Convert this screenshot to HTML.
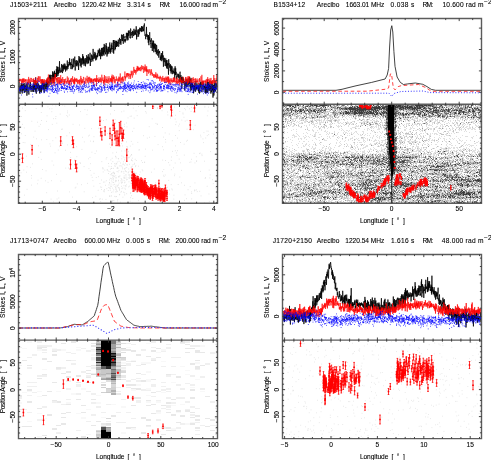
<!DOCTYPE html>
<html><head><meta charset="utf-8"><style>
html,body{margin:0;padding:0;background:#fff;width:491px;height:460px;overflow:hidden}
svg{display:block;will-change:transform}
text{font-family:"Liberation Sans",sans-serif;font-size:6.6px;fill:#000;stroke:#000;stroke-width:0.1px}
</style></head><body>
<svg width="491" height="460" viewBox="0 0 491 460">
<defs><clipPath id="c1"><rect x="18.5" y="18.5" width="199" height="85.8"/></clipPath><clipPath id="c2"><rect x="18.5" y="104.3" width="199" height="99"/></clipPath></defs><g clip-path="url(#c1)"><path d="M18.8 86l0.2-4 0.2 8.4 0.2 0.4 0.2-3.4 0.2 2.2 0.2 4.3 0.2-2.1 0.2-1.2 0.2 0 0.2-5 0.2 5.8 0.2-8.3 0.2 4.2 0.2-0.4 0.2-4.1 0.2 5.2 0.2 5.5 0.2-6.3 0.2-2.8 0.2 3.6 0.2 3 0.2-2.2 0.2-0.6 0.2-4.5 0.2 6.1 0.2-5.1 0.2 7.7 0.2 0.5 0.2-2.6 0.2-7.3 0.2 0.6 0.2 1.1 0.2 4.3 0.2-3.4 0.2 6.6 0.1-3.4 0.2 0.4 0.2 1.2 0.2-1.3 0.2-5.5 0.2 12.1 0.2-3.1 0.2 0.2 0.2-7.2 0.2-3.4 0.2 1 0.2 1.4 0.2 6.1 0.2 0.1 0.2 1.7 0.2 2.1 0.2-5.1 0.2-0.5 0.2-2.3 0.2 0.1 0.2-2.6 0.2 5.2 0.2-0.6 0.2-6.9 0.2 3.4 0.2 3.9 0.2 2.7 0.2-3.9 0.2 0.6 0.2-2.6 0.2 1 0.2-0.3 0.2 0.1 0.2-1 0.2 3.1 0.2 2.8 0.2-7 0.2 7.3 0.2-5.6 0.2 0.1 0.2-5.6 0.2-0.8 0.2 9.8 0.2-5.7 0.2 5.9 0.2-2.4 0.2 0.6 0.2 3.4 0.2-4.4 0.2-9.9 0.2 4.7 0.2 8.4 0.2 3.2 0.2-8.8 0.2 0.4 0.2-2.1 0.2 5.9 0.2-7.2 0.2 1.7 0.2 1.5 0.2 2.6 0.2-1.1 0.2 4.1 0.2-7.2 0.2 0.2 0.2 2.4 0.2 1.4 0.2-1.2 0.2 7.1 0.2-7.9 0.2 3.7 0.2-3.7 0.1 2.8 0.2-2.4 0.2 0.1 0.2 6.2 0.2-6 0.2 6.3 0.2-7.6 0.2 0.9 0.2 4.8 0.2-11 0.2 2.5 0.2 5.1 0.2 1.4 0.2 0.3 0.2-2.8 0.2-3.4 0.2 6.9 0.2-1.2 0.2-7 0.2 5.9 0.2 5.3 0.2-5.2 0.2-4 0.2 2.3 0.2 0.1 0.2 2 0.2 1.5 0.2-5.9 0.2 0.6 0.2 1.1 0.2 2.7 0.2 1.6 0.2-8.9 0.2 1.3 0.2 5.8 0.2-9 0.2 6.4 0.2-1.4 0.2-2.4 0.2 6.5 0.2-4.7 0.2-1.8 0.2 0.8 0.2 1 0.2-5.8 0.2 1.9 0.2-1.5 0.2-2.8 0.2 9.2 0.2 1.1 0.2-1 0.2-9.3 0.2 6.4 0.2 0.6 0.2-4.1 0.2 4 0.2-6.2 0.2-0.1 0.2 0.4 0.2 0.1 0.2-1.1 0.2 5.8 0.2-9.2 0.2 4.3 0.2-0.8 0.2 8.5 0.2-9.9 0.2 4 0.2 4 0.2-9.7 0.2 0.9 0.1 1.4 0.2-3.3 0.2 7.8 0.2-5.5 0.2 4.7 0.2-1.9 0.2-1.7 0.2 2.7 0.2-4.1 0.2 4.1 0.2-7.7 0.2 1.6 0.2 6 0.2-10.6 0.2 8 0.2-3 0.2-4.2 0.2 2.9 0.2 6.1 0.2-9.1 0.2 7.3 0.2-1.3 0.2-3.1 0.2 0.9 0.2 2.4 0.2-4.3 0.2-7.6 0.2 10.1 0.2-3.7 0.2 1.3 0.2 1.4 0.2 2.1 0.2 0.2 0.2-1.7 0.2-0.8 0.2 2.1 0.2-1.8 0.2-6.4 0.2 3.4 0.2-2.2 0.2 6.1 0.2 1.8 0.2-3.1 0.2-4.5 0.2 5.8 0.2-5.8 0.2 3.8 0.2-4.7 0.2-0.7 0.2-0.2 0.2 4.5 0.2-2.3 0.2 3.4 0.2-5.6 0.2 5.6 0.2-3.7 0.2 5.9 0.2-0.8 0.2-4.1 0.2 1 0.2 0.3 0.2 0.6 0.2-2.5 0.2 4.3 0.2-5.2 0.2-4.6 0.2 6.8 0.2-1.2 0.2 2.9 0.2-5 0.2 2.5 0.1-0.1 0.2-0.1 0.2-2.6 0.2-1.8 0.2 1.1 0.2 2.3 0.2-7 0.2 5.7 0.2-1.8 0.2 2.8 0.2-2.4 0.2 2.7 0.2-0.9 0.2 4.7 0.2-5.2 0.2 0.2 0.2 0.8 0.2-5.9 0.2-0.2 0.2 10.4 0.2-3 0.2-1.5 0.2 3.1 0.2-4 0.2-0.3 0.2-0.2 0.2-4.8 0.2 8.5 0.2-3.6 0.2 0.2 0.2-0.8 0.2-4.4 0.2-1.8 0.2 7.6 0.2 6.3 0.2-3.8 0.2-4.1 0.2-2.1 0.2 2.9 0.2 1 0.2-1.6 0.2 3 0.2-5.7 0.2 6.3 0.2-3 0.2-2.3 0.2 0.8 0.2 1.9 0.2 1.3 0.2-2.3 0.2 1.6 0.2 5.6 0.2-12.7 0.2-1.3 0.2 6.6 0.2-3.4 0.2 3.3 0.2-5.5 0.2 5.4 0.2 3.7 0.2-0.7 0.2-7 0.2 2.4 0.2 3.7 0.2 2.9 0.2-8.8 0.2 0.2 0.2 6.1 0.2-4.7 0.2-2.1 0.2 2.3 0.2-4.5 0.1-1.8 0.2 10 0.2-8.2 0.2 7.4 0.2-6.3 0.2 6.2 0.2-1 0.2 3.5 0.2-5.9 0.2-0.4 0.2 0.8 0.2 3.5 0.2-5.7 0.2 1.8 0.2 6.5 0.2-3.7 0.2-0.3 0.2-3.9 0.2 4.2 0.2-6.4 0.2-1 0.2 1.6 0.2 7.3 0.2-4 0.2-3.5 0.2 1.8 0.2 2.4 0.2 2.2 0.2-8.8 0.2 9.2 0.2-1.3 0.2-5.2 0.2 0.9 0.2 2.6 0.2-2.5 0.2 1.2 0.2-3.8 0.2-2.5 0.2 13.2 0.2-7.2 0.2 0.1 0.2 0.8 0.2 2.4 0.2-1.3 0.2-6.2 0.2 2.7 0.2 0.5 0.2 2.1 0.2-4.4 0.2 3 0.2-0.6 0.2 3.5 0.2-12.5 0.2 8.2 0.2 0.7 0.2 1 0.2-2.2 0.2-2.7 0.2 4.6 0.2-1.1 0.2-3.8 0.2-1.7 0.2 5.8 0.2-4.5 0.2 4.6 0.2 2.6 0.2-4.2 0.2 0 0.2-0.4 0.2 3.8 0.2-0.1 0.1-4.2 0.2 2 0.2-2.3 0.2-1.8 0.2 3.9 0.2-2.8 0.2-2.4 0.2-2.1 0.2 3.4 0.2-2 0.2-0.5 0.2 2.5 0.2 3 0.2-7.7 0.2 7.2 0.2-0.9 0.2-5.1 0.2 0.2 0.2 2.8 0.2 6.5 0.2-6.9 0.2 4 0.2-0.5 0.2-7.9 0.2 1 0.2 6.7 0.2-7.1 0.2 7.7 0.2-7.2 0.2-1.3 0.2 3 0.2 3.3 0.2-3.3 0.2 3.9 0.2-7.6 0.2 2.8 0.2 5.9 0.2-11.8 0.2 8.4 0.2-3.8 0.2 0.3 0.2-3.7 0.2 1.3 0.2 7.3 0.2-1.2 0.2 1.9 0.2-3.4 0.2-7.9 0.2 9.2 0.2-6.2 0.2 1.2 0.2 9.2 0.2-3.3 0.2-2 0.2 3.1 0.2-5.6 0.2 2.6 0.2-4.4 0.2 1.4 0.2 1.2 0.2 4.2 0.2-6.9 0.2 5.3 0.2-3.4 0.2-5.5 0.2-0.7 0.2 3.7 0.2 5.3 0.2-2.7 0.2 4.7 0.2-5.2 0.1 3.7 0.2-3.7 0.2-3.7 0.2 4.8 0.2-4.6 0.2-2.1 0.2 1.9 0.2 0.9 0.2 1.9 0.2 1.7 0.2-0.9 0.2 4.4 0.2-12.5 0.2 5.3 0.2 8.3 0.2-13.7 0.2 1.7 0.2 1.4 0.2-0.8 0.2 1.4 0.2 6.6 0.2-9.7 0.2 2 0.2 6.4 0.2-3.6 0.2-3 0.2-1.5 0.2 6.1 0.2-6.1 0.2 5.9 0.2-2.7 0.2-1.1 0.2-1.2 0.2 4.4 0.2-2 0.2-2.3 0.2 1.4 0.2-3.7 0.2 7 0.2 0.2 0.2-0.9 0.2-2.7 0.2 0.5 0.2-5.8 0.2 2.9 0.2 0.2 0.2 0.2 0.2 2.2 0.2-3.3 0.2-1.1 0.2 5.8 0.2-4.8 0.2-1.1 0.2-4.3 0.2 1.9 0.2 3.3 0.2 1.3 0.2-6.3 0.2 5.2 0.2 0.9 0.2-2.7 0.2 1.6 0.2 4 0.2-9.6 0.2-0.1 0.2 3.9 0.2-1.7 0.2 2.4 0.2 2.1 0.2 0.5 0.2-1.9 0.2 3.1 0.1-3.2 0.2 1.8 0.2-2.1 0.2-0.4 0.2-2.5 0.2 1.4 0.2-4.7 0.2 3.6 0.2 0.9 0.2 3.2 0.2-7.4 0.2 5.5 0.2-5.7 0.2 2.7 0.2 4.6 0.2-2.9 0.2-6.6 0.2 5.2 0.2-0.7 0.2-2.9 0.2-1.9 0.2 2.4 0.2-0.5 0.2 5.3 0.2-0.5 0.2 0 0.2 1.3 0.2-9.9 0.2 1.6 0.2 5.7 0.2-3.1 0.2 0 0.2-0.6 0.2 2.8 0.2-0.8 0.2 3.8 0.2-2.6 0.2-4.5 0.2 3 0.2-2.3 0.2 2.6 0.2 2 0.2-1.2 0.2-4.7 0.2-1.4 0.2 6.5 0.2-1.6 0.2 0.2 0.2-3.5 0.2 4.6 0.2-0.1 0.2-3 0.2 2.3 0.2-4.5 0.2 2.4 0.2-5.8 0.2 2.8 0.2 10.3 0.2-5.4 0.2 3 0.2-3.5 0.2-1.1 0.2-0.1 0.2-2 0.2 3.3 0.2-4.4 0.2 2.3 0.2 5.2 0.2-4 0.2-2.9 0.2 4.5 0.1-1.9 0.2-2.1 0.2-2.6 0.2 2.7 0.2-0.8 0.2 1.4 0.2-2.8 0.2 0.2 0.2-0.6 0.2 4.3 0.2-0.4 0.2-5.6 0.2 5.2 0.2-1.2 0.2 1.3 0.2-4.5 0.2 2.2 0.2 0.2 0.2-3 0.2 5.1 0.2-2.4 0.2 1.9 0.2-4.1 0.2-1.3 0.2 0.7 0.2-2.8 0.2 0.3 0.2 8.1 0.2 3.6 0.2-0.4 0.2 0.9 0.2 0.4 0.2 2.9 0.2-5.3 0.2 2.6 0.2-0.4 0.2-9.2 0.2 8.6 0.2 0.1 0.2 1.4 0.2-2.3 0.2-0.2 0.2 1.1 0.2 4.1 0.2-4.4 0.2 7.5 0.2-7.8 0.2 7.6 0.2 2.6 0.2-8.2 0.2 3.2 0.2-4.7 0.2-3.3 0.2 4.5 0.2 4.4 0.2 0.8 0.2-1.6 0.2 3.4 0.2-0.6 0.2 4.9 0.2-9.7 0.2 1.9 0.2 1.1 0.2 0.1 0.2 0.8 0.2 8.8 0.2-8 0.2 3.4 0.2-6 0.2 2.4 0.2 5 0.1 0.7 0.2-7.6 0.2 11.4 0.2-4.7 0.2-3.2 0.2 4 0.2-3 0.2-2.1 0.2 5.3 0.2-0.7 0.2 4 0.2-7.9 0.2 2.4 0.2 2.7 0.2 4.1 0.2 1.1 0.2-9.3 0.2 2.3 0.2 5.7 0.2-2.8 0.2 3.1 0.2 2.2 0.2-1 0.2-4.6 0.2-0.3 0.2-0.5 0.2 7.1 0.2 1.5 0.2-6.2 0.2 1.8 0.2-1 0.2-1.4 0.2 2.2 0.2 0.2 0.2 6.7 0.2-0.8 0.2-2.4 0.2 3.6 0.2-5 0.2 3.5 0.2-4 0.2-1.8 0.2 8.1 0.2-6.3 0.2 2.6 0.2-2 0.2-4.3 0.2 8.3 0.2 0.4 0.2-4.5 0.2 11.3 0.2-1.7 0.2-7 0.2 4.2 0.2-0.5 0.2-2.1 0.2-1.8 0.2 4.2 0.2-0.4 0.2 4.4 0.2-2.9 0.2-3.3 0.2-1.4 0.2 4.8 0.2 3.2 0.2-6.1 0.2 4.4 0.2 3.4 0.2-8 0.2 8.8 0.2-5.6 0.2 1.7 0.1-1.2 0.2 2.9 0.2 0.7 0.2 0.3 0.2 7 0.2-15.5 0.2 6.1 0.2-2.2 0.2 3.5 0.2-1.2 0.2 1.6 0.2 0.9 0.2-1.4 0.2 4.7 0.2-6.9 0.2 3.1 0.2 1.8 0.2 4.3 0.2-7.8 0.2 0.5 0.2 5.5 0.2-1.1 0.2-4.2 0.2 7.8 0.2-2.4 0.2-1.5 0.2 0.3 0.2 1.5 0.2-1.1 0.2 2.2 0.2 0.3 0.2-4 0.2-1.1 0.2 4.9 0.2-1.4 0.2 6.8 0.2-4.4 0.2-8 0.2 8.8 0.2-3.1 0.2-3.8 0.2 6.7 0.2-3.1 0.2 2.8 0.2 4.2 0.2-0.9 0.2-1.9 0.2 0.3 0.2 0.2 0.2-2 0.2-0.8 0.2 1.8 0.2 1.9 0.2-2.6 0.2-0.9 0.2 3.7 0.2-2.6 0.2 5.9 0.2 0.9 0.2-3 0.2-3 0.2-2.7 0.2-1.4 0.2 10.7 0.2-2.6 0.2-2.2 0.2-2.5 0.2 4 0.2 3.4 0.2-1.7 0.2-3.8 0.1 12.1 0.2-7.2 0.2-5.2 0.2 2.7 0.2 2.6 0.2 1.1 0.2-0.9 0.2-4.7 0.2 5 0.2-3.4 0.2 3 0.2-0.4 0.2 2.3 0.2-1.1 0.2-1.6 0.2 9.3 0.2-9 0.2 0 0.2 2.7 0.2 0.3 0.2 1.7 0.2-7.4 0.2 2.9 0.2 5.3 0.2-2.4 0.2 0.2 0.2-5.3 0.2 0 0.2 1.9 0.2 3.4 0.2 1.9 0.2 0.4 0.2-8.9 0.2 5.9 0.2 0.5 0.2-1.5 0.2 0.1 0.2-2.2 0.2 2.4 0.2-6.5 0.2 7.1 0.2 1.3 0.2 2.1 0.2-5.3 0.2-3 0.2 11.7 0.2-13 0.2 3.1 0.2 6.6 0.2 2.2 0.2-6.9 0.2 1.7 0.2-0.2 0.2 2.7 0.2-4.6 0.2 5 0.2 1 0.2-3.3 0.2 0.8 0.2 7.3 0.2-6.5 0.2-2.3 0.2 5 0.2 0.4 0.2-6.2 0.2-0.9 0.2 8.1 0.2-0.7 0.2 0.4 0.2 1.1 0.2-9.2 0.1-1.5 0.2 8.8 0.2-0.2 0.2-2.5 0.2 1.9 0.2-4.8 0.2-0.8 0.2 3 0.2 1.8 0.2 0.7 0.2-2.3 0.2 2.4 0.2 2 0.2-2.3 0.2-3.2 0.2 7.3 0.2-9.4 0.2 4.5 0.2 5.7 0.2-1.2 0.2 0.4 0.2-6.7 0.2-4.4 0.2 4.3 0.2 1.5 0.2-3.9 0.2 0.8 0.2-2.6 0.2 6.7 0.2-0.5 0.2 4.1 0.2-2.4 0.2 0.1 0.2-3.7 0.2-2.6 0.2-2.1 0.2 5.1 0.2-3.9 0.2 5.8 0.2 1.3 0.2-1.4 0.2 0.4 0.2-3 0.2 1.9 0.2-1.5 0.2 0.8 0.2 5.5 0.2-9 0.2 10.1 0.2-1 0.2-2.5 0.2-3.2 0.2 2 0.2-2.1 0.2 6.2 0.2-8.6 0.2 0.5 0.2 3.4 0.2-8.5 0.2 13.3 0.2-6 0.2 3.6 0.2-1.9 0.2-6.5 0.2 6.1 0.2 1.2 0.2-5.4 0.2-2.8 0.2 3.3 0.2 6.2 0.2-6.9 0.2 1.2 0.1 2.8 0.2 0.7 0.2-2.4 0.2 7.3 0.2 0.1 0.2-12.3 0.2 10.9 0.2-2.4 0.2 0.7 0.2 0.4 0.2-7.3 0.2 0.4 0.2 5.9 0.2-4.1 0.2 11.8 0.2-10.8 0.2 4.7 0.2-6.5 0.2 10.6 0.2-0.9 0.2-11.5 0.2 6.4 0.2-0.9 0.2 2.9 0.2-11.4 0.2 7 0.2 4.2 0.2-4.3 0.2-1.1 0.2-2.8 0.2 6.2 0.2-2 0.2-4.2 0.2 5.4 0.2-2.9 0.2 3.4" stroke="#000" stroke-width="0.75" fill="none"/><path d="M18.8 77.7l0.2 0.5 0.2 3.1 0.2-2.2 0.2 3.2 0.2-3.3 0.2 0.5 0.2 1.7 0.2-1.7 0.2-0.6 0.2 1.6 0.2 0.6 0.2-0.2 0.2-0.4 0.2 3.8 0.2-5.3 0.2 1.8 0.2 1.4 0.2-3.6 0.2 4.1 0.2-0.7 0.2-3.3 0.2 4.7 0.2-2.8 0.2-2.1 0.2 3.9 0.2-2.7 0.2-1.1 0.2 3.3 0.2 0 0.2-1.5 0.2-1.1 0.2 3.7 0.2-3.3 0.2 0.9 0.2-0.9 0.1 1.4 0.2-1.9 0.2 2 0.2-0.1 0.2 0.7 0.2 0.4 0.2 2.6 0.2-3.9 0.2 0 0.2-0.8 0.2-0.8 0.2 4.5 0.2-3.8 0.2-2.1 0.2-1 0.2 5.8 0.2-4 0.2 5.2 0.2-1.3 0.2-1.3 0.2-1.7 0.2 0.1 0.2 2.8 0.2-0.9 0.2-1.5 0.2-2.3 0.2 1.5 0.2-1.1 0.2 3.7 0.2-1.6 0.2 0 0.2 0.1 0.2-1.1 0.2 1.3 0.2 1.5 0.2-0.9 0.2 0.8 0.2-3.3 0.2 2.2 0.2-1.7 0.2-0.8 0.2 6.3 0.2-3 0.2 1.6 0.2-3.2 0.2 4.3 0.2 0.4 0.2-4.8 0.2 2.7 0.2-5.3 0.2 2.8 0.2 0.7 0.2 1.1 0.2 0.7 0.2-2.2 0.2 1.5 0.2-1.1 0.2 4.3 0.2-7.4 0.2 2.4 0.2 1.1 0.2 0 0.2-5.1 0.2 3 0.2 3 0.2-0.5 0.2-5.3 0.2 3.7 0.2 1.5 0.2-0.8 0.2-0.6 0.2-3.8 0.1 1.9 0.2 1.7 0.2 3.5 0.2-4 0.2 1.5 0.2-1.9 0.2 1.9 0.2 2.5 0.2-3 0.2 0.1 0.2 2.6 0.2-4.2 0.2 2 0.2-1.6 0.2 3.4 0.2-2.4 0.2 2.8 0.2 1.4 0.2-5.3 0.2 4.2 0.2 0.2 0.2-3.1 0.2-1.2 0.2 3.8 0.2-2.1 0.2-0.9 0.2 1.4 0.2-1 0.2 0.9 0.2 1.5 0.2-1 0.2-2.4 0.2 1.9 0.2-2.4 0.2-0.7 0.2 0.4 0.2 3.9 0.2-5.4 0.2 6.1 0.2 2.4 0.2-1.2 0.2-10.1 0.2 7.8 0.2-0.9 0.2 1.3 0.2 1.1 0.2-2.2 0.2-3.8 0.2 1.9 0.2 1.6 0.2 0.2 0.2 1 0.2-1.2 0.2-0.2 0.2-2 0.2 0.8 0.2 3 0.2-1 0.2 3.4 0.2-6.2 0.2-1.9 0.2 3.2 0.2 3.1 0.2-4 0.2-0.5 0.2 3.4 0.2-1.1 0.2 0.2 0.2-4.3 0.2 1 0.2 7.7 0.1-6.3 0.2 3.7 0.2-5.7 0.2 2.2 0.2-5.7 0.2 4.1 0.2-4.1 0.2 5.2 0.2 1.4 0.2 1.1 0.2 0 0.2-3.7 0.2 2.2 0.2-2.8 0.2 6.8 0.2-1.9 0.2-1.8 0.2-3.4 0.2 6 0.2-3.8 0.2-1.1 0.2-1.1 0.2 7.1 0.2-1.2 0.2-3.2 0.2 2.8 0.2-5.5 0.2 6.6 0.2-2.4 0.2 3.2 0.2-2.5 0.2-2.6 0.2-4.4 0.2 8.2 0.2-4.7 0.2 4.2 0.2 0.4 0.2-4.2 0.2 3.3 0.2 1 0.2-1.9 0.2-1.9 0.2-2.5 0.2 5.1 0.2-1.8 0.2-1.2 0.2 0.5 0.2 0.8 0.2 5.3 0.2-4.9 0.2 2.4 0.2-4.1 0.2 5.1 0.2-3.2 0.2 0.8 0.2-2.1 0.2 0.2 0.2-1.3 0.2 4 0.2 0.6 0.2-0.7 0.2-1.5 0.2 0.4 0.2 2.2 0.2-2.7 0.2-4.5 0.2 5 0.2-1.2 0.2 2.4 0.2-2 0.2-2.1 0.1-0.5 0.2-0.3 0.2 6.3 0.2-3.1 0.2 2.7 0.2 0.3 0.2-3.6 0.2 5.6 0.2-5.3 0.2 1.2 0.2-2.4 0.2 2.4 0.2-1.7 0.2-1.9 0.2 6.5 0.2-2.4 0.2-4 0.2-0.4 0.2 0.9 0.2 3.3 0.2-2.3 0.2-3.6 0.2 3.2 0.2 2.1 0.2-2 0.2 3.4 0.2 0.6 0.2-4 0.2 4.1 0.2-4.3 0.2 5.2 0.2-7 0.2 6.4 0.2-5.2 0.2 0.5 0.2 1.5 0.2 0.5 0.2-2.4 0.2 3.1 0.2-3.4 0.2 0 0.2 2.4 0.2 1.2 0.2-3.4 0.2 2.7 0.2 2.2 0.2-2.6 0.2-1.3 0.2 3.5 0.2 1 0.2-3.9 0.2 1 0.2-1.2 0.2 1.9 0.2 1.1 0.2-3.8 0.2 5.3 0.2-3.7 0.2-0.6 0.2 1.5 0.2-0.7 0.2 0 0.2-5.2 0.2 9 0.2-7 0.2 3 0.2 2.2 0.2-2.7 0.2-0.1 0.2 3.2 0.2-4.3 0.2 1.5 0.1 2 0.2-1.5 0.2 0.7 0.2-3.5 0.2-1.5 0.2 5.5 0.2-0.1 0.2 1.2 0.2 1 0.2-3.5 0.2 0.6 0.2 1.5 0.2-5.5 0.2 0.4 0.2 1.9 0.2 1.5 0.2 2.5 0.2-3.3 0.2-1.3 0.2-0.5 0.2-0.2 0.2 2.1 0.2-4.9 0.2 6.8 0.2-1.8 0.2-0.7 0.2 0.5 0.2-2.7 0.2 5.5 0.2-5.8 0.2-0.7 0.2 1.8 0.2-0.9 0.2 3.4 0.2 0.4 0.2-4.8 0.2 3.7 0.2 1.6 0.2-2.6 0.2-1 0.2 4.7 0.2-4.8 0.2 2.4 0.2 1.3 0.2-3.6 0.2 3.3 0.2-2.9 0.2 2.5 0.2-0.9 0.2 2.6 0.2-0.5 0.2 0.1 0.2-4 0.2 2.3 0.2-1.8 0.2 6.1 0.2-5.2 0.2 0.3 0.2-1.6 0.2 1.5 0.2-1.9 0.2 2.9 0.2 0.5 0.2-3.4 0.2 0.4 0.2 3.1 0.2-2.4 0.2 1.9 0.2-3.1 0.2 7.9 0.2-11.1 0.1 5.6 0.2 0.3 0.2 1 0.2-3.8 0.2 1.7 0.2 0.5 0.2-0.9 0.2 2.2 0.2-1.9 0.2 3.2 0.2-3.8 0.2-1.8 0.2 4.8 0.2-2.1 0.2-1.2 0.2 2.7 0.2-0.9 0.2 0.9 0.2-4.1 0.2 3.7 0.2 1.1 0.2-1.4 0.2-2.4 0.2 4 0.2-0.1 0.2-7.7 0.2 3 0.2 1.3 0.2 1.9 0.2-1.6 0.2-0.2 0.2-1.7 0.2 3.7 0.2 2.2 0.2-3.2 0.2 3.3 0.2-3.9 0.2 5.9 0.2-10.4 0.2 6.7 0.2-2.3 0.2 2.3 0.2-5.5 0.2 3.6 0.2 2.9 0.2-0.5 0.2-0.1 0.2 0 0.2-3.2 0.2 1.6 0.2 2.5 0.2-6.6 0.2 6.8 0.2-0.1 0.2-3.3 0.2 0.8 0.2 0.5 0.2-2.1 0.2-0.6 0.2 1.6 0.2 3.6 0.2-7.4 0.2 5.4 0.2 0.6 0.2-1.5 0.2-0.4 0.2-1.9 0.2-0.5 0.2 0.9 0.2 2.6 0.2-3.1 0.1 3.6 0.2-3.2 0.2 2 0.2 1.4 0.2-5.9 0.2 5.3 0.2-6.9 0.2 4.3 0.2 2.2 0.2 2.4 0.2-6.5 0.2 4.5 0.2-6.2 0.2 3.7 0.2-1.3 0.2 1.3 0.2 0 0.2-2.3 0.2 5.9 0.2-1.4 0.2-2.2 0.2 4.5 0.2-1.5 0.2-1.1 0.2 0.1 0.2-2 0.2 1.7 0.2-4.3 0.2 4 0.2-0.1 0.2 0.4 0.2-1.4 0.2-0.5 0.2-0.1 0.2 7.2 0.2-3.5 0.2-0.7 0.2-3.2 0.2 2.6 0.2-1.6 0.2-2.9 0.2 5.2 0.2-4.5 0.2 1 0.2 2.5 0.2-1.2 0.2-6.1 0.2 0 0.2 2 0.2 7.8 0.2-4.5 0.2-0.6 0.2 2.2 0.2-1 0.2-2 0.2 5.2 0.2 0.7 0.2-3.4 0.2-3.1 0.2 3.6 0.2-3.9 0.2 3.9 0.2 1.3 0.2-2.2 0.2 0.9 0.2-0.9 0.2-2.8 0.2 0 0.2-0.4 0.2 1 0.2-5.8 0.2 6.4 0.1 2.9 0.2-3.9 0.2 1.7 0.2-2.1 0.2-0.5 0.2 1.3 0.2-2.7 0.2-1 0.2 2.3 0.2-2.9 0.2 4.3 0.2-1.6 0.2-2.7 0.2 1.7 0.2-1 0.2 1.2 0.2 1.2 0.2-2.7 0.2 2.7 0.2 2.8 0.2-3.7 0.2-0.3 0.2-1.2 0.2 1.9 0.2 1.2 0.2-1.2 0.2-1.6 0.2 4.9 0.2-2.8 0.2-1.8 0.2-3.6 0.2 4.6 0.2-1.3 0.2-2.5 0.2 2.6 0.2 1 0.2 2.5 0.2-1.1 0.2-5.7 0.2 2.2 0.2 2.2 0.2-1 0.2-2.6 0.2-4.7 0.2 4.6 0.2-0.6 0.2-1.3 0.2 3.4 0.2-3.3 0.2 0.3 0.2 1.1 0.2-1 0.2 2.8 0.2 1.6 0.2-4.3 0.2 2.5 0.2-4.4 0.2-0.1 0.2 0.1 0.2 2.9 0.2-5.3 0.2 3.3 0.2 2.2 0.2-4.8 0.2 2.8 0.2-2.7 0.2 3.4 0.2-2 0.2 2.8 0.2-3 0.2 1.9 0.1-2.1 0.2 1.4 0.2-1.3 0.2 3.2 0.2-0.4 0.2-3.7 0.2 0.1 0.2 2.2 0.2 2.1 0.2-1.9 0.2-3.5 0.2-0.6 0.2 4.4 0.2 0.1 0.2-2.4 0.2 0.6 0.2 1.1 0.2-3.3 0.2 1 0.2-0.3 0.2 4.1 0.2 1.8 0.2 0.6 0.2-6.5 0.2 3.5 0.2-2.6 0.2 0 0.2 4.2 0.2-1.7 0.2-5.4 0.2 3.9 0.2 0.2 0.2 2.1 0.2-4.3 0.2 5.3 0.2-3.3 0.2 3 0.2-5.1 0.2 9.7 0.2-5.3 0.2-0.8 0.2-0.2 0.2 2.2 0.2-2.6 0.2 0.9 0.2 0.9 0.2 2.5 0.2-3.9 0.2 0.1 0.2-0.5 0.2 0.2 0.2 0 0.2 2.5 0.2 0.7 0.2-3.3 0.2 5.9 0.2-1.2 0.2-1.9 0.2-0.6 0.2 0.7 0.2-0.3 0.2-2.7 0.2 4.9 0.2-1.9 0.2 2.4 0.2 1.2 0.2-2.6 0.2 0.8 0.2 1.2 0.2-1.1 0.2 0.1 0.1 0.2 0.2 2.8 0.2-2 0.2-1 0.2 3.6 0.2-3.4 0.2 1.3 0.2 0.4 0.2 0.5 0.2 0.7 0.2-2.7 0.2 2.6 0.2-5.1 0.2 5.2 0.2-1.7 0.2 0.4 0.2 2.4 0.2 0.2 0.2-5.1 0.2 2.9 0.2 1.8 0.2-3.8 0.2 0.8 0.2 0.4 0.2 2.6 0.2 0 0.2-1.4 0.2 1.1 0.2 0.8 0.2-0.2 0.2-1.8 0.2 4.3 0.2-0.6 0.2-0.5 0.2-4.2 0.2 2.8 0.2-1.8 0.2 0.5 0.2-0.2 0.2 3.6 0.2 0.9 0.2 0.2 0.2-4.3 0.2 3 0.2 0.2 0.2-1.8 0.2 0.2 0.2-3.2 0.2 5.7 0.2-3.3 0.2 0.7 0.2-0.6 0.2 0.1 0.2 2.8 0.2-0.3 0.2-3.2 0.2 5.2 0.2-3.2 0.2-0.9 0.2-1.3 0.2 4 0.2 0 0.2 0.7 0.2-5.8 0.2 3.6 0.2-2.1 0.2 4.3 0.2 0.8 0.2-4.4 0.2-1.9 0.2 3.5 0.2 1.8 0.1-2.3 0.2-3.2 0.2 5.4 0.2-5.5 0.2 7.1 0.2 0.6 0.2-6.7 0.2 5.3 0.2-3.3 0.2 1 0.2 2.2 0.2-2.3 0.2 0.6 0.2-2.6 0.2 5.2 0.2 0.8 0.2 0.6 0.2-2.3 0.2-2.9 0.2 2 0.2-3.5 0.2 0.3 0.2 1.7 0.2 0.9 0.2-0.4 0.2 2 0.2-2.8 0.2 1.6 0.2-3.8 0.2 4.3 0.2-2.5 0.2-2.5 0.2 4.7 0.2-1 0.2-2.7 0.2 4.3 0.2-4.5 0.2 2.3 0.2 0.7 0.2 0.8 0.2-0.8 0.2 0.7 0.2 2.6 0.2-4.9 0.2 3.6 0.2-4.3 0.2 1.2 0.2-0.9 0.2-1.4 0.2 6.5 0.2-2.8 0.2 1.3 0.2-2.8 0.2 1.2 0.2 2.4 0.2-1.9 0.2-2 0.2-0.1 0.2 1 0.2 5 0.2-0.9 0.2-5.7 0.2 2.2 0.2 0.6 0.2 0.3 0.2-4.8 0.2 4.5 0.2 0.6 0.2-2.4 0.2 2.2 0.2 1.9 0.1-3.1 0.2 1 0.2 1.4 0.2-2.4 0.2 0.1 0.2 1 0.2-3.7 0.2-1.3 0.2 5.2 0.2-1 0.2 0.3 0.2-0.4 0.2 2.8 0.2-0.7 0.2-1 0.2 1.4 0.2-3.6 0.2-1.3 0.2 4 0.2-5.4 0.2 2 0.2-2.2 0.2 3 0.2 2.2 0.2-1.9 0.2-1.6 0.2 1.4 0.2-0.7 0.2 4.8 0.2-1.3 0.2-6.4 0.2 6.8 0.2-1.1 0.2-0.2 0.2-5.6 0.2 6.7 0.2-1.4 0.2-1.2 0.2 0.4 0.2-4.5 0.2 1.7 0.2 1.4 0.2 2.6 0.2-1.2 0.2 3.4 0.2-3.5 0.2-1.4 0.2 3.3 0.2-1.2 0.2-1.1 0.2-0.3 0.2 0.8 0.2-2.8 0.2 5.9 0.2-1.7 0.2-1.7 0.2 0 0.2-3.3 0.2 6 0.2-1.3 0.2-2.9 0.2 1.1 0.2-1.5 0.2 3.5 0.2-0.9 0.2 4.5 0.2-4.7 0.2-0.7 0.2 0.3 0.2-2.4 0.2 3.4 0.1-2.3 0.2 1 0.2 2.4 0.2-1 0.2-0.9 0.2 1.3 0.2-3.6 0.2 1.5 0.2 2.5 0.2-2 0.2 1.6 0.2 0.4 0.2 1.5 0.2-0.6 0.2 0.9 0.2-1.7 0.2-3.8 0.2 3 0.2-3.8 0.2 1.7 0.2 1.2 0.2 0.6 0.2-0.4 0.2-0.4 0.2-1.6 0.2-2.8 0.2 2.1 0.2 2.8 0.2 2.6 0.2-2.4 0.2-6.6 0.2 5.6 0.2 4.5 0.2-2.8 0.2-1.2 0.2 1.2 0.2-2 0.2 5.7 0.2-4.5 0.2 1.9 0.2 0.8 0.2-2.7 0.2 0.8 0.2-0.7 0.2-0.5 0.2-0.7 0.2 2.7 0.2 0.1 0.2-2 0.2 1.7 0.2-3 0.2 2.7 0.2-0.7 0.2 3.8 0.2-6.6 0.2 1.5 0.2 0.9 0.2-1 0.2 1.7 0.2-4.9 0.2 4.3 0.2 0.8 0.2-3.3 0.2 1.1 0.2 0.6 0.2-0.1 0.2-0.6 0.2 0.8 0.2 4.3 0.2-2.3 0.2-4.3 0.2 6 0.1-4.2 0.2 3.5 0.2-2.6 0.2-0.6 0.2-2.6 0.2 2.2 0.2 1.9 0.2 2.2 0.2-2.3 0.2 1 0.2-2.5 0.2 3.4 0.2-3.5 0.2 3.8 0.2-3 0.2-0.6 0.2 2.6 0.2-5.1 0.2-3 0.2 6.4 0.2-3.3 0.2 5.3 0.2-1.5 0.2 0.7 0.2-0.8 0.2 0.7 0.2-0.5 0.2-1.2 0.2 1 0.2-0.5 0.2-3.3 0.2 5 0.2 0.6 0.2-8.7 0.2 5.3 0.2 0.9" stroke="#f00" stroke-width="0.55" fill="none"/><path d="M18.7 88.1h0.8M217.2 86.9h0.8M57.3 86.6h0.8M156.3 89.8h0.8M152.2 87.6h0.8M123.4 86.3h0.8M119.2 84.2h0.8M64.5 87.6h0.8M90.5 89.8h0.8M135.8 87.2h0.8M141.5 85h0.8M104.2 86.9h0.8M151.3 89.8h0.8M178.1 84.4h0.8M57.6 86.4h0.8M22.4 88.6h0.8M166.7 85.5h0.8M203 90.1h0.8M124.9 88.4h0.8M94.7 89.6h0.8M196.6 87.1h0.8M116.6 89.4h0.8M107.2 86.7h0.8M206.4 88.2h0.8M33.1 84.7h0.8M147.3 85.3h0.8M41.2 87.2h0.8M153.8 90.2h0.8M24.4 89h0.8M93.5 88.2h0.8M99.4 86.1h0.8M91 89.7h0.8M153.3 82.8h0.8M181.3 87.9h0.8M32.4 96.9h0.8M52 88.7h0.8M52.7 89.7h0.8M207.8 88.7h0.8M124.9 85.2h0.8M199.7 88.9h0.8M187.1 88.7h0.8M114.3 86.5h0.8M171.1 86.5h0.8M115.7 86.9h0.8M184.9 87.2h0.8M98.9 91.9h0.8M156.8 90.9h0.8M197.1 86.7h0.8M51.7 86.2h0.8M100.8 83.3h0.8M205.6 90h0.8M205.4 86h0.8M103.3 85.7h0.8M156.2 88.2h0.8M44 92.4h0.8M180 89.2h0.8M191.8 85.3h0.8M82 86.1h0.8M174.7 86.6h0.8M68.3 84.7h0.8M207.3 89.9h0.8M154.1 82.9h0.8M103.6 87.1h0.8M37.5 84.7h0.8M42.1 86.3h0.8M130.3 85.3h0.8M167.5 91.7h0.8M120.9 82.2h0.8M111.1 87h0.8M145.3 86.6h0.8M130.2 87h0.8M152.2 80.7h0.8M184.1 87.9h0.8M64 88.3h0.8M169 88.5h0.8M207.4 86.6h0.8M88 87.2h0.8M137.6 86h0.8M152.4 86.4h0.8M155.9 86.3h0.8M101.7 89.1h0.8M91.4 90.4h0.8M125.4 90.6h0.8M202.5 87.2h0.8M124.6 85.7h0.8M78.8 90.1h0.8M185.6 85.6h0.8M38.3 89.4h0.8M85.6 91.8h0.8M193.4 85.4h0.8M208.2 85.3h0.8M30.4 89.2h0.8M146.4 83.7h0.8M54.9 90.3h0.8M51.6 85.4h0.8M39.9 93.2h0.8M52.1 90.6h0.8M85.4 85.4h0.8M57.1 84.4h0.8M141.1 91.4h0.8M47.8 84.7h0.8M66.3 86.2h0.8M33.6 83.7h0.8M110.2 87.7h0.8M58.1 90.9h0.8M79.5 87.6h0.8M213.7 88.4h0.8M106.7 84.9h0.8M35.4 85.5h0.8M169.6 85.7h0.8M120.4 84.3h0.8M142.7 87.9h0.8M24.3 92.5h0.8M135.7 84.6h0.8M215.8 85.7h0.8M142.8 81.9h0.8M64.2 86.3h0.8M94.5 84.3h0.8M159 84.6h0.8M117.9 88.4h0.8M216.1 87h0.8M103.6 88h0.8M171.5 91.1h0.8M143 86.8h0.8M69.7 81.2h0.8M44.1 83.9h0.8M88.7 86h0.8M23.2 85.8h0.8M96.7 83.5h0.8M187.9 89.5h0.8M166.5 87.3h0.8M65.7 89.7h0.8M178.8 88.2h0.8M49 85.5h0.8M71.9 88.8h0.8M204.4 92.5h0.8M40.5 88.6h0.8M93.7 86h0.8M166.1 87.9h0.8M142.5 89h0.8M203.4 87.2h0.8M46.1 90.6h0.8M101.4 88.8h0.8M157.4 87.3h0.8M114.7 85.8h0.8M61.3 86.9h0.8M150.8 84.6h0.8M121.3 87.3h0.8M78.4 86.9h0.8M99.9 86.5h0.8M163.7 86.4h0.8M152.8 81.4h0.8M88.5 84.9h0.8M104.8 86h0.8M112.2 86.2h0.8M172.9 84.4h0.8M112 84.9h0.8M208.6 92.1h0.8M93.1 85.5h0.8M165.8 82.2h0.8M98.5 87.9h0.8M203.4 91.7h0.8M83 84.6h0.8M124.4 88.2h0.8M39.8 85.8h0.8M125.5 87.5h0.8M30.6 86.6h0.8M56.5 92.8h0.8M190.8 85h0.8M205.7 88.6h0.8M52.9 89.5h0.8M20.6 86.3h0.8M117.3 89.9h0.8M54.5 92.4h0.8M207.6 83.8h0.8M20.2 86h0.8M43 84.1h0.8M122.2 91.3h0.8M158.8 85.5h0.8M75.7 87.3h0.8M154.4 88h0.8M48.7 86h0.8M137.9 84.7h0.8M126.9 85.6h0.8M182.8 84.5h0.8M46.1 83.5h0.8M51.4 85.4h0.8M119.1 88.5h0.8M146.7 79.5h0.8M142.7 85.6h0.8M190.9 83.6h0.8M94 86.5h0.8M197.2 85.4h0.8M139 84.8h0.8M198.2 86h0.8M215.8 88.9h0.8M99.3 85.8h0.8M111.8 87.1h0.8M204.3 84.3h0.8M167.9 87.6h0.8M179.7 86h0.8M94.4 88.7h0.8M157.3 84.7h0.8M91.4 89h0.8M61.6 86.7h0.8M71.9 88.2h0.8M155.2 85.5h0.8M188 85.8h0.8M147 84.9h0.8M68.5 84.4h0.8M124 84.3h0.8M54.2 91.9h0.8M132.9 89.2h0.8M104 89.1h0.8M40.9 86.9h0.8M164.3 82.6h0.8M51.2 83.2h0.8M18.5 89.5h0.8M39.3 91.2h0.8M123.5 86.7h0.8M39.4 88.2h0.8M36.8 90.1h0.8M199.3 86.3h0.8M160.3 86.1h0.8M61.4 88.1h0.8M125.4 91h0.8M185.8 87.5h0.8M174.3 85.1h0.8M39.5 89h0.8M177.9 89.3h0.8M197.3 86.4h0.8M22.9 88.3h0.8M179.5 85.7h0.8M76 85.7h0.8M36 87.8h0.8M91.8 85.1h0.8M131 86.9h0.8M128.1 86.7h0.8M105.8 87.7h0.8M175.8 84h0.8M110.8 82.5h0.8M215.7 86.5h0.8M205.4 86.6h0.8M160 87.9h0.8M203.7 89.8h0.8M35.1 79.1h0.8M109.1 84.7h0.8M188.1 83.7h0.8M136.2 86.8h0.8M205.8 92.1h0.8M83.8 83.9h0.8M55.2 89.6h0.8M188.2 90.6h0.8M117.3 90.7h0.8M149.6 82.7h0.8M150.5 82.9h0.8M108.9 86.9h0.8M151.4 89.5h0.8M159.5 83.8h0.8M115.3 85.2h0.8M20.8 91.4h0.8M103.5 87.9h0.8M141.7 85.5h0.8M66.3 86.5h0.8M94.6 89.4h0.8M178.9 88.6h0.8M159.8 89h0.8M127.3 84.1h0.8M149.3 83.3h0.8M156.2 87.6h0.8M57.6 89.2h0.8M76.9 85.1h0.8M186.5 86h0.8M19.4 88.4h0.8M145.1 87.2h0.8M178.6 87.5h0.8M187.7 90.6h0.8M214.5 88.2h0.8M92.4 87.5h0.8M18.8 89.1h0.8M67.1 86.5h0.8M52.3 88.7h0.8M132.6 86.3h0.8M46.9 89.9h0.8M171.5 87h0.8M35.5 92.3h0.8M200 90.3h0.8M111.3 86.9h0.8M188.8 89.1h0.8M45.9 87.5h0.8M105 92.4h0.8M210.9 85.8h0.8M103.9 87.7h0.8M24.6 85h0.8M82.6 85.4h0.8M24.6 88h0.8M55 89.5h0.8M28.3 87.4h0.8M56.9 87.8h0.8M126.8 86.9h0.8M123.1 89.6h0.8M169.4 84.3h0.8M74.2 89.6h0.8M185.5 88.1h0.8M64.1 92.3h0.8M149.2 86.9h0.8M104 90.4h0.8M143.6 85.6h0.8M191.6 83.7h0.8M67.1 91.8h0.8M21.1 86.4h0.8M200.5 90.9h0.8M176.7 91.4h0.8M141.8 87.7h0.8M127.2 89.3h0.8M57.4 86.2h0.8M46.9 86.8h0.8M22.7 91.9h0.8M214.9 89.3h0.8M61.4 88.3h0.8M184.4 83.3h0.8M197.1 88.1h0.8M29.2 88.6h0.8M186.2 86.7h0.8M118.8 87.1h0.8M163.4 87.5h0.8M103.1 85.5h0.8M191.8 88.6h0.8M22 87.3h0.8M32 86.1h0.8M116.8 85h0.8M197.1 94.1h0.8M172.7 89.4h0.8M91.6 86.1h0.8M78.1 88.8h0.8M55.9 90.3h0.8M201.9 89h0.8M193.4 87.2h0.8M210.1 87.6h0.8M191.9 90.1h0.8M50.2 89h0.8M32.3 86.9h0.8M149.3 84.6h0.8M146.5 85.3h0.8M128.1 86.9h0.8M90.9 85.5h0.8M184.5 86.7h0.8M210.3 84.9h0.8M130 90.8h0.8M113.9 85.9h0.8M37.3 91.2h0.8M170.4 89.1h0.8M201.5 88.8h0.8M91.8 90h0.8M170.6 84h0.8M207.5 86.9h0.8M160.1 86.8h0.8M104.5 87.8h0.8M54.7 86.3h0.8M191.1 88.3h0.8M89.8 88.7h0.8M82.2 89h0.8M71.8 90h0.8M131.9 85.5h0.8M161.3 88h0.8M176.1 84.8h0.8M156.4 86.6h0.8M107.5 85.7h0.8M127.8 83.3h0.8M167.9 88.6h0.8M209.1 85h0.8M195.4 87.2h0.8M28.7 87.5h0.8M203 91h0.8M81.7 92.5h0.8M23.1 87.6h0.8M80.3 85.8h0.8M35.6 87.3h0.8M161 90.8h0.8M129.2 88.5h0.8M24 89.8h0.8M38.1 86.9h0.8M166 85.8h0.8M187.2 85.8h0.8M66.5 88.9h0.8M183.2 88.6h0.8M84 86.9h0.8M37.5 80.8h0.8M66.4 88.1h0.8M113.1 89.4h0.8M70.9 86h0.8M69.3 86.4h0.8M142.5 86.7h0.8M65.9 88.6h0.8M67 86.9h0.8M110.2 87.4h0.8M192.6 86.2h0.8M20.7 88.4h0.8M172.5 88.3h0.8M213.5 87.7h0.8M89 90.9h0.8M24.7 89.9h0.8M207.2 90.1h0.8M150 89.7h0.8M71.3 91.2h0.8M26.5 84.7h0.8M150.4 88.4h0.8M84 82.1h0.8M210.3 84.7h0.8M69 87.8h0.8M43.2 89.1h0.8M38.7 85.8h0.8M216.5 87.5h0.8M64 85.6h0.8M52.8 87.2h0.8M137.2 87h0.8M140.7 88.6h0.8M199.2 91.1h0.8M191.4 87.9h0.8M80.4 86.3h0.8M133.5 88.4h0.8M193.3 89.7h0.8M51.5 86.5h0.8M99.7 89.6h0.8M180.2 88.1h0.8M110.2 89.6h0.8M40.7 89.3h0.8M123.9 83.3h0.8M27.8 90.5h0.8M28 88.7h0.8M214.6 91.5h0.8M167.1 87h0.8M167.4 84.7h0.8M178.4 88.8h0.8M169.9 89.2h0.8M145.7 86.2h0.8M127.2 82.9h0.8M136.7 86.2h0.8M57.8 85h0.8M168.3 86.4h0.8M164.6 87.7h0.8M57.2 85.6h0.8M97.8 88.5h0.8M19.8 88.7h0.8M25 87.4h0.8M37.4 84.9h0.8M193.5 91.1h0.8M129.7 84.4h0.8M171.5 85.9h0.8M53.1 92.2h0.8M100.8 86.4h0.8M217.4 92.6h0.8M180.3 88.8h0.8M195.1 88.1h0.8M116.2 92.7h0.8M114.1 89.8h0.8M147.7 86.7h0.8M78.8 86.8h0.8M114.9 86.6h0.8M170.4 88.1h0.8M82.6 87.8h0.8M66.5 88.5h0.8M30.9 89.3h0.8M124.5 85h0.8M93.2 82.7h0.8M215.4 88.8h0.8M144 86.3h0.8M48.5 96.2h0.8M86.8 91.9h0.8M171 87.2h0.8M61.2 85h0.8M132.5 86.8h0.8M117.2 82.6h0.8M47 88.7h0.8M79.3 85h0.8M81.1 90.2h0.8M138.2 86.7h0.8M147.9 90.9h0.8M144.1 85.1h0.8M217.2 84.6h0.8M97.1 88.1h0.8M61.7 88.3h0.8M193.4 87.5h0.8M80.2 91.3h0.8M78.6 92.1h0.8M163.3 88.2h0.8M98.1 82.4h0.8M61.1 86.1h0.8M101.7 87.1h0.8M92.4 90.3h0.8M189.7 86.3h0.8M181 84.5h0.8M103.5 84.2h0.8M68.2 87h0.8M36.8 86.7h0.8M124.1 87.6h0.8M31 89.2h0.8M42 87.8h0.8M57.1 83.8h0.8M192.1 87.3h0.8M47.1 89.7h0.8M56.6 85.3h0.8M80.2 92.1h0.8M126.4 87.9h0.8M138.6 89h0.8M49.9 87h0.8M92.5 88.3h0.8M157.2 85.2h0.8M176.9 84.7h0.8M19 90.8h0.8M78.8 88.8h0.8M208.2 90.8h0.8M30 88h0.8M118.1 89.1h0.8M160.3 82.2h0.8M131.4 85.5h0.8M138 85.8h0.8M48.3 88.4h0.8M180.3 89.4h0.8M191.5 85.2h0.8M109.4 87h0.8M51.7 87.5h0.8M71.9 91.1h0.8M110.2 88.4h0.8M161 89.9h0.8M123.9 83.3h0.8M204.5 89h0.8M215.2 85.2h0.8M105.3 89.8h0.8M60.9 87.9h0.8M161.1 84.5h0.8M125.3 86.4h0.8M140.9 87h0.8M57.8 87.6h0.8M200.6 90.7h0.8M180.4 89.8h0.8M197 86.1h0.8M207 85.7h0.8M207.8 86.9h0.8M107.9 90.8h0.8M96.9 93.6h0.8M177.3 84.9h0.8M138.5 87.4h0.8M162.7 90.1h0.8M86.4 86.2h0.8M47.2 88.1h0.8M200.1 88.8h0.8M26.5 88.1h0.8M149.9 87.6h0.8M66.3 88.6h0.8M206.3 93.6h0.8M43.5 92.8h0.8M172.2 84.3h0.8M145.4 86.3h0.8M28.9 90.1h0.8M101.9 90.3h0.8M199.3 86h0.8M130.5 89.7h0.8M190.2 91.8h0.8M20.6 87.9h0.8M174 90.7h0.8M177.4 90.3h0.8M56.8 91.8h0.8M38.2 87h0.8M173.1 89.7h0.8M75.9 86.2h0.8M23.4 88.2h0.8M59 89.2h0.8M215.6 88.8h0.8M188.8 85.8h0.8M163 88.6h0.8M49.6 93.3h0.8M163.6 86.5h0.8M215.8 87h0.8M51.5 91.2h0.8M160 86.3h0.8M63.3 88.1h0.8M37.2 84.1h0.8M215.3 83.4h0.8M213.2 92.5h0.8M19.3 91.1h0.8M35.5 86.4h0.8M185.8 85.2h0.8M21.2 95h0.8M35.4 86.5h0.8M25.9 82.9h0.8M38.4 82.1h0.8M52.6 88.9h0.8M200.3 87.3h0.8M57.4 93.7h0.8M129.1 89.9h0.8M97.1 89.7h0.8M66.8 85.4h0.8M172.3 87.4h0.8M95.7 89.9h0.8M129.4 90.4h0.8M215.4 89.5h0.8M130.1 87.3h0.8M151.5 85.7h0.8M193.4 89.9h0.8M197.2 85.8h0.8M180.3 91h0.8M214.8 88.3h0.8M101.4 87.6h0.8M120.2 85.9h0.8M99.3 88.3h0.8M192.1 89.8h0.8M119.4 87.3h0.8M96.2 88.9h0.8M73 88.5h0.8M134.8 85.7h0.8M148.1 79.9h0.8M184.5 89.8h0.8M170 84.3h0.8M58.8 88.4h0.8M45.6 89.4h0.8M210.4 86.7h0.8M40.4 87.7h0.8M47 88.6h0.8M138.1 84.1h0.8M34 89.1h0.8M135.7 87.7h0.8M42.5 85.4h0.8M158.6 89.9h0.8M195.3 84.1h0.8M159.5 87.6h0.8M166.8 85.1h0.8M134.2 86.9h0.8M125.9 88.1h0.8M27.8 92h0.8M123.6 85.4h0.8M85.2 87.5h0.8M198.6 87.3h0.8M189.4 89.1h0.8M187.6 89.4h0.8M185.1 84h0.8M148.9 87.7h0.8M190.6 90h0.8M54.7 85.9h0.8M211.4 90.2h0.8M164.9 84.4h0.8M131.8 86.3h0.8M206 88.4h0.8M203.9 89.1h0.8M112.4 85h0.8M177.3 88.1h0.8M202.5 87.5h0.8M43.3 89.9h0.8M118.4 85h0.8M19.7 88h0.8M73 85.2h0.8M100.7 91.5h0.8M212 88.3h0.8M208.4 89.1h0.8M134.1 87.4h0.8M129.6 87.8h0.8M156.9 87.8h0.8M35.5 90h0.8M71.7 89.1h0.8M145.7 88.5h0.8M123.6 87.9h0.8M158 86.4h0.8M56.3 91h0.8M46.9 92h0.8M110.5 86.9h0.8M100.6 92.3h0.8M61.3 87.9h0.8M41.2 85.6h0.8M172.2 88.6h0.8M160.9 88.1h0.8M120.3 88.3h0.8M199.3 89.9h0.8M189.3 91h0.8M194.1 88h0.8M56.1 84.5h0.8M128.2 86.4h0.8M179.8 86.6h0.8M127.1 85.5h0.8M171.3 88.3h0.8M31.9 84h0.8M150.1 87h0.8M121.8 88.6h0.8M173.2 88h0.8M177.4 91.1h0.8M18.6 86.4h0.8M158.7 89h0.8M187.2 91.4h0.8M145.8 87.9h0.8M87.8 86.9h0.8M192.4 92.5h0.8M66.7 89.1h0.8M153 87.8h0.8M75.9 84.9h0.8M198.2 86.3h0.8M21.4 83.5h0.8M110.1 86h0.8M63.3 89h0.8M61.9 83.9h0.8M143.7 87.9h0.8M78.2 88.1h0.8M149.5 92.6h0.8M94.1 85h0.8M189.6 83.1h0.8M114.8 84.8h0.8M37.2 84h0.8M122.6 86.4h0.8M210.8 89.1h0.8M119.4 84.8h0.8M81.4 91h0.8M182.5 87.1h0.8M195.6 86.5h0.8M26.9 88.7h0.8M64.9 85.3h0.8M164.5 89.8h0.8M77.3 86.4h0.8M208.1 83.6h0.8M181.2 88.8h0.8M95.2 90.2h0.8M122.5 94.5h0.8M193.4 83.2h0.8M192.7 88.9h0.8M66.4 89.4h0.8M91.8 88.2h0.8M47.1 91.1h0.8M193 87.5h0.8M130.5 85.3h0.8M140.5 88.7h0.8M158.7 84.8h0.8M28.3 84.4h0.8M41.9 89.4h0.8M46.8 87.7h0.8M203.1 93.7h0.8M93.3 85.6h0.8M42.9 89.5h0.8M28.1 83.7h0.8M149.9 90.9h0.8M209.1 86.9h0.8M60.1 84.6h0.8M97.5 87.5h0.8M149.2 83.8h0.8M126.3 88.2h0.8M206.9 95h0.8M62.2 87.8h0.8M214.5 90.4h0.8M125.9 85h0.8M160.2 84.8h0.8M90.9 86.9h0.8M127.8 86.6h0.8M154 86.3h0.8M187.8 94.4h0.8M117.4 86.5h0.8M35.3 86.5h0.8M27.8 88.9h0.8M186.6 90.3h0.8M63.2 88h0.8M42 85.9h0.8M48.4 86.5h0.8M108.2 88.9h0.8M129.9 84.8h0.8M139.8 87.5h0.8M143.8 83.8h0.8M135.4 88.7h0.8M152.3 88.4h0.8M196.9 89.1h0.8M122.8 91.2h0.8M202 86.1h0.8M104.1 89h0.8M72.3 87.5h0.8M153.6 91.2h0.8M174.9 85.3h0.8M154.4 85.3h0.8M73.3 93.1h0.8M90.9 88.4h0.8M25.1 87.9h0.8M153.4 87h0.8M55.5 90.2h0.8M131 87.2h0.8M84.9 90.3h0.8M203.1 87.6h0.8M42.1 85.3h0.8M34.4 87.6h0.8M140.1 86.8h0.8M33.7 89.6h0.8M63.6 84.4h0.8M51.8 86h0.8M61.7 86.4h0.8M211.9 85.4h0.8M123.6 86.8h0.8M160.8 86.4h0.8M52.7 85.3h0.8M151.1 84.1h0.8M56.9 88.7h0.8M59.3 88.7h0.8M163.4 88.5h0.8M89 86.7h0.8M100.9 89.2h0.8M157.2 90.9h0.8M213.6 91.1h0.8M129.9 89.7h0.8M25.7 87.8h0.8M54.7 88.5h0.8M198.5 88.3h0.8M76.5 86.5h0.8M96.7 89.4h0.8M40.7 86.2h0.8M184.7 82.3h0.8M207 88h0.8M85.7 87.1h0.8M178.9 90.2h0.8M157.5 86.2h0.8M112.4 86.5h0.8M208.4 85.8h0.8M51 83h0.8M156.5 90.5h0.8M131.1 86.6h0.8M94.6 89h0.8M209.7 84.1h0.8M20.9 89h0.8M96.4 89.4h0.8M97.8 90.8h0.8M120.3 87.7h0.8M117.6 86.5h0.8M152.2 86.6h0.8M112.3 86.8h0.8M99.8 87.1h0.8M213 89.3h0.8M141.8 86h0.8M189.9 83.1h0.8M137.8 81.5h0.8M209.1 87.5h0.8M142.8 90.9h0.8M158.4 88.4h0.8M183.7 86.7h0.8M180.5 90.9h0.8M82.5 88.3h0.8M111.8 90.8h0.8M29.3 89h0.8M111.5 87.3h0.8M35.4 87.4h0.8M210.9 89.5h0.8M170.3 90.2h0.8M124.4 82.3h0.8M77.6 88h0.8M131.1 87.3h0.8M131.2 83.1h0.8M45.8 91.3h0.8M76.3 88.8h0.8M204.9 86.7h0.8M214.2 92.2h0.8M153.6 87.8h0.8M35.8 87.1h0.8M133.9 80.9h0.8M31.2 87.4h0.8M145.6 86.4h0.8M64.7 87.9h0.8M147.7 87.5h0.8M205.9 84.2h0.8M196.9 87.5h0.8M97 90.2h0.8M203.4 84.1h0.8M166.1 88h0.8M185.3 91.1h0.8M83.1 88.9h0.8M37.2 83.7h0.8M69.8 89.4h0.8M110.5 88h0.8M24 90.2h0.8M215 89.1h0.8M132.7 85.3h0.8M75.4 87.3h0.8M51.6 89.3h0.8M217.5 90.4h0.8M45.1 90.7h0.8M168.8 86.4h0.8M52.1 91.6h0.8M82 86.8h0.8M175.1 89.3h0.8M110.2 89h0.8M208 93.5h0.8M177.7 87.4h0.8M139.7 84.6h0.8M123 90.2h0.8M201.7 92h0.8M151.8 85.6h0.8M175.2 84.7h0.8M150.9 80.8h0.8M70.6 89.5h0.8M214.2 86.4h0.8M216.4 87.6h0.8M70.2 88.1h0.8M167.6 85.3h0.8M140.5 86.5h0.8M72.2 86.5h0.8M51.7 86.6h0.8M178.6 89.1h0.8M159.7 88.1h0.8M212 87.4h0.8M45.3 82.4h0.8M181.3 83.8h0.8M131.9 88.6h0.8M164 86.4h0.8M59.6 90.3h0.8M40.1 85.6h0.8M179.8 83.7h0.8M149.2 87.2h0.8M160.5 86.8h0.8M91.9 86.3h0.8M128.4 88.1h0.8M119.2 88.5h0.8M179.2 89.4h0.8M111 90.1h0.8M197 88.6h0.8M197.3 88.8h0.8M120.4 86.5h0.8M91.5 85.8h0.8M119.7 89h0.8M141 82.7h0.8M86.7 91.5h0.8M192 83.7h0.8M78.9 88.1h0.8M73.6 86.4h0.8M117.5 83.6h0.8M71.6 86.5h0.8M116.2 85.9h0.8M147.9 84.8h0.8M143.4 87.6h0.8M22.2 86.5h0.8M46.6 88.1h0.8M25.8 87.1h0.8M45.7 90h0.8M128.7 86.1h0.8M123.2 88.5h0.8M69 87.6h0.8M160.4 91.1h0.8M21 89.3h0.8M93.8 87.3h0.8M33.1 88.9h0.8M135.3 89h0.8M118 90.1h0.8M21.7 87.6h0.8M205.4 85.9h0.8M149.4 85.9h0.8M159.2 85.7h0.8M88.9 89.3h0.8M91.9 89.1h0.8M108.5 88.2h0.8M116.3 84.3h0.8M133.2 88.4h0.8M155.9 91.3h0.8M139.4 84.2h0.8M141.8 87.1h0.8M101.3 87.4h0.8M202.1 88.7h0.8M191.5 88.1h0.8M70 87.7h0.8M174.6 92.6h0.8M54.6 85.6h0.8M206.5 86.1h0.8M172.9 85.4h0.8M69.2 87.1h0.8M149.1 88.4h0.8M148.5 84.7h0.8M192.9 85.9h0.8M163 85.8h0.8M90.8 89.4h0.8M82.2 89.2h0.8M150.1 83.6h0.8M55 84.9h0.8M50.5 86.6h0.8M23.3 86.5h0.8M85.9 86.1h0.8M35.3 87.8h0.8M144 88.5h0.8M47.7 89.1h0.8M169.2 83.6h0.8M150.6 84.3h0.8M136.5 85.6h0.8M42.1 83.7h0.8M135 88.4h0.8M207.4 88.4h0.8M145.3 90.1h0.8M70.9 89.6h0.8M138.8 86.7h0.8M124.5 88.8h0.8M56 88.3h0.8M112.9 88h0.8M25.8 90.6h0.8M179.2 91.1h0.8M161.5 83.5h0.8M105.2 84.2h0.8M195.2 86.5h0.8M160.6 87.1h0.8M174.5 89.9h0.8M173.9 88.6h0.8M165.1 82.4h0.8M137.4 86.4h0.8M217.5 86.5h0.8M186.2 88.3h0.8M81.2 88h0.8M34 89.2h0.8M157.3 87.7h0.8M26.6 86.6h0.8M28.3 88.1h0.8M199.3 85.4h0.8M117.6 85.4h0.8M136.3 92.3h0.8M129.5 84.9h0.8M107 87.4h0.8M141.9 84.5h0.8M134.5 86.7h0.8M162.3 90.8h0.8M89.3 91.8h0.8M72.7 91.7h0.8M56.7 90.5h0.8M72.3 87.2h0.8M82.5 88.7h0.8M141 86.9h0.8M112.2 88.5h0.8M207.6 87.4h0.8M108.6 87.1h0.8M83 86.6h0.8M35.3 85.6h0.8M195.6 90.3h0.8M89.3 82.7h0.8M139.3 84.6h0.8M77.1 88.5h0.8M141 88h0.8M34 85.2h0.8M147.2 87.3h0.8M178.3 87h0.8M101.4 88.7h0.8M128.3 82h0.8M177.3 91.7h0.8M124.1 87.1h0.8M121.2 87.8h0.8M97.6 89.1h0.8M120.5 88.7h0.8M46.5 87.8h0.8M58.5 91.2h0.8M95 89h0.8M128.3 90.1h0.8M33.3 85.5h0.8M184.8 87.7h0.8M109.6 87.7h0.8M134.1 85.7h0.8M23.4 87.1h0.8M141.2 86.6h0.8M56.2 84.5h0.8M142.5 87.4h0.8M213.4 88.3h0.8M105.5 87.5h0.8M215.7 84.7h0.8M96.2 92.2h0.8M112.1 89h0.8M198 89.2h0.8M162.3 90.6h0.8M186.8 85.5h0.8M201.2 88.6h0.8M39.4 85.9h0.8M78.5 89.1h0.8M19.1 90.6h0.8M78 90.6h0.8M166.5 86.3h0.8M61.3 84.7h0.8M22.7 87.6h0.8M54 82.9h0.8M52.4 87.8h0.8M40.2 86.8h0.8M79.9 89.4h0.8M137.4 86.6h0.8M58.9 83.1h0.8M167.5 85.7h0.8M145.2 88.3h0.8M144.8 85.4h0.8M84.3 86h0.8M193.8 90.9h0.8M106.4 92.3h0.8M84.2 83.9h0.8M87.8 90.7h0.8M169.4 87h0.8M167.9 85.8h0.8M43.8 87.2h0.8M203.5 88.9h0.8M145.3 83.2h0.8M54.2 91.3h0.8M144.8 87.1h0.8M126 87.2h0.8M216.3 88.2h0.8M61.5 88.4h0.8M199.8 84.9h0.8M140.1 84.9h0.8M96 85.6h0.8M114.3 87.8h0.8M123.9 85.4h0.8M86.3 84.6h0.8M118.2 84.4h0.8M110.4 88.9h0.8M32.1 89h0.8M161.9 83.4h0.8M112.7 89.8h0.8M187.4 91.6h0.8M156.6 90h0.8M32 94.2h0.8M128.9 86.3h0.8M110.6 87.8h0.8M74.1 91.2h0.8M209.3 88.1h0.8M91.9 87.9h0.8M133 84.6h0.8M130.3 90h0.8M205.8 85.8h0.8M88 83.8h0.8M73.9 89.9h0.8M201.7 87.4h0.8M114 88.2h0.8M110.8 83h0.8M32.2 87.3h0.8M201.4 85.4h0.8M109.7 88.5h0.8M181.6 91.7h0.8M152.7 83.4h0.8M91.1 82.9h0.8M65.5 88.7h0.8M217.1 87.8h0.8M83.3 88.4h0.8M206.9 92.6h0.8M55.1 82.9h0.8M178.1 85.2h0.8M51.7 88.9h0.8M126.6 91.7h0.8M212.9 87.2h0.8M121.9 88.3h0.8M132.9 86.4h0.8M202.6 85.7h0.8M28.6 83.1h0.8M109.1 86.7h0.8M43.5 91.1h0.8M76.7 87h0.8M170.2 86.8h0.8M50.7 89.8h0.8M125 84.1h0.8M119.9 86.5h0.8M100.5 84.6h0.8M26.3 86h0.8M53 92.5h0.8M153.9 84.4h0.8M59.6 84.8h0.8M114 85.9h0.8M27.1 87.8h0.8M55.3 84.8h0.8M190.6 85h0.8M196.3 86.1h0.8M31.5 89.9h0.8M180.9 87.5h0.8M155.8 85.6h0.8M81.3 88h0.8M163 86.3h0.8M171.6 86.4h0.8M182.2 85h0.8M42.4 84.5h0.8M177.1 89.5h0.8M187.8 89.8h0.8M191.7 91.9h0.8M200.5 91.1h0.8M167 87.3h0.8M97.7 88.3h0.8M153.7 86.3h0.8M215 85.4h0.8M73.4 86.5h0.8M176.3 86.3h0.8M23.3 85.7h0.8M43.1 87h0.8M125 88.3h0.8M136.8 88.3h0.8M203.3 84.9h0.8M60.3 81.2h0.8M110.7 84.4h0.8M75.9 89.5h0.8M188 88.4h0.8M163.7 85.3h0.8M20.3 87.9h0.8M26.1 85.8h0.8M38.7 81.4h0.8M129.3 85.6h0.8M200.4 90.3h0.8M45.6 90.5h0.8M128.4 87.7h0.8M87.3 87.7h0.8M192.5 87.5h0.8M171.6 91h0.8M202.6 86.7h0.8M84.3 85.9h0.8M139.1 87.4h0.8M125.6 84.7h0.8M91.6 83.2h0.8M62.1 87.8h0.8M32.6 84.4h0.8M167.7 88.3h0.8M146.2 85.7h0.8M70.4 89.9h0.8M196.2 85.9h0.8M191.8 92.3h0.8M184.1 89.1h0.8M27.3 90.6h0.8M189.5 91.8h0.8M83.4 89.9h0.8M30.9 84.7h0.8M72.6 87.3h0.8M150.6 84.5h0.8M194.8 86.1h0.8M60.3 87.2h0.8M37.1 88.2h0.8M128.2 85.1h0.8M98.8 88.3h0.8M186.2 84.9h0.8M80.8 86.9h0.8M159.8 87h0.8M193.8 89.3h0.8M43 91.1h0.8M54.7 88.5h0.8M111 86.5h0.8M116 91.7h0.8M56.5 91.9h0.8M205.9 86.8h0.8M30.1 84.4h0.8M196.3 86h0.8M89.3 90.7h0.8M74.4 90h0.8M62.1 86.5h0.8M125.2 86.2h0.8M71.7 87.9h0.8M40.9 92.6h0.8M209 84.4h0.8M104.1 86.4h0.8M199.7 86.3h0.8M18.7 89.4h0.8M26.7 83.4h0.8M198 87.7h0.8M170.3 88.5h0.8M146.3 89.8h0.8M63.1 83.7h0.8M42 88.2h0.8M209.7 89.8h0.8M21.7 86.6h0.8M136.2 84.2h0.8M120.6 87.2h0.8M101.5 90.6h0.8M213.5 90.1h0.8M23.2 87.1h0.8M195.3 86.4h0.8M101.4 89.7h0.8M25.1 87.9h0.8M38.4 87.4h0.8M213.1 86.3h0.8M133.5 83h0.8M131.9 88.9h0.8M54.8 90.5h0.8M68.5 84.1h0.8M194.4 88h0.8M157.6 90.4h0.8M160.7 87.3h0.8M55.3 87.1h0.8M117.4 82.4h0.8M163.9 86.7h0.8M198 85.1h0.8M43.7 89.2h0.8M66.6 83.4h0.8M49.8 89.8h0.8M48.9 89.9h0.8M185.8 91.6h0.8M121.8 86.9h0.8M194.1 85.3h0.8M84.3 85h0.8M100.7 90.9h0.8M216.5 89.8h0.8M21.3 87.7h0.8M74.1 85h0.8M168.3 86h0.8M201.9 89.3h0.8M76.9 88.7h0.8M192.9 88.4h0.8M63.8 91.2h0.8M124.3 89.6h0.8M64.6 88.5h0.8M166.4 87.1h0.8M132 88.1h0.8M51.2 89.9h0.8M207.4 84.6h0.8M33.8 91.3h0.8M214.2 88.7h0.8M56.8 86.9h0.8M175.3 88.5h0.8M53.2 84.8h0.8M188.6 91.8h0.8M22.8 83.6h0.8M125.3 88.9h0.8M196.4 88.7h0.8M29.7 89h0.8M156.1 87.1h0.8M141.9 85h0.8M203.5 85.5h0.8M164.1 88.8h0.8M142.6 85.8h0.8M202.1 85.6h0.8M145.3 85.5h0.8M111.2 88.8h0.8M85.4 92.2h0.8M127.2 86.6h0.8M77.9 86.3h0.8M148.6 87.7h0.8M133.9 87.9h0.8M111.1 85.4h0.8M107.4 89.5h0.8M180.9 87h0.8M61 90.4h0.8M186 82.3h0.8M212.5 86.7h0.8M199.3 90.7h0.8M150.3 87.9h0.8M116.5 87.4h0.8M35.9 85.9h0.8M122.6 83.8h0.8M193.5 86.6h0.8M25.5 86.8h0.8M124.2 86h0.8M71.2 83.3h0.8M168.5 85.1h0.8M111.8 83.8h0.8M137.1 88.8h0.8M176.3 92.9h0.8M67.2 87.2h0.8M170.8 87.6h0.8M187.4 91.5h0.8M18.5 89.1h0.8M167.6 88.8h0.8M95 87.7h0.8M164.1 86.1h0.8M122.8 87h0.8M189.2 85.5h0.8M111.6 86.5h0.8M22 87.9h0.8M198.4 87.9h0.8M97.8 88.8h0.8M70.6 85h0.8M122.5 82.3h0.8M80.7 88.9h0.8M63.4 88.5h0.8M46.9 85.6h0.8M69.8 91.4h0.8M115.8 86.4h0.8M96.4 85h0.8M31.5 85.7h0.8M145.1 85h0.8M155.4 88.2h0.8M173.9 84.7h0.8M112.5 88.5h0.8M166.7 88.4h0.8M155.1 82.9h0.8M49 88.6h0.8M22.4 86h0.8M167.8 87.5h0.8M30 89h0.8M43.6 84.4h0.8M72.9 85.7h0.8M180.6 90.6h0.8M65.5 85h0.8M144.1 83.1h0.8M93.2 86.2h0.8M143.1 87h0.8M128.7 87h0.8M140.8 82.6h0.8M94.4 85.4h0.8M131.3 87.9h0.8M25.6 88.2h0.8M200.1 85.4h0.8M160.5 84.6h0.8M130 88.1h0.8M107.1 87.5h0.8M187.7 87.8h0.8M30.2 86.5h0.8M33.6 89.5h0.8M70.2 89.4h0.8M30 84.2h0.8M47.6 89.8h0.8M92.8 85.4h0.8M68.5 89.3h0.8M57.5 89.5h0.8M155 89.4h0.8M127.7 84.1h0.8M69.2 87.3h0.8M156.4 90.9h0.8M191.3 86.9h0.8M91 88.2h0.8M69 88.2h0.8M152.4 89.3h0.8M203.5 85.6h0.8M65.5 89.5h0.8M39.8 87h0.8M158.5 84.1h0.8M133.1 90.6h0.8" stroke="#00f" stroke-width="0.8" fill="none"/></g><g clip-path="url(#c2)"><path d="M187.7 189.7h0.7M93.5 186.2h0.7M98.2 128.2h0.7M115.7 163.4h0.7M114.3 110.5h0.7M62.4 105.3h0.7M31 178.2h0.7M138.3 106.5h0.7M79.2 125h0.7M18.8 158.9h0.7M175.4 124.6h0.7M136.8 115.6h0.7M88 136h0.7M83.9 141.9h0.7M66.5 135.8h0.7M194.6 190.5h0.7M82.2 137.3h0.7M184.2 185.3h0.7M212.5 122.6h0.7M208.6 194h0.7M41.8 107.5h0.7M174.9 150.7h0.7M105.9 119.7h0.7M26.7 166.7h0.7M117.2 186h0.7M128.2 172h0.7M62.2 143.3h0.7M60.5 181h0.7M167.5 114.9h0.7M174.8 119.1h0.7M90.8 175.2h0.7M124.2 126.4h0.7M214.7 154.5h0.7M111.6 146h0.7M30.4 144.4h0.7M215.6 110.5h0.7M148.8 126.7h0.7M132.9 108.1h0.7M24 195.1h0.7M126.6 126.9h0.7M123.3 164.1h0.7M83.7 166.6h0.7M40.2 152.3h0.7M90.7 106.4h0.7M91.3 128.7h0.7M40.6 152.1h0.7M76.5 156.7h0.7M171.1 111.6h0.7M213.1 134.1h0.7M51.7 161h0.7M215.8 197h0.7M175.8 121.9h0.7M59.2 146.6h0.7M118.2 180.9h0.7M186.7 129.2h0.7M89.9 170.5h0.7M129.8 116.3h0.7M173.1 167.8h0.7M145 149.1h0.7M157.2 108.3h0.7M121.1 186.3h0.7M139.2 184.4h0.7M112.3 135.7h0.7M157.4 195.1h0.7M190.6 162h0.7M164.8 132.9h0.7M177 138.1h0.7M121.4 151h0.7M170.3 118h0.7M162.5 196.7h0.7M76.4 146.7h0.7M157.2 124.2h0.7M56.5 123.2h0.7M109.3 144.1h0.7M191.4 193.5h0.7M189.3 108.8h0.7M145.4 111.6h0.7M64.5 106h0.7M84.6 109.6h0.7M204.6 106.3h0.7M26.7 189.3h0.7M133.8 118.1h0.7M169.5 165h0.7M23.5 170h0.7M37.7 180.2h0.7M99.6 183.5h0.7M134 163.3h0.7M162.2 127.5h0.7M206.9 115.8h0.7M117.6 203.3h0.7M206.8 186.3h0.7M170.8 184.6h0.7M179.1 124.1h0.7M212.1 179.7h0.7M33.4 137.1h0.7M174.8 163h0.7M127.7 117.9h0.7M114.8 119.6h0.7M20.7 172.8h0.7M51.6 108.8h0.7M93.6 136.7h0.7M115.8 138.8h0.7M65.2 150.3h0.7M138.8 149.6h0.7M204.3 161.2h0.7M93.7 173.3h0.7M101.3 105.2h0.7M174.2 175.7h0.7M200.6 136.9h0.7M183.9 155.1h0.7M65.4 168.1h0.7M124.8 105.1h0.7M181.2 182.8h0.7M35.8 108.6h0.7M40.8 178.3h0.7M53.2 118.7h0.7M72.7 124.3h0.7M155.2 190.4h0.7M56.2 174.4h0.7M90.3 163.7h0.7M153.9 169h0.7M26.2 172.2h0.7M155.6 123.4h0.7M171.3 157h0.7M22.8 142.5h0.7M208.9 201.4h0.7M46.4 192.7h0.7M152.7 200.8h0.7M186.7 120.2h0.7M142.5 170.8h0.7M157.7 144.6h0.7M40.9 112.5h0.7M180.1 162.8h0.7M32.3 104.6h0.7M117.5 199.5h0.7M165.4 142.1h0.7M191.4 198.9h0.7M50.7 199.1h0.7M158.3 195.9h0.7M176.3 152.9h0.7M118.3 158.9h0.7M57.2 191h0.7M187.2 140.3h0.7M183.8 144.2h0.7M135.3 173.3h0.7M61.6 141.7h0.7M51.9 124.4h0.7M156.8 124.2h0.7M160 199.7h0.7M205.1 177.7h0.7M51.2 180.7h0.7M180.1 142.5h0.7M67 111h0.7M95.5 196.3h0.7M184.4 108.5h0.7M169.2 190h0.7M38.3 145.8h0.7M157.3 107.8h0.7M129.5 175.3h0.7M154.3 106.9h0.7M163.2 149.8h0.7M175 115.3h0.7M91.8 177.4h0.7M80.3 111.6h0.7M167.3 187.3h0.7M189.5 162.4h0.7M178.9 130.6h0.7M41.3 139.8h0.7M154.6 136.4h0.7M72 197.1h0.7M203.2 142.6h0.7M123.6 111.1h0.7M51.5 111.7h0.7M100.2 198.8h0.7M23.9 127.9h0.7M196.9 191.6h0.7M206.9 135.6h0.7M46.5 139.5h0.7M58.5 198h0.7M163.4 175.3h0.7M178.8 159.1h0.7M47.7 182.3h0.7M20.7 158.5h0.7M102.7 127.5h0.7M135.7 110.8h0.7M130.9 166.7h0.7M136.7 190.9h0.7M171.5 109.2h0.7M68.2 168h0.7M175.2 135.5h0.7M177.3 150.7h0.7M89.6 157.4h0.7M162.4 160.1h0.7M87.3 183.4h0.7M215.1 187.8h0.7M108.6 166.3h0.7M196.4 160.9h0.7M200.2 171.4h0.7M172 151.4h0.7M194.8 125.3h0.7M132 166.2h0.7M161.7 110.7h0.7M163.7 176.5h0.7M81.2 184.7h0.7M31.5 121.3h0.7M55.6 116.5h0.7M169.3 194h0.7M132.5 171.6h0.7M171.5 188.9h0.7M168.9 134h0.7M207.8 131.2h0.7M111.2 135.8h0.7M204.2 202.8h0.7M216.3 169.6h0.7M53.4 165.1h0.7M208.8 170.1h0.7M143.1 135.7h0.7M125.3 185.6h0.7M165 139.5h0.7M120.9 172h0.7M41.1 120.5h0.7M168.4 180.4h0.7M24.9 110.6h0.7M38.7 126.3h0.7M134.7 192h0.7M134.8 159.3h0.7M90 141.1h0.7M116.2 104.6h0.7M126 123h0.7M186.2 198.7h0.7M196.2 189.9h0.7M184.8 121.1h0.7M66.5 115.5h0.7M45.7 170.8h0.7M74.7 106.4h0.7M178.4 126h0.7M88 158.8h0.7M126.2 184.9h0.7M152.1 150.1h0.7M83.6 104.7h0.7M46.7 115.8h0.7M109.1 179.9h0.7M132.1 131.4h0.7M48.2 129.6h0.7M130.2 193.4h0.7M199.4 191.3h0.7M155 182.9h0.7M165.2 198.9h0.7M76 164.2h0.7M91.6 152.2h0.7M210.1 151.6h0.7M197.2 105h0.7M67.2 144.9h0.7M179.5 111.5h0.7M47.6 106.8h0.7M53.3 201.9h0.7M195.3 110.1h0.7M163.2 137.1h0.7M168.3 162.6h0.7M171.9 189.9h0.7M62.3 129.1h0.7M31.3 175.6h0.7M191.2 159.3h0.7M70.1 152.4h0.7M121.3 143.7h0.7M162 146.7h0.7M165.2 160.5h0.7M37.3 122.2h0.7M104.5 170.1h0.7M146.3 183.2h0.7M103.3 120.5h0.7M34.7 131.2h0.7M194.1 190.9h0.7M132.5 198.5h0.7M70.4 157.5h0.7M101.9 199.2h0.7M190.9 129.2h0.7M208.4 134.6h0.7M199.8 153.1h0.7M40.1 124.4h0.7M182.6 113h0.7M177.8 184.5h0.7M195.9 156.8h0.7M147.9 180.8h0.7M126.4 167.5h0.7M59.8 114.1h0.7M42.3 169.5h0.7M79.7 162.7h0.7M174 107h0.7M54.7 152.8h0.7M50 146.2h0.7M52.2 105.1h0.7M109.8 136.3h0.7M144.1 162.2h0.7M74.8 188h0.7M102.6 168.7h0.7M185 109.8h0.7M183.6 117.3h0.7M118.8 176.3h0.7M156.5 198.6h0.7M184.3 200.4h0.7M56.7 199h0.7M36.2 138.8h0.7M122.9 157h0.7M68.9 115h0.7M21.3 133.8h0.7M124.1 124.3h0.7M67.3 112.8h0.7M175.2 145.9h0.7M18.9 184h0.7M162.2 171.6h0.7M31.3 185.1h0.7M127.8 177.8h0.7M131.2 116.1h0.7M46 121.4h0.7M201.6 154.2h0.7M151.1 172.2h0.7M174.5 174.1h0.7M69.2 132.8h0.7M114.3 130.3h0.7M166.3 188.2h0.7M32.1 163.8h0.7M194.5 189.8h0.7M126.6 146.5h0.7M145.7 178.8h0.7M109.8 134.6h0.7M194.6 162.9h0.7M171.9 112.4h0.7M144.4 162.3h0.7M57.9 150h0.7M149.2 137.3h0.7M205.4 138h0.7M206.6 131.1h0.7M208.1 107.1h0.7M115.8 157.9h0.7M49.4 108.8h0.7M52.5 140.7h0.7M117.9 158.5h0.7M133.2 104.8h0.7M61.2 129.3h0.7M49.6 143.9h0.7M188 104.5h0.7M217.1 178.7h0.7M22 124.4h0.7M105.8 158.9h0.7M133.6 171.9h0.7M145.9 113h0.7M200.3 135.2h0.7M209.5 177.9h0.7M22.1 108.1h0.7M151.8 118.8h0.7M173.5 199.1h0.7M81.6 149.4h0.7M26.1 156.2h0.7M95.9 177.5h0.7M45.2 180.8h0.7M133.6 128.3h0.7M124.7 150.9h0.7M115.6 180.8h0.7M130.1 197.7h0.7M121.4 111.8h0.7M113.7 143.2h0.7M164.9 175h0.7M209.8 174.9h0.7M121.4 126.1h0.7M181.5 120.1h0.7M186.9 106.6h0.7M189.8 186.6h0.7M86.6 114.6h0.7M131.1 159.9h0.7M132.5 144.2h0.7M216.9 115.5h0.7M204.5 107.1h0.7M30.1 167.4h0.7M144.8 156.3h0.7M67.4 116.7h0.7M38.4 157.4h0.7M24.9 135.5h0.7M207.6 111h0.7M110.2 114h0.7M146.9 138.1h0.7M173.6 195.2h0.7M126.9 147.1h0.7M131.4 155.1h0.7M69.1 191.9h0.7M201.7 155.6h0.7M111.9 134.7h0.7M171.9 140.7h0.7M89.3 135.2h0.7M130.9 141.4h0.7M84.5 128.4h0.7M40.7 105h0.7M200.7 195.9h0.7M176.7 155.4h0.7M93.3 141.2h0.7M92.9 141.7h0.7M163.5 169.5h0.7M74.5 159.4h0.7M191.1 107.4h0.7M92 197.6h0.7M100 187h0.7M105.3 185.3h0.7M191.2 191.9h0.7M139.8 172h0.7M170.9 169.7h0.7M196 161.3h0.7M55.5 105.9h0.7M184.7 194.9h0.7M153.6 186.1h0.7M21 116.5h0.7M37 183.8h0.7M204.8 178.3h0.7M55.5 137.8h0.7M194.6 182.9h0.7M170.9 160.4h0.7M193.7 153.3h0.7M139 174.7h0.7M83.8 191.8h0.7M186 141.2h0.7M100.4 201.5h0.7M75.6 187.2h0.7M203.6 132.6h0.7M80.1 163.4h0.7M182.7 114h0.7M100.8 120.1h0.7M67.9 202.6h0.7M202.6 138.9h0.7M137.5 142.4h0.7M167.2 112h0.7M94.7 153.5h0.7M87.2 110.1h0.7M77.6 171.1h0.7M24.6 142.7h0.7M190.7 111.4h0.7M199.2 153.6h0.7M88.6 168.6h0.7M122.5 164.2h0.7M55.4 118.6h0.7M113.3 176h0.7M76.9 183.9h0.7M181.3 170.4h0.7M179.5 177h0.7M40.9 159.4h0.7M99.5 120h0.7M212.9 183.6h0.7M107.2 133.6h0.7M129.9 146.1h0.7M193.1 129.7h0.7M101.7 128.6h0.7M92.6 180.6h0.7M109.9 178.3h0.7M123.8 178.5h0.7M116.7 171.5h0.7M122.5 180.1h0.7M135 166.6h0.7M126.2 171.7h0.7M141.8 183h0.7M121.9 167.3h0.7M115.5 156.7h0.7M119.4 194.4h0.7M118 176.7h0.7M104.3 189.5h0.7M116.1 152.3h0.7M115.7 185.1h0.7M114.7 186.5h0.7M105.6 199.4h0.7M118.6 170.4h0.7M108.1 173.5h0.7M115.1 156.3h0.7M109.9 174.7h0.7M113.4 189.9h0.7M112 173h0.7M122.6 197.2h0.7M131.2 180.6h0.7M130.6 183.2h0.7M121.1 179.7h0.7M115.9 189h0.7M130.6 177.6h0.7M109.2 182.5h0.7M117.8 171.9h0.7M112.5 200.6h0.7M116.5 186.9h0.7M120.1 163h0.7M112.5 152.9h0.7M107.9 171.1h0.7M112.8 184.9h0.7M125.6 175h0.7M112 175.4h0.7M118.7 161.3h0.7M120.4 165.8h0.7M124.8 171.2h0.7M103.7 190.4h0.7M108.6 184.9h0.7M138.7 150.2h0.7M124.1 159.8h0.7M128.3 151.7h0.7M113 172.2h0.7M111.4 180.1h0.7M128.7 174.6h0.7M124.4 194.9h0.7M126.5 164.8h0.7M114.6 210.1h0.7M124.4 165.1h0.7M110.2 188.2h0.7M98 176.7h0.7M119 194.8h0.7M128.9 157.2h0.7M135.9 160.5h0.7M126.8 179.5h0.7M125.6 186.5h0.7M112.7 182.6h0.7M106.9 170h0.7M122.8 171.7h0.7M111 163.7h0.7M121 183.1h0.7M124.7 182.1h0.7M106.2 208.7h0.7M128.9 178.4h0.7M116.7 168.2h0.7M125.3 163.2h0.7M114.1 173.2h0.7M112.7 191.9h0.7M132.4 172.7h0.7M128.5 175.2h0.7M125.4 168.1h0.7M111.6 181.8h0.7M128.4 186.9h0.7M121.5 155.9h0.7M134 164.2h0.7M131.2 195.7h0.7M97.8 190.3h0.7M117.3 203.2h0.7M135.5 165.6h0.7M138 166.2h0.7M129.4 186.1h0.7M96.1 151h0.7M123.8 180.6h0.7M123.6 173.3h0.7M139 181.7h0.7M117.5 185.3h0.7M124.6 157.8h0.7M141.1 160.7h0.7M143 182.6h0.7M126.1 141.9h0.7M113.5 172.8h0.7M111 173.5h0.7M105.9 180.7h0.7M124.2 182.8h0.7M129.4 176.9h0.7M132.9 174.3h0.7M127.2 164.9h0.7M113.1 178.3h0.7M135.1 178h0.7M138 200.6h0.7M121.1 171.4h0.7M110.5 159.9h0.7M125.6 174.9h0.7M142 162.5h0.7M119.2 190h0.7M130.8 167.5h0.7M101.5 161.6h0.7M113.6 200.6h0.7M133.5 187.3h0.7M108.5 187.5h0.7M115.5 175.8h0.7M116.4 163.6h0.7M124.4 192.8h0.7M129.8 201.2h0.7M106.8 169.7h0.7M118.3 180.3h0.7M122.1 145.9h0.7M129.6 177.8h0.7M117.8 168.2h0.7M115 181.7h0.7M106.5 157.5h0.7M110.3 169.1h0.7M103.5 191.4h0.7M109.6 171.6h0.7M113.1 180h0.7M106.5 188.7h0.7M123.6 185.7h0.7M129.7 171.2h0.7M116 196.5h0.7M109.2 196.2h0.7M115.2 187.5h0.7M101.2 180h0.7M119.6 175.9h0.7M135.3 187.2h0.7M113.6 175.9h0.7M112.5 161.6h0.7M120.6 192.2h0.7M110.9 166.5h0.7M118.7 187.7h0.7M109 188.1h0.7M111.8 158.3h0.7M104.5 182h0.7M109.2 183.1h0.7M117.1 200.9h0.7M111.5 168.5h0.7M121.6 188.6h0.7M102.7 168.9h0.7M133.1 176.3h0.7M102.8 171.9h0.7M125.5 203.3h0.7M115.2 189h0.7M115.7 164.7h0.7M113.4 182.4h0.7M99.2 199.1h0.7M110.7 184.1h0.7M126 150.4h0.7M112.5 179h0.7M113.9 176.7h0.7M116.9 168.3h0.7M141.8 169.8h0.7M120 202.2h0.7M112.4 177.2h0.7M113.8 173.9h0.7M125.3 170.9h0.7M114.2 163.7h0.7M136.3 173.2h0.7M130.1 156h0.7M131.9 189.5h0.7M116.3 177.8h0.7M135.4 185.3h0.7M118.1 184.9h0.7M118.3 187.7h0.7M116.3 191.8h0.7M112 201.3h0.7M118.7 183.1h0.7M125.7 177h0.7M122.3 168.8h0.7M131.2 160.4h0.7M118.9 188.6h0.7M132.7 186.8h0.7M118.9 165.9h0.7M124.3 177.7h0.7M123.5 177.4h0.7M116.9 162h0.7M111.2 168.4h0.7M115.1 191.9h0.7M124.9 189.2h0.7M114.4 165.9h0.7M131.3 154.5h0.7M107.9 190.5h0.7M128.4 157.8h0.7M114.9 166.3h0.7M123.3 192.2h0.7M121.2 191.4h0.7M120.8 178.5h0.7M111.3 174.9h0.7M139.9 178.2h0.7M115.4 177.9h0.7M101.4 187.3h0.7M111.1 192.4h0.7M110.2 186.2h0.7M132.7 164.6h0.7M128.6 181.8h0.7M103.3 182.1h0.7M109.9 190.2h0.7M110.3 147.6h0.7M115.4 180.3h0.7M109.3 196h0.7M126.1 179.8h0.7M130.4 192.6h0.7M114.1 184.4h0.7M123.8 175.9h0.7M110.9 195.8h0.7M110.7 196.1h0.7M124.6 188.2h0.7M122.5 187.9h0.7M117 167.3h0.7M123.9 168.8h0.7M132.1 160.8h0.7M102.5 167.5h0.7M121.6 182.7h0.7M129.1 164.3h0.7M113.9 173.4h0.7M120.8 181.9h0.7M131.5 176.8h0.7M117.2 191.3h0.7M119 189.9h0.7M103.9 191.8h0.7M121.5 158.8h0.7M108.2 206h0.7M134.4 173.2h0.7M114.4 196.4h0.7M115.9 180.9h0.7M130.8 177.7h0.7M121.5 166h0.7M131.9 158.2h0.7M108.3 163.5h0.7M128.4 169h0.7M122.2 182.1h0.7M123 161.8h0.7M120.6 180.7h0.7M126.4 193.7h0.7M118 204.8h0.7M127.8 172.8h0.7M124.4 169h0.7M115.5 196.7h0.7M132.3 203.2h0.7M101 189.5h0.7M111.2 186.3h0.7M112.4 188.1h0.7M118.6 177.2h0.7M113.2 168.4h0.7M125.6 178.3h0.7M134.2 174.7h0.7M110.8 178.5h0.7M116.2 190.2h0.7" stroke="#d0d0d0" stroke-width="0.7" fill="none"/><path d="M22.5 153.8v8.8M21.7 153.8h1.6M21.7 162.6h1.6M32.1 145.4v8.8M31.3 145.4h1.6M31.3 154.2h1.6M60.7 136.7v8.8M59.9 136.7h1.6M59.9 145.5h1.6M72.5 136.7v7.8M71.7 136.7h1.6M71.7 144.5h1.6M73.4 139.9v7.8M72.6 139.9h1.6M72.6 147.7h1.6M70.5 159.8v9.1M69.7 159.8h1.6M69.7 169h1.6M75.5 160.7v7.8M74.7 160.7h1.6M74.7 168.5h1.6M76.6 164.1v7.8M75.8 164.1h1.6M75.8 171.9h1.6M99.9 117v8.3M99.1 117h1.6M99.1 125.4h1.6M100.7 128.3v7.5M99.9 128.3h1.6M99.9 135.9h1.6M101.8 131.6v8.3M101 131.6h1.6M101 140h1.6M105.1 126.8v8.3M104.3 126.8h1.6M104.3 135.2h1.6M110 128.2v10.4M109.2 128.2h1.6M109.2 138.6h1.6M112.1 134.7v10.4M111.3 134.7h1.6M111.3 145.1h1.6M113.2 120.1v10.4M112.4 120.1h1.6M112.4 130.5h1.6M114.5 123.3v10.4M113.7 123.3h1.6M113.7 133.7h1.6M116.2 130.9v14.8M115.4 130.9h1.6M115.4 145.7h1.6M117.8 130.9v14.8M117 130.9h1.6M117 145.7h1.6M119.4 122.5v23.4M118.6 122.5h1.6M118.6 145.9h1.6M120.7 121.3v12.7M119.9 121.3h1.6M119.9 134.1h1.6M121.9 128.2v10.4M121.1 128.2h1.6M121.1 138.6h1.6M123.5 130v8.3M122.7 130h1.6M122.7 138.4h1.6M115 132.1v7.8M114.2 132.1h1.6M114.2 139.9h1.6M118.5 137.1v7.8M117.7 137.1h1.6M117.7 144.9h1.6M122.5 133.1v7.8M121.7 133.1h1.6M121.7 140.9h1.6M126.8 149.1v12.2M126 149.1h1.6M126 161.3h1.6M152.8 104.5v3.9M152 104.5h1.6M152 108.5h1.6M160.1 104.4v4.2M159.3 104.4h1.6M159.3 108.6h1.6M162 103.9v3.1M161.2 103.9h1.6M161.2 107.1h1.6M171.5 104.4v11.7M170.7 104.4h1.6M170.7 116h1.6M171 104.4v5.2M170.2 104.4h1.6M170.2 109.6h1.6M194.5 104.1v7.8M193.7 104.1h1.6M193.7 111.9h1.6M190.3 120.5v9.1M189.5 120.5h1.6M189.5 129.6h1.6M158.9 189.9v4.2M158.1 189.9h1.6M158.1 194h1.6M137 176.2v6.2M136.2 176.2h1.6M136.2 182.5h1.6M161.6 192.7v5.4M160.8 192.7h1.6M160.8 198.2h1.6M142.3 180.4v5.5M141.5 180.4h1.6M141.5 185.9h1.6M138.6 178v4.6M137.8 178h1.6M137.8 182.6h1.6M148.3 188.3v6.3M147.5 188.3h1.6M147.5 194.6h1.6M159.4 194.5v5M158.6 194.5h1.6M158.6 199.5h1.6M162 191.8v4.8M161.2 191.8h1.6M161.2 196.6h1.6M155.3 184.9v6.3M154.5 184.9h1.6M154.5 191.3h1.6M154 185.5v5.6M153.2 185.5h1.6M153.2 191.2h1.6M144 181.1v6.3M143.2 181.1h1.6M143.2 187.3h1.6M140.5 179.1v5.1M139.7 179.1h1.6M139.7 184.1h1.6M157.3 194.3v4.2M156.5 194.3h1.6M156.5 198.4h1.6M162.1 188.5v5.4M161.3 188.5h1.6M161.3 193.9h1.6M160.1 188.2v5.4M159.3 188.2h1.6M159.3 193.7h1.6M163.2 195.6v4.9M162.4 195.6h1.6M162.4 200.5h1.6M156.2 188.9v5.4M155.4 188.9h1.6M155.4 194.3h1.6M163.7 194.9v5.8M162.9 194.9h1.6M162.9 200.7h1.6M144.3 182.5v5.5M143.5 182.5h1.6M143.5 188.1h1.6M164.1 195v4.7M163.3 195h1.6M163.3 199.7h1.6M146.4 182.5v4.7M145.6 182.5h1.6M145.6 187.2h1.6M140.1 179.2v5.4M139.3 179.2h1.6M139.3 184.6h1.6M140.2 184.5v4.1M139.4 184.5h1.6M139.4 188.6h1.6M152 188.7v5.1M151.2 188.7h1.6M151.2 193.9h1.6M135.2 178.7v4.9M134.4 178.7h1.6M134.4 183.5h1.6M142.4 187.1v5M141.6 187.1h1.6M141.6 192.1h1.6M134.1 176v4.6M133.3 176h1.6M133.3 180.6h1.6M134 184.7v6.4M133.2 184.7h1.6M133.2 191.1h1.6M141.7 183v6.2M140.9 183h1.6M140.9 189.2h1.6M132.5 178.4v5M131.7 178.4h1.6M131.7 183.3h1.6M142.8 183v4.1M142 183h1.6M142 187.1h1.6M155.6 186.6v6.2M154.8 186.6h1.6M154.8 192.8h1.6M147.5 190.5v5.3M146.7 190.5h1.6M146.7 195.8h1.6M136.4 179.2v6M135.6 179.2h1.6M135.6 185.2h1.6M160 196v4.2M159.2 196h1.6M159.2 200.2h1.6M164.7 196.2v5.4M163.9 196.2h1.6M163.9 201.7h1.6M135.1 180v6.2M134.3 180h1.6M134.3 186.2h1.6M161.1 189.2v4.4M160.3 189.2h1.6M160.3 193.5h1.6M144.2 188.2v5.1M143.4 188.2h1.6M143.4 193.3h1.6M133.1 178.9v4.4M132.3 178.9h1.6M132.3 183.4h1.6M140.5 179.8v6M139.7 179.8h1.6M139.7 185.7h1.6M152.5 189.7v5.1M151.7 189.7h1.6M151.7 194.9h1.6M148.4 189v4.1M147.6 189h1.6M147.6 193.1h1.6M163.2 192.4v6.2M162.4 192.4h1.6M162.4 198.6h1.6M149.6 187.8v4M148.8 187.8h1.6M148.8 191.8h1.6M143.3 183.2v4.3M142.5 183.2h1.6M142.5 187.5h1.6M164.7 195.6v5.4M163.9 195.6h1.6M163.9 201h1.6M149.1 189.2v5.6M148.3 189.2h1.6M148.3 194.8h1.6M158.6 187.8v4.7M157.8 187.8h1.6M157.8 192.5h1.6M135.4 185.7v4.2M134.6 185.7h1.6M134.6 190h1.6M161.1 194.2v4.6M160.3 194.2h1.6M160.3 198.8h1.6M148.8 193.3v5M148 193.3h1.6M148 198.3h1.6M159.1 193.5v4.4M158.3 193.5h1.6M158.3 197.9h1.6M161.8 189.1v6.3M161 189.1h1.6M161 195.4h1.6M141.6 181v4.1M140.8 181h1.6M140.8 185.2h1.6M137.2 182.3v6.2M136.4 182.3h1.6M136.4 188.6h1.6M138 181.5v5M137.2 181.5h1.6M137.2 186.5h1.6M151.8 185v5.5M151 185h1.6M151 190.6h1.6M133.1 184.9v6.4M132.3 184.9h1.6M132.3 191.3h1.6M155.7 185.3v6.1M154.9 185.3h1.6M154.9 191.4h1.6M136 182.6v4.1M135.2 182.6h1.6M135.2 186.7h1.6M158 188.6v6M157.2 188.6h1.6M157.2 194.5h1.6M144.3 180.3v6.1M143.5 180.3h1.6M143.5 186.4h1.6M159 191.8v5M158.2 191.8h1.6M158.2 196.8h1.6M163.9 189.7v5.5M163.1 189.7h1.6M163.1 195.2h1.6M134.6 179.3v5.5M133.8 179.3h1.6M133.8 184.8h1.6M143.2 184.8v4.3M142.4 184.8h1.6M142.4 189h1.6M136.8 177.8v5.4M136 177.8h1.6M136 183.3h1.6M150.2 194v5.3M149.4 194h1.6M149.4 199.3h1.6M154.8 187.1v4.9M154 187.1h1.6M154 192h1.6M148.3 186.6v5.7M147.5 186.6h1.6M147.5 192.3h1.6M137.4 181v6M136.6 181h1.6M136.6 187h1.6M144.8 186v5.7M144 186h1.6M144 191.7h1.6M141 182.8v4.7M140.2 182.8h1.6M140.2 187.5h1.6M152.2 193.1v4.9M151.4 193.1h1.6M151.4 198h1.6M150.5 188.4v6M149.7 188.4h1.6M149.7 194.4h1.6M139.2 183.6v6.4M138.4 183.6h1.6M138.4 189.9h1.6M147.5 189.5v5.2M146.7 189.5h1.6M146.7 194.6h1.6M144.5 187.7v5.6M143.7 187.7h1.6M143.7 193.4h1.6M145.2 185.5v4M144.4 185.5h1.6M144.4 189.5h1.6M151.4 187.8v4.3M150.6 187.8h1.6M150.6 192.1h1.6M164.7 193.4v4.2M163.9 193.4h1.6M163.9 197.6h1.6M140.7 180.8v5M139.9 180.8h1.6M139.9 185.8h1.6M137.1 180v4.4M136.3 180h1.6M136.3 184.4h1.6M139.5 182.1v5.7M138.7 182.1h1.6M138.7 187.7h1.6M137.3 187.6v4.3M136.5 187.6h1.6M136.5 191.8h1.6M134.1 182.8v5.5M133.3 182.8h1.6M133.3 188.3h1.6M133.6 177.6v4.3M132.8 177.6h1.6M132.8 181.9h1.6M146.7 186.8v6.1M145.9 186.8h1.6M145.9 192.9h1.6M157.4 193.7v4.9M156.6 193.7h1.6M156.6 198.6h1.6M133.7 178.1v4.1M132.9 178.1h1.6M132.9 182.2h1.6M160.2 190.7v6.2M159.4 190.7h1.6M159.4 197h1.6M150.8 187.9v5.2M150 187.9h1.6M150 193.1h1.6M132 175.1v5.5M131.2 175.1h1.6M131.2 180.6h1.6M140.7 183.7v6.2M139.9 183.7h1.6M139.9 189.8h1.6M150.6 191.4v4.1M149.8 191.4h1.6M149.8 195.4h1.6M153.5 189.4v4.9M152.7 189.4h1.6M152.7 194.2h1.6M134.6 175.4v4.1M133.8 175.4h1.6M133.8 179.5h1.6M159 192.6v5.6M158.2 192.6h1.6M158.2 198.2h1.6M159 192v5.5M158.2 192h1.6M158.2 197.5h1.6M138 176.5v4M137.2 176.5h1.6M137.2 180.5h1.6M152.6 191.1v5.7M151.8 191.1h1.6M151.8 196.8h1.6M134.9 184.3v4.8M134.1 184.3h1.6M134.1 189.1h1.6M138.3 184.7v5.1M137.5 184.7h1.6M137.5 189.8h1.6M134.4 179.9v6.2M133.6 179.9h1.6M133.6 186.1h1.6M165.4 190.8v4.2M164.6 190.8h1.6M164.6 195h1.6M152.6 191.5v4.8M151.8 191.5h1.6M151.8 196.3h1.6M144.7 189.8v5.2M143.9 189.8h1.6M143.9 195h1.6M139.8 184.7v4.6M139 184.7h1.6M139 189.3h1.6M141.3 180.3v6.1M140.5 180.3h1.6M140.5 186.4h1.6M162.5 195.5v4.1M161.7 195.5h1.6M161.7 199.6h1.6M150.6 184.7v6M149.8 184.7h1.6M149.8 190.7h1.6M150.9 186.4v6.3M150.1 186.4h1.6M150.1 192.6h1.6M154.3 190.6v6M153.5 190.6h1.6M153.5 196.7h1.6M148.8 191.4v6M148 191.4h1.6M148 197.4h1.6M136.1 180.2v5.4M135.3 180.2h1.6M135.3 185.6h1.6M139.1 185.2v5.8M138.3 185.2h1.6M138.3 191h1.6M137.3 179.6v5.9M136.5 179.6h1.6M136.5 185.6h1.6M162.7 192.3v4.1M161.9 192.3h1.6M161.9 196.4h1.6M167 190.3v4.5M166.2 190.3h1.6M166.2 194.8h1.6M151.9 187v4.3M151.1 187h1.6M151.1 191.3h1.6M132.7 181.6v4.7M131.9 181.6h1.6M131.9 186.3h1.6M135.4 182.6v4.7M134.6 182.6h1.6M134.6 187.2h1.6M167 196.3v4.2M166.2 196.3h1.6M166.2 200.5h1.6M163.5 193.2v6.3M162.7 193.2h1.6M162.7 199.5h1.6M152.3 185.8v6.1M151.5 185.8h1.6M151.5 191.9h1.6M163.3 196.9v4.5M162.5 196.9h1.6M162.5 201.4h1.6M166 190v6.3M165.2 190h1.6M165.2 196.3h1.6M141.1 186.1v4.1M140.3 186.1h1.6M140.3 190.2h1.6M164.2 188.6v5.4M163.4 188.6h1.6M163.4 194h1.6M164.7 193.6v5.3M163.9 193.6h1.6M163.9 198.9h1.6M142.8 187.5v4.4M142 187.5h1.6M142 191.8h1.6M139.8 180.3v5.6M139 180.3h1.6M139 185.8h1.6M152.3 190.7v4.6M151.5 190.7h1.6M151.5 195.3h1.6M158.1 193v4.3M157.3 193h1.6M157.3 197.3h1.6M154.9 189.6v5.2M154.1 189.6h1.6M154.1 194.8h1.6M156 191.3v5.6M155.2 191.3h1.6M155.2 196.9h1.6M146.9 186v6.2M146.1 186h1.6M146.1 192.3h1.6M152.5 186.5v5.1M151.7 186.5h1.6M151.7 191.6h1.6M161 192v6M160.2 192h1.6M160.2 198h1.6M149.1 188.3v6M148.3 188.3h1.6M148.3 194.3h1.6M152.5 194.1v6.3M151.7 194.1h1.6M151.7 200.3h1.6M146.7 188.8v5.4M145.9 188.8h1.6M145.9 194.3h1.6M147.1 185.6v5M146.3 185.6h1.6M146.3 190.6h1.6M161.4 195.7v4.6M160.6 195.7h1.6M160.6 200.2h1.6M141 177.8v6.4M140.2 177.8h1.6M140.2 184.2h1.6M156.1 195.2v4M155.3 195.2h1.6M155.3 199.2h1.6M153.1 193.7v4.7M152.3 193.7h1.6M152.3 198.4h1.6M144.7 180.4v4M143.9 180.4h1.6M143.9 184.4h1.6M139.4 183.1v4.3M138.6 183.1h1.6M138.6 187.4h1.6M141.7 184.2v5.8M140.9 184.2h1.6M140.9 189.9h1.6M145.3 190v4.4M144.5 190h1.6M144.5 194.4h1.6M147.6 188.4v4.6M146.8 188.4h1.6M146.8 193h1.6M156 189.6v6.1M155.2 189.6h1.6M155.2 195.7h1.6M142.6 179.3v5.2M141.8 179.3h1.6M141.8 184.4h1.6M133.6 174.6v4.2M132.8 174.6h1.6M132.8 178.8h1.6M164 192.7v6.4M163.2 192.7h1.6M163.2 199.1h1.6M133.2 174.1v4M132.4 174.1h1.6M132.4 178.1h1.6M160.5 195.5v5.6M159.7 195.5h1.6M159.7 201.1h1.6M135.2 175.3v5.3M134.4 175.3h1.6M134.4 180.6h1.6M149.7 189.8v4.4M148.9 189.8h1.6M148.9 194.1h1.6M166.7 191.2v5M165.9 191.2h1.6M165.9 196.2h1.6M133.8 173.4v4.9M133 173.4h1.6M133 178.3h1.6M141.3 185.9v5.8M140.5 185.9h1.6M140.5 191.7h1.6M141.5 188.2v4.2M140.7 188.2h1.6M140.7 192.4h1.6M133.6 181.5v5.9M132.8 181.5h1.6M132.8 187.4h1.6M159.3 188.5v5.5M158.5 188.5h1.6M158.5 194h1.6M147.3 188.5v6.3M146.5 188.5h1.6M146.5 194.9h1.6M150.4 192.8v5.8M149.6 192.8h1.6M149.6 198.6h1.6M158.1 195.7v4.5M157.3 195.7h1.6M157.3 200.2h1.6M143.6 186.5v4.4M142.8 186.5h1.6M142.8 190.9h1.6M141.6 178.6v5.2M140.8 178.6h1.6M140.8 183.8h1.6M155.7 192.1v4.3M154.9 192.1h1.6M154.9 196.4h1.6M144.4 181.2v4.5M143.6 181.2h1.6M143.6 185.6h1.6M156.8 187.7v4.6M156 187.7h1.6M156 192.3h1.6M161.7 193.6v5.1M160.9 193.6h1.6M160.9 198.7h1.6M144.2 188v4.2M143.4 188h1.6M143.4 192.2h1.6M145 182.1v4.3M144.2 182.1h1.6M144.2 186.5h1.6M140.5 186.2v5.7M139.7 186.2h1.6M139.7 191.9h1.6M159.3 189.6v6.2M158.5 189.6h1.6M158.5 195.8h1.6M164 194.5v5.8M163.2 194.5h1.6M163.2 200.3h1.6M141.9 183.8v5.5M141.1 183.8h1.6M141.1 189.2h1.6M139.8 185.7v5.5M139 185.7h1.6M139 191.3h1.6M148.7 189.9v6.3M147.9 189.9h1.6M147.9 196.2h1.6M153.7 191.9v4.3M152.9 191.9h1.6M152.9 196.2h1.6M143.9 188.5v5.5M143.1 188.5h1.6M143.1 194h1.6M132.7 182.9v5.1M131.9 182.9h1.6M131.9 188h1.6M149 188.5v6.3M148.2 188.5h1.6M148.2 194.8h1.6M145.9 186.7v6.1M145.1 186.7h1.6M145.1 192.8h1.6M134.2 174.5v4.4M133.4 174.5h1.6M133.4 178.9h1.6M132.3 169v6M131.5 169h1.6M131.5 175h1.6M134.4 175v6M133.6 175h1.6M133.6 181h1.6M158.9 180.2v6.6M158.1 180.2h1.6M158.1 186.8h1.6M165.4 185v6M164.6 185h1.6M164.6 191h1.6M145 178.5v5M144.2 178.5h1.6M144.2 183.5h1.6" stroke="#f00" stroke-width="0.8" fill="none"/><path d="M21.7 158.2h1.6M31.3 149.8h1.6M59.9 141.1h1.6M71.7 140.6h1.6M72.6 143.8h1.6M69.7 164.4h1.6M74.7 164.6h1.6M75.8 168h1.6M99.1 121.2h1.6M99.9 132.1h1.6M101 135.8h1.6M104.3 131h1.6M109.2 133.4h1.6M111.3 139.9h1.6M112.4 125.3h1.6M113.7 128.5h1.6M115.4 138.3h1.6M117 138.3h1.6M118.6 134.2h1.6M119.9 127.7h1.6M121.1 133.4h1.6M122.7 134.2h1.6M114.2 136h1.6M117.7 141h1.6M121.7 137h1.6M126 155.2h1.6M152 106.5h1.6M159.3 106.5h1.6M161.2 105.5h1.6M170.7 110.2h1.6M170.2 107h1.6M193.7 108h1.6M189.5 125h1.6M158.1 191.9h1.6M136.2 179.4h1.6M160.8 195.5h1.6M141.5 183.2h1.6M137.8 180.3h1.6M147.5 191.4h1.6M158.6 197h1.6M161.2 194.2h1.6M154.5 188.1h1.6M153.2 188.4h1.6M143.2 184.2h1.6M139.7 181.6h1.6M156.5 196.4h1.6M161.3 191.2h1.6M159.3 190.9h1.6M162.4 198.1h1.6M155.4 191.6h1.6M162.9 197.8h1.6M143.5 185.3h1.6M163.3 197.4h1.6M145.6 184.9h1.6M139.3 181.9h1.6M139.4 186.6h1.6M151.2 191.3h1.6M134.4 181.1h1.6M141.6 189.6h1.6M133.3 178.3h1.6M133.2 187.9h1.6M140.9 186.1h1.6M131.7 180.9h1.6M142 185.1h1.6M154.8 189.7h1.6M146.7 193.2h1.6M135.6 182.2h1.6M159.2 198.1h1.6M163.9 198.9h1.6M134.3 183.1h1.6M160.3 191.3h1.6M143.4 190.7h1.6M132.3 181.1h1.6M139.7 182.7h1.6M151.7 192.3h1.6M147.6 191.1h1.6M162.4 195.5h1.6M148.8 189.8h1.6M142.5 185.3h1.6M163.9 198.3h1.6M148.3 192h1.6M157.8 190.2h1.6M134.6 187.8h1.6M160.3 196.5h1.6M148 195.8h1.6M158.3 195.7h1.6M161 192.2h1.6M140.8 183.1h1.6M136.4 185.5h1.6M137.2 184h1.6M151 187.8h1.6M132.3 188.1h1.6M154.9 188.3h1.6M135.2 184.7h1.6M157.2 191.6h1.6M143.5 183.4h1.6M158.2 194.3h1.6M163.1 192.4h1.6M133.8 182.1h1.6M142.4 186.9h1.6M136 180.5h1.6M149.4 196.6h1.6M154 189.6h1.6M147.5 189.4h1.6M136.6 184h1.6M144 188.8h1.6M140.2 185.1h1.6M151.4 195.6h1.6M149.7 191.4h1.6M138.4 186.7h1.6M146.7 192.1h1.6M143.7 190.5h1.6M144.4 187.5h1.6M150.6 189.9h1.6M163.9 195.5h1.6M139.9 183.3h1.6M136.3 182.2h1.6M138.7 184.9h1.6M136.5 189.7h1.6M133.3 185.5h1.6M132.8 179.8h1.6M145.9 189.8h1.6M156.6 196.2h1.6M132.9 180.1h1.6M159.4 193.8h1.6M150 190.5h1.6M131.2 177.9h1.6M139.9 186.8h1.6M149.8 193.4h1.6M152.7 191.8h1.6M133.8 177.4h1.6M158.2 195.4h1.6M158.2 194.7h1.6M137.2 178.5h1.6M151.8 193.9h1.6M134.1 186.7h1.6M137.5 187.3h1.6M133.6 183h1.6M164.6 192.9h1.6M151.8 193.9h1.6M143.9 192.4h1.6M139 187h1.6M140.5 183.4h1.6M161.7 197.5h1.6M149.8 187.7h1.6M150.1 189.5h1.6M153.5 193.6h1.6M148 194.4h1.6M135.3 182.9h1.6M138.3 188.1h1.6M136.5 182.6h1.6M161.9 194.4h1.6M166.2 192.5h1.6M151.1 189.1h1.6M131.9 184h1.6M134.6 184.9h1.6M166.2 198.4h1.6M162.7 196.4h1.6M151.5 188.8h1.6M162.5 199.1h1.6M165.2 193.1h1.6M140.3 188.1h1.6M163.4 191.3h1.6M163.9 196.3h1.6M142 189.7h1.6M139 183h1.6M151.5 193h1.6M157.3 195.2h1.6M154.1 192.2h1.6M155.2 194.1h1.6M146.1 189.1h1.6M151.7 189.1h1.6M160.2 195h1.6M148.3 191.3h1.6M151.7 197.2h1.6M145.9 191.6h1.6M146.3 188.1h1.6M160.6 197.9h1.6M140.2 181h1.6M155.3 197.2h1.6M152.3 196.1h1.6M143.9 182.4h1.6M138.6 185.2h1.6M140.9 187.1h1.6M144.5 192.2h1.6M146.8 190.7h1.6M155.2 192.7h1.6M141.8 181.8h1.6M132.8 176.7h1.6M163.2 195.9h1.6M132.4 176.1h1.6M159.7 198.3h1.6M134.4 177.9h1.6M148.9 192h1.6M165.9 193.7h1.6M133 175.8h1.6M140.5 188.8h1.6M140.7 190.3h1.6M132.8 184.4h1.6M158.5 191.2h1.6M146.5 191.7h1.6M149.6 195.7h1.6M157.3 198h1.6M142.8 188.7h1.6M140.8 181.2h1.6M154.9 194.3h1.6M143.6 183.4h1.6M156 190h1.6M160.9 196.2h1.6M143.4 190.1h1.6M144.2 184.3h1.6M139.7 189.1h1.6M158.5 192.7h1.6M163.2 197.4h1.6M141.1 186.5h1.6M139 188.5h1.6M147.9 193h1.6M152.9 194.1h1.6M143.1 191.2h1.6M131.9 185.4h1.6M148.2 191.7h1.6M145.1 189.8h1.6M133.4 176.7h1.6M131.5 172h1.6M133.6 178h1.6M158.1 183.5h1.6M164.6 188h1.6M144.2 181h1.6" stroke="#f00" stroke-width="1.5" fill="none"/></g><defs><clipPath id="c3"><rect x="282.5" y="18.5" width="199" height="85.8"/></clipPath><clipPath id="c4"><rect x="282.5" y="104.3" width="199" height="99"/></clipPath></defs><g clip-path="url(#c3)"><path d="M282.5 90.3L336 90.3L342 89.3L347 88L356 85.8L371.7 82.4L385.1 79L387.2 75L388.6 68.5L389.6 47L390.7 30L391.8 25.7L392.8 32L393.9 51.4L395 66.3L397.1 77L400.3 82.4L403.5 84.5L407.8 83.9L415.3 83L422.8 84.3L427 86.6L431.3 89.4L435.6 90.3L481.5 90.3" stroke="#222" stroke-width="0.85" fill="none" stroke-linejoin="round"/><path d="M282.5 91.3L367 91.2L385 89.3L388.6 88L390.3 74L391.5 73.8L393.3 87.7L395 89.9L398.2 86.6L401.4 85.6L418.5 84.5L426 87.7L431.3 91.3L481.5 91.3" stroke="#f22" stroke-width="0.85" fill="none" stroke-dasharray="3.6 2.6"/><path d="M282.5 93.2L389 93.2L391.8 96.5L394 93.5L401 91.5L423 91L430 92.6L481.5 92.8" stroke="#33f" stroke-width="1.0" fill="none" stroke-dasharray="1 1.8"/></g><g clip-path="url(#c4)"><g><path d="M297 104.5h1m19 0h1m13 0h1m9 0h1m1 0h2m1 0h2m1 0h1m2 0h2m3 0h1m13 0h2m2 0h1m5 0h1m1 0h2m2 0h2m43 0h1m10 0h1m5 0h2m3 0h1m5 0h1m2 0h1m3 0h1m7 0h1m1 0h2m1 0h1M296 105.5h1m8 0h1m3 0h1m21 0h2m2 0h1m2 0h1m9 0h1m2 0h2m4 0h1m2 0h1m11 0h1m2 0h1m5 0h1m2 0h1m5 0h2m3 0h1m8 0h1m32 0h1m5 0h1m25 0h2m1 0h2m3 0h1m2 0h1M287 106.5h2m5 0h1m2 0h2m2 0h1m2 0h1m6 0h1m2 0h2m5 0h1m11 0h1m3 0h1m2 0h1m3 0h1m3 0h1m2 0h1m85 0h1m5 0h1m1 0h1m1 0h1m2 0h1m2 0h1m5 0h2m5 0h1m2 0h1m3 0h1m1 0h1m2 0h2M290 107.5h1m8 0h1m1 0h1m8 0h1m2 0h2m9 0h1m4 0h2m5 0h1m4 0h1m106 0h4m1 0h1m22 0h1m4 0h1M285 108.5h1m3 0h1m3 0h1m1 0h2m2 0h1m3 0h1m10 0h1m8 0h1m2 0h4m1 0h1m1 0h1m4 0h1m56 0h2m25 0h1m15 0h1m7 0h1m2 0h1m19 0h2m2 0h1m5 0h2M285 109.5h1m8 0h1m3 0h1m12 0h1m8 0h1m9 0h1m5 0h1m1 0h1m43 0h1m15 0h1m29 0h1m42 0h1M284 110.5h1m44 0h1m8 0h1m2 0h2m1 0h1m35 0h1m14 0h1m3 0h1m1 0h2m1 0h2m15 0h1m10 0h1m17 0h1m11 0h2M285 111.5h1m1 0h1m1 0h1m2 0h2m4 0h1m3 0h2m22 0h1m1 0h1m6 0h1m1 0h2m3 0h1m6 0h1m22 0h1m4 0h1m1 0h1m2 0h1m5 0h1m3 0h2m5 0h2m2 0h3m1 0h1m1 0h1m2 0h1m3 0h1m1 0h2m3 0h1m26 0h1m3 0h2m15 0h1m5 0h2M283 112.5h1m8 0h3m2 0h2m13 0h3m1 0h1m9 0h3m8 0h1m49 0h1m5 0h1m7 0h1m9 0h1m2 0h1m9 0h1m1 0h1m13 0h1m1 0h2m3 0h1m21 0h1M292 113.5h1m1 0h1m1 0h1m6 0h2m6 0h1m2 0h1m6 0h1m1 0h1m1 0h2m11 0h1m36 0h1m12 0h1m15 0h1m3 0h1m8 0h1m4 0h2m2 0h1m2 0h1m4 0h1m8 0h1m13 0h1m6 0h2m8 0h1m1 0h1m2 0h1M293 114.5h1m3 0h1m2 0h2m1 0h1m1 0h1m4 0h1m2 0h1m1 0h2m3 0h3m1 0h3m3 0h3m3 0h1m1 0h1m2 0h1m5 0h1m8 0h1m22 0h1m4 0h1m12 0h1m9 0h1m13 0h1m5 0h1m1 0h1m4 0h2m3 0h1m1 0h1m6 0h1m6 0h1m1 0h1m3 0h2m7 0h1m3 0h1M293 115.5h1m1 0h1m2 0h1m1 0h1m3 0h2m4 0h1m1 0h2m1 0h1m1 0h1m2 0h4m3 0h2m2 0h1m1 0h1m5 0h3m10 0h1m1 0h1m2 0h1m8 0h1m1 0h1m2 0h1m4 0h1m2 0h1m14 0h1m3 0h1m8 0h1m2 0h1m2 0h1m3 0h1m3 0h1m9 0h1m14 0h1m2 0h1m8 0h3m1 0h5m4 0h1m4 0h1M282 116.5h1m3 0h1m7 0h2m5 0h1m3 0h1m2 0h2m2 0h1m2 0h2m1 0h1m3 0h1m6 0h1m1 0h1m3 0h2m2 0h1m2 0h1m1 0h1m1 0h1m1 0h1m2 0h1m13 0h1m3 0h2m1 0h1m1 0h1m1 0h1m2 0h1m4 0h1m12 0h2m5 0h1m3 0h2m1 0h1m5 0h1m6 0h2m9 0h2m9 0h1m8 0h1m10 0h1m10 0h2m1 0h1M291 117.5h1m7 0h3m2 0h1m5 0h1m7 0h1m4 0h1m2 0h6m2 0h1m1 0h1m8 0h1m3 0h1m1 0h1m1 0h2m3 0h1m8 0h2m1 0h1m1 0h1m2 0h3m4 0h1m6 0h1m5 0h2m4 0h2m1 0h1m4 0h1m2 0h1m2 0h2m9 0h1m1 0h1m2 0h1m7 0h1m8 0h1m2 0h1m3 0h4m4 0h1m3 0h1m4 0h1m2 0h1m5 0h1M282 118.5h2m9 0h3m1 0h1m2 0h1m5 0h1m2 0h1m1 0h1m1 0h1m1 0h1m3 0h1m4 0h1m7 0h1m4 0h1m8 0h1m5 0h1m1 0h1m1 0h1m2 0h1m3 0h1m5 0h1m3 0h1m3 0h1m2 0h1m1 0h2m2 0h1m3 0h3m5 0h1m4 0h6m3 0h1m1 0h2m7 0h2m5 0h1m2 0h2m5 0h1m1 0h2m4 0h1m1 0h1m1 0h1m3 0h3m3 0h4m3 0h1m2 0h1m1 0h1m1 0h1m4 0h1M282 119.5h3m2 0h2m2 0h1m1 0h1m1 0h1m3 0h1m1 0h7m4 0h1m1 0h1m1 0h4m1 0h1m5 0h1m2 0h3m1 0h3m1 0h2m1 0h1m2 0h1m2 0h1m2 0h1m4 0h1m4 0h1m3 0h1m1 0h1m2 0h1m6 0h1m7 0h1m1 0h1m10 0h1m2 0h2m1 0h1m1 0h2m2 0h1m1 0h1m1 0h2m2 0h1m1 0h2m1 0h1m1 0h1m4 0h1m1 0h3m9 0h1m1 0h2m10 0h1m2 0h1m5 0h2m3 0h2m6 0h1m1 0h1M285 120.5h2m1 0h1m3 0h2m6 0h1m1 0h1m2 0h2m3 0h2m2 0h1m1 0h3m1 0h2m1 0h2m1 0h2m5 0h1m3 0h3m4 0h1m12 0h2m1 0h1m1 0h1m1 0h1m1 0h2m2 0h2m1 0h2m1 0h2m7 0h2m1 0h1m1 0h1m4 0h3m1 0h1m5 0h1m1 0h1m1 0h2m2 0h1m1 0h1m3 0h3m6 0h2m1 0h2m2 0h3m1 0h2m1 0h2m6 0h1m2 0h1m3 0h3m2 0h1m3 0h1m2 0h1m4 0h3M283 121.5h1m4 0h1m2 0h3m3 0h1m1 0h1m4 0h3m2 0h2m2 0h1m5 0h1m1 0h1m1 0h1m1 0h1m1 0h1m1 0h1m4 0h1m2 0h2m8 0h1m4 0h2m9 0h4m1 0h1m3 0h1m1 0h2m1 0h1m3 0h1m4 0h1m2 0h1m3 0h4m1 0h1m2 0h1m3 0h1m2 0h2m5 0h1m1 0h3m5 0h1m1 0h1m1 0h1m1 0h1m2 0h2m1 0h1m1 0h1m3 0h1m1 0h1m4 0h1m4 0h1m3 0h1m4 0h1m6 0h4m5 0h1M285 122.5h1m4 0h1m5 0h1m1 0h1m2 0h2m1 0h2m5 0h1m1 0h1m3 0h1m1 0h5m13 0h2m1 0h1m2 0h1m2 0h3m1 0h1m3 0h1m4 0h5m2 0h1m1 0h4m3 0h2m4 0h2m2 0h2m6 0h1m2 0h2m27 0h1m3 0h1m2 0h2m3 0h1m6 0h1m3 0h1m3 0h1m1 0h1m2 0h1m4 0h2m6 0h1m1 0h2m2 0h1m1 0h1m2 0h1M282 123.5h3m3 0h2m1 0h1m2 0h1m4 0h3m11 0h1m1 0h3m1 0h2m4 0h1m4 0h1m3 0h1m3 0h2m1 0h2m4 0h4m1 0h2m8 0h2m1 0h1m7 0h1m8 0h1m2 0h1m3 0h1m2 0h1m1 0h1m2 0h2m7 0h3m3 0h1m1 0h2m3 0h2m1 0h1m3 0h1m5 0h1m3 0h3m1 0h1m5 0h2m1 0h1m2 0h1m3 0h1m6 0h1m3 0h2m4 0h2m2 0h1m1 0h1M282 124.5h1m3 0h1m3 0h2m3 0h1m2 0h1m10 0h1m2 0h3m4 0h1m3 0h1m5 0h3m11 0h1m2 0h1m4 0h2m2 0h1m5 0h1m1 0h1m2 0h1m1 0h2m5 0h2m1 0h1m3 0h1m1 0h2m5 0h2m2 0h1m6 0h1m1 0h1m1 0h1m1 0h1m5 0h4m9 0h1m1 0h1m2 0h1m4 0h1m3 0h2m11 0h2m1 0h1m1 0h1m2 0h2m1 0h1m1 0h1m7 0h1m4 0h1M284 125.5h1m1 0h1m3 0h1m2 0h2m9 0h1m1 0h1m2 0h1m4 0h1m1 0h1m7 0h1m1 0h1m3 0h1m5 0h1m1 0h1m1 0h1m3 0h1m3 0h1m7 0h1m1 0h1m1 0h2m14 0h1m2 0h2m2 0h1m1 0h1m5 0h1m1 0h2m2 0h1m1 0h1m6 0h1m1 0h1m4 0h1m2 0h1m2 0h1m6 0h1m1 0h4m8 0h1m1 0h1m8 0h1m5 0h2m3 0h1m1 0h1m4 0h1m5 0h2m1 0h1m1 0h1M283 126.5h1m5 0h1m2 0h2m4 0h2m6 0h1m7 0h2m8 0h1m12 0h3m8 0h1m6 0h4m8 0h1m4 0h2m1 0h2m1 0h1m4 0h1m1 0h1m3 0h2m5 0h1m3 0h1m3 0h1m7 0h1m4 0h1m4 0h1m3 0h1m5 0h1m3 0h2m2 0h1m1 0h2m7 0h1m3 0h1m2 0h1m2 0h1m4 0h2m1 0h1m2 0h1m3 0h2M283 127.5h1m16 0h2m5 0h1m5 0h1m2 0h1m1 0h1m1 0h1m1 0h2m4 0h1m2 0h1m6 0h1m13 0h4m15 0h2m1 0h1m1 0h1m1 0h1m1 0h2m3 0h1m1 0h1m2 0h2m1 0h3m8 0h2m4 0h1m1 0h1m9 0h1m4 0h2m6 0h2m2 0h1m2 0h1m9 0h1m3 0h4m2 0h2m1 0h2m2 0h2m4 0h1m3 0h1M287 128.5h1m19 0h1m12 0h1m3 0h1m2 0h1m13 0h1m8 0h2m4 0h1m1 0h2m7 0h2m2 0h1m1 0h1m4 0h2m1 0h1m2 0h2m12 0h3m5 0h1m3 0h2m1 0h2m11 0h2m1 0h3m1 0h1m4 0h1m4 0h1m2 0h1m5 0h2m2 0h1m4 0h1m2 0h1m2 0h4m1 0h3M284 129.5h1m8 0h1m2 0h1m15 0h1m6 0h1m1 0h1m17 0h1m2 0h1m8 0h1m12 0h1m2 0h1m1 0h1m7 0h3m5 0h1m3 0h1m1 0h2m2 0h1m8 0h2m3 0h2m7 0h1m3 0h1m1 0h1m1 0h1m3 0h2m1 0h1m7 0h1m4 0h1m3 0h1m1 0h1m5 0h4m1 0h1m4 0h1m2 0h2m1 0h2m4 0h1M291 130.5h1m16 0h2m2 0h2m3 0h1m3 0h1m3 0h1m15 0h1m1 0h1m2 0h2m1 0h1m17 0h1m5 0h1m10 0h1m2 0h1m1 0h2m1 0h1m1 0h1m2 0h1m6 0h2m9 0h2m2 0h1m1 0h1m3 0h1m7 0h1m3 0h1m1 0h1m9 0h2m4 0h1m3 0h1m1 0h1m3 0h1M284 131.5h1m11 0h1m16 0h1m10 0h2m1 0h1m6 0h1m9 0h1m3 0h1m6 0h2m5 0h2m8 0h1m1 0h1m4 0h1m2 0h1m6 0h2m2 0h1m2 0h1m1 0h1m2 0h1m7 0h1m10 0h1m1 0h1m2 0h1m7 0h1m3 0h1m9 0h2m3 0h1m11 0h1m1 0h1m8 0h1m3 0h2M287 132.5h1m18 0h1m8 0h2m1 0h1m7 0h1m2 0h1m4 0h1m3 0h1m4 0h1m1 0h2m4 0h1m2 0h1m1 0h1m6 0h1m10 0h1m2 0h1m2 0h1m1 0h1m3 0h1m1 0h2m4 0h1m3 0h1m7 0h1m1 0h1m1 0h1m14 0h1m12 0h1m4 0h1m4 0h1m4 0h1m3 0h2m10 0h1M284 133.5h1m11 0h1m6 0h1m3 0h1m7 0h1m11 0h1m1 0h1m1 0h1m2 0h1m2 0h1m5 0h1m1 0h1m1 0h1m1 0h1m1 0h1m1 0h1m3 0h1m5 0h1m3 0h1m2 0h1m10 0h1m3 0h1m1 0h2m2 0h3m1 0h1m2 0h1m1 0h1m2 0h1m11 0h2m3 0h2m1 0h1m2 0h1m3 0h1m1 0h1m1 0h3m2 0h1m1 0h1m4 0h1m2 0h1m1 0h1m2 0h1M293 134.5h1m3 0h1m12 0h1m3 0h2m3 0h2m5 0h1m1 0h1m8 0h1m14 0h1m5 0h1m1 0h1m4 0h1m9 0h1m10 0h1m2 0h1m8 0h1m6 0h4m1 0h2m4 0h1m11 0h1m1 0h1m3 0h1m1 0h2m7 0h2M282 135.5h1m9 0h3m3 0h1m6 0h1m6 0h1m1 0h2m17 0h1m1 0h2m3 0h2m5 0h1m1 0h1m10 0h2m2 0h1m2 0h1m1 0h1m3 0h1m3 0h1m2 0h1m4 0h1m1 0h1m2 0h2m3 0h1m3 0h1m6 0h1m10 0h1m2 0h1m2 0h1m1 0h1m3 0h2m8 0h1m6 0h3m1 0h1m11 0h1m13 0h1M294 136.5h3m2 0h1m3 0h1m2 0h1m1 0h1m4 0h1m1 0h1m5 0h1m5 0h1m1 0h1m2 0h2m4 0h1m15 0h1m18 0h1m2 0h1m2 0h1m3 0h2m5 0h3m2 0h2m2 0h1m1 0h1m2 0h2m4 0h2m3 0h1m1 0h1m2 0h2m7 0h1m11 0h1m2 0h1m5 0h1m5 0h1m8 0h3m5 0h1M288 137.5h1m3 0h1m1 0h1m9 0h2m3 0h1m8 0h2m9 0h1m9 0h1m6 0h1m5 0h1m10 0h2m5 0h1m1 0h1m4 0h1m1 0h1m1 0h1m2 0h2m1 0h1m1 0h3m1 0h1m1 0h1m3 0h1m1 0h2m4 0h2m1 0h1m5 0h2m3 0h1m1 0h2m4 0h1m4 0h1m4 0h1m20 0h1m10 0h2M283 138.5h1m2 0h1m11 0h1m1 0h2m2 0h1m10 0h1m11 0h1m2 0h1m7 0h1m6 0h1m4 0h3m3 0h1m1 0h1m2 0h3m1 0h1m1 0h1m4 0h1m6 0h1m9 0h2m1 0h1m2 0h1m2 0h2m4 0h1m2 0h1m3 0h1m14 0h1m2 0h2m7 0h1m1 0h1m2 0h2m4 0h1m2 0h1m1 0h1m3 0h1m13 0h1m6 0h1M290 139.5h1m7 0h1m2 0h1m4 0h1m9 0h1m6 0h2m11 0h1m5 0h1m5 0h1m1 0h1m4 0h1m1 0h1m5 0h1m3 0h1m7 0h1m12 0h1m1 0h1m4 0h2m3 0h1m3 0h2m2 0h1m3 0h1m2 0h1m3 0h1m2 0h1m3 0h1m2 0h1m2 0h1m1 0h1m9 0h1m1 0h1m3 0h1m2 0h1m5 0h1M283 140.5h1m8 0h1m19 0h1m6 0h1m4 0h3m10 0h1m7 0h1m2 0h1m3 0h1m1 0h1m3 0h2m3 0h2m2 0h1m3 0h1m2 0h3m1 0h1m2 0h5m3 0h1m4 0h1m5 0h1m3 0h2m3 0h2m3 0h1m12 0h1m1 0h1m1 0h3m3 0h1m6 0h1m11 0h1m2 0h2m1 0h1m3 0h1m3 0h1M287 141.5h1m11 0h1m3 0h2m3 0h1m31 0h1m3 0h1m18 0h1m1 0h1m7 0h2m4 0h1m2 0h1m2 0h1m2 0h1m2 0h3m6 0h5m2 0h1m1 0h1m1 0h7m1 0h1m5 0h1m2 0h1m5 0h1m3 0h1m6 0h2m1 0h1m8 0h1m3 0h1m16 0h1m2 0h1M285 142.5h1m5 0h1m22 0h1m6 0h1m14 0h1m2 0h1m13 0h1m3 0h1m1 0h3m2 0h1m11 0h2m1 0h1m1 0h2m2 0h2m2 0h1m1 0h2m1 0h2m3 0h1m1 0h1m6 0h3m2 0h2m1 0h1m3 0h1m3 0h1m12 0h1m8 0h1m3 0h1m6 0h1m6 0h2m10 0h2m2 0h2M298 143.5h1m3 0h1m3 0h1m8 0h1m3 0h1m10 0h1m5 0h1m3 0h1m5 0h1m7 0h1m15 0h1m3 0h2m2 0h1m5 0h1m4 0h2m5 0h1m1 0h1m2 0h1m1 0h2m8 0h1m3 0h2m4 0h1m3 0h1m19 0h1m3 0h1m6 0h1m5 0h1m9 0h2M282 144.5h1m13 0h1m8 0h2m2 0h1m3 0h1m6 0h1m20 0h1m5 0h1m2 0h1m3 0h1m2 0h1m2 0h2m2 0h1m4 0h3m2 0h1m2 0h1m2 0h1m2 0h2m1 0h1m1 0h2m1 0h1m1 0h1m2 0h1m2 0h2m1 0h1m4 0h1m5 0h2m1 0h1m5 0h1m1 0h2m5 0h1m3 0h2m9 0h1m2 0h2m12 0h1m2 0h1m1 0h2M292 145.5h1m4 0h1m5 0h1m1 0h1m2 0h1m6 0h2m6 0h1m11 0h1m3 0h2m6 0h1m8 0h1m6 0h1m2 0h2m4 0h2m4 0h1m2 0h1m4 0h2m4 0h1m3 0h1m6 0h1m1 0h1m4 0h1m5 0h1m10 0h1m1 0h1m16 0h1m4 0h2m2 0h1m5 0h1m3 0h1m1 0h1m2 0h4m2 0h1m3 0h1M286 146.5h2m15 0h2m4 0h1m2 0h1m11 0h1m4 0h1m8 0h2m4 0h1m3 0h1m3 0h1m1 0h1m2 0h1m7 0h3m9 0h1m1 0h1m3 0h1m1 0h3m4 0h2m2 0h2m7 0h1m1 0h1m4 0h1m3 0h3m19 0h1m8 0h1m12 0h1m2 0h1m5 0h1m1 0h1M284 147.5h1m4 0h1m8 0h1m2 0h1m10 0h1m2 0h1m6 0h2m4 0h1m1 0h1m3 0h1m15 0h1m4 0h1m1 0h1m5 0h3m7 0h1m7 0h1m4 0h1m6 0h1m2 0h2m3 0h1m10 0h1m2 0h1m1 0h2m2 0h1m2 0h2m10 0h1m3 0h2m3 0h2m1 0h2m1 0h1m1 0h2m1 0h2m2 0h1m5 0h1m7 0h1M285 148.5h2m5 0h1m13 0h1m4 0h1m1 0h3m6 0h1m2 0h2m1 0h1m1 0h2m11 0h1m6 0h1m2 0h1m1 0h1m2 0h1m1 0h1m1 0h2m6 0h1m3 0h1m6 0h1m2 0h1m2 0h1m1 0h2m1 0h1m2 0h2m1 0h5m3 0h1m1 0h1m3 0h1m2 0h1m2 0h2m1 0h1m1 0h1m2 0h1m5 0h1m1 0h1m6 0h4m2 0h4m2 0h2m2 0h1m5 0h2m1 0h1m1 0h1m6 0h1M284 149.5h1m1 0h1m2 0h1m16 0h1m6 0h2m4 0h1m1 0h1m3 0h1m3 0h2m2 0h1m17 0h2m1 0h1m5 0h1m7 0h1m1 0h2m1 0h1m1 0h2m4 0h3m2 0h2m1 0h1m1 0h2m1 0h2m1 0h1m5 0h2m1 0h1m3 0h5m2 0h2m2 0h1m2 0h1m14 0h1m1 0h1m1 0h4m1 0h1m9 0h1m1 0h1m1 0h3m2 0h1m4 0h1m2 0h1m1 0h1m3 0h1M283 150.5h1m4 0h2m2 0h1m2 0h2m5 0h3m4 0h1m7 0h1m2 0h1m2 0h1m1 0h1m3 0h2m7 0h1m10 0h1m5 0h1m8 0h1m4 0h1m7 0h1m1 0h1m2 0h1m1 0h1m1 0h1m2 0h8m3 0h1m4 0h2m1 0h1m1 0h1m2 0h1m2 0h6m2 0h1m1 0h1m2 0h1m5 0h1m1 0h2m2 0h1m1 0h1m1 0h1m1 0h1m3 0h1m1 0h2m1 0h2m2 0h2m2 0h1m1 0h1m1 0h1m1 0h1m2 0h3m2 0h1M290 151.5h2m2 0h1m7 0h1m1 0h1m2 0h2m2 0h1m1 0h1m6 0h1m3 0h2m1 0h2m2 0h1m6 0h1m5 0h1m1 0h5m5 0h2m2 0h1m1 0h3m2 0h1m3 0h1m5 0h2m1 0h4m2 0h1m4 0h1m16 0h1m2 0h1m1 0h4m1 0h1m1 0h1m1 0h1m3 0h2m1 0h1m1 0h2m2 0h1m1 0h1m4 0h1m4 0h2m5 0h2m4 0h2m5 0h1m4 0h3m2 0h3M285 152.5h1m1 0h1m1 0h1m1 0h2m5 0h1m4 0h1m1 0h1m2 0h1m4 0h1m3 0h1m4 0h1m2 0h1m1 0h2m3 0h1m5 0h1m4 0h1m2 0h1m4 0h3m2 0h1m5 0h3m12 0h2m4 0h1m1 0h1m3 0h1m1 0h2m8 0h1m3 0h3m2 0h2m6 0h1m10 0h1m4 0h3m3 0h1m3 0h1m5 0h2m1 0h1m2 0h3m13 0h1m1 0h2m3 0h2M289 153.5h1m1 0h1m2 0h1m2 0h1m2 0h1m3 0h2m1 0h2m2 0h1m3 0h2m1 0h2m5 0h1m4 0h2m3 0h1m1 0h1m4 0h1m2 0h1m1 0h3m1 0h2m1 0h1m2 0h1m2 0h1m1 0h1m1 0h2m4 0h1m2 0h1m2 0h1m2 0h2m1 0h1m3 0h1m2 0h3m7 0h1m2 0h1m1 0h2m2 0h2m3 0h1m1 0h4m4 0h1m1 0h2m1 0h1m1 0h1m2 0h2m5 0h1m1 0h1m5 0h2m1 0h1m6 0h1m1 0h1m4 0h1m1 0h1m3 0h1m3 0h1m2 0h1m1 0h1M282 154.5h3m1 0h2m1 0h1m4 0h2m2 0h1m1 0h1m1 0h2m2 0h3m3 0h1m3 0h1m1 0h2m2 0h1m2 0h1m1 0h3m1 0h1m1 0h1m2 0h2m7 0h3m8 0h3m10 0h1m1 0h1m1 0h2m1 0h1m2 0h1m6 0h1m2 0h2m2 0h3m5 0h1m2 0h2m2 0h1m2 0h1m2 0h1m9 0h2m2 0h2m1 0h1m1 0h2m1 0h2m4 0h2m2 0h2m1 0h1m1 0h1m1 0h1m2 0h2m1 0h3m1 0h1m5 0h1m1 0h3m1 0h1m3 0h3M282 155.5h2m3 0h1m1 0h1m1 0h1m3 0h2m11 0h1m2 0h1m16 0h1m5 0h1m1 0h1m3 0h1m2 0h1m1 0h3m7 0h1m2 0h1m2 0h1m1 0h3m1 0h2m1 0h1m2 0h1m2 0h1m4 0h2m4 0h1m1 0h1m6 0h2m3 0h1m8 0h2m3 0h3m2 0h1m2 0h1m1 0h1m2 0h3m2 0h2m1 0h1m8 0h1m3 0h1m5 0h1m5 0h1m1 0h1m1 0h1m4 0h1m5 0h1m1 0h1m2 0h1M284 156.5h1m1 0h1m1 0h1m5 0h1m1 0h1m4 0h2m13 0h3m1 0h1m1 0h2m5 0h3m3 0h1m6 0h3m3 0h1m6 0h1m3 0h1m4 0h1m2 0h1m3 0h1m3 0h1m19 0h1m5 0h1m9 0h1m14 0h1m5 0h1m2 0h2m3 0h1m4 0h5m2 0h2m5 0h2m1 0h1m1 0h1m9 0h1m6 0h1M283 157.5h1m2 0h1m1 0h1m1 0h2m1 0h1m1 0h1m2 0h1m7 0h1m1 0h1m10 0h1m15 0h1m1 0h2m1 0h2m2 0h1m14 0h1m3 0h1m10 0h1m12 0h1m30 0h1m1 0h1m5 0h1m1 0h2m2 0h1m1 0h1m9 0h1m3 0h1m3 0h1m2 0h3m4 0h2m1 0h3m2 0h2m4 0h3m1 0h1M282 158.5h1m1 0h2m1 0h1m1 0h1m3 0h1m9 0h1m8 0h1m6 0h1m8 0h1m1 0h1m1 0h2m6 0h3m1 0h2m1 0h1m3 0h1m1 0h1m10 0h2m2 0h2m10 0h1m14 0h1m10 0h2m7 0h1m2 0h2m1 0h1m2 0h1m4 0h2m8 0h1m3 0h2m4 0h2m2 0h2m1 0h1m3 0h2m1 0h1m3 0h1m5 0h1m1 0h1M282 159.5h1m1 0h1m9 0h2m4 0h1m3 0h1m12 0h1m2 0h1m2 0h1m2 0h2m11 0h1m9 0h1m6 0h1m3 0h1m6 0h1m3 0h2m8 0h1m6 0h1m6 0h1m10 0h1m1 0h1m3 0h1m1 0h4m2 0h1m1 0h1m6 0h1m7 0h1m5 0h1m4 0h2m2 0h2m2 0h1m1 0h2m1 0h1m1 0h2m2 0h2m4 0h1m7 0h1M287 160.5h2m19 0h2m3 0h3m3 0h1m1 0h1m4 0h2m1 0h1m3 0h2m3 0h1m11 0h1m24 0h1m13 0h1m7 0h1m12 0h1m3 0h1m3 0h1m3 0h1m1 0h1m5 0h1m1 0h2m3 0h1m3 0h1m9 0h2m8 0h1m2 0h3m4 0h2m2 0h1m1 0h2M288 161.5h1m1 0h1m1 0h1m11 0h3m8 0h1m18 0h1m5 0h1m4 0h3m1 0h1m1 0h2m2 0h1m1 0h2m5 0h1m2 0h1m4 0h1m3 0h1m9 0h1m24 0h1m4 0h1m3 0h3m2 0h1m2 0h1m3 0h2m2 0h1m1 0h2m1 0h1m8 0h2m5 0h2m4 0h1m2 0h1m2 0h1m1 0h3m1 0h2m2 0h2M282 162.5h2m2 0h1m3 0h1m1 0h1m7 0h1m1 0h1m2 0h3m2 0h1m1 0h1m3 0h2m5 0h1m8 0h1m2 0h1m5 0h1m1 0h1m3 0h1m6 0h1m3 0h1m1 0h1m3 0h3m2 0h1m7 0h1m2 0h1m2 0h1m32 0h1m7 0h1m2 0h2m1 0h1m9 0h2m1 0h1m9 0h1m3 0h1m8 0h1M287 163.5h1m1 0h2m2 0h1m9 0h1m1 0h1m2 0h3m1 0h1m1 0h1m5 0h1m4 0h3m2 0h1m8 0h1m1 0h1m11 0h1m3 0h1m1 0h1m9 0h1m15 0h1m6 0h1m1 0h1m2 0h2m1 0h1m10 0h1m8 0h2m1 0h3m3 0h1m1 0h1m3 0h1m2 0h1m12 0h1m3 0h1m4 0h1m19 0h1M295 164.5h2m3 0h1m1 0h1m1 0h1m1 0h1m1 0h1m5 0h1m2 0h1m14 0h1m3 0h1m8 0h1m9 0h2m3 0h1m3 0h1m1 0h1m2 0h1m7 0h1m9 0h1m9 0h1m11 0h1m2 0h2m2 0h1m2 0h2m2 0h1m2 0h5m5 0h1m1 0h2m1 0h2m6 0h1m1 0h1m8 0h1m5 0h1m4 0h1m2 0h2m1 0h1m1 0h1M282 165.5h1m1 0h2m12 0h1m10 0h1m1 0h1m1 0h3m8 0h1m3 0h3m1 0h1m5 0h1m3 0h3m2 0h1m6 0h1m2 0h2m8 0h1m1 0h2m1 0h2m2 0h1m2 0h1m3 0h3m7 0h2m1 0h2m2 0h1m9 0h2m4 0h1m6 0h3m8 0h3m8 0h1m17 0h3m1 0h1m1 0h1m1 0h5m1 0h1m1 0h2M283 166.5h1m1 0h2m2 0h2m4 0h1m2 0h4m3 0h3m6 0h1m1 0h1m1 0h1m2 0h1m3 0h1m2 0h1m1 0h1m1 0h1m6 0h1m6 0h2m2 0h1m2 0h1m2 0h3m6 0h1m2 0h1m2 0h1m2 0h1m2 0h1m1 0h1m5 0h1m3 0h1m18 0h1m8 0h1m4 0h1m1 0h1m1 0h1m2 0h1m5 0h1m17 0h1m3 0h1m1 0h1m6 0h1m1 0h1m3 0h1m2 0h1m1 0h2M282 167.5h1m1 0h3m1 0h1m1 0h1m1 0h2m1 0h1m1 0h2m5 0h1m3 0h2m1 0h1m8 0h3m2 0h1m3 0h1m5 0h1m9 0h1m1 0h2m1 0h2m2 0h1m1 0h1m1 0h1m4 0h3m2 0h1m2 0h1m5 0h1m1 0h1m5 0h2m2 0h1m2 0h1m2 0h1m5 0h1m1 0h1m2 0h1m2 0h2m3 0h3m1 0h1m1 0h3m2 0h1m1 0h2m3 0h2m8 0h2m2 0h1m1 0h4m2 0h1m1 0h1m7 0h1m11 0h1m4 0h1M282 168.5h1m2 0h1m2 0h1m1 0h1m3 0h4m5 0h2m4 0h1m1 0h1m1 0h3m1 0h1m3 0h1m2 0h1m1 0h1m1 0h1m5 0h1m1 0h2m3 0h1m3 0h5m2 0h2m2 0h1m2 0h1m3 0h1m1 0h1m2 0h1m2 0h2m2 0h1m5 0h1m3 0h1m2 0h2m4 0h1m2 0h1m1 0h1m1 0h3m3 0h1m5 0h1m2 0h1m6 0h1m5 0h2m1 0h1m1 0h1m1 0h1m4 0h1m3 0h1m5 0h1m2 0h1m1 0h1m4 0h1m1 0h1m1 0h2m3 0h2m2 0h2M283 169.5h1m1 0h3m1 0h1m3 0h1m1 0h2m8 0h4m1 0h2m3 0h1m1 0h1m1 0h1m1 0h2m3 0h1m2 0h2m1 0h1m2 0h4m3 0h1m1 0h1m9 0h1m1 0h1m2 0h1m2 0h1m1 0h1m4 0h1m1 0h1m7 0h2m11 0h1m9 0h2m3 0h1m5 0h1m6 0h1m1 0h1m5 0h1m14 0h1m10 0h1m2 0h1m9 0h3m1 0h1m2 0h2m1 0h1M282 170.5h1m1 0h1m1 0h4m1 0h2m5 0h2m2 0h1m3 0h1m1 0h1m1 0h1m4 0h2m2 0h3m4 0h2m2 0h1m1 0h1m1 0h1m3 0h2m3 0h1m1 0h1m3 0h2m2 0h1m6 0h1m1 0h1m4 0h1m1 0h2m3 0h1m10 0h1m22 0h2m2 0h1m5 0h1m7 0h1m2 0h1m3 0h1m13 0h1m12 0h1m3 0h1m3 0h1m1 0h1m4 0h1M285 171.5h1m1 0h1m2 0h1m6 0h1m12 0h2m2 0h1m1 0h1m8 0h1m3 0h2m10 0h1m4 0h2m1 0h1m7 0h2m2 0h1m2 0h1m1 0h1m1 0h1m4 0h1m5 0h1m5 0h1m4 0h1m3 0h1m11 0h1m1 0h1m1 0h1m5 0h1m1 0h1m5 0h1m2 0h1m1 0h3m1 0h1m1 0h1m2 0h1m3 0h1m5 0h1m2 0h1m6 0h1m1 0h1m5 0h1m5 0h3m3 0h1m2 0h1M282 172.5h1m1 0h1m3 0h1m1 0h1m3 0h2m7 0h1m1 0h2m4 0h1m2 0h1m4 0h3m2 0h1m2 0h1m2 0h2m13 0h1m1 0h1m1 0h1m1 0h2m2 0h3m20 0h1m4 0h1m2 0h2m2 0h1m5 0h1m2 0h1m4 0h1m5 0h1m7 0h1m1 0h1m2 0h3m4 0h3m2 0h3m4 0h1m4 0h1m2 0h1m5 0h2m1 0h1m1 0h1m1 0h1m4 0h1m3 0h4m4 0h1M282 173.5h1m1 0h1m3 0h1m1 0h1m2 0h2m8 0h1m1 0h2m1 0h1m6 0h1m9 0h1m10 0h1m7 0h1m18 0h1m3 0h2m1 0h2m6 0h2m3 0h2m5 0h2m4 0h2m2 0h1m2 0h1m1 0h1m1 0h2m3 0h1m1 0h1m1 0h2m2 0h1m2 0h1m3 0h1m9 0h1m3 0h1m6 0h1m2 0h2m7 0h1m9 0h3m3 0h2M283 174.5h2m3 0h1m6 0h1m2 0h1m3 0h3m1 0h4m1 0h1m2 0h2m3 0h1m1 0h1m1 0h1m4 0h1m3 0h1m3 0h1m3 0h1m4 0h2m7 0h1m2 0h1m4 0h2m4 0h1m9 0h1m5 0h1m2 0h1m3 0h3m5 0h1m2 0h2m2 0h2m10 0h1m1 0h1m1 0h1m2 0h1m22 0h1m4 0h1m8 0h1m3 0h1m3 0h2m2 0h1M286 175.5h1m4 0h2m4 0h1m2 0h1m2 0h3m1 0h1m1 0h1m2 0h1m3 0h6m7 0h1m4 0h1m1 0h1m2 0h2m1 0h1m8 0h1m6 0h1m1 0h1m13 0h1m4 0h1m5 0h1m1 0h1m6 0h5m1 0h1m1 0h1m5 0h1m3 0h1m1 0h1m2 0h1m2 0h1m1 0h1m1 0h2m5 0h2m2 0h1m4 0h1m11 0h1m2 0h1m6 0h1m2 0h1m3 0h1m3 0h1m1 0h1m1 0h1M283 176.5h2m2 0h1m2 0h1m2 0h2m1 0h1m1 0h1m12 0h2m1 0h1m1 0h1m1 0h2m5 0h1m1 0h1m6 0h2m3 0h1m5 0h2m1 0h1m3 0h1m2 0h1m3 0h2m1 0h1m1 0h1m6 0h2m2 0h1m4 0h2m3 0h1m2 0h1m8 0h3m2 0h1m2 0h1m3 0h1m4 0h2m1 0h1m8 0h1m2 0h1m3 0h1m4 0h2m14 0h1m5 0h2m1 0h4m5 0h2m1 0h1m3 0h1M293 177.5h4m1 0h1m2 0h3m9 0h1m7 0h1m1 0h1m2 0h1m9 0h1m1 0h2m3 0h1m3 0h1m3 0h1m1 0h5m2 0h2m2 0h1m4 0h1m2 0h1m6 0h1m8 0h1m2 0h2m1 0h2m4 0h1m14 0h1m1 0h2m2 0h3m4 0h2m4 0h1m6 0h1m2 0h1m16 0h1m2 0h1m2 0h1m1 0h3m1 0h1m4 0h1m2 0h1M282 178.5h1m2 0h1m3 0h1m3 0h1m1 0h2m1 0h2m5 0h1m1 0h1m1 0h2m7 0h1m3 0h2m1 0h1m1 0h2m2 0h1m3 0h1m1 0h1m1 0h1m2 0h2m4 0h2m3 0h2m9 0h2m1 0h1m7 0h1m1 0h1m1 0h1m10 0h1m1 0h1m1 0h1m14 0h1m4 0h1m2 0h1m2 0h3m2 0h1m3 0h2m2 0h2m2 0h1m2 0h1m1 0h1m3 0h1m9 0h1m3 0h1m5 0h1m10 0h1m3 0h1M283 179.5h1m2 0h3m1 0h1m1 0h2m3 0h1m4 0h1m3 0h1m2 0h1m2 0h1m3 0h3m3 0h1m1 0h1m7 0h1m1 0h1m2 0h1m3 0h2m1 0h1m2 0h1m3 0h2m1 0h2m1 0h2m1 0h2m1 0h1m8 0h1m1 0h1m7 0h1m17 0h1m6 0h1m1 0h2m8 0h1m4 0h3m1 0h1m1 0h1m4 0h1m12 0h1m6 0h1m15 0h1m1 0h1M282 180.5h2m1 0h1m3 0h1m1 0h1m2 0h2m3 0h2m1 0h1m3 0h1m2 0h2m2 0h1m1 0h1m1 0h1m4 0h2m1 0h2m2 0h3m1 0h1m13 0h1m1 0h1m1 0h2m5 0h1m24 0h3m3 0h1m1 0h1m4 0h1m3 0h2m1 0h1m2 0h1m1 0h1m5 0h2m5 0h1m1 0h1m2 0h1m4 0h1m7 0h1m4 0h1m4 0h1m2 0h2m4 0h1m7 0h1m5 0h1M282 181.5h2m9 0h1m1 0h2m1 0h2m1 0h1m3 0h1m2 0h1m1 0h1m3 0h1m1 0h1m8 0h1m5 0h1m3 0h2m3 0h1m2 0h2m4 0h2m7 0h1m20 0h1m5 0h1m1 0h5m2 0h1m1 0h1m5 0h1m1 0h1m2 0h1m3 0h4m1 0h1m2 0h1m2 0h4m5 0h1m16 0h1m1 0h1m13 0h1m9 0h1m6 0h1M282 182.5h1m5 0h2m5 0h2m2 0h1m1 0h3m3 0h1m4 0h1m6 0h1m2 0h3m3 0h2m8 0h1m2 0h1m4 0h1m5 0h1m1 0h2m11 0h1m8 0h3m22 0h1m6 0h2m5 0h1m1 0h3m8 0h1m1 0h1m6 0h2m1 0h1m2 0h1m3 0h1m7 0h1m4 0h1M284 183.5h3m2 0h1m2 0h1m2 0h1m1 0h4m3 0h1m1 0h2m1 0h2m1 0h1m2 0h2m1 0h1m1 0h1m2 0h1m1 0h1m3 0h2m2 0h1m2 0h2m1 0h1m4 0h1m6 0h1m3 0h1m19 0h3m4 0h1m1 0h1m6 0h1m1 0h1m39 0h2m4 0h3m8 0h4m1 0h1m13 0h2m2 0h1m7 0h1M288 184.5h3m3 0h2m6 0h2m12 0h1m4 0h1m6 0h1m4 0h1m2 0h1m3 0h1m1 0h2m3 0h1m2 0h1m3 0h1m1 0h1m12 0h1m8 0h1m1 0h1m2 0h1m1 0h1m1 0h2m15 0h1m8 0h1m6 0h1m10 0h1m3 0h1m1 0h1m2 0h2m1 0h2m6 0h1m3 0h2m12 0h1m2 0h1m2 0h1m2 0h1M283 185.5h1m1 0h2m4 0h2m6 0h1m1 0h4m2 0h2m1 0h1m6 0h1m2 0h3m1 0h3m1 0h2m7 0h1m6 0h1m3 0h1m7 0h1m9 0h1m11 0h1m8 0h1m4 0h1m36 0h1m1 0h1m2 0h1m1 0h1m8 0h2m1 0h1m7 0h2m22 0h1M285 186.5h1m1 0h3m2 0h1m2 0h1m2 0h1m7 0h2m2 0h2m4 0h1m2 0h2m1 0h1m2 0h1m1 0h1m2 0h1m2 0h2m3 0h1m2 0h2m8 0h1m1 0h1m1 0h1m14 0h1m1 0h1m4 0h1m1 0h1m6 0h2m14 0h1m14 0h2m12 0h1m6 0h2m1 0h2m3 0h1m5 0h3m2 0h3m3 0h1m1 0h2m5 0h1m1 0h1m1 0h2M289 187.5h2m2 0h2m1 0h2m2 0h1m2 0h1m1 0h1m1 0h1m6 0h1m1 0h1m5 0h1m1 0h3m2 0h1m1 0h1m1 0h1m4 0h1m4 0h1m1 0h1m4 0h2m1 0h1m4 0h2m3 0h1m13 0h1m8 0h1m6 0h1m4 0h1m5 0h1m3 0h1m2 0h2m1 0h1m3 0h2m6 0h2m3 0h1m3 0h1m8 0h1m5 0h1m4 0h1m6 0h3m1 0h1m1 0h1m6 0h7M283 188.5h1m2 0h1m2 0h5m3 0h1m1 0h1m1 0h2m2 0h1m4 0h1m1 0h1m6 0h3m2 0h1m1 0h3m1 0h1m3 0h1m5 0h3m6 0h1m2 0h1m6 0h1m14 0h2m4 0h2m10 0h3m1 0h1m3 0h2m3 0h1m8 0h1m2 0h1m3 0h1m1 0h1m3 0h1m2 0h4m4 0h2m1 0h1m1 0h1m2 0h1m4 0h1m4 0h1m1 0h1m1 0h1m3 0h3m2 0h4m4 0h2m2 0h1M282 189.5h2m1 0h1m2 0h1m3 0h3m3 0h1m8 0h2m3 0h2m1 0h1m2 0h2m3 0h1m3 0h3m8 0h1m3 0h1m1 0h1m1 0h1m3 0h1m10 0h1m8 0h1m9 0h1m2 0h1m2 0h2m6 0h1m3 0h1m1 0h3m8 0h1m16 0h3m2 0h2m3 0h1m4 0h3m3 0h1m5 0h1m2 0h1m3 0h1m3 0h1m4 0h2m3 0h1m3 0h1M282 190.5h3m2 0h1m1 0h1m1 0h2m2 0h1m8 0h1m1 0h2m10 0h1m3 0h1m10 0h1m1 0h2m3 0h1m1 0h1m1 0h1m1 0h2m2 0h2m1 0h1m1 0h1m1 0h1m3 0h3m10 0h1m14 0h1m5 0h1m4 0h1m10 0h1m1 0h1m2 0h2m4 0h1m1 0h1m9 0h1m3 0h1m3 0h1m2 0h1m6 0h2m1 0h1m8 0h1m7 0h1m2 0h1m2 0h1m1 0h1M283 191.5h1m4 0h1m1 0h2m4 0h1m2 0h1m2 0h1m1 0h2m10 0h1m17 0h1m1 0h1m2 0h1m2 0h2m7 0h1m3 0h1m2 0h1m2 0h1m3 0h2m2 0h2m7 0h1m5 0h1m5 0h1m21 0h2m5 0h1m2 0h1m4 0h1m4 0h1m10 0h1m5 0h1m1 0h2m14 0h1m3 0h1M289 192.5h1m6 0h1m1 0h1m23 0h2m2 0h1m1 0h1m13 0h1m15 0h1m33 0h1m5 0h1m1 0h1m4 0h1m2 0h1m1 0h1m1 0h1m1 0h1m2 0h1m5 0h1m4 0h2m3 0h1m2 0h1m4 0h1m1 0h2m31 0h2M282 193.5h1m11 0h4m4 0h1m14 0h1m4 0h1m2 0h1m3 0h2m2 0h2m18 0h1m5 0h1m13 0h1m4 0h1m10 0h1m5 0h1m1 0h3m6 0h2m2 0h1m3 0h1m4 0h1m2 0h2m1 0h1m1 0h1m8 0h1m3 0h1m3 0h1m32 0h1m1 0h1M283 194.5h1m3 0h1m6 0h1m1 0h1m4 0h1m11 0h1m6 0h2m2 0h2m4 0h1m4 0h1m4 0h1m1 0h1m18 0h3m10 0h1m1 0h1m1 0h1m9 0h2m10 0h1m5 0h3m2 0h1m1 0h2m1 0h1m6 0h1m1 0h1m4 0h1m9 0h1m30 0h1m1 0h1m5 0h2M287 195.5h1m6 0h1m10 0h1m1 0h1m1 0h1m20 0h3m1 0h2m1 0h3m1 0h3m3 0h1m1 0h1m2 0h1m13 0h2m1 0h1m1 0h1m1 0h1m2 0h1m4 0h1m14 0h1m7 0h1m1 0h1m5 0h1m27 0h1m3 0h1m19 0h1m3 0h1m9 0h2M287 196.5h1m3 0h1m1 0h1m11 0h2m1 0h1m3 0h1m2 0h2m1 0h1m4 0h1m7 0h1m1 0h1m1 0h1m1 0h1m6 0h1m2 0h2m6 0h1m5 0h1m4 0h1m1 0h1m2 0h1m4 0h1m5 0h1m4 0h3m2 0h1m4 0h4m5 0h1m24 0h2m2 0h1m20 0h1m2 0h1m1 0h4m4 0h1m3 0h1m4 0h1M282 197.5h1m2 0h1m5 0h1m2 0h1m2 0h4m1 0h1m5 0h1m1 0h1m2 0h1m1 0h1m1 0h1m1 0h1m23 0h1m1 0h1m1 0h2m3 0h1m1 0h1m3 0h1m4 0h1m5 0h1m2 0h2m19 0h3m2 0h1m2 0h1m1 0h1m2 0h1m6 0h2m14 0h1m10 0h1m6 0h1m8 0h1m8 0h1m13 0h1m1 0h1M284 198.5h3m1 0h1m1 0h1m4 0h1m1 0h1m1 0h1m1 0h3m7 0h1m4 0h2m5 0h1m7 0h1m2 0h1m1 0h1m3 0h1m1 0h2m2 0h1m1 0h4m5 0h3m6 0h1m22 0h1m21 0h1m9 0h1m4 0h3m13 0h2m4 0h1m18 0h3m1 0h2m1 0h1m1 0h2m2 0h1M284 199.5h2m4 0h1m1 0h2m1 0h1m1 0h1m2 0h2m2 0h2m2 0h1m7 0h1m3 0h4m2 0h1m2 0h1m2 0h1m4 0h1m2 0h1m3 0h1m2 0h2m1 0h1m4 0h1m3 0h1m6 0h1m1 0h1m2 0h1m15 0h1m4 0h1m3 0h1m2 0h2m3 0h1m6 0h1m6 0h3m6 0h1m5 0h1m2 0h3m1 0h3m6 0h2m7 0h2m3 0h1m7 0h3m1 0h1m4 0h1M285 200.5h1m3 0h1m1 0h2m8 0h3m5 0h2m1 0h1m6 0h1m4 0h2m2 0h2m1 0h2m5 0h1m2 0h1m4 0h1m3 0h1m2 0h2m3 0h3m2 0h1m2 0h1m19 0h1m2 0h2m5 0h4m1 0h1m2 0h2m1 0h5m2 0h1m5 0h1m2 0h1m2 0h1m2 0h1m3 0h1m9 0h2m4 0h1m2 0h2m1 0h4m1 0h1m1 0h2m1 0h3m4 0h1m7 0h1M289 201.5h4m1 0h1m1 0h2m1 0h1m1 0h1m4 0h2m1 0h2m1 0h1m3 0h1m5 0h2m4 0h4m4 0h1m2 0h1m1 0h1m5 0h1m1 0h1m1 0h2m2 0h1m1 0h1m1 0h1m1 0h1m3 0h1m9 0h1m2 0h1m1 0h1m1 0h4m1 0h1m1 0h3m1 0h1m1 0h1m4 0h1m1 0h1m1 0h1m4 0h1m1 0h1m4 0h2m3 0h1m7 0h2m9 0h1m7 0h2m8 0h3m10 0h1m5 0h1m1 0h1m1 0h1M284 202.5h1m2 0h2m3 0h2m1 0h1m1 0h1m1 0h2m2 0h3m1 0h1m1 0h3m3 0h1m7 0h2m4 0h1m4 0h1m2 0h2m1 0h3m1 0h2m2 0h4m3 0h1m3 0h1m2 0h1m10 0h2m3 0h1m3 0h1m1 0h2m7 0h2m4 0h1m2 0h1m2 0h1m1 0h1m6 0h1m4 0h1m1 0h1m7 0h1m5 0h1m1 0h1m1 0h2m4 0h1m3 0h1m5 0h1m10 0h1m4 0h1m1 0h1m5 0h1M291 203.5h1m13 0h1m9 0h1m4 0h1m1 0h1m8 0h1m4 0h3m1 0h1m2 0h1m5 0h1m1 0h1m6 0h1m3 0h1m11 0h1m2 0h2m1 0h1m5 0h1m1 0h1m1 0h1m2 0h3m1 0h1m4 0h1m2 0h1m3 0h1m4 0h1m7 0h1m4 0h1m4 0h2m18 0h1m13 0h2m10 0h1" stroke="#e0e0e0" stroke-width="1" fill="none"/><path d="M292 104.5h1m18 0h1m1 0h2m6 0h1m5 0h2m8 0h1m4 0h1m11 0h1m9 0h1m2 0h1m1 0h1m3 0h1m3 0h2m3 0h1m9 0h1m3 0h1m6 0h1m5 0h1m1 0h2m22 0h1m11 0h1m4 0h2m4 0h2m4 0h1m4 0h1m1 0h3m7 0h1M293 105.5h2m4 0h1m2 0h1m3 0h1m3 0h1m7 0h1m18 0h1m1 0h1m1 0h1m14 0h1m1 0h1m9 0h1m5 0h1m3 0h1m8 0h1m17 0h1m26 0h1m2 0h1m2 0h2m2 0h1m2 0h1m1 0h2m5 0h1m7 0h1m1 0h1m1 0h2m10 0h2M285 106.5h1m10 0h1m2 0h2m2 0h1m4 0h1m11 0h1m3 0h2m1 0h1m4 0h1m3 0h1m1 0h1m3 0h2m2 0h1m6 0h1m4 0h1m12 0h1m1 0h1m6 0h1m9 0h1m24 0h1m9 0h1m20 0h1m1 0h2m1 0h1m4 0h1m4 0h1m2 0h1m5 0h1m5 0h2M282 107.5h2m2 0h1m2 0h1m2 0h2m2 0h1m5 0h1m1 0h1m3 0h2m1 0h2m2 0h1m4 0h1m6 0h1m14 0h2m4 0h1m7 0h1m24 0h1m10 0h1m33 0h2m1 0h2m1 0h1m7 0h1m2 0h1m3 0h1m6 0h2m6 0h1m1 0h1m3 0h1m4 0h1m4 0h2M284 108.5h1m9 0h1m5 0h2m2 0h1m3 0h1m2 0h1m1 0h1m1 0h1m3 0h1m2 0h1m1 0h1m5 0h1m1 0h1m88 0h1m5 0h1m7 0h1m4 0h3m2 0h1m4 0h1m1 0h1m2 0h2m6 0h1m7 0h1M284 109.5h1m4 0h1m6 0h1m9 0h1m1 0h1m3 0h1m3 0h2m5 0h1m3 0h1m1 0h1m2 0h1m1 0h2m1 0h1m3 0h1m36 0h1m15 0h1m9 0h1m2 0h1m10 0h1m1 0h1m3 0h1m9 0h1m4 0h2m3 0h1m8 0h1m4 0h1m4 0h1m2 0h2m6 0h1m2 0h1m2 0h1M282 110.5h1m3 0h1m25 0h1m2 0h1m16 0h3m2 0h1m1 0h2m2 0h1m1 0h1m2 0h2m1 0h1m18 0h1m8 0h1m1 0h2m5 0h1m2 0h1m1 0h2m11 0h3m2 0h1m16 0h1m2 0h1m7 0h1m1 0h1m22 0h1m5 0h2M283 111.5h1m2 0h1m7 0h1m1 0h1m8 0h2m11 0h1m5 0h1m2 0h1m1 0h1m6 0h1m2 0h1m3 0h1m3 0h1m32 0h1m5 0h1m11 0h1m9 0h1m1 0h2m12 0h1m4 0h1m16 0h1m5 0h2m11 0h3m7 0h1M282 112.5h1m1 0h3m1 0h2m10 0h3m2 0h1m2 0h1m2 0h1m8 0h1m2 0h3m4 0h2m4 0h1m4 0h1m32 0h1m3 0h1m1 0h1m13 0h2m1 0h1m2 0h1m1 0h1m3 0h2m1 0h2m11 0h1m28 0h2m18 0h1m3 0h2m3 0h1M282 113.5h2m4 0h1m6 0h1m2 0h3m6 0h2m4 0h1m1 0h1m1 0h1m2 0h1m11 0h1m6 0h1m2 0h1m1 0h1m54 0h1m1 0h1m19 0h1m5 0h1m5 0h1m1 0h1m2 0h1m3 0h1m8 0h1m1 0h1m6 0h2m4 0h1m1 0h1m11 0h1M287 114.5h5m2 0h2m12 0h2m2 0h1m1 0h1m2 0h2m9 0h1m4 0h1m5 0h2m1 0h1m1 0h2m3 0h1m1 0h2m4 0h2m1 0h1m1 0h1m6 0h3m1 0h1m4 0h1m3 0h1m2 0h1m1 0h1m22 0h1m1 0h1m2 0h1m7 0h1m7 0h1m11 0h2m2 0h1m3 0h3m2 0h1m2 0h1m7 0h2m7 0h1m2 0h1M284 115.5h3m1 0h1m3 0h1m1 0h1m2 0h1m1 0h1m3 0h1m2 0h1m2 0h1m8 0h1m5 0h1m1 0h1m2 0h2m4 0h3m6 0h1m2 0h1m1 0h3m1 0h1m1 0h2m5 0h1m1 0h2m1 0h1m2 0h1m3 0h1m2 0h1m4 0h1m10 0h1m6 0h1m4 0h1m8 0h1m5 0h1m12 0h2m17 0h1m1 0h3m10 0h1m2 0h1m1 0h1m5 0h1m1 0h2M283 116.5h1m1 0h1m2 0h4m5 0h2m1 0h1m5 0h1m7 0h1m4 0h1m1 0h1m4 0h1m3 0h1m1 0h1m5 0h1m4 0h1m11 0h2m1 0h3m7 0h1m8 0h1m2 0h1m6 0h1m1 0h1m1 0h2m6 0h1m2 0h1m4 0h1m10 0h1m4 0h1m2 0h1m6 0h1m3 0h1m2 0h2m3 0h1m2 0h1m7 0h4m1 0h1m1 0h3m5 0h1m1 0h1m1 0h1m3 0h1M283 117.5h2m3 0h1m7 0h2m9 0h3m1 0h1m2 0h3m3 0h1m1 0h1m9 0h1m4 0h2m3 0h1m12 0h1m7 0h1m1 0h2m2 0h1m1 0h1m6 0h1m1 0h1m4 0h2m3 0h2m1 0h1m4 0h1m1 0h1m5 0h1m4 0h1m1 0h1m3 0h1m2 0h5m5 0h1m4 0h1m2 0h1m21 0h1m8 0h2m5 0h1M286 118.5h1m4 0h1m4 0h1m2 0h1m1 0h1m1 0h1m6 0h1m3 0h1m10 0h1m1 0h2m1 0h1m2 0h1m40 0h1m4 0h1m16 0h1m2 0h1m1 0h1m8 0h1m5 0h2m4 0h1m4 0h1m4 0h1m12 0h1m3 0h1m3 0h1m6 0h1m6 0h1m3 0h1m6 0h1M286 119.5h1m5 0h1m31 0h1m18 0h1m18 0h2m4 0h1m3 0h1m7 0h1m6 0h1m1 0h1m4 0h1m4 0h1m12 0h1m12 0h1m1 0h1m7 0h1m1 0h1m6 0h1m17 0h1m2 0h1m4 0h1m2 0h1m1 0h1m1 0h2m1 0h1M295 120.5h1m5 0h1m1 0h1m8 0h1m2 0h1m3 0h1m8 0h4m2 0h1m1 0h1m44 0h1m2 0h1m4 0h1m4 0h1m5 0h2m12 0h1m2 0h1m6 0h2m4 0h1m10 0h1m6 0h1m6 0h1m22 0h1M287 121.5h1m1 0h1m4 0h1m12 0h1m4 0h1m3 0h1m13 0h2m3 0h1m18 0h1m12 0h1m8 0h1m1 0h1m9 0h1m1 0h1m1 0h1m6 0h1m14 0h1m1 0h1m5 0h1m19 0h1m36 0h1M287 122.5h1m3 0h1m16 0h2m2 0h1m14 0h1m3 0h1m13 0h1m5 0h1m12 0h1m9 0h1m5 0h1m3 0h1m49 0h1m3 0h2m16 0h1m4 0h1m7 0h1m5 0h1m4 0h1M287 123.5h1m5 0h1m8 0h1m8 0h1m20 0h1m23 0h1m9 0h1m3 0h1m6 0h1m1 0h1m7 0h2m2 0h1m17 0h1m7 0h2m6 0h1m1 0h1m6 0h1m18 0h1m3 0h1m6 0h1m15 0h2M294 124.5h1m25 0h1m24 0h1m3 0h1m3 0h1m10 0h1m6 0h3m3 0h1m2 0h1m15 0h1m15 0h1m6 0h1m1 0h1m4 0h1m17 0h1m15 0h1m8 0h2M296 125.5h1m1 0h1m26 0h1m36 0h1m6 0h2m7 0h1m3 0h1m3 0h2m2 0h1m12 0h1m5 0h1m1 0h1m9 0h1m24 0h2m2 0h1m3 0h1m4 0h1M286 126.5h1m14 0h1m16 0h1m2 0h1m1 0h1m2 0h1m3 0h2m9 0h1m29 0h1m8 0h1m10 0h1m3 0h1m2 0h1m7 0h1m38 0h1m2 0h1m14 0h1M324 127.5h1m5 0h1m2 0h1m36 0h1m12 0h2m3 0h2m70 0h1m11 0h1m5 0h1M319 128.5h1m35 0h1m39 0h1m23 0h1m14 0h1m4 0h2m8 0h1m9 0h1m19 0h1M305 129.5h1m1 0h1m76 0h1m32 0h1m2 0h1m4 0h1m8 0h1m20 0h1m9 0h1m13 0h1M371 130.5h1m26 0h1m14 0h1m8 0h1m30 0h1M410 131.5h1m33 0h2m7 0h1M375 132.5h1m20 0h1m3 0h1m1 0h1m9 0h1m3 0h1m39 0h1M332 133.5h1m61 0h1m4 0h1m5 0h4m2 0h1m15 0h1m12 0h1m6 0h1M351 134.5h1m10 0h1m28 0h1m8 0h1m8 0h1m4 0h1m4 0h1m7 0h1m13 0h3M389 135.5h1m2 0h1m10 0h1m45 0h1M314 136.5h1m27 0h1m57 0h1m5 0h1m2 0h1m13 0h1m6 0h1M337 137.5h1m7 0h1m15 0h2m25 0h1m5 0h1m5 0h1m3 0h1m6 0h2M323 138.5h1m18 0h1m54 0h1m4 0h1m13 0h1m1 0h1m1 0h1m1 0h1M354 139.5h1m14 0h1m15 0h1m1 0h1m1 0h1m3 0h1m16 0h1m17 0h1m9 0h1M369 140.5h1m25 0h2m2 0h1m1 0h1m13 0h1m8 0h3m7 0h1m1 0h1M285 141.5h1m110 0h1m2 0h1m8 0h1m33 0h1m31 0h1M320 142.5h1m33 0h1m38 0h1m3 0h1m2 0h1m3 0h1m7 0h1m6 0h1m11 0h1M376 143.5h1m2 0h1m5 0h1m1 0h2m4 0h1m6 0h1m8 0h3m47 0h1M315 144.5h1m13 0h1m14 0h1m17 0h1m12 0h1m5 0h1m5 0h1m4 0h1m18 0h1m6 0h1m9 0h1m12 0h1M351 145.5h1m9 0h1m18 0h1m1 0h2m4 0h1m9 0h1m23 0h1m39 0h1M326 146.5h1m19 0h1m4 0h1m26 0h1m11 0h2m2 0h2m4 0h1m12 0h1m23 0h1m23 0h1M351 147.5h1m38 0h3m1 0h1m3 0h1m3 0h1m20 0h1m2 0h1m32 0h1m20 0h2M385 148.5h1m5 0h1m1 0h1m3 0h1m9 0h1m1 0h2m6 0h1m15 0h1m11 0h1M294 149.5h1m12 0h2m49 0h1m25 0h1m3 0h1m10 0h1m1 0h2m2 0h1m2 0h1m11 0h1m4 0h1m5 0h1m37 0h1M307 150.5h1m14 0h1m50 0h1m7 0h1m22 0h1m2 0h1m38 0h1m1 0h1m10 0h1m3 0h1m5 0h1m1 0h1M284 151.5h1m18 0h1m17 0h1m13 0h1m33 0h1m26 0h1m2 0h1m2 0h2m3 0h1m4 0h1m6 0h1m3 0h1m15 0h1m6 0h1m3 0h1m1 0h1m3 0h1m9 0h1m2 0h1M282 152.5h1m3 0h1m22 0h1m5 0h1m4 0h1m8 0h1m1 0h1m1 0h3m1 0h1m2 0h1m4 0h1m22 0h1m18 0h1m5 0h4m1 0h2m20 0h1m3 0h1m2 0h1m2 0h1m6 0h1m1 0h1m2 0h2m4 0h1m13 0h2m13 0h1M293 153.5h1m2 0h1m1 0h2m14 0h1m2 0h1m2 0h1m1 0h1m1 0h1m2 0h2m12 0h1m2 0h1m10 0h1m29 0h1m1 0h1m4 0h1m8 0h1m4 0h1m17 0h1m6 0h1m3 0h1m2 0h1m4 0h1m1 0h1m4 0h1m1 0h2m2 0h1m2 0h1m3 0h1m2 0h1m2 0h1M285 154.5h1m5 0h2m3 0h2m3 0h1m3 0h1m11 0h1m6 0h1m5 0h1m3 0h2m4 0h1m2 0h1m6 0h6m3 0h1m3 0h2m2 0h1m2 0h1m11 0h1m2 0h1m12 0h1m1 0h1m1 0h1m7 0h1m2 0h1m1 0h2m1 0h1m1 0h2m1 0h1m3 0h1m2 0h1m7 0h1m13 0h1m9 0h1m1 0h1M288 155.5h1m4 0h2m2 0h1m6 0h1m1 0h2m4 0h2m8 0h2m1 0h1m7 0h1m3 0h1m1 0h1m4 0h1m7 0h2m5 0h2m8 0h1m1 0h1m7 0h1m3 0h2m3 0h1m1 0h1m2 0h1m1 0h1m2 0h1m1 0h1m3 0h6m2 0h3m3 0h1m2 0h1m26 0h1m1 0h1m2 0h1m6 0h1m1 0h1m5 0h1m2 0h2m1 0h1m2 0h1m2 0h1M287 156.5h1m2 0h1m13 0h1m2 0h1m2 0h1m1 0h3m6 0h1m2 0h1m2 0h1m5 0h1m3 0h1m1 0h1m7 0h1m3 0h1m4 0h1m6 0h1m5 0h1m7 0h1m2 0h3m1 0h1m1 0h1m1 0h3m5 0h1m3 0h1m2 0h1m1 0h1m1 0h2m4 0h2m3 0h1m2 0h1m1 0h1m7 0h1m1 0h1m10 0h1m6 0h1m3 0h2m1 0h1m11 0h1m1 0h1m5 0h1M302 157.5h1m2 0h1m6 0h1m7 0h2m2 0h1m4 0h1m2 0h1m6 0h1m14 0h1m9 0h1m4 0h2m4 0h1m1 0h1m1 0h2m4 0h1m10 0h1m17 0h1m2 0h1m3 0h2m12 0h1m1 0h2m3 0h1m3 0h2m1 0h1m4 0h1M286 158.5h1m1 0h1m2 0h1m5 0h4m1 0h1m1 0h1m2 0h1m3 0h1m1 0h1m7 0h2m4 0h1m7 0h1m1 0h1m1 0h1m3 0h1m2 0h1m1 0h1m10 0h3m1 0h1m2 0h1m4 0h4m1 0h1m1 0h2m4 0h1m5 0h4m4 0h2m3 0h3m5 0h1m1 0h2m10 0h3m18 0h1m1 0h1m2 0h1m7 0h1m6 0h1m1 0h1m1 0h3m3 0h1M283 159.5h1m1 0h2m1 0h1m1 0h1m2 0h1m2 0h1m13 0h1m3 0h1m1 0h1m1 0h1m3 0h1m5 0h3m6 0h2m1 0h4m13 0h1m5 0h1m1 0h1m2 0h1m11 0h1m1 0h1m2 0h1m6 0h1m3 0h2m5 0h1m5 0h1m1 0h1m6 0h2m6 0h1m1 0h1m1 0h1m8 0h3m2 0h1m2 0h1m23 0h1m6 0h1M286 160.5h1m4 0h1m2 0h1m1 0h1m2 0h2m1 0h2m1 0h1m4 0h1m5 0h2m2 0h1m1 0h4m2 0h1m3 0h1m4 0h1m1 0h1m2 0h2m3 0h1m5 0h1m2 0h1m23 0h2m1 0h2m8 0h1m1 0h2m20 0h1m2 0h2m3 0h1m12 0h1m3 0h1m1 0h5m1 0h1m8 0h2m2 0h1m5 0h2m2 0h1m2 0h1m3 0h2M282 161.5h2m1 0h1m8 0h3m1 0h1m3 0h1m4 0h1m1 0h5m3 0h1m5 0h2m4 0h1m6 0h1m2 0h1m1 0h1m6 0h1m10 0h1m6 0h1m3 0h2m13 0h1m12 0h1m7 0h1m6 0h1m9 0h1m2 0h1m4 0h1m2 0h1m5 0h1m4 0h1m1 0h1m5 0h2m5 0h2m3 0h1m2 0h1m1 0h1M287 162.5h2m5 0h1m2 0h2m2 0h1m1 0h2m6 0h1m6 0h3m3 0h1m9 0h1m4 0h1m19 0h1m2 0h2m6 0h3m1 0h1m7 0h1m4 0h2m19 0h1m4 0h1m1 0h1m1 0h2m3 0h1m2 0h1m3 0h1m1 0h1m3 0h1m3 0h1m4 0h2m2 0h4m3 0h1m4 0h1m8 0h1m1 0h2m1 0h1m3 0h1M283 163.5h3m11 0h1m1 0h2m3 0h1m2 0h1m3 0h1m6 0h1m5 0h1m3 0h2m3 0h1m4 0h1m5 0h1m5 0h1m3 0h1m1 0h1m1 0h1m7 0h1m1 0h1m11 0h1m8 0h1m11 0h1m2 0h1m1 0h1m6 0h1m1 0h2m9 0h1m5 0h1m1 0h1m2 0h1m1 0h2m5 0h1m1 0h1m9 0h1m7 0h1m3 0h1m5 0h1m2 0h1M284 164.5h1m1 0h1m1 0h4m6 0h1m4 0h1m1 0h1m1 0h1m3 0h1m4 0h1m1 0h1m1 0h1m4 0h3m1 0h1m1 0h1m1 0h1m3 0h2m11 0h1m3 0h1m2 0h1m4 0h1m2 0h1m2 0h1m1 0h2m2 0h2m6 0h1m5 0h1m1 0h2m2 0h2m3 0h1m2 0h1m1 0h1m1 0h1m25 0h2m3 0h1m7 0h1m6 0h1m3 0h1m2 0h1m1 0h1m6 0h1m3 0h2m2 0h1M283 165.5h1m4 0h1m1 0h2m3 0h1m1 0h1m1 0h1m2 0h1m4 0h1m2 0h1m15 0h2m3 0h1m2 0h1m10 0h1m3 0h1m5 0h1m6 0h1m2 0h2m8 0h1m4 0h2m4 0h2m2 0h1m1 0h1m2 0h1m3 0h1m1 0h1m1 0h1m1 0h1m1 0h1m10 0h2m2 0h1m7 0h1m8 0h2m3 0h1m2 0h1m2 0h1m3 0h1m3 0h1m3 0h1m15 0h1m2 0h1M287 166.5h1m4 0h1m1 0h1m1 0h1m11 0h4m7 0h1m2 0h2m2 0h1m2 0h1m3 0h2m2 0h1m7 0h1m2 0h1m2 0h2m9 0h1m3 0h2m1 0h1m10 0h2m4 0h2m2 0h2m2 0h1m1 0h3m1 0h1m4 0h2m2 0h5m4 0h2m1 0h1m1 0h1m3 0h1m2 0h1m18 0h2m1 0h1m3 0h1m6 0h3m1 0h1m1 0h2m9 0h2M291 167.5h1m10 0h1m11 0h2m7 0h1m2 0h1m1 0h1m3 0h2m2 0h1m3 0h1m5 0h1m2 0h1m2 0h1m8 0h2m3 0h2m5 0h1m4 0h1m3 0h1m5 0h1m4 0h1m2 0h1m3 0h1m1 0h1m1 0h2m1 0h1m5 0h1m5 0h1m3 0h1m10 0h1m10 0h1m7 0h1m3 0h2m1 0h4m3 0h2m1 0h3M283 168.5h1m5 0h1m12 0h1m7 0h1m1 0h1m9 0h1m2 0h1m9 0h1m18 0h1m6 0h1m7 0h1m8 0h1m12 0h1m1 0h1m10 0h1m4 0h1m1 0h2m4 0h1m6 0h2m5 0h1m1 0h1m1 0h1m1 0h2m5 0h1m8 0h1m1 0h1m4 0h1m3 0h1m2 0h2m7 0h1m3 0h2M282 169.5h1m1 0h1m6 0h1m2 0h1m4 0h2m13 0h1m24 0h2m5 0h1m5 0h2m1 0h1m4 0h1m5 0h1m5 0h2m1 0h1m2 0h1m3 0h1m1 0h2m1 0h1m2 0h1m7 0h1m1 0h1m4 0h2m5 0h1m4 0h1m3 0h1m3 0h1m13 0h1m7 0h4m4 0h1m5 0h2m1 0h1m5 0h1m2 0h1m2 0h1m3 0h1M285 170.5h1m7 0h1m7 0h1m1 0h1m3 0h1m10 0h1m9 0h2m10 0h1m3 0h1m2 0h2m2 0h1m3 0h1m2 0h2m11 0h1m3 0h2m1 0h3m1 0h2m5 0h1m5 0h1m5 0h2m3 0h2m3 0h1m5 0h1m3 0h1m1 0h1m1 0h1m4 0h3m5 0h1m6 0h1m10 0h1m5 0h1m2 0h1m1 0h1m3 0h1m1 0h1m2 0h1m1 0h1m1 0h1M286 171.5h1m2 0h1m2 0h2m4 0h1m1 0h1m2 0h1m2 0h1m6 0h1m1 0h1m3 0h1m4 0h1m2 0h2m9 0h1m4 0h1m1 0h1m9 0h1m4 0h1m1 0h2m10 0h1m1 0h1m6 0h2m1 0h1m1 0h1m2 0h1m3 0h1m2 0h1m4 0h2m2 0h1m6 0h2m1 0h1m1 0h1m5 0h2m5 0h1m1 0h1m1 0h2m3 0h1m3 0h2m3 0h1m4 0h1m3 0h1m1 0h2m2 0h1m4 0h1m4 0h1M286 172.5h1m5 0h1m4 0h1m4 0h1m5 0h1m4 0h1m3 0h1m5 0h1m2 0h1m2 0h1m11 0h1m6 0h1m1 0h1m2 0h1m5 0h1m4 0h1m1 0h1m2 0h1m12 0h1m2 0h1m6 0h1m8 0h1m4 0h1m6 0h1m2 0h1m4 0h2m3 0h2m5 0h1m10 0h3m2 0h1m3 0h1m1 0h1m13 0h1M287 173.5h1m7 0h1m1 0h2m11 0h1m2 0h2m2 0h2m1 0h1m2 0h1m2 0h1m1 0h3m4 0h1m4 0h2m7 0h1m4 0h2m3 0h1m1 0h2m3 0h1m6 0h1m2 0h2m3 0h2m3 0h1m1 0h2m2 0h3m4 0h1m1 0h1m8 0h2m3 0h1m3 0h1m2 0h1m1 0h1m1 0h1m1 0h1m4 0h2m3 0h3m3 0h4m1 0h1m3 0h1m1 0h1m5 0h1m5 0h1m7 0h1M285 174.5h1m5 0h1m1 0h1m23 0h1m2 0h1m3 0h1m2 0h1m1 0h3m2 0h2m1 0h2m2 0h1m2 0h1m2 0h1m2 0h1m1 0h1m2 0h1m2 0h1m5 0h1m2 0h1m1 0h2m1 0h1m3 0h1m2 0h1m10 0h1m4 0h2m1 0h1m1 0h1m8 0h1m3 0h3m1 0h1m3 0h1m1 0h2m2 0h3m1 0h1m2 0h2m3 0h3m4 0h2m3 0h1m6 0h3m12 0h1m5 0h2M283 175.5h2m2 0h2m1 0h1m2 0h3m12 0h1m4 0h1m1 0h1m8 0h3m1 0h1m8 0h1m9 0h2m14 0h1m1 0h1m1 0h1m1 0h1m5 0h2m1 0h1m4 0h1m5 0h1m1 0h1m1 0h1m7 0h1m1 0h3m4 0h1m2 0h1m1 0h2m2 0h1m6 0h2m9 0h3m1 0h1m1 0h1m4 0h1m4 0h1m4 0h2m1 0h1m4 0h1m3 0h1m1 0h1m7 0h2M282 176.5h1m9 0h1m4 0h1m2 0h1m6 0h1m1 0h2m2 0h1m6 0h5m1 0h1m14 0h1m2 0h1m2 0h1m1 0h3m1 0h2m6 0h1m1 0h1m10 0h1m1 0h1m6 0h1m6 0h1m3 0h1m16 0h1m6 0h1m2 0h1m2 0h1m2 0h1m2 0h1m5 0h2m5 0h1m4 0h1m10 0h1m7 0h1m2 0h1m7 0h1m2 0h1M284 177.5h1m4 0h1m7 0h1m1 0h1m4 0h2m5 0h2m3 0h1m2 0h1m5 0h1m3 0h1m10 0h1m1 0h1m3 0h1m2 0h2m11 0h2m2 0h1m1 0h1m1 0h1m2 0h3m2 0h1m1 0h1m5 0h1m2 0h2m7 0h1m3 0h1m2 0h2m12 0h1m5 0h1m6 0h1m3 0h1m2 0h2m1 0h2m13 0h1m4 0h1m5 0h1m3 0h1m2 0h2M284 178.5h1m2 0h1m3 0h2m8 0h1m2 0h1m9 0h1m5 0h2m7 0h1m6 0h1m1 0h1m2 0h1m2 0h1m1 0h1m5 0h1m3 0h3m2 0h1m4 0h1m1 0h1m3 0h1m1 0h1m1 0h1m3 0h2m4 0h1m2 0h1m3 0h1m2 0h1m4 0h1m1 0h1m2 0h3m2 0h1m7 0h1m7 0h1m3 0h1m16 0h1m5 0h1m2 0h1m1 0h1m7 0h1m1 0h3m6 0h1M282 179.5h1m8 0h1m6 0h1m1 0h1m4 0h1m4 0h2m1 0h1m1 0h1m5 0h1m3 0h1m4 0h2m4 0h1m11 0h1m7 0h1m7 0h2m7 0h1m5 0h1m1 0h1m3 0h2m5 0h2m1 0h1m3 0h1m3 0h4m4 0h1m1 0h2m8 0h1m7 0h1m2 0h1m2 0h2m2 0h1m1 0h1m14 0h1m1 0h1m8 0h1m6 0h1m4 0h1M286 180.5h1m6 0h1m3 0h1m5 0h1m1 0h1m1 0h2m5 0h1m3 0h2m4 0h1m3 0h1m6 0h1m1 0h2m2 0h1m2 0h1m5 0h1m9 0h1m1 0h1m1 0h2m2 0h1m9 0h2m1 0h1m4 0h2m11 0h1m9 0h2m2 0h1m3 0h1m11 0h1m8 0h1m3 0h1m19 0h1M285 181.5h3m2 0h3m10 0h1m3 0h1m3 0h1m3 0h1m2 0h4m2 0h1m1 0h1m7 0h1m16 0h1m4 0h2m2 0h1m1 0h1m4 0h2m3 0h1m4 0h1m4 0h1m9 0h1m7 0h2m1 0h1m1 0h1m20 0h1m5 0h1m2 0h1m3 0h1m1 0h1m1 0h1m1 0h2m4 0h1m1 0h2m2 0h1m3 0h2m2 0h1m9 0h1M283 182.5h1m1 0h2m3 0h2m2 0h1m2 0h1m2 0h1m8 0h1m23 0h3m4 0h1m1 0h3m2 0h2m1 0h1m2 0h1m2 0h4m1 0h1m2 0h1m9 0h1m5 0h3m2 0h1m1 0h2m2 0h1m3 0h1m10 0h2m5 0h2m5 0h2m4 0h2m4 0h2m1 0h1m5 0h1m6 0h5m1 0h1m4 0h1m2 0h1m4 0h1m2 0h2m3 0h1m5 0h1M291 183.5h1m2 0h1m8 0h1m1 0h1m2 0h1m2 0h1m5 0h1m3 0h2m1 0h1m3 0h1m2 0h2m1 0h1m10 0h6m6 0h1m1 0h1m5 0h1m1 0h1m1 0h1m10 0h1m7 0h2m2 0h1m6 0h1m12 0h1m4 0h1m3 0h2m6 0h1m1 0h2m2 0h2m6 0h2m2 0h2m5 0h1m1 0h1m2 0h1m4 0h1m1 0h1m4 0h1m2 0h1m1 0h2m1 0h1M283 184.5h1m2 0h1m6 0h1m2 0h1m2 0h1m1 0h1m2 0h1m2 0h1m1 0h1m1 0h1m2 0h1m2 0h1m1 0h1m5 0h1m8 0h1m17 0h1m23 0h1m2 0h1m1 0h1m4 0h1m3 0h3m5 0h1m23 0h1m1 0h1m1 0h2m10 0h2m8 0h1m4 0h1m9 0h1m1 0h1m4 0h1m5 0h2m3 0h1M287 185.5h2m5 0h1m2 0h2m6 0h1m5 0h1m1 0h4m13 0h2m1 0h2m1 0h1m3 0h4m1 0h1m1 0h1m1 0h1m1 0h1m1 0h1m5 0h1m1 0h1m2 0h1m6 0h2m1 0h1m2 0h1m5 0h1m2 0h1m3 0h2m1 0h1m1 0h1m3 0h1m9 0h1m5 0h1m6 0h1m4 0h1m4 0h1m7 0h1m6 0h1m1 0h1m2 0h2m5 0h1m3 0h1m6 0h1m2 0h2M291 186.5h1m1 0h1m7 0h1m1 0h2m10 0h1m7 0h2m1 0h1m1 0h2m13 0h1m5 0h2m7 0h1m1 0h2m2 0h1m1 0h2m3 0h1m2 0h1m3 0h1m3 0h1m6 0h1m7 0h2m10 0h1m5 0h1m3 0h1m1 0h1m4 0h1m2 0h2m2 0h2m9 0h2m5 0h1m3 0h1m4 0h1m3 0h1m5 0h2m3 0h1m3 0h3M282 187.5h1m1 0h2m1 0h1m4 0h1m6 0h1m2 0h1m7 0h2m1 0h1m1 0h1m3 0h1m1 0h1m6 0h1m5 0h1m7 0h1m11 0h2m12 0h1m1 0h2m4 0h1m6 0h3m4 0h2m4 0h1m4 0h2m6 0h2m9 0h2m1 0h2m4 0h1m3 0h2m7 0h1m8 0h2m1 0h1m1 0h1m2 0h1m1 0h1m3 0h1m7 0h1M282 188.5h1m1 0h2m2 0h1m6 0h1m2 0h1m1 0h1m5 0h1m7 0h4m4 0h2m5 0h1m5 0h1m8 0h2m4 0h1m25 0h1m1 0h2m8 0h1m1 0h1m8 0h1m2 0h1m7 0h1m5 0h1m1 0h2m2 0h1m2 0h2m7 0h1m2 0h1m4 0h1m1 0h2m4 0h1m3 0h1m2 0h1m3 0h3m9 0h1M295 189.5h2m2 0h2m3 0h1m1 0h1m3 0h1m3 0h1m6 0h2m13 0h1m4 0h1m6 0h1m2 0h3m5 0h1m3 0h2m10 0h1m1 0h2m3 0h1m2 0h1m2 0h2m2 0h1m4 0h1m1 0h1m4 0h1m1 0h1m3 0h1m2 0h1m2 0h1m1 0h2m3 0h1m3 0h1m3 0h1m4 0h2m3 0h1m11 0h1m3 0h1m2 0h1m2 0h1m3 0h1m1 0h1m5 0h1m1 0h2m2 0h1M294 190.5h1m1 0h2m4 0h1m5 0h2m3 0h1m1 0h1m1 0h1m5 0h1m10 0h1m2 0h1m5 0h1m4 0h2m2 0h1m1 0h1m12 0h1m7 0h1m8 0h1m1 0h1m1 0h1m3 0h1m8 0h1m2 0h1m3 0h1m1 0h1m1 0h1m1 0h1m13 0h1m1 0h1m1 0h1m2 0h2m6 0h1m2 0h3m1 0h1m3 0h1m5 0h1m7 0h1m1 0h2m1 0h2m4 0h1M289 191.5h1m19 0h3m3 0h1m8 0h1m2 0h1m3 0h1m5 0h2m2 0h1m2 0h1m2 0h1m1 0h1m2 0h1m6 0h2m3 0h1m2 0h1m3 0h1m3 0h1m4 0h1m1 0h1m5 0h1m2 0h1m5 0h1m8 0h6m4 0h2m12 0h1m8 0h3m3 0h1m2 0h1m4 0h1m1 0h1m3 0h1m5 0h1m4 0h1m4 0h2m1 0h1m1 0h1M284 192.5h1m1 0h1m6 0h1m3 0h1m1 0h1m1 0h1m3 0h2m1 0h1m7 0h1m1 0h1m5 0h1m2 0h1m2 0h1m5 0h1m3 0h2m2 0h1m6 0h2m6 0h1m4 0h1m1 0h2m3 0h1m2 0h2m2 0h1m1 0h2m2 0h1m16 0h1m2 0h1m2 0h1m1 0h1m5 0h1m6 0h1m1 0h1m2 0h1m4 0h1m7 0h1m1 0h1m4 0h1m4 0h1m12 0h1m7 0h1m1 0h1m5 0h1M284 193.5h2m1 0h2m2 0h1m9 0h1m3 0h3m4 0h1m7 0h2m5 0h2m7 0h1m6 0h2m1 0h1m5 0h1m3 0h2m3 0h1m1 0h2m4 0h1m9 0h1m2 0h1m17 0h2m2 0h1m4 0h1m1 0h1m1 0h1m1 0h1m2 0h1m9 0h3m2 0h1m1 0h1m3 0h1m1 0h1m1 0h1m1 0h1m2 0h1m1 0h1m24 0h2m4 0h1M285 194.5h2m3 0h1m1 0h1m2 0h1m2 0h1m3 0h1m2 0h1m1 0h1m4 0h1m1 0h1m3 0h2m6 0h1m1 0h1m3 0h1m4 0h1m3 0h1m1 0h1m4 0h1m3 0h2m10 0h3m2 0h1m1 0h1m11 0h2m2 0h1m7 0h2m2 0h1m3 0h2m4 0h1m7 0h1m1 0h1m7 0h1m6 0h2m5 0h1m1 0h1m1 0h2m4 0h2m24 0h2m2 0h1M282 195.5h2m1 0h2m1 0h1m1 0h3m4 0h4m12 0h3m1 0h1m2 0h1m1 0h1m4 0h2m4 0h1m6 0h1m9 0h1m4 0h1m1 0h2m2 0h3m8 0h1m2 0h1m1 0h4m2 0h1m3 0h1m10 0h2m8 0h1m6 0h1m1 0h1m2 0h1m4 0h3m1 0h2m7 0h1m2 0h1m7 0h1m4 0h4m8 0h2m3 0h1m1 0h1m1 0h1m1 0h1m2 0h2M285 196.5h1m3 0h2m1 0h1m6 0h1m1 0h1m1 0h1m7 0h1m2 0h1m4 0h3m4 0h1m1 0h2m4 0h1m4 0h1m1 0h1m8 0h2m2 0h1m3 0h2m2 0h1m4 0h1m2 0h1m3 0h2m2 0h1m1 0h1m3 0h3m9 0h1m5 0h1m5 0h2m1 0h1m2 0h1m9 0h1m1 0h1m2 0h1m10 0h1m1 0h1m2 0h1m12 0h1m8 0h1m3 0h1m2 0h1M296 197.5h1m7 0h4m4 0h1m5 0h1m1 0h1m5 0h1m6 0h2m2 0h3m1 0h2m1 0h1m1 0h1m3 0h1m2 0h1m1 0h1m4 0h1m3 0h3m3 0h2m7 0h1m5 0h1m5 0h1m4 0h1m2 0h1m5 0h1m3 0h2m5 0h3m4 0h1m6 0h1m1 0h1m1 0h2m1 0h1m4 0h1m1 0h1m6 0h1m8 0h1m3 0h1m10 0h1m4 0h1M289 198.5h1m2 0h1m1 0h1m9 0h2m3 0h1m5 0h1m2 0h3m4 0h1m2 0h1m6 0h1m8 0h2m1 0h1m5 0h3m5 0h1m1 0h2m9 0h1m8 0h1m2 0h1m4 0h1m3 0h1m5 0h1m12 0h2m1 0h1m6 0h2m4 0h4m5 0h3m3 0h1m5 0h2m1 0h1m2 0h2m2 0h1m1 0h1m2 0h1m11 0h1M282 199.5h1m11 0h1m3 0h2m6 0h1m5 0h1m1 0h1m2 0h1m12 0h1m5 0h1m2 0h1m3 0h1m9 0h1m7 0h1m3 0h1m4 0h1m10 0h1m4 0h1m4 0h1m2 0h2m9 0h2m3 0h1m1 0h1m1 0h1m1 0h1m9 0h1m1 0h1m1 0h1m8 0h1m3 0h3m1 0h1m6 0h2m1 0h1m2 0h2m4 0h2M296 200.5h2m6 0h3m1 0h1m5 0h2m1 0h1m4 0h1m24 0h3m1 0h2m2 0h1m1 0h1m7 0h1m4 0h1m2 0h2m1 0h1m6 0h3m1 0h1m6 0h2m10 0h1m5 0h1m2 0h1m9 0h1m1 0h1m4 0h1m8 0h1m3 0h4m2 0h1m9 0h1m11 0h1m2 0h1m2 0h1M282 201.5h1m2 0h1m2 0h1m11 0h1m4 0h1m5 0h1m1 0h1m1 0h1m1 0h1m1 0h3m4 0h1m8 0h1m1 0h1m2 0h1m2 0h1m12 0h1m1 0h1m4 0h1m8 0h2m2 0h1m11 0h1m3 0h1m1 0h1m3 0h1m4 0h1m3 0h1m2 0h1m1 0h4m10 0h1m9 0h1m4 0h2m4 0h1m3 0h1m1 0h2m8 0h2m3 0h2m3 0h1m6 0h1M282 202.5h1m2 0h2m7 0h1m3 0h1m17 0h1m4 0h2m3 0h1m1 0h1m3 0h2m23 0h1m2 0h1m2 0h1m12 0h1m4 0h1m1 0h1m5 0h3m5 0h2m5 0h1m1 0h1m3 0h1m6 0h1m5 0h2m1 0h1m5 0h3m16 0h1m1 0h1m8 0h1m6 0h2m7 0h1M292 203.5h1m3 0h2m2 0h1m5 0h2m9 0h1m1 0h1m10 0h1m3 0h1m6 0h2m1 0h1m1 0h1m1 0h1m3 0h2m9 0h1m2 0h2m11 0h1m3 0h3m3 0h1m1 0h2m7 0h1m6 0h1m2 0h3m8 0h1m6 0h1m1 0h2m2 0h1m1 0h3m5 0h1m1 0h1m1 0h1m8 0h1m2 0h1m3 0h1m4 0h1m5 0h1" stroke="#c2c2c2" stroke-width="1" fill="none"/><path d="M287 104.5h1m5 0h1m6 0h1m1 0h1m3 0h2m4 0h1m3 0h1m1 0h2m6 0h1m3 0h1m1 0h3m1 0h1m11 0h1m2 0h1m3 0h1m5 0h2m7 0h1m5 0h1m14 0h1m12 0h1m2 0h1m8 0h1m19 0h1m1 0h1m3 0h1m1 0h1m3 0h1m2 0h1m3 0h2m5 0h1m2 0h1m2 0h1m1 0h1m3 0h1m4 0h1M284 105.5h1m7 0h1m7 0h1m6 0h1m5 0h1m15 0h1m3 0h2m1 0h1m7 0h1m2 0h1m7 0h1m5 0h1m1 0h1m2 0h1m9 0h1m8 0h2m2 0h1m4 0h1m11 0h1m2 0h2m3 0h1m19 0h1m9 0h1m1 0h1m2 0h3m1 0h1m2 0h2m2 0h1m2 0h1m11 0h1M283 106.5h1m2 0h1m15 0h1m9 0h2m17 0h1m2 0h2m5 0h1m3 0h1m4 0h1m4 0h1m3 0h1m4 0h1m2 0h1m1 0h1m7 0h1m30 0h1m4 0h1m10 0h1m2 0h3m1 0h1m2 0h3m4 0h1m10 0h1m2 0h1m1 0h1m5 0h1M285 107.5h1m5 0h1m6 0h1m33 0h1m1 0h2m8 0h1m1 0h2m5 0h1m50 0h1m8 0h1m9 0h1m17 0h1m10 0h1m3 0h2m2 0h2m1 0h1m2 0h1m7 0h2M286 108.5h1m4 0h1m10 0h1m6 0h2m1 0h1m3 0h3m2 0h1m3 0h1m8 0h3m3 0h1m44 0h1m3 0h3m2 0h1m2 0h2m7 0h1m24 0h1m11 0h1m13 0h3m4 0h1m1 0h2m10 0h1M282 109.5h2m4 0h1m13 0h1m2 0h1m7 0h1m4 0h1m3 0h1m5 0h1m10 0h1m3 0h1m4 0h1m27 0h1m13 0h1m2 0h1m2 0h2m11 0h1m5 0h1m3 0h1m3 0h1m2 0h1m2 0h1m7 0h2m3 0h1m4 0h1m4 0h1m1 0h1m2 0h1m2 0h2m3 0h1m2 0h1m1 0h1M283 110.5h1m5 0h2m1 0h1m1 0h1m2 0h1m1 0h1m4 0h2m2 0h2m7 0h1m1 0h1m3 0h1m6 0h1m16 0h1m18 0h2m6 0h1m8 0h2m11 0h3m1 0h1m8 0h2m1 0h2m1 0h2m1 0h1m1 0h1m1 0h1m2 0h1m4 0h1m14 0h1m5 0h1m3 0h1m2 0h1m6 0h1m8 0h4M284 111.5h1m3 0h1m20 0h2m1 0h1m6 0h1m1 0h1m1 0h1m1 0h1m7 0h2m9 0h1m8 0h1m2 0h1m7 0h1m1 0h1m1 0h1m18 0h1m2 0h1m24 0h1m9 0h1m8 0h1m4 0h1m3 0h1m12 0h1m22 0h1m1 0h1M287 112.5h1m2 0h1m4 0h2m2 0h1m3 0h1m6 0h1m8 0h1m1 0h1m10 0h1m1 0h2m2 0h2m2 0h1m1 0h1m6 0h1m5 0h1m31 0h1m6 0h1m6 0h1m4 0h1m6 0h1m1 0h1m3 0h1m3 0h1m1 0h2m2 0h1m7 0h1m5 0h2m1 0h2m3 0h1m2 0h1m1 0h1m2 0h1m5 0h1m2 0h1m1 0h1m1 0h1m2 0h1M285 113.5h1m1 0h1m2 0h1m15 0h1m2 0h2m1 0h1m3 0h1m2 0h1m4 0h1m3 0h1m4 0h5m12 0h1m14 0h1m12 0h1m2 0h1m3 0h1m29 0h1m3 0h1m5 0h1m4 0h1m8 0h2m3 0h1m5 0h1m1 0h1m14 0h1m1 0h1m2 0h1M282 114.5h1m2 0h2m9 0h1m9 0h1m20 0h1m6 0h1m2 0h1m8 0h1m3 0h1m2 0h1m13 0h1m18 0h1m5 0h1m1 0h1m1 0h1m2 0h1m1 0h1m2 0h1m4 0h1m1 0h1m1 0h1m2 0h1m5 0h1m2 0h1m2 0h1m13 0h1m2 0h1m3 0h1m8 0h1m4 0h2m1 0h1m4 0h1m3 0h1m2 0h1M283 115.5h1m3 0h1m23 0h1m2 0h1m1 0h1m8 0h1m33 0h1m9 0h1m2 0h2m4 0h1m5 0h3m5 0h1m2 0h3m1 0h1m1 0h2m1 0h1m1 0h1m1 0h2m8 0h1m4 0h1m2 0h1m1 0h1m1 0h1m1 0h1m3 0h2m5 0h3m1 0h1m2 0h1m6 0h1m21 0h1M296 116.5h1m14 0h1m8 0h1m3 0h2m38 0h1m2 0h1m14 0h2m4 0h1m6 0h2m6 0h1m1 0h1m6 0h2m1 0h1m4 0h1m6 0h2m1 0h1m1 0h1m1 0h1m14 0h1m1 0h3m8 0h1m9 0h1m1 0h1M290 117.5h1m11 0h2m15 0h1m1 0h1m2 0h1m10 0h1m47 0h1m23 0h1m2 0h1m18 0h1m7 0h1m2 0h1m1 0h3m2 0h1m6 0h1m6 0h2m11 0h1M285 118.5h1m4 0h1m11 0h1m9 0h1m42 0h1m32 0h2m4 0h2m30 0h1m46 0h1m6 0h1M285 119.5h1m73 0h1m7 0h1m22 0h2m3 0h1m8 0h1m2 0h1m18 0h1M335 120.5h1m25 0h1m46 0h1m55 0h1m15 0h1M285 121.5h1m25 0h1m118 0h1M325 122.5h1m41 0h1m4 0h1m14 0h1m1 0h2m35 0h1m39 0h1m1 0h1m2 0h1M346 123.5h1m14 0h1m2 0h1m4 0h1m5 0h2m24 0h1m21 0h1M324 124.5h1m42 0h1m31 0h1M288 125.5h1m95 0h1m3 0h1M360 126.5h1m26 0h1m4 0h1M398 127.5h1M422 128.5h1m19 0h1M428 129.5h1M393 130.5h1m30 0h1M390 132.5h1M386 133.5h1M344 134.5h1m39 0h1m9 0h1m17 0h1M393 136.5h1m3 0h1m14 0h1M401 138.5h1M322 139.5h1m71 0h1M422 140.5h1M423 141.5h1m25 0h1M402 142.5h1m12 0h1M371 145.5h1m17 0h1M389 146.5h1m38 0h1M352 147.5h1m51 0h2M388 148.5h1m57 0h1M390 149.5h1m16 0h1m32 0h1m24 0h1M286 151.5h1m27 0h1m61 0h1m63 0h1m2 0h1m1 0h1m16 0h1M324 152.5h1m11 0h1m10 0h1m36 0h1m18 0h1m24 0h1M301 153.5h1m1 0h1m5 0h1m11 0h1m4 0h1m13 0h1m2 0h1m14 0h1m48 0h1m31 0h1m4 0h1m2 0h1M299 154.5h1m4 0h1m5 0h1m2 0h1m1 0h1m10 0h1m11 0h1m23 0h1m12 0h1m2 0h1m1 0h1m2 0h1m28 0h1m28 0h1m28 0h1m5 0h1m1 0h1M285 155.5h1m12 0h2m1 0h1m1 0h1m1 0h1m10 0h1m1 0h2m21 0h1m12 0h1m2 0h1m8 0h1m5 0h1m2 0h1m1 0h1m2 0h1m5 0h1m15 0h1m16 0h1m18 0h1m25 0h1m2 0h1M283 156.5h1m5 0h1m1 0h2m2 0h1m1 0h2m10 0h1m5 0h1m3 0h1m5 0h1m6 0h1m5 0h1m6 0h1m7 0h1m3 0h2m11 0h1m1 0h2m2 0h1m1 0h2m3 0h1m1 0h1m1 0h1m9 0h3m9 0h1m2 0h1m4 0h1m1 0h1m8 0h1m1 0h1m35 0h1m1 0h2m1 0h1m3 0h1m3 0h1M282 157.5h1m11 0h1m1 0h1m3 0h1m12 0h5m5 0h1m1 0h3m2 0h1m2 0h2m14 0h2m4 0h1m1 0h1m7 0h2m4 0h1m6 0h1m14 0h1m3 0h1m1 0h1m2 0h1m1 0h1m6 0h1m4 0h1m2 0h1m3 0h2m8 0h1m5 0h1m1 0h1m1 0h1m6 0h2M283 158.5h1m8 0h1m8 0h1m13 0h1m10 0h1m4 0h1m2 0h1m21 0h1m1 0h1m8 0h1m13 0h1m3 0h1m3 0h1m4 0h1m5 0h1m1 0h1m7 0h1m22 0h1m1 0h1m4 0h3m2 0h1m16 0h1M287 159.5h1m20 0h2m1 0h1m3 0h1m5 0h1m2 0h1m8 0h2m12 0h1m7 0h1m6 0h1m6 0h2m3 0h2m1 0h2m7 0h1m3 0h2m6 0h3m3 0h2m1 0h1m2 0h1m12 0h1m9 0h1m1 0h2m18 0h1m1 0h1m4 0h1m7 0h1M283 160.5h1m11 0h1m2 0h1m2 0h1m2 0h1m1 0h1m4 0h2m17 0h2m8 0h2m2 0h1m1 0h1m5 0h1m1 0h1m7 0h1m1 0h1m1 0h1m1 0h1m1 0h1m1 0h1m5 0h1m13 0h1m1 0h1m6 0h1m7 0h1m1 0h2m6 0h1m3 0h1m5 0h1m1 0h1m17 0h1m3 0h1m2 0h2m4 0h1M286 161.5h1m4 0h1m8 0h1m13 0h1m3 0h3m7 0h1m2 0h1m3 0h1m8 0h1m17 0h2m1 0h1m3 0h1m5 0h1m7 0h2m22 0h4m4 0h1m1 0h1m9 0h1m1 0h1m7 0h1m11 0h1m2 0h1m9 0h1M285 162.5h1m7 0h1m1 0h2m11 0h2m3 0h1m1 0h1m9 0h1m2 0h1m2 0h1m5 0h1m8 0h1m1 0h1m2 0h3m13 0h2m9 0h1m2 0h1m2 0h1m5 0h2m14 0h1m2 0h4m1 0h1m5 0h1m16 0h2m7 0h1m5 0h1m5 0h1m3 0h1m1 0h2m1 0h2m1 0h1m2 0h1m2 0h1M286 163.5h1m4 0h1m24 0h2m13 0h2m1 0h4m2 0h1m2 0h1m1 0h2m8 0h1m4 0h1m4 0h1m9 0h1m1 0h3m1 0h1m4 0h1m12 0h1m3 0h1m3 0h1m20 0h1m12 0h1m1 0h1m12 0h2m4 0h3m4 0h1m1 0h2m1 0h2m2 0h1m2 0h1M287 164.5h1m4 0h3m2 0h1m23 0h1m6 0h1m1 0h1m3 0h1m4 0h1m2 0h1m4 0h1m10 0h2m1 0h1m10 0h1m6 0h1m20 0h1m2 0h1m3 0h1m3 0h1m28 0h1m2 0h1m2 0h1m1 0h1m4 0h1m9 0h1m3 0h1m1 0h1M287 165.5h1m5 0h1m2 0h1m6 0h1m4 0h1m7 0h1m4 0h3m12 0h2m2 0h1m5 0h1m5 0h1m7 0h1m2 0h1m14 0h1m3 0h1m30 0h1m1 0h1m4 0h2m4 0h1m1 0h1m2 0h2m5 0h1m2 0h1m1 0h1m5 0h1m6 0h1m2 0h1m6 0h1m1 0h1M282 166.5h1m8 0h1m12 0h1m10 0h1m1 0h1m2 0h1m10 0h1m6 0h1m3 0h1m6 0h1m5 0h1m14 0h1m1 0h1m10 0h2m3 0h1m3 0h1m9 0h1m4 0h1m7 0h1m4 0h1m24 0h3m3 0h1m2 0h2m5 0h1m14 0h1M299 167.5h2m2 0h1m1 0h1m1 0h1m4 0h1m3 0h1m10 0h1m2 0h1m22 0h1m6 0h1m14 0h1m14 0h1m3 0h1m2 0h1m14 0h1m4 0h1m13 0h1m5 0h1m2 0h1m11 0h1m20 0h1m1 0h1m1 0h1M287 168.5h1m3 0h1m7 0h1m23 0h1m3 0h1m27 0h1m14 0h1m3 0h1m1 0h1m2 0h1m6 0h1m5 0h1m7 0h1m9 0h1m3 0h1m3 0h1m3 0h1m3 0h2m11 0h2m1 0h2m3 0h1m1 0h2m7 0h2M309 169.5h1m8 0h1m1 0h1m3 0h1m2 0h1m3 0h1m11 0h1m4 0h1m12 0h1m8 0h1m3 0h1m1 0h1m4 0h1m7 0h1m14 0h1m13 0h1m5 0h1m15 0h1m1 0h1m1 0h1m7 0h1m3 0h1m3 0h1m4 0h2m12 0h1M294 170.5h1m19 0h1m9 0h1m10 0h3m3 0h1m10 0h1m8 0h1m4 0h1m10 0h1m21 0h1m10 0h1m2 0h2m7 0h1m1 0h1m3 0h1m11 0h1m1 0h1m5 0h3m4 0h1m1 0h2m7 0h1m2 0h1m2 0h1m1 0h1m4 0h1m1 0h1M308 171.5h1m3 0h1m9 0h1m3 0h1m4 0h1m2 0h1m1 0h1m2 0h2m9 0h2m2 0h1m15 0h1m7 0h1m1 0h1m8 0h1m6 0h1m2 0h2m1 0h1m6 0h1m1 0h1m8 0h2m17 0h1m4 0h1m22 0h1m3 0h1m5 0h1m2 0h1M291 172.5h1m15 0h1m17 0h1m2 0h1m4 0h1m1 0h1m1 0h2m1 0h1m1 0h2m2 0h1m13 0h1m2 0h1m1 0h1m1 0h1m3 0h3m1 0h2m2 0h3m12 0h1m3 0h1m3 0h1m5 0h1m3 0h1m1 0h2m22 0h2m1 0h1m22 0h3m11 0h1m2 0h1M283 173.5h1m5 0h1m32 0h1m1 0h1m7 0h2m4 0h2m5 0h2m3 0h1m1 0h1m4 0h2m13 0h1m7 0h1m17 0h1m10 0h1m15 0h1m4 0h2m10 0h1m7 0h1m5 0h2m11 0h1m3 0h1m6 0h1M325 174.5h1m22 0h2m30 0h1m4 0h2m1 0h1m5 0h1m9 0h1m3 0h1m2 0h1m14 0h1m3 0h1m5 0h3m3 0h1m6 0h2m3 0h1m9 0h1m7 0h1M306 175.5h1m4 0h1m2 0h1m12 0h1m2 0h4m10 0h1m1 0h1m3 0h1m3 0h3m2 0h1m4 0h1m3 0h1m12 0h2m5 0h1m1 0h1m8 0h1m46 0h1m10 0h1M289 176.5h1m1 0h1m7 0h1m1 0h1m1 0h3m9 0h1m12 0h3m1 0h1m3 0h1m3 0h1m1 0h2m12 0h3m6 0h1m1 0h2m1 0h1m33 0h1m7 0h1m3 0h1m8 0h1m9 0h1m4 0h2m4 0h1m3 0h2m1 0h1m3 0h2m12 0h1m5 0h1m2 0h1M282 177.5h1m23 0h1m3 0h1m3 0h1m12 0h2m1 0h1m3 0h2m8 0h1m3 0h1m3 0h1m5 0h2m16 0h2m15 0h1m2 0h2m10 0h2m3 0h1m2 0h1m3 0h1m3 0h1m2 0h1m9 0h2m10 0h2m2 0h1m12 0h1M288 178.5h1m11 0h1m15 0h1m15 0h1m26 0h1m3 0h1m5 0h1m3 0h1m4 0h1m6 0h1m11 0h2m1 0h1m3 0h2m4 0h1m5 0h1m6 0h1m8 0h1m2 0h1m2 0h1m8 0h1m1 0h1m5 0h1m2 0h1m3 0h1m9 0h1m1 0h1M301 179.5h1m18 0h1m14 0h1m3 0h2m8 0h1m12 0h1m3 0h1m2 0h3m3 0h3m2 0h1m6 0h1m1 0h2m5 0h1m5 0h1m13 0h2m3 0h1m5 0h1m4 0h1m7 0h1m6 0h1m2 0h2m4 0h1m17 0h1M290 180.5h1m29 0h1m18 0h2m4 0h1m2 0h1m5 0h2m1 0h1m3 0h1m1 0h1m6 0h1m1 0h2m1 0h1m6 0h1m11 0h1m3 0h1m5 0h1m6 0h1m6 0h1m9 0h1m3 0h1m3 0h1m4 0h1m5 0h1m12 0h1m9 0h2M329 181.5h1m8 0h1m2 0h1m4 0h2m4 0h1m6 0h1m1 0h1m1 0h1m2 0h1m2 0h1m10 0h2m2 0h1m1 0h1m11 0h2m6 0h1m22 0h1m4 0h1m2 0h1m6 0h1m11 0h1m1 0h3m2 0h1m8 0h1m6 0h1M287 182.5h1m25 0h2m5 0h2m3 0h2m4 0h1m19 0h1m8 0h1m1 0h1m5 0h1m1 0h2m7 0h1m6 0h1m2 0h1m4 0h1m8 0h2m5 0h1m1 0h1m3 0h1m8 0h1m18 0h1m11 0h1m4 0h1m1 0h1m1 0h1m3 0h1m2 0h1m1 0h1m1 0h2m1 0h2M283 183.5h1m17 0h2m11 0h1m4 0h1m20 0h1m1 0h1m10 0h2m7 0h1m1 0h1m9 0h1m3 0h2m6 0h1m10 0h1m9 0h1m1 0h1m3 0h1m1 0h2m1 0h2m5 0h3m2 0h1m7 0h1m6 0h1m11 0h1m5 0h1m1 0h1m1 0h2m9 0h1M284 184.5h1m2 0h1m3 0h1m8 0h1m4 0h1m16 0h1m9 0h1m4 0h1m1 0h1m1 0h1m2 0h1m4 0h1m1 0h1m1 0h1m3 0h2m2 0h2m3 0h1m1 0h1m4 0h1m10 0h1m10 0h2m2 0h1m10 0h1m1 0h1m1 0h5m11 0h1m16 0h1m1 0h1m2 0h1m7 0h1m3 0h1m1 0h1m6 0h1m5 0h2M284 185.5h1m10 0h2m3 0h1m5 0h1m11 0h2m3 0h1m8 0h1m6 0h1m10 0h1m3 0h1m2 0h1m24 0h1m1 0h1m4 0h1m8 0h1m8 0h1m4 0h1m8 0h1m1 0h1m1 0h2m3 0h1m2 0h1m1 0h1m1 0h1m4 0h1m7 0h1m4 0h1m8 0h1m3 0h1m7 0h3M290 186.5h1m6 0h1m2 0h1m4 0h1m8 0h1m3 0h1m12 0h2m12 0h1m1 0h1m15 0h1m11 0h1m14 0h1m3 0h1m4 0h1m3 0h1m4 0h1m1 0h1m11 0h1m1 0h1m2 0h1m19 0h1m2 0h1m5 0h1m4 0h1m7 0h1m3 0h1M283 187.5h1m11 0h1m8 0h1m3 0h1m3 0h1m7 0h1m9 0h1m10 0h1m6 0h1m8 0h1m3 0h2m1 0h1m1 0h1m2 0h1m18 0h2m2 0h1m1 0h2m3 0h1m3 0h1m1 0h1m7 0h1m14 0h1m3 0h1m4 0h1m2 0h1m2 0h1m4 0h1m11 0h1m11 0h1M294 188.5h1m1 0h1m6 0h2m2 0h1m25 0h1m3 0h1m8 0h1m4 0h1m3 0h1m1 0h1m5 0h1m2 0h1m6 0h1m8 0h1m2 0h1m3 0h1m1 0h1m5 0h2m9 0h2m1 0h2m22 0h1m11 0h2m4 0h1m1 0h1M284 189.5h1m1 0h1m3 0h1m14 0h1m3 0h1m6 0h2m2 0h1m3 0h3m3 0h1m1 0h2m1 0h1m1 0h1m2 0h1m6 0h1m8 0h3m3 0h1m4 0h1m5 0h1m17 0h1m1 0h1m13 0h1m7 0h1m1 0h1m3 0h1m18 0h1m7 0h1m1 0h1m19 0h1m3 0h1m4 0h1M288 190.5h1m11 0h1m4 0h1m5 0h1m8 0h2m2 0h1m2 0h1m2 0h1m7 0h1m2 0h1m18 0h1m4 0h1m3 0h2m2 0h1m3 0h1m7 0h1m7 0h1m4 0h2m2 0h1m4 0h1m11 0h1m1 0h1m1 0h1m1 0h2m4 0h1m1 0h1m5 0h1m4 0h1m4 0h1m9 0h1m6 0h1m2 0h1m7 0h1m3 0h1M286 191.5h2m10 0h1m1 0h1m5 0h1m1 0h1m9 0h1m1 0h1m1 0h2m2 0h1m1 0h2m2 0h1m7 0h1m5 0h1m1 0h1m1 0h1m6 0h1m10 0h1m4 0h2m2 0h1m3 0h1m4 0h1m2 0h1m2 0h2m4 0h1m1 0h3m17 0h2m1 0h1m9 0h1m1 0h1m1 0h2m8 0h1m10 0h1m3 0h1m5 0h2m2 0h3M294 192.5h2m11 0h1m3 0h2m12 0h1m5 0h1m3 0h1m1 0h1m10 0h3m6 0h1m2 0h1m1 0h1m6 0h2m1 0h1m4 0h1m7 0h1m1 0h1m7 0h2m9 0h1m4 0h1m1 0h1m4 0h3m17 0h2m8 0h1m8 0h2M292 193.5h1m7 0h1m8 0h1m1 0h1m3 0h1m3 0h1m6 0h1m13 0h1m4 0h1m8 0h1m5 0h1m4 0h1m4 0h1m1 0h1m1 0h1m6 0h1m10 0h2m2 0h1m5 0h1m2 0h1m15 0h1m9 0h2m1 0h1m11 0h1m2 0h1m3 0h1m11 0h1m5 0h2M282 194.5h1m1 0h1m3 0h1m4 0h1m3 0h1m1 0h1m3 0h1m4 0h1m2 0h1m10 0h2m12 0h1m9 0h1m2 0h1m8 0h1m13 0h2m1 0h1m15 0h1m1 0h2m2 0h2m3 0h1m21 0h1m4 0h1m1 0h3m3 0h1m4 0h1m5 0h2m3 0h1m1 0h1m5 0h1m13 0h1M284 195.5h1m4 0h1m5 0h1m5 0h1m2 0h1m13 0h2m1 0h1m14 0h1m7 0h3m1 0h1m2 0h1m22 0h1m7 0h1m3 0h1m2 0h2m2 0h2m2 0h1m3 0h1m11 0h1m5 0h1m8 0h1m17 0h3m11 0h3m2 0h1m4 0h1m1 0h1m1 0h1m1 0h1M282 196.5h2m2 0h1m7 0h1m5 0h1m1 0h1m4 0h1m5 0h1m13 0h1m4 0h1m3 0h1m3 0h1m1 0h1m3 0h1m6 0h1m9 0h2m14 0h1m1 0h1m9 0h1m1 0h1m7 0h1m1 0h1m1 0h1m1 0h1m8 0h1m2 0h1m3 0h1m1 0h1m10 0h1m1 0h1m7 0h1m4 0h1m1 0h1m3 0h1m2 0h1m4 0h1M286 197.5h1m3 0h1m30 0h1m10 0h1m3 0h1m20 0h1m3 0h1m5 0h2m6 0h1m8 0h1m15 0h1m7 0h1m2 0h1m3 0h1m3 0h1m11 0h1m1 0h1m4 0h2m6 0h1m1 0h1m10 0h1m1 0h2m4 0h1m3 0h1m6 0h1M308 198.5h1m4 0h1m7 0h1m19 0h1m18 0h1m1 0h1m2 0h1m1 0h1m2 0h1m2 0h1m5 0h1m1 0h1m5 0h1m2 0h1m7 0h1m3 0h1m2 0h2m3 0h1m12 0h1m12 0h1m1 0h1m10 0h2m2 0h1m1 0h2m3 0h1m3 0h2m4 0h1m2 0h1m1 0h1M286 199.5h1m2 0h1m6 0h1m27 0h2m7 0h3m21 0h1m2 0h1m1 0h1m4 0h1m4 0h1m3 0h1m11 0h1m4 0h1m3 0h2m2 0h1m5 0h1m13 0h2m2 0h1m5 0h2m18 0h1m13 0h1m3 0h2m3 0h1m2 0h1M299 200.5h2m44 0h1m22 0h2m8 0h1m1 0h3m5 0h1m2 0h3m9 0h1m12 0h3m2 0h1m8 0h2m2 0h1m1 0h1m5 0h1m7 0h1m8 0h1m4 0h1m5 0h1m10 0h1M283 201.5h1m18 0h1m5 0h1m9 0h1m35 0h1m12 0h1m2 0h1m28 0h1m1 0h1m4 0h1m13 0h1m1 0h4m7 0h1m3 0h2m4 0h1m2 0h1m3 0h1m4 0h1m5 0h1m8 0h1m1 0h1M290 202.5h2m25 0h4m6 0h1m3 0h1m21 0h2m12 0h1m1 0h2m1 0h1m13 0h1m14 0h1m10 0h2m1 0h1m2 0h1m17 0h1m4 0h1m2 0h1m7 0h1m3 0h1m8 0h1m2 0h1m11 0h1M282 203.5h1m1 0h1m1 0h2m2 0h1m2 0h1m1 0h1m3 0h1m1 0h3m17 0h1m5 0h1m1 0h1m2 0h1m12 0h1m10 0h2m1 0h3m7 0h1m26 0h1m1 0h2m1 0h1m1 0h1m9 0h1m5 0h1m4 0h1m1 0h1m2 0h1m5 0h1m4 0h1m2 0h1m3 0h1m1 0h1m5 0h2m14 0h1m1 0h2m1 0h1m2 0h1" stroke="#9c9c9c" stroke-width="1" fill="none"/><path d="M282 104.5h1m2 0h2m2 0h1m4 0h1m1 0h1m2 0h1m5 0h1m9 0h1m4 0h1m1 0h2m21 0h1m4 0h1m5 0h1m1 0h1m1 0h1m5 0h1m1 0h1m16 0h1m4 0h1m3 0h2m4 0h3m7 0h1m2 0h1m4 0h1m11 0h1m2 0h2m2 0h1m1 0h1m1 0h1m3 0h1m11 0h1m3 0h1m4 0h1m9 0h1M282 105.5h2m1 0h2m4 0h1m5 0h1m10 0h1m2 0h1m5 0h1m1 0h1m4 0h1m2 0h2m13 0h2m15 0h1m2 0h1m2 0h1m1 0h1m1 0h1m1 0h1m5 0h1m2 0h1m1 0h2m4 0h1m3 0h2m3 0h1m3 0h3m4 0h1m2 0h3m9 0h1m3 0h1m3 0h1m1 0h1m2 0h1m3 0h1m11 0h1m2 0h1m3 0h1m1 0h1m3 0h1m2 0h1M282 106.5h1m1 0h1m4 0h1m5 0h1m9 0h2m2 0h2m6 0h3m2 0h2m4 0h1m1 0h1m23 0h1m1 0h1m5 0h2m1 0h2m1 0h1m1 0h1m1 0h1m1 0h2m6 0h3m6 0h1m1 0h1m2 0h1m4 0h1m1 0h1m2 0h1m5 0h1m1 0h1m3 0h1m1 0h2m4 0h1m3 0h1m2 0h1m5 0h2m1 0h1m11 0h1m10 0h1m1 0h2m2 0h1M295 107.5h1m7 0h1m1 0h1m10 0h1m4 0h1m1 0h1m7 0h1m1 0h1m4 0h3m4 0h1m6 0h1m2 0h1m7 0h1m7 0h1m13 0h3m1 0h3m2 0h1m3 0h2m16 0h1m1 0h1m2 0h2m2 0h1m2 0h1m4 0h1m2 0h4m4 0h1m1 0h1m11 0h1m8 0h1m2 0h2m5 0h1m2 0h1M282 108.5h1m5 0h1m1 0h1m1 0h1m5 0h1m6 0h2m13 0h1m16 0h1m1 0h1m2 0h3m2 0h1m10 0h1m13 0h2m6 0h2m4 0h1m1 0h1m12 0h2m1 0h1m3 0h1m1 0h2m4 0h1m8 0h2m1 0h1m1 0h1m1 0h3m4 0h1m8 0h1m4 0h1m6 0h3m2 0h1m9 0h2M286 109.5h2m2 0h3m2 0h1m3 0h1m1 0h1m5 0h1m1 0h2m3 0h2m3 0h1m1 0h1m2 0h3m13 0h1m1 0h1m1 0h2m1 0h1m8 0h1m16 0h1m3 0h1m2 0h1m2 0h3m2 0h2m1 0h2m2 0h1m3 0h2m1 0h2m1 0h2m1 0h1m1 0h2m1 0h1m3 0h1m4 0h1m2 0h1m5 0h1m1 0h1m1 0h2m6 0h1m1 0h1m3 0h2m4 0h2m2 0h1m2 0h1m1 0h1m7 0h2m1 0h2m2 0h1m1 0h1M285 110.5h1m1 0h2m2 0h1m3 0h2m4 0h3m2 0h1m3 0h1m5 0h1m3 0h3m2 0h1m9 0h1m16 0h3m3 0h1m5 0h1m3 0h2m1 0h2m3 0h1m1 0h1m11 0h1m1 0h1m10 0h1m10 0h1m4 0h1m3 0h2m4 0h1m7 0h1m2 0h1m1 0h2m2 0h2m1 0h1m2 0h2m12 0h1m1 0h1m3 0h1m5 0h3M299 111.5h1m11 0h1m1 0h1m3 0h1m2 0h1m20 0h1m6 0h1m2 0h1m6 0h1m1 0h1m1 0h1m2 0h1m5 0h1m2 0h2m2 0h1m2 0h1m2 0h2m3 0h1m1 0h1m2 0h1m1 0h2m8 0h1m6 0h2m2 0h1m2 0h2m5 0h1m2 0h3m2 0h4m1 0h2m2 0h2m1 0h1m1 0h1m1 0h1m6 0h5m1 0h1m3 0h1m1 0h1m9 0h1M291 112.5h1m12 0h1m4 0h1m5 0h1m2 0h1m3 0h1m10 0h1m6 0h1m2 0h1m1 0h1m3 0h2m1 0h2m9 0h1m1 0h1m1 0h1m1 0h1m2 0h1m3 0h1m2 0h1m1 0h1m1 0h1m1 0h1m2 0h1m1 0h3m5 0h2m13 0h1m2 0h1m1 0h3m9 0h1m1 0h3m2 0h2m5 0h1m9 0h1m5 0h1m1 0h1m1 0h3m1 0h1m4 0h1m4 0h1M284 113.5h1m1 0h1m2 0h1m3 0h1m3 0h1m3 0h1m3 0h1m35 0h1m6 0h1m2 0h3m4 0h1m4 0h2m3 0h1m5 0h1m4 0h1m2 0h1m1 0h1m2 0h1m1 0h2m1 0h2m1 0h4m4 0h1m1 0h2m2 0h2m2 0h2m1 0h1m1 0h1m9 0h1m2 0h1m4 0h2m3 0h1m3 0h4m5 0h1m1 0h1m16 0h1m1 0h1m2 0h1m2 0h1M284 114.5h1m7 0h1m26 0h1m15 0h1m7 0h1m4 0h1m6 0h1m3 0h1m1 0h1m1 0h4m1 0h1m3 0h1m2 0h1m1 0h1m5 0h1m4 0h1m1 0h2m3 0h1m2 0h1m1 0h1m1 0h1m16 0h2m11 0h1m4 0h2m1 0h1m5 0h1m3 0h1m3 0h1m18 0h1m6 0h2M282 115.5h1m6 0h2m43 0h1m7 0h1m15 0h1m1 0h2m1 0h1m11 0h1m5 0h1m1 0h1m3 0h5m27 0h1m5 0h1m3 0h1m5 0h1m2 0h1m1 0h1m1 0h1m25 0h2m3 0h2M304 116.5h1m18 0h1m10 0h1m18 0h1m9 0h1m9 0h1m1 0h1m14 0h1m28 0h1m2 0h1m6 0h1m1 0h1m7 0h1m3 0h2m2 0h1m6 0h1m12 0h1m8 0h1m4 0h1M282 117.5h1m23 0h1m5 0h2m3 0h1m70 0h1m5 0h1m4 0h1m3 0h1m1 0h1m2 0h1m16 0h1m20 0h1m18 0h1m2 0h1m8 0h4M305 118.5h1m87 0h1m3 0h1m48 0h1m32 0h1M388 119.5h1m3 0h1M290 120.5h1m190 0h1M403 121.5h1m72 0h1M414 122.5h1M424 123.5h1m35 0h1M283 124.5h1m86 0h1M365 125.5h1M334 134.5h1M396 137.5h1M400 147.5h1M412 150.5h1M387 151.5h1M319 152.5h1m24 0h1m59 0h1m4 0h1m42 0h1M329 153.5h1m3 0h1m107 0h1M309 154.5h1m1 0h1m2 0h1m57 0h1m30 0h1m41 0h1m12 0h1M317 155.5h1m2 0h1m9 0h1m1 0h1m2 0h1m15 0h1m10 0h1m28 0h1m64 0h2m21 0h1M293 156.5h1m6 0h1m2 0h1m1 0h2m4 0h1m14 0h1m1 0h1m7 0h1m9 0h1m2 0h1m2 0h1m1 0h1m5 0h3m5 0h1m23 0h1m9 0h1m1 0h1m1 0h1m3 0h1m4 0h2m8 0h1m3 0h1m31 0h1m15 0h1m2 0h1M284 157.5h1m16 0h1m1 0h2m23 0h1m7 0h1m5 0h2m1 0h1m5 0h3m2 0h1m3 0h1m6 0h1m4 0h2m2 0h1m7 0h1m1 0h1m1 0h5m8 0h1m1 0h1m1 0h1m2 0h1m1 0h1m1 0h2m1 0h1m9 0h1m4 0h1m14 0h1m12 0h1M308 158.5h3m5 0h3m35 0h1m2 0h1m12 0h1m4 0h1m1 0h1m4 0h2m2 0h3m8 0h1m11 0h1m2 0h1m3 0h1m11 0h1m2 0h1m15 0h1m29 0h1M291 159.5h1m5 0h3m1 0h1m1 0h1m1 0h2m5 0h2m21 0h2m7 0h1m3 0h1m1 0h2m1 0h2m4 0h1m1 0h1m2 0h1m1 0h1m6 0h1m10 0h1m2 0h1m6 0h1m6 0h1m22 0h1m2 0h1m4 0h1m27 0h1m11 0h1M282 160.5h1m6 0h1m7 0h1m9 0h1m27 0h1m12 0h1m2 0h1m3 0h1m1 0h1m2 0h1m2 0h1m1 0h1m1 0h1m1 0h1m1 0h1m1 0h2m1 0h1m2 0h1m2 0h1m2 0h2m1 0h1m1 0h2m6 0h2m2 0h2m1 0h4m25 0h1M284 161.5h1m2 0h1m5 0h1m3 0h1m1 0h1m1 0h1m14 0h1m4 0h1m3 0h3m5 0h1m3 0h1m4 0h2m10 0h1m5 0h2m6 0h1m4 0h2m3 0h5m4 0h1m1 0h1m2 0h2m1 0h3m1 0h3m2 0h1m14 0h1m4 0h1m10 0h1m7 0h1m11 0h1m11 0h1m6 0h1M284 162.5h1m14 0h1m14 0h1m6 0h1m4 0h1m2 0h1m3 0h1m4 0h1m3 0h1m6 0h2m6 0h1m3 0h1m11 0h1m1 0h2m2 0h1m5 0h1m3 0h1m2 0h1m1 0h1m1 0h4m1 0h2m1 0h2m1 0h1m11 0h1m1 0h1m1 0h1m2 0h1m5 0h1m9 0h1m4 0h1m15 0h1m11 0h1m1 0h1m1 0h3M296 163.5h1m1 0h1m2 0h1m17 0h1m1 0h2m19 0h1m4 0h1m3 0h2m8 0h1m5 0h1m2 0h5m1 0h1m6 0h1m3 0h2m1 0h2m4 0h1m5 0h1m7 0h1m19 0h1m11 0h1m1 0h2m1 0h1m2 0h1m16 0h1m5 0h1m3 0h1M282 164.5h2m1 0h1m27 0h1m1 0h1m25 0h1m1 0h2m3 0h2m2 0h2m13 0h1m5 0h1m2 0h1m1 0h1m2 0h1m1 0h1m1 0h1m3 0h1m2 0h2m2 0h1m4 0h1m3 0h1m29 0h1m8 0h1m2 0h1m2 0h1m3 0h1m2 0h2m5 0h1m5 0h1M294 165.5h1m5 0h1m3 0h1m1 0h1m13 0h1m4 0h1m7 0h1m16 0h1m2 0h1m2 0h1m2 0h1m1 0h1m2 0h1m12 0h1m20 0h1m3 0h1m3 0h1m2 0h1m17 0h1m5 0h1m8 0h1m3 0h1m4 0h2m2 0h1m5 0h1M284 166.5h1m17 0h2m20 0h1m2 0h1m31 0h1m1 0h1m14 0h1m16 0h1m5 0h1m1 0h1m1 0h2m9 0h1m10 0h1m5 0h2m1 0h1m1 0h1m4 0h1m1 0h2m3 0h1m25 0h1M306 167.5h1m10 0h2m5 0h1m30 0h1m1 0h1m1 0h1m12 0h1m8 0h1m2 0h1m13 0h2m8 0h1m15 0h1m1 0h1m8 0h1m2 0h1m2 0h1m2 0h1m24 0h1m10 0h1M307 168.5h2m22 0h1m58 0h1m5 0h1m9 0h1m8 0h1m36 0h1m4 0h1M288 169.5h1m9 0h1m48 0h1m19 0h1m15 0h1m2 0h1m1 0h1m2 0h1m1 0h5m1 0h1m1 0h1m8 0h1m8 0h1m3 0h1m3 0h1m1 0h1m1 0h8m2 0h1m3 0h2m6 0h1m24 0h1m2 0h1M283 170.5h1m16 0h1m32 0h1m39 0h1m7 0h1m4 0h1m3 0h1m5 0h2m5 0h1m1 0h1m10 0h1m3 0h1m16 0h1m3 0h1m1 0h2m1 0h1m4 0h4M318 171.5h1m29 0h1m16 0h1m6 0h1m4 0h1m4 0h1m10 0h1m3 0h1m3 0h1m3 0h1m7 0h1m8 0h1m31 0h1m13 0h1m10 0h1M287 172.5h1m28 0h1m15 0h1m3 0h1m21 0h1m2 0h1m6 0h1m1 0h1m3 0h1m22 0h1m13 0h1m5 0h1m16 0h1m19 0h1m3 0h1m8 0h1m2 0h1m8 0h1M296 173.5h1m40 0h1m5 0h1m4 0h1m2 0h1m8 0h1m3 0h1m4 0h1m4 0h2m11 0h1m30 0h1m10 0h1m2 0h1m2 0h2m6 0h1m30 0h1m4 0h1M339 174.5h1m11 0h1m4 0h1m3 0h2m19 0h1m1 0h1m17 0h1m30 0h2m10 0h1m10 0h3m20 0h1m2 0h1M302 175.5h1m35 0h1m2 0h1m1 0h1m8 0h2m3 0h1m3 0h2m8 0h3m3 0h1m2 0h1m5 0h1m22 0h1m11 0h1m20 0h1m2 0h1m1 0h1m1 0h3m2 0h1m12 0h2m5 0h1m4 0h1M302 176.5h1m28 0h1m1 0h1m3 0h2m27 0h1m6 0h1m4 0h2m21 0h1m18 0h1m1 0h2m4 0h1m5 0h1m9 0h2m1 0h1m1 0h1m2 0h1m2 0h2m5 0h1m11 0h1m1 0h1M286 177.5h1m3 0h1m16 0h3m21 0h1m1 0h1m3 0h1m3 0h1m23 0h1m19 0h1m13 0h1m1 0h1m9 0h1m19 0h1m1 0h1m12 0h1m1 0h1m2 0h1m2 0h2m3 0h1m3 0h1m1 0h1M283 178.5h1m31 0h1m10 0h1m3 0h1m31 0h1m19 0h2m3 0h2m6 0h1m3 0h1m12 0h1m13 0h1m1 0h1m12 0h1m3 0h1m5 0h1m9 0h1m3 0h1m2 0h1m4 0h1m5 0h1M323 179.5h1m5 0h1m13 0h1m23 0h1m16 0h1m3 0h1m5 0h1m3 0h1m2 0h1m10 0h1m2 0h1m6 0h1m13 0h1m5 0h1m1 0h3m2 0h1m2 0h1m1 0h1m4 0h1m3 0h6m1 0h1m1 0h1m2 0h1m3 0h2M292 180.5h1m28 0h1m31 0h1m5 0h1m6 0h2m1 0h1m1 0h1m2 0h1m1 0h2m2 0h1m9 0h1m11 0h1m4 0h1m17 0h1m4 0h1m2 0h3m1 0h1m2 0h1m2 0h1m1 0h2m3 0h2m3 0h1m1 0h1m1 0h1m3 0h3m1 0h3m4 0h1m5 0h2M330 181.5h1m6 0h1m7 0h1m19 0h1m4 0h1m4 0h1m2 0h1m4 0h1m11 0h1m12 0h1m21 0h1m2 0h1m2 0h1m12 0h1m17 0h2m2 0h1m1 0h1m2 0h2m2 0h1M305 182.5h1m21 0h1m2 0h1m5 0h2m1 0h1m23 0h1m2 0h1m5 0h1m2 0h1m7 0h2m5 0h1m2 0h1m2 0h5m4 0h1m18 0h1m17 0h1m14 0h1m6 0h1m1 0h1M282 183.5h1m4 0h1m2 0h1m44 0h1m2 0h1m13 0h1m5 0h1m2 0h1m6 0h1m1 0h1m2 0h1m11 0h1m1 0h1m6 0h1m1 0h1m3 0h7m1 0h1m1 0h2m2 0h1m5 0h1m3 0h1m12 0h1m20 0h1m1 0h1m11 0h1m2 0h1M285 184.5h1m11 0h2m7 0h1m6 0h1m1 0h1m2 0h1m5 0h1m2 0h1m7 0h1m2 0h1m7 0h1m1 0h1m6 0h1m3 0h2m2 0h1m1 0h1m1 0h1m2 0h3m2 0h1m13 0h1m3 0h1m3 0h1m2 0h1m4 0h2m2 0h1m1 0h1m9 0h1m3 0h1m6 0h3m15 0h1m3 0h1m3 0h2m1 0h1m9 0h1m2 0h1M309 185.5h1m45 0h1m4 0h1m1 0h2m1 0h1m2 0h3m2 0h1m1 0h2m4 0h1m3 0h1m2 0h1m5 0h1m1 0h2m2 0h1m1 0h2m1 0h2m1 0h1m4 0h1m2 0h2m2 0h1m18 0h1m4 0h1m6 0h1m6 0h1m2 0h1m3 0h2m2 0h1m1 0h2m2 0h1m5 0h1M308 186.5h1m4 0h1m25 0h2m3 0h1m1 0h1m9 0h2m1 0h1m2 0h1m2 0h1m2 0h1m7 0h1m3 0h2m3 0h1m2 0h1m2 0h2m2 0h1m4 0h2m2 0h1m2 0h1m4 0h3m8 0h1m1 0h1m2 0h1m3 0h1m3 0h1m3 0h1m2 0h1m23 0h2m9 0h1M298 187.5h1m7 0h1m2 0h1m29 0h1m9 0h1m15 0h1m6 0h4m2 0h1m3 0h1m14 0h1m17 0h1m14 0h1m5 0h1m2 0h1m1 0h1m3 0h2m2 0h1m3 0h1m13 0h1M309 188.5h1m3 0h1m29 0h1m16 0h2m2 0h1m2 0h4m1 0h1m11 0h1m1 0h1m8 0h1m7 0h2m1 0h2m7 0h1m4 0h1m15 0h1m12 0h1M297 189.5h1m3 0h1m1 0h1m7 0h1m22 0h1m8 0h1m1 0h1m14 0h1m4 0h2m2 0h1m4 0h1m4 0h1m1 0h1m2 0h1m11 0h1m8 0h1m3 0h1m10 0h1m3 0h1m1 0h1m5 0h1m18 0h2m6 0h1m1 0h1m2 0h1m8 0h1M290 190.5h1m12 0h1m6 0h1m14 0h2m2 0h1m1 0h1m7 0h1m5 0h1m18 0h1m1 0h1m9 0h1m2 0h1m1 0h3m3 0h1m6 0h1m1 0h1m6 0h1m1 0h2m2 0h1m5 0h1m11 0h1m9 0h1m2 0h2m16 0h1m2 0h1m3 0h1M312 191.5h1m1 0h1m2 0h1m7 0h1m4 0h1m22 0h1m2 0h1m19 0h1m17 0h2m8 0h1m10 0h1m12 0h1m5 0h1m1 0h1m7 0h1m5 0h1m3 0h1m5 0h1m3 0h1m1 0h1m10 0h1m1 0h1m1 0h1M282 192.5h1m19 0h2m6 0h1m2 0h3m1 0h1m1 0h2m11 0h3m3 0h1m7 0h2m7 0h2m4 0h1m17 0h1m2 0h1m3 0h1m1 0h2m1 0h1m5 0h1m1 0h1m2 0h1m31 0h1m10 0h1m3 0h1m1 0h1m1 0h1m1 0h2m2 0h1m1 0h1m4 0h2m1 0h2m1 0h1m7 0h1M289 193.5h1m3 0h1m9 0h2m3 0h1m4 0h2m8 0h2m6 0h2m2 0h1m3 0h1m2 0h1m4 0h3m5 0h1m6 0h1m4 0h2m6 0h1m1 0h1m2 0h1m5 0h1m1 0h1m14 0h1m20 0h1m1 0h1m10 0h1m4 0h1m4 0h1m3 0h2m4 0h1m1 0h2m1 0h1m1 0h1m5 0h1m7 0h1m1 0h1M289 194.5h1m10 0h1m3 0h1m1 0h1m2 0h2m4 0h2m16 0h1m4 0h1m8 0h1m2 0h2m2 0h2m4 0h1m6 0h1m9 0h1m1 0h1m1 0h1m3 0h1m4 0h1m1 0h1m25 0h1m1 0h2m6 0h1m7 0h1m2 0h1m4 0h1m2 0h1m6 0h1m1 0h2m1 0h1m2 0h1m4 0h1m6 0h1m1 0h1M296 195.5h1m5 0h1m3 0h1m1 0h1m2 0h2m40 0h1m2 0h1m3 0h1m3 0h1m20 0h1m6 0h1m7 0h1m2 0h1m3 0h1m3 0h1m2 0h1m1 0h1m1 0h1m2 0h2m1 0h1m6 0h6m5 0h2m7 0h3m4 0h2M284 196.5h1m10 0h2m1 0h1m10 0h2m6 0h1m4 0h1m1 0h2m34 0h1m4 0h1m6 0h1m10 0h1m6 0h1m3 0h2m14 0h1m1 0h2m1 0h1m1 0h2m2 0h2m4 0h2m5 0h1m2 0h1m1 0h1m1 0h1m1 0h2m5 0h1m3 0h2m10 0h1m5 0h1m2 0h3m1 0h1m1 0h1M283 197.5h2m2 0h3m2 0h1m32 0h1m1 0h2m1 0h1m31 0h1m11 0h1m1 0h2m2 0h2m1 0h1m2 0h3m1 0h1m6 0h1m4 0h1m4 0h1m4 0h1m7 0h1m1 0h1m1 0h1m1 0h2m8 0h1m4 0h1m1 0h1m5 0h1m2 0h2m3 0h2m4 0h1m4 0h2m2 0h1m1 0h1m1 0h1M283 198.5h1m28 0h1m11 0h1m4 0h1m26 0h1m11 0h2m1 0h1m4 0h1m5 0h1m2 0h1m2 0h1m3 0h3m1 0h2m6 0h1m2 0h2m4 0h1m4 0h1m1 0h1m1 0h1m12 0h1m1 0h1m9 0h1m11 0h1m2 0h1m16 0h1M302 199.5h1m6 0h1m5 0h1m53 0h1m3 0h1m1 0h1m6 0h2m1 0h1m3 0h2m11 0h2m4 0h1m8 0h1m5 0h1M320 200.5h1m50 0h2m2 0h1m1 0h1m1 0h1m22 0h1m10 0h1m5 0h1m2 0h1m1 0h1m10 0h1m1 0h4m36 0h1M360 201.5h1m1 0h1m1 0h1m1 0h1m4 0h1m5 0h1m1 0h1m1 0h1m23 0h1m21 0h1m3 0h1m2 0h1m4 0h1m16 0h2m9 0h1m6 0h3M314 202.5h1m10 0h1m30 0h1m1 0h1m7 0h1m1 0h1m2 0h1m3 0h1m1 0h1m1 0h1m12 0h1m3 0h1m11 0h1m2 0h1m13 0h1m1 0h1m2 0h2m6 0h1m8 0h1m11 0h1m4 0h1m2 0h1m4 0h1m2 0h1m1 0h1m3 0h1M283 203.5h1m1 0h1m2 0h2m4 0h1m18 0h1m9 0h1m1 0h2m1 0h1m4 0h1m21 0h1m8 0h1m3 0h1m1 0h1m1 0h2m32 0h1m8 0h4m1 0h1m2 0h1m1 0h1m15 0h1m11 0h2m4 0h1m3 0h1m1 0h1m2 0h1m1 0h1m9 0h2" stroke="#6c6c6c" stroke-width="1" fill="none"/><path d="M284 104.5h1m3 0h1m1 0h2m3 0h1m2 0h1m2 0h1m1 0h2m3 0h2m14 0h2m3 0h1m8 0h1m20 0h1m5 0h1m8 0h1m18 0h1m3 0h3m5 0h2m1 0h1m5 0h1m2 0h1m1 0h11m1 0h1M287 105.5h4m4 0h1m2 0h1m4 0h1m8 0h1m1 0h3m3 0h4m1 0h2m3 0h1m42 0h1m22 0h1m1 0h3m6 0h1m7 0h8m1 0h3m1 0h3m10 0h1m29 0h1M290 106.5h1m1 0h2m13 0h1m8 0h1m35 0h1m4 0h1m2 0h2m14 0h1m1 0h2m1 0h1m3 0h5m2 0h1m1 0h2m1 0h4m1 0h1m1 0h2m1 0h1m1 0h3m4 0h2m1 0h1m2 0h2m8 0h1M294 107.5h1m30 0h1m11 0h1m11 0h3m2 0h1m2 0h6m1 0h7m1 0h9m1 0h3m3 0h1m4 0h1m1 0h3m2 0h4m1 0h8m1 0h2m1 0h1m1 0h2m3 0h1m9 0h2m6 0h1m22 0h1m3 0h1M287 108.5h1m53 0h1m3 0h2m1 0h10m1 0h13m2 0h6m2 0h3m2 0h1m4 0h2m5 0h2m2 0h1m1 0h1m1 0h1m1 0h1m2 0h4m1 0h4m2 0h2m4 0h1m6 0h1m14 0h1m20 0h1m1 0h1m2 0h1m3 0h1M300 109.5h1m2 0h1m27 0h1m14 0h1m2 0h7m1 0h16m1 0h2m3 0h1m1 0h1m4 0h2m13 0h1m10 0h1m1 0h1m1 0h1m4 0h1m8 0h1m10 0h1m4 0h1m1 0h1m20 0h1m8 0h1M293 110.5h1m4 0h1m1 0h1m6 0h1m3 0h1m1 0h2m3 0h1m5 0h1m25 0h1m4 0h3m1 0h5m1 0h1m7 0h1m1 0h1m1 0h1m8 0h2m1 0h1m27 0h1m8 0h2m5 0h4m1 0h1m5 0h1m3 0h1m5 0h1m1 0h2m1 0h3m7 0h1m3 0h1m7 0h1M291 111.5h1m3 0h1m1 0h1m2 0h2m2 0h1m3 0h1m5 0h2m29 0h2m3 0h1m1 0h1m1 0h2m1 0h1m1 0h1m1 0h1m1 0h1m3 0h1m1 0h2m2 0h1m2 0h1m6 0h1m38 0h1m3 0h1m1 0h1m4 0h1m8 0h1m5 0h1m14 0h1m5 0h1m2 0h3M317 112.5h1m28 0h3m5 0h3m1 0h5m1 0h1m1 0h1m1 0h1m1 0h2m1 0h1m1 0h1m1 0h1m4 0h1m1 0h1m1 0h1m25 0h1m10 0h1m5 0h1m5 0h2m13 0h1m4 0h1m3 0h1m3 0h1m15 0h1m1 0h1M340 113.5h1m2 0h1m1 0h3m1 0h1m4 0h4m1 0h4m3 0h2m1 0h5m2 0h2m2 0h1m2 0h1m2 0h1m4 0h1m2 0h1m5 0h1m1 0h1m4 0h1m3 0h2m7 0h1m3 0h1m7 0h1m22 0h1m2 0h2m3 0h1M283 114.5h1m70 0h1m19 0h1m1 0h1m3 0h2m7 0h1m3 0h1m9 0h1m1 0h2m1 0h1m5 0h1m2 0h2m5 0h1m1 0h1m6 0h1m26 0h1m4 0h1M403 115.5h1m18 0h1m1 0h1m14 0h1m35 0h1M317 116.5h1m67 0h1m52 0h1m3 0h1m7 0h1M471 117.5h1m1 0h1M400 118.5h1M438 151.5h1m5 0h1M421 153.5h1M302 155.5h1M299 156.5h1m66 0h1m24 0h1m2 0h1m59 0h1m2 0h1m15 0h1M297 157.5h1m1 0h1m7 0h1m1 0h3m19 0h1m14 0h3m9 0h1m2 0h2m5 0h1m14 0h1m10 0h2m2 0h1m1 0h1m5 0h2m1 0h1M305 158.5h2m7 0h1m34 0h1m5 0h1m6 0h1m33 0h1m39 0h1M307 159.5h1m17 0h1m53 0h1m3 0h1m5 0h1m3 0h1M284 160.5h1m7 0h2m51 0h1m13 0h1m17 0h1m26 0h1M303 161.5h1m4 0h1m13 0h1m9 0h1m5 0h1m11 0h1m5 0h1m20 0h1m12 0h2m2 0h1m7 0h2m10 0h1M327 162.5h1m8 0h1m49 0h1m6 0h1m1 0h1m4 0h1m2 0h1M363 163.5h1m18 0h1m10 0h1m1 0h1m40 0h1m22 0h1m5 0h1m2 0h1M340 164.5h1m5 0h1m4 0h1m28 0h1m3 0h1m70 0h1M388 165.5h2m1 0h1m16 0h1m20 0h1m7 0h1m10 0h1m11 0h1M395 166.5h1m20 0h1m16 0h1m3 0h4m1 0h1M387 167.5h1m42 0h1m5 0h1M305 168.5h1m92 0h1m22 0h1M430 169.5h1M372 170.5h1m14 0h1m3 0h4m3 0h1m1 0h1m3 0h1m22 0h1m6 0h3m2 0h1M412 171.5h1m34 0h1M334 172.5h1m27 0h1m113 0h2M309 173.5h1m17 0h1m153 0h1M382 174.5h1m60 0h1m1 0h1M370 175.5h1m40 0h1m32 0h1m11 0h1m19 0h1M369 176.5h1m37 0h1m60 0h2M300 177.5h1m17 0h1m13 0h1m114 0h1m4 0h1m3 0h1m1 0h1m1 0h1M360 178.5h1m30 0h1m10 0h1m49 0h1M368 179.5h1m9 0h1m12 0h1m16 0h1m24 0h1m19 0h1m3 0h1m3 0h2m14 0h2M448 180.5h1m5 0h1m1 0h1m4 0h1m11 0h1m1 0h5M371 181.5h1m2 0h1m1 0h1m61 0h1m1 0h1m1 0h1m23 0h1m2 0h2m7 0h1M365 182.5h1m3 0h1m32 0h1m8 0h1M341 183.5h1m21 0h1m2 0h1m28 0h1m2 0h1m62 0h1M282 184.5h1m81 0h1m29 0h1m6 0h3m3 0h2m10 0h1m8 0h1m28 0h1m4 0h1m4 0h2M338 185.5h1m7 0h1m5 0h1m14 0h1m33 0h1m2 0h1m5 0h2m2 0h1m3 0h2m4 0h1m35 0h1m1 0h1m4 0h1M383 186.5h2m8 0h1m2 0h1m8 0h2m13 0h1m14 0h1m1 0h1m24 0h1M344 187.5h1m22 0h1m11 0h2m19 0h1m16 0h1M308 188.5h1m38 0h1m6 0h1m10 0h1m5 0h1M339 189.5h1m15 0h1m15 0h1m4 0h1m58 0h1M312 190.5h1m15 0h1m100 0h1m26 0h1m5 0h1M319 191.5h1m1 0h1m11 0h1m1 0h1m49 0h1m19 0h1m50 0h1m4 0h1m1 0h1M321 192.5h1m7 0h1m9 0h1m5 0h1m7 0h2m13 0h1m4 0h1m2 0h1m6 0h1m6 0h1m2 0h1m9 0h1m56 0h1m1 0h3m3 0h1m2 0h1m2 0h1m3 0h2M310 193.5h1m5 0h1m1 0h1m64 0h3m1 0h1m2 0h2m2 0h1m25 0h1m33 0h3m1 0h1m2 0h1m1 0h1m2 0h4m3 0h2M291 194.5h1m52 0h1m41 0h1m39 0h1m11 0h1m11 0h1m7 0h1m1 0h1m2 0h4m1 0h3m1 0h1M423 195.5h1m13 0h1m1 0h1m5 0h1m4 0h1m12 0h1m5 0h1M297 196.5h1m71 0h1m50 0h1m9 0h1m2 0h1m14 0h2m2 0h1m17 0h1m9 0h1M323 197.5h2m10 0h1m23 0h1m18 0h1m3 0h1m6 0h1m2 0h1m11 0h1m16 0h1m6 0h1m16 0h1m4 0h1m3 0h1m11 0h1m3 0h1m2 0h1m3 0h1M327 198.5h1m5 0h1m38 0h1m2 0h1m1 0h2m1 0h1m3 0h1m14 0h2m8 0h1M374 199.5h1m3 0h3m3 0h1M367 200.5h1M418 201.5h1m9 0h1m3 0h1m2 0h1m8 0h1m17 0h1M364 202.5h1m44 0h1m6 0h1m11 0h1m25 0h1m2 0h2m1 0h2m1 0h1m10 0h1m1 0h1M324 203.5h1m133 0h1m2 0h2m14 0h1" stroke="#3c3c3c" stroke-width="1" fill="none"/></g><path d="M387.8 104L387.6 125L388.7 150L390.2 165L390.9 171L391.3 180L391.4 203.3L392.2 203.3L392.3 180L393.6 171L394.5 160L394.7 150L394.1 125L394 104Z" fill="#000"/><path d="M394.5 141.1h0.9M395.2 127.5h0.9M386.8 126.2h0.9M393.3 173.9h0.9M386.1 146.7h0.9M395.8 153.4h0.9M388.7 161.1h0.9M394.4 105.7h0.9M387.1 142.3h0.9M394.9 154.2h0.9M387.4 135.6h0.9M394.1 105h0.9M389.4 166.8h0.9M394.5 172.1h0.9M386.5 129.1h0.9M393.8 170.2h0.9M386.7 115.8h0.9M386.1 119h0.9M387.7 149.1h0.9M394.9 115.4h0.9M387.1 138.1h0.9M394.8 152.4h0.9M395.7 125.8h0.9M386.6 109.9h0.9M388.2 153.6h0.9M394.8 127.3h0.9M394.2 114.4h0.9M395 107.3h0.9M389.6 165.1h0.9M386.8 139.4h0.9M395 138.3h0.9M388.5 156h0.9M389.6 167.4h0.9M395.7 126.3h0.9M386.8 118.3h0.9M393.9 172.3h0.9M387.4 149.1h0.9M395.2 140.4h0.9M394.2 119.5h0.9M389.1 163.2h0.9M389.6 171.6h0.9M394.3 169.4h0.9M395.7 151.7h0.9M394.4 132.1h0.9M386.8 108.1h0.9M394.3 166.8h0.9M388.8 165h0.9M394.7 149.7h0.9M387.1 109.1h0.9M386.5 134.5h0.9M395.2 138.1h0.9M395.2 108.4h0.9M389.2 170h0.9M386.1 106.5h0.9M393.9 166.3h0.9M393.9 172.2h0.9M387.5 152.6h0.9M385.8 122.1h0.9M385.6 123.4h0.9M395.9 152.8h0.9M386.7 144.8h0.9M394.8 127.9h0.9M395.1 152.7h0.9M395.3 125.7h0.9M387 123.6h0.9M395.5 148.2h0.9M394.5 142.2h0.9M389 168.8h0.9M386.9 106.2h0.9M394.5 162.6h0.9M384.9 128.7h0.9M386.1 128.1h0.9M393.7 173.5h0.9M395.4 165.3h0.9M386.4 106.6h0.9M395.8 134.3h0.9M395.2 122.4h0.9M395.1 154.7h0.9M385.8 107h0.9M387 111.2h0.9M394.3 114.6h0.9M394.6 122.6h0.9M395.6 121.5h0.9M395.3 158.1h0.9M394.5 166.8h0.9M394.1 165.9h0.9M394.8 115.3h0.9M394.5 159.9h0.9M393.9 170.6h0.9M386.3 108h0.9M394.9 135.1h0.9M395.2 106.3h0.9M395.6 115.8h0.9M388.2 152h0.9M386.8 125.1h0.9M388.6 158.9h0.9M386.2 144.6h0.9M394.7 126.1h0.9M386.8 127.5h0.9M390.2 174h0.9M395.7 109h0.9M394.9 154.5h0.9M387.1 139.6h0.9M388.1 154.4h0.9M388.8 165.5h0.9M394.7 163.8h0.9M395.9 151.5h0.9M387 122.2h0.9M386.3 113.6h0.9M396.1 139.1h0.9M386.9 117.5h0.9M389.6 166.1h0.9M394.8 118.9h0.9M395.7 138h0.9M395.6 148.7h0.9M386.9 125.5h0.9M386.9 147.4h0.9M394.3 164.5h0.9M386.7 122.6h0.9M387.4 135.3h0.9M387 137.5h0.9M387 118.9h0.9M395.7 152.5h0.9M394.1 107.8h0.9M386.7 130h0.9M395.3 105h0.9M389.5 164.2h0.9M395.4 143.8h0.9M386.4 133.8h0.9M394.3 105.8h0.9M385.7 110.5h0.9M386.4 116.7h0.9M388.7 161.4h0.9M388.5 155h0.9M394.5 129.9h0.9M387.8 151.4h0.9M389 169.3h0.9M387.4 138.6h0.9M394.4 109.4h0.9M394.6 158.5h0.9M388 153.1h0.9M387.6 147.9h0.9M394.8 149.6h0.9M395.6 140.6h0.9M387 114.3h0.9M394.2 110.4h0.9M394.1 108.5h0.9M394.6 130.7h0.9M388.7 164.9h0.9M395.1 119.5h0.9M395.9 155.9h0.9M394.6 132.9h0.9M395.3 149.7h0.9M385.6 125.5h0.9M396.4 151.8h0.9M394.5 157.6h0.9M395.8 133.7h0.9M385.9 119.7h0.9M395.8 144.1h0.9M387 106.3h0.9M386.8 150.1h0.9M394.2 168.5h0.9M394.9 146h0.9M386.6 123.1h0.9M393.7 172.2h0.9M386.6 131.9h0.9M394.4 129.7h0.9M388.6 164.2h0.9M395 122h0.9M395.3 151.3h0.9M387 117.3h0.9M386.3 119.3h0.9M386.8 112.5h0.9M394.5 128.5h0.9M393.5 172.7h0.9M395.5 158.5h0.9M386.3 128.5h0.9M386.2 106.1h0.9M395.1 124.9h0.9M394.4 168.7h0.9M388 149.7h0.9M385.9 129.8h0.9M388 158.1h0.9M386.8 108.8h0.9M386.5 108.8h0.9M395.2 147.9h0.9M388.4 155.4h0.9M394.8 122.7h0.9M388.1 154.6h0.9M385.8 108.8h0.9M385.8 112.9h0.9M394.4 135.4h0.9M389.9 174.9h0.9M394.3 109.7h0.9M394.4 160h0.9M394.7 112.6h0.9M387.8 147.1h0.9M394.2 168.4h0.9M395.4 110.9h0.9M394.5 159.2h0.9M394.3 121.2h0.9M394.7 146.5h0.9M395.4 152.7h0.9M394.5 155.6h0.9M395.3 121.8h0.9M387 151.5h0.9M395 156.3h0.9M394.2 105.9h0.9M393.6 170.8h0.9M389.5 168.9h0.9M388.8 162.9h0.9M395.6 149.3h0.9M394.4 162.4h0.9M387.3 135.9h0.9M394.3 161.7h0.9M388.7 158.9h0.9M395.4 147.9h0.9M394.5 116.7h0.9M394.6 109.1h0.9M395.2 159.3h0.9M387.3 147.2h0.9M386.8 153h0.9M394.8 147h0.9M394.8 155.5h0.9M388.3 163.3h0.9M387.4 147.1h0.9M394.3 127.9h0.9M395.1 116.4h0.9M389.4 164.2h0.9M385.7 134h0.9M388.4 169.3h0.9M385.9 122.1h0.9M394.7 139.6h0.9M387.3 136.9h0.9M395.2 138h0.9M386.8 134.8h0.9M389.1 173.9h0.9M394.5 121.3h0.9M387.2 166.6h0.9M394.8 141.3h0.9M386.2 131h0.9M385.5 117.3h0.9M387.2 141.1h0.9M394.6 152.7h0.9M395.1 156.8h0.9M387.3 134.7h0.9M395.6 155.2h0.9M394.2 169.4h0.9M388.1 151.8h0.9M394.6 113.1h0.9M387.9 148.8h0.9M387.2 142.8h0.9M394.6 112.4h0.9M394.6 152.6h0.9M388.2 156.9h0.9M395.4 143.7h0.9M394.8 109.7h0.9M394 167.4h0.9M395.7 146.5h0.9M395.8 112.9h0.9M394.6 140h0.9M394.1 165h0.9M395.2 170.3h0.9M388.3 153.3h0.9M393.9 169.3h0.9M386.3 134h0.9M396 163.9h0.9M387 134.7h0.9M386.3 127.2h0.9M394.3 113.6h0.9M388 149.1h0.9M387.2 143.4h0.9M389.1 173.3h0.9M387 133.7h0.9M386.8 118.9h0.9M394.5 123.7h0.9M394.8 111.8h0.9M386.6 113.4h0.9M387.3 154.4h0.9M386.9 111.2h0.9M394.2 169.9h0.9M386.6 123.1h0.9M393.9 173.6h0.9M394.5 167.1h0.9M394.8 167.1h0.9M387.1 133.1h0.9M386.8 114.2h0.9M388.1 161.6h0.9M394.2 106h0.9M386.3 124.8h0.9M385.5 107.6h0.9M388.5 162.9h0.9M389.9 167.6h0.9M394.7 108.4h0.9M395.6 147.7h0.9M394.3 168.4h0.9M394.7 151h0.9M385.5 112.1h0.9M394.3 117.2h0.9M386.4 121h0.9" stroke="#333" stroke-width="0.9" fill="none"/><path d="M388.3 131.5h1.8M389.4 134.8h1.8M390 139.1h1.8M390.9 142.5h1.8M391.9 146.2h1.8M392.7 151h1.8M393.2 156.5h1.8M393.5 162h1.8M393.8 168h1.8" stroke="#f00" stroke-width="1.8" fill="none"/><path d="M368 106.6v2.4M367.2 106.6h1.6M367.2 109h1.6M366 104.8v2.4M365.2 104.8h1.6M365.2 107.2h1.6M366.4 103.9v2.4M365.6 103.9h1.6M365.6 106.3h1.6M361.9 105.3v2.4M361.1 105.3h1.6M361.1 107.7h1.6M362.5 106v2.4M361.7 106h1.6M361.7 108.4h1.6M370.1 106.5v2.4M369.3 106.5h1.6M369.3 108.9h1.6M359.8 104.6v2.4M359 104.6h1.6M359 107h1.6M370.7 104.6v2.4M369.9 104.6h1.6M369.9 107h1.6M368.6 106.2v2.4M367.8 106.2h1.6M367.8 108.6h1.6M366.6 105.8v2.4M365.8 105.8h1.6M365.8 108.2h1.6M361.7 103.9v2.4M360.9 103.9h1.6M360.9 106.3h1.6M360.4 104.2v2.4M359.6 104.2h1.6M359.6 106.6h1.6M364.3 105.2v2.4M363.5 105.2h1.6M363.5 107.6h1.6M366.9 106.2v2.4M366.1 106.2h1.6M366.1 108.6h1.6M397.8 174.6v3M397 174.6h1.6M397 177.6h1.6M396.7 178.2v3M395.9 178.2h1.6M395.9 181.2h1.6M395.6 180.3v3M394.8 180.3h1.6M394.8 183.3h1.6M397.2 179.3v3M396.4 179.3h1.6M396.4 182.3h1.6M399 181.3v3M398.2 181.3h1.6M398.2 184.3h1.6M400.9 181.6v3M400.1 181.6h1.6M400.1 184.6h1.6M398.5 177.9v3M397.7 177.9h1.6M397.7 180.9h1.6M395.2 182.4v3M394.4 182.4h1.6M394.4 185.4h1.6M397.3 174.8v3M396.5 174.8h1.6M396.5 177.8h1.6M396.3 176.9v3M395.5 176.9h1.6M395.5 179.9h1.6M396.6 174.9v3M395.8 174.9h1.6M395.8 177.9h1.6M397.9 181v3M397.1 181h1.6M397.1 184h1.6M399.9 173.7v3M399.1 173.7h1.6M399.1 176.7h1.6M396.7 182.2v3M395.9 182.2h1.6M395.9 185.2h1.6M401.3 176.5v3M400.5 176.5h1.6M400.5 179.5h1.6M400.1 173.9v3M399.3 173.9h1.6M399.3 176.9h1.6M384.9 179v3.7M384.1 179h1.6M384.1 182.7h1.6M361.7 199.5v4M360.9 199.5h1.6M360.9 203.5h1.6M350.7 187.2v3.3M349.9 187.2h1.6M349.9 190.5h1.6M348.6 184.3v4.4M347.8 184.3h1.6M347.8 188.7h1.6M377.4 189.7v3.3M376.6 189.7h1.6M376.6 193h1.6M385 181.5v3.3M384.2 181.5h1.6M384.2 184.8h1.6M349 186.2v4.6M348.2 186.2h1.6M348.2 190.9h1.6M372.5 193.8v3.9M371.7 193.8h1.6M371.7 197.8h1.6M365.6 197.7v3.1M364.8 197.7h1.6M364.8 200.8h1.6M374.3 192.3v3.2M373.5 192.3h1.6M373.5 195.5h1.6M346.4 183v4.1M345.6 183h1.6M345.6 187.1h1.6M350.5 187.7v4M349.7 187.7h1.6M349.7 191.7h1.6M353.9 193.2v4.4M353.1 193.2h1.6M353.1 197.6h1.6M354.8 193.8v3.3M354 193.8h1.6M354 197.2h1.6M346.3 184.7v5M345.5 184.7h1.6M345.5 189.7h1.6M361.1 196.3v4.3M360.3 196.3h1.6M360.3 200.6h1.6M387.6 176.3v3.6M386.8 176.3h1.6M386.8 179.9h1.6M374.7 192.3v3.9M373.9 192.3h1.6M373.9 196.2h1.6M349.7 189.9v4.3M348.9 189.9h1.6M348.9 194.1h1.6M382.8 183.3v3.5M382 183.3h1.6M382 186.9h1.6M357.7 193.8v4.6M356.9 193.8h1.6M356.9 198.5h1.6M385.5 179.7v4.1M384.7 179.7h1.6M384.7 183.8h1.6M370.8 191.7v4.7M370 191.7h1.6M370 196.4h1.6M367.8 197.4v4M367 197.4h1.6M367 201.3h1.6M384.8 180.2v3.4M384 180.2h1.6M384 183.6h1.6M357 196.6v4.1M356.2 196.6h1.6M356.2 200.7h1.6M386.6 176.7v4.2M385.8 176.7h1.6M385.8 181h1.6M372.2 193.4v4.2M371.4 193.4h1.6M371.4 197.6h1.6M361.8 197.9v3.5M361 197.9h1.6M361 201.5h1.6M366.1 197.3v3.6M365.3 197.3h1.6M365.3 200.9h1.6M366.8 196.1v4.7M366 196.1h1.6M366 200.8h1.6M360.3 199.1v4M359.5 199.1h1.6M359.5 203.2h1.6M385.2 180v3.6M384.4 180h1.6M384.4 183.6h1.6M358.6 199.6v4.1M357.8 199.6h1.6M357.8 203.7h1.6M354.1 192.7v4.8M353.3 192.7h1.6M353.3 197.5h1.6M360.9 196.8v4.8M360.1 196.8h1.6M360.1 201.6h1.6M365.9 195.3v4.2M365.1 195.3h1.6M365.1 199.5h1.6M369.1 195v4.8M368.3 195h1.6M368.3 199.8h1.6M352.6 190.4v5M351.8 190.4h1.6M351.8 195.4h1.6M372.5 193.8v3.3M371.7 193.8h1.6M371.7 197.1h1.6M378 186.2v4.4M377.2 186.2h1.6M377.2 190.6h1.6M388.4 179.2v3.9M387.6 179.2h1.6M387.6 183.1h1.6M353.6 193.4v4.3M352.8 193.4h1.6M352.8 197.8h1.6M351.5 191.2v3.2M350.7 191.2h1.6M350.7 194.3h1.6M351.2 190.7v3.2M350.4 190.7h1.6M350.4 193.9h1.6M357.1 197.1v3.6M356.3 197.1h1.6M356.3 200.8h1.6M388.9 175.9v4.6M388.1 175.9h1.6M388.1 180.5h1.6M383.7 181.9v3.5M382.9 181.9h1.6M382.9 185.4h1.6M361.3 198.5v4.6M360.5 198.5h1.6M360.5 203.1h1.6M364.3 194.9v3.3M363.5 194.9h1.6M363.5 198.1h1.6M347.4 186.9v3.6M346.6 186.9h1.6M346.6 190.6h1.6M379 186.5v3.1M378.2 186.5h1.6M378.2 189.7h1.6M374.1 193v3.7M373.3 193h1.6M373.3 196.8h1.6M384.9 178.5v3.1M384.1 178.5h1.6M384.1 181.6h1.6M381.3 183.5v4.6M380.5 183.5h1.6M380.5 188.1h1.6M366.3 199.2v3.8M365.5 199.2h1.6M365.5 203.1h1.6M371.2 191.2v4.6M370.4 191.2h1.6M370.4 195.7h1.6M350.6 190.2v4.7M349.8 190.2h1.6M349.8 194.9h1.6M374.2 193.2v3.4M373.4 193.2h1.6M373.4 196.7h1.6M370.7 194.9v3.7M369.9 194.9h1.6M369.9 198.5h1.6M347.6 185.5v4.5M346.8 185.5h1.6M346.8 189.9h1.6M369.6 191.5v4.6M368.8 191.5h1.6M368.8 196h1.6M350.9 189.9v4M350.1 189.9h1.6M350.1 193.9h1.6M367.8 198.2v3.9M367 198.2h1.6M367 202.1h1.6M363.2 196.4v4.8M362.4 196.4h1.6M362.4 201.2h1.6M349.9 187.3v4M349.1 187.3h1.6M349.1 191.3h1.6M384.6 179.9v4.1M383.8 179.9h1.6M383.8 184h1.6M374.1 192.9v3M373.3 192.9h1.6M373.3 195.9h1.6M388 175.6v4.8M387.2 175.6h1.6M387.2 180.4h1.6M384.4 179.5v3.9M383.6 179.5h1.6M383.6 183.3h1.6M373.4 191.1v3.5M372.6 191.1h1.6M372.6 194.6h1.6M383.6 181.1v4.4M382.8 181.1h1.6M382.8 185.5h1.6M353.8 191.5v4.3M353 191.5h1.6M353 195.8h1.6M350.9 191.5v4M350.1 191.5h1.6M350.1 195.4h1.6M358 197.3v3.3M357.2 197.3h1.6M357.2 200.5h1.6M374.2 194.2v3.4M373.4 194.2h1.6M373.4 197.6h1.6M352.5 193.3v3.1M351.7 193.3h1.6M351.7 196.5h1.6M359.9 199.4v4.1M359.1 199.4h1.6M359.1 203.5h1.6M358.4 195.2v4.1M357.6 195.2h1.6M357.6 199.3h1.6M355.4 193.2v4.6M354.6 193.2h1.6M354.6 197.8h1.6M410.3 187.8v3.5M409.5 187.8h1.6M409.5 191.3h1.6M412.1 186.6v3.6M411.3 186.6h1.6M411.3 190.2h1.6M420.5 179.8v4.3M419.7 179.8h1.6M419.7 184.1h1.6M421.5 179.2v3.5M420.7 179.2h1.6M420.7 182.7h1.6M406.9 189.7v3.6M406.1 189.7h1.6M406.1 193.3h1.6M405.1 193.8v3.3M404.3 193.8h1.6M404.3 197.1h1.6M407.6 188v3.6M406.8 188h1.6M406.8 191.6h1.6M426.2 180.8v3.6M425.4 180.8h1.6M425.4 184.4h1.6M409.8 187.8v3.4M409 187.8h1.6M409 191.2h1.6M413.6 186.9v3.2M412.8 186.9h1.6M412.8 190.1h1.6M420.3 179.9v3.4M419.5 179.9h1.6M419.5 183.3h1.6M419.3 181.4v3.4M418.5 181.4h1.6M418.5 184.7h1.6M420.9 179.9v4.1M420.1 179.9h1.6M420.1 184.1h1.6M405.1 193.5v4.1M404.3 193.5h1.6M404.3 197.6h1.6M410.3 188.7v3.5M409.5 188.7h1.6M409.5 192.1h1.6M421.1 179.9v4.3M420.3 179.9h1.6M420.3 184.2h1.6M425.7 177.9v3.3M424.9 177.9h1.6M424.9 181.2h1.6M423.8 179.2v3.9M423 179.2h1.6M423 183.1h1.6M407 188.9v3.2M406.2 188.9h1.6M406.2 192.1h1.6M407.3 188.3v3.5M406.5 188.3h1.6M406.5 191.8h1.6M427.3 181.6v4.2M426.5 181.6h1.6M426.5 185.8h1.6M417.7 182.8v3.4M416.9 182.8h1.6M416.9 186.2h1.6M410.9 188.2v4M410.1 188.2h1.6M410.1 192.1h1.6M425.4 182.4v3.6M424.6 182.4h1.6M424.6 185.9h1.6M412 185.8v3.2M411.2 185.8h1.6M411.2 189.1h1.6M427 181.4v4.3M426.2 181.4h1.6M426.2 185.7h1.6M424.5 177.9v4.1M423.7 177.9h1.6M423.7 182h1.6M413.7 185.2v3.5M412.9 185.2h1.6M412.9 188.6h1.6M423.8 180v3.3M423 180h1.6M423 183.3h1.6M422.4 181.5v4.3M421.6 181.5h1.6M421.6 185.9h1.6M405.9 190v4.4M405.1 190h1.6M405.1 194.4h1.6M406.3 191.5v3.5M405.5 191.5h1.6M405.5 195.1h1.6M404.3 194.2v4.1M403.5 194.2h1.6M403.5 198.2h1.6M421.4 181.1v3.8M420.6 181.1h1.6M420.6 184.9h1.6M413.4 185.1v4M412.6 185.1h1.6M412.6 189.1h1.6M420.1 182.8v4.1M419.3 182.8h1.6M419.3 187h1.6M407.1 190.5v4M406.3 190.5h1.6M406.3 194.5h1.6M407.7 190v3.6M406.9 190h1.6M406.9 193.6h1.6M425.6 178.7v4.3M424.8 178.7h1.6M424.8 183h1.6M409.1 188v3.4M408.3 188h1.6M408.3 191.4h1.6M407.1 191v3.1M406.3 191h1.6M406.3 194.2h1.6M412.7 186.5v3M411.9 186.5h1.6M411.9 189.5h1.6M403.4 193.3v3M402.6 193.3h1.6M402.6 196.3h1.6M427 179.7v3.3M426.2 179.7h1.6M426.2 183h1.6M416.2 185v4.2M415.4 185h1.6M415.4 189.2h1.6M450.8 185.6v4.4M450 185.6h1.6M450 190h1.6" stroke="#f00" stroke-width="0.8" fill="none"/><path d="M367.2 107.8h1.6M365.2 106h1.6M365.6 105.1h1.6M361.1 106.5h1.6M361.7 107.2h1.6M369.3 107.7h1.6M359 105.8h1.6M369.9 105.8h1.6M367.8 107.4h1.6M365.8 107h1.6M360.9 105.1h1.6M359.6 105.4h1.6M363.5 106.4h1.6M366.1 107.4h1.6M397 176.1h1.6M395.9 179.7h1.6M394.8 181.8h1.6M396.4 180.8h1.6M398.2 182.8h1.6M400.1 183.1h1.6M397.7 179.4h1.6M394.4 183.9h1.6M396.5 176.3h1.6M395.5 178.4h1.6M395.8 176.4h1.6M397.1 182.5h1.6M399.1 175.2h1.6M395.9 183.7h1.6M400.5 178h1.6M399.3 175.4h1.6M384.1 180.8h1.6M360.9 201.5h1.6M349.9 188.8h1.6M347.8 186.5h1.6M376.6 191.3h1.6M384.2 183.2h1.6M348.2 188.6h1.6M371.7 195.8h1.6M364.8 199.2h1.6M373.5 193.9h1.6M345.6 185.1h1.6M349.7 189.7h1.6M353.1 195.4h1.6M354 195.5h1.6M345.5 187.2h1.6M360.3 198.5h1.6M386.8 178.1h1.6M373.9 194.3h1.6M348.9 192h1.6M382 185.1h1.6M356.9 196.2h1.6M384.7 181.8h1.6M370 194.1h1.6M367 199.3h1.6M384 181.9h1.6M356.2 198.6h1.6M385.8 178.8h1.6M371.4 195.5h1.6M361 199.7h1.6M365.3 199.1h1.6M366 198.4h1.6M359.5 201.2h1.6M384.4 181.8h1.6M357.8 201.6h1.6M353.3 195.1h1.6M360.1 199.2h1.6M365.1 197.4h1.6M368.3 197.4h1.6M351.8 192.9h1.6M371.7 195.4h1.6M377.2 188.4h1.6M387.6 181.1h1.6M352.8 195.6h1.6M350.7 192.7h1.6M350.4 192.3h1.6M356.3 199h1.6M388.1 178.2h1.6M382.9 183.6h1.6M360.5 200.8h1.6M363.5 196.5h1.6M346.6 188.8h1.6M378.2 188.1h1.6M373.3 194.9h1.6M384.1 180.1h1.6M380.5 185.8h1.6M365.5 201.1h1.6M370.4 193.4h1.6M349.8 192.6h1.6M373.4 195h1.6M369.9 196.7h1.6M346.8 187.7h1.6M368.8 193.7h1.6M350.1 191.9h1.6M367 200.2h1.6M362.4 198.8h1.6M349.1 189.3h1.6M383.8 182h1.6M373.3 194.4h1.6M387.2 178h1.6M383.6 181.4h1.6M372.6 192.8h1.6M382.8 183.3h1.6M353 193.7h1.6M350.1 193.5h1.6M357.2 198.9h1.6M373.4 195.9h1.6M351.7 194.9h1.6M359.1 201.5h1.6M357.6 197.3h1.6M354.6 195.5h1.6M409.5 189.6h1.6M411.3 188.4h1.6M419.7 181.9h1.6M420.7 180.9h1.6M406.1 191.5h1.6M404.3 195.5h1.6M406.8 189.8h1.6M425.4 182.6h1.6M409 189.5h1.6M412.8 188.5h1.6M419.5 181.6h1.6M418.5 183h1.6M420.1 182h1.6M404.3 195.5h1.6M409.5 190.4h1.6M420.3 182.1h1.6M424.9 179.6h1.6M423 181.2h1.6M406.2 190.5h1.6M406.5 190.1h1.6M426.5 183.7h1.6M416.9 184.5h1.6M410.1 190.1h1.6M424.6 184.2h1.6M411.2 187.4h1.6M426.2 183.5h1.6M423.7 180h1.6M412.9 186.9h1.6M423 181.6h1.6M421.6 183.7h1.6M405.1 192.2h1.6M405.5 193.3h1.6M403.5 196.2h1.6M420.6 183h1.6M412.6 187.1h1.6M419.3 184.9h1.6M406.3 192.5h1.6M406.9 191.8h1.6M424.8 180.9h1.6M408.3 189.7h1.6M406.3 192.6h1.6M411.9 188h1.6M402.6 194.8h1.6M426.2 181.4h1.6M415.4 187.1h1.6M450 187.8h1.6" stroke="#f00" stroke-width="1.5" fill="none"/></g><defs><clipPath id="c5"><rect x="18.5" y="254.5" width="199" height="85.6"/></clipPath><clipPath id="c6"><rect x="18.5" y="340.1" width="199" height="98.5"/></clipPath></defs><g clip-path="url(#c5)"><path d="M18.5 328l0.7 0 0.6 0 0.7 0 0.7 0 0.6 0 0.7 0 0.7 0 0.6 0 0.7 0 0.7 0 0.6 0 0.7 0 0.7 0 0.6 0 0.7 0 0.6 0 0.7 0 0.7 0 0.6 0 0.7 0 0.7 0 0.6 0 0.7 0 0.7 0 0.6 0 0.7 0 0.7 0 0.6 0 0.7 0 0.7 0 0.6 0 0.7 0 0.7 0 0.6 0 0.7 0 0.7 0 0.6 0 0.7 0 0.7 0 0.6 0 0.7 0 0.7 0 0.6 0 0.7 0 0.6 0 0.7 0 0.7 0 0.6 0 0.7 0 0.7 0 0.6 0 0.7 0 0.7 0 0.6 0 0.7 0 0.7 0 0.6 0 0.7 0 0.7 0 0.6 0 0.7 0 0.7 0 0.6-0.1 0.7-0.1 0.7-0.1 0.6-0.1 0.7-0.1 0.7-0.2 0.6-0.1 0.7-0.1 0.7-0.1 0.6-0.1 0.7-0.1 0.7-0.2 0.6-0.3 0.7-0.2 0.6-0.3 0.7-0.2 0.7-0.3 0.6-0.2 0.7-0.2 0.7-0.3 0.6-0.2 0.7-0.1 0.7 0.1 0.6 0 0.7 0.1 0.7 0 0.6 0.1 0.7 0 0.7 0.1 0.6 0 0.7 0.1 0.7 0 0.6 0.1 0.7-0.1 0.7-0.4 0.6-0.4 0.7-0.5 0.7-0.4 0.6-0.4 0.7-0.4 0.7-0.4 0.6-0.4 0.7-0.6 0.6-0.5 0.7-0.6 0.7-0.6 0.6-0.5 0.7-0.6 0.7-0.6 0.6-0.5 0.7-0.6 0.7-0.9 0.6-2 0.7-2 0.7-2 0.6-2 0.7-2 0.7-4 0.6-4.8 0.7-4.8 0.7-4.9 0.6-4.7 0.7-4.5 0.7-4.6 0.6-4.5 0.7-2.9 0.7-0.6 0.6-0.7 0.7-0.6 0.7-0.7 0.6-0.6 0.7-0.7 0.6 0.8 0.7 3.1 0.7 3.2 0.6 3.1 0.7 3.2 0.7 3.1 0.6 3 0.7 3.1 0.7 3 0.6 3 0.7 3 0.7 2.7 0.6 1.7 0.7 1.8 0.7 1.8 0.6 1.8 0.7 1.8 0.7 1.8 0.6 1.8 0.7 1.8 0.7 1.1 0.6 1.1 0.7 1.1 0.7 1.1 0.6 1.2 0.7 1.1 0.7 1.1 0.6 1.1 0.7 0.7 0.7 0.5 0.6 0.4 0.7 0.5 0.6 0.5 0.7 0.5 0.7 0.5 0.6 0.5 0.7 0.5 0.7 0.5 0.6 0.5 0.7 0.3 0.7 0.1 0.6 0.2 0.7 0.2 0.7 0.1 0.6 0.2 0.7 0.1 0.7 0.2 0.6 0.1 0.7 0.1 0.7 0 0.6-0.1 0.7 0 0.7 0 0.6 0 0.7-0.1 0.7 0 0.6 0 0.7 0 0.7 0 0.6-0.1 0.7 0 0.6 0 0.7 0 0.7-0.1 0.6 0 0.7 0 0.7 0.1 0.6 0.1 0.7 0.1 0.7 0.1 0.6 0.1 0.7 0.1 0.7 0 0.6 0.1 0.7 0.1 0.7 0.1 0.6 0.1 0.7 0.1 0.7 0.1 0.6 0.1 0.7 0 0.7 0.1 0.6 0.1 0.7 0.1 0.7 0.1 0.6 0.1 0.7 0 0.7 0 0.6 0 0.7 0 0.6 0 0.7 0 0.7 0 0.6 0 0.7 0 0.7 0 0.6 0 0.7 0 0.7 0 0.6 0 0.7 0 0.7 0 0.6 0 0.7 0 0.7 0 0.6 0 0.7 0 0.7 0 0.6 0 0.7 0 0.7 0 0.6 0 0.7 0 0.7 0 0.6 0 0.7 0 0.7 0 0.6 0 0.7 0 0.7 0 0.6 0 0.7 0 0.6 0 0.7 0 0.7 0 0.6 0 0.7 0 0.7 0 0.6 0 0.7 0 0.7 0 0.6 0 0.7 0 0.7 0 0.6 0 0.7 0 0.7 0 0.6 0 0.7 0 0.7 0 0.6 0 0.7 0 0.7 0 0.6 0 0.7 0 0.7 0 0.6 0 0.7 0 0.7 0 0.6 0 0.7 0 0.6 0 0.7 0 0.7 0 0.6 0 0.7 0 0.7 0 0.6 0 0.7 0 0.7 0 0.6 0 0.7 0 0.7 0 0.6 0 0.7 0" stroke="#111" stroke-width="0.8" fill="none" stroke-linejoin="round"/><path d="M18.5 328l0.7 0 0.6 0 0.7 0 0.7 0 0.6 0 0.7 0 0.7 0 0.6 0 0.7 0 0.7 0 0.6 0 0.7 0 0.7 0 0.6 0 0.7 0 0.6 0 0.7 0 0.7 0 0.6 0 0.7 0 0.7 0 0.6 0 0.7 0 0.7 0 0.6 0 0.7 0 0.7 0 0.6 0 0.7 0 0.7 0 0.6 0 0.7 0 0.7 0 0.6 0 0.7 0 0.7 0 0.6 0 0.7 0 0.7 0 0.6 0 0.7 0 0.7 0 0.6 0 0.7 0 0.6 0 0.7 0 0.7 0 0.6 0 0.7 0 0.7 0 0.6 0 0.7 0 0.7 0 0.6 0 0.7 0 0.7 0 0.6 0 0.7 0 0.7 0 0.6 0 0.7 0 0.7 0 0.6-0.1 0.7-0.1 0.7-0.2 0.6-0.1 0.7-0.2 0.7-0.1 0.6-0.2 0.7-0.1 0.7-0.2 0.6-0.1 0.7-0.2 0.7-0.1 0.6-0.2 0.7-0.1 0.6-0.2 0.7-0.1 0.7-0.2 0.6-0.1 0.7-0.2 0.7-0.1 0.6-0.2 0.7 0 0.7-0.1 0.6 0 0.7 0 0.7-0.1 0.6 0 0.7-0.1 0.7 0 0.6 0 0.7-0.1 0.7 0 0.6-0.1 0.7 0 0.7 0 0.6-0.1 0.7-0.2 0.7-0.3 0.6-0.2 0.7-0.3 0.7-0.3 0.6-0.3 0.7-0.3 0.6-0.3 0.7-0.2 0.7-0.1 0.6-0.2 0.7-0.1 0.7-0.1 0.6-0.1 0.7-0.1 0.7-0.1 0.6-0.2 0.7-0.1 0.7-0.1 0.6-0.2 0.7-1.7 0.7-1.8 0.6-1.7 0.7-1.7 0.7-1.8 0.6-1.7 0.7-1.6 0.7-0.8 0.6-0.9 0.7-0.8 0.7-0.8 0.6-0.3 0.7-0.1 0.7-0.1 0.6-0.1 0.7-0.1 0.6 1.6 0.7 1.7 0.7 1.7 0.6 1.7 0.7 1.6 0.7 1.7 0.6 1.6 0.7 1.7 0.7 1.6 0.6 1.7 0.7 0.8 0.7 0.4 0.6 0.5 0.7 0.5 0.7 0.5 0.6 0.5 0.7 0.5 0.7 0.4 0.6 0.5 0.7 0.5 0.7 0.1 0.6 0.1 0.7 0.1 0.7 0.2 0.6 0.1 0.7 0.1 0.7 0.1 0.6 0.1 0.7 0.2 0.7 0.1 0.6 0.1 0.7 0 0.6 0.1 0.7 0 0.7 0 0.6 0 0.7 0.1 0.7 0 0.6 0 0.7 0.1 0.7 0 0.6 0 0.7 0 0.7 0.1 0.6 0 0.7 0 0.7 0.1 0.6 0 0.7 0 0.7 0 0.6 0 0.7 0 0.7 0 0.6 0 0.7 0 0.7 0 0.6 0 0.7 0 0.7 0 0.6 0 0.7 0 0.6 0 0.7 0 0.7 0 0.6 0 0.7 0 0.7 0 0.6 0 0.7 0 0.7 0 0.6 0 0.7 0 0.7 0 0.6 0 0.7 0 0.7 0 0.6 0 0.7 0 0.7 0 0.6 0 0.7 0 0.7 0 0.6 0 0.7 0 0.7 0 0.6 0 0.7 0 0.7 0 0.6 0 0.7 0 0.6 0 0.7 0 0.7 0 0.6 0 0.7 0 0.7 0 0.6 0 0.7 0 0.7 0 0.6 0 0.7 0 0.7 0 0.6 0 0.7 0 0.7 0 0.6 0 0.7 0 0.7 0 0.6 0 0.7 0 0.7 0 0.6 0 0.7 0 0.7 0 0.6 0 0.7 0 0.7 0 0.6 0 0.7 0 0.7 0 0.6 0 0.7 0 0.6 0 0.7 0 0.7 0 0.6 0 0.7 0 0.7 0 0.6 0 0.7 0 0.7 0 0.6 0 0.7 0 0.7 0 0.6 0 0.7 0 0.7 0 0.6 0 0.7 0 0.7 0 0.6 0 0.7 0 0.7 0 0.6 0 0.7 0 0.7 0 0.6 0 0.7 0 0.7 0 0.6 0 0.7 0 0.6 0 0.7 0 0.7 0 0.6 0 0.7 0 0.7 0 0.6 0 0.7 0 0.7 0 0.6 0 0.7 0 0.7 0 0.6 0 0.7 0" stroke="#f00" stroke-width="0.8" fill="none" stroke-dasharray="4.5 2.8"/><path d="M18.5 328l0.7 0 0.6 0 0.7 0 0.7 0 0.6 0 0.7 0 0.7 0 0.6 0 0.7 0 0.7 0 0.6 0 0.7 0 0.7 0 0.6 0 0.7 0 0.6-0.1 0.7 0 0.7 0 0.6 0 0.7 0 0.7 0 0.6 0 0.7 0 0.7 0 0.6 0 0.7 0 0.7 0 0.6 0 0.7 0 0.7 0 0.6 0 0.7 0 0.7 0 0.6 0 0.7 0 0.7 0 0.6 0 0.7 0 0.7 0 0.6 0 0.7 0 0.7 0 0.6 0 0.7 0 0.6 0 0.7 0 0.7-0.1 0.6 0 0.7 0 0.7 0 0.6 0 0.7 0 0.7 0 0.6 0 0.7 0 0.7 0 0.6 0 0.7 0 0.7 0 0.6 0 0.7 0 0.7 0 0.6 0 0.7-0.1 0.7 0 0.6-0.1 0.7 0 0.7-0.1 0.6 0 0.7-0.1 0.7 0 0.6-0.1 0.7-0.1 0.7 0 0.6-0.1 0.7 0 0.6-0.1 0.7 0 0.7-0.1 0.6 0 0.7-0.1 0.7 0 0.6-0.1 0.7 0 0.7-0.1 0.6 0 0.7-0.1 0.7 0 0.6-0.1 0.7 0 0.7-0.1 0.6 0 0.7-0.1 0.7 0 0.6-0.1 0.7 0 0.7-0.1 0.6-0.1 0.7 0 0.7-0.1 0.6 0 0.7-0.1 0.7 0 0.6-0.1 0.7 0 0.6-0.1 0.7 0 0.7-0.1 0.6 0 0.7-0.1 0.7 0 0.6-0.1 0.7 0.2 0.7 0.4 0.6 0.4 0.7 0.4 0.7 0.4 0.6 0.4 0.7 0.3 0.7 0.4 0.6 0.4 0.7 0.4 0.7 0.4 0.6 0.4 0.7 0.5 0.7 0.4 0.6 0.4 0.7 0.4 0.7 0.5 0.6 0.4 0.7 0.4 0.7 0.4 0.6 0.4 0.7-0.2 0.6-0.4 0.7-0.4 0.7-0.4 0.6-0.3 0.7-0.4 0.7-0.4 0.6-0.4 0.7-0.4 0.7-0.3 0.6-0.2 0.7-0.2 0.7-0.1 0.6-0.2 0.7-0.2 0.7-0.1 0.6-0.2 0.7-0.2 0.7-0.2 0.6-0.1 0.7-0.2 0.7 0 0.6 0 0.7-0.1 0.7 0 0.6 0 0.7 0 0.7 0 0.6-0.1 0.7 0 0.7 0 0.6 0 0.7-0.1 0.6 0 0.7 0 0.7 0 0.6 0 0.7-0.1 0.7 0 0.6 0 0.7 0 0.7 0 0.6-0.1 0.7 0 0.7 0 0.6 0 0.7 0 0.7-0.1 0.6 0 0.7 0 0.7 0 0.6 0 0.7 0 0.7 0 0.6 0 0.7 0 0.7 0 0.6 0 0.7 0 0.7 0.1 0.6 0 0.7 0 0.6 0 0.7 0 0.7 0 0.6 0 0.7 0 0.7 0 0.6 0 0.7 0 0.7 0 0.6 0 0.7 0 0.7 0 0.6 0 0.7 0 0.7 0 0.6 0 0.7 0.1 0.7 0 0.6 0 0.7 0 0.7 0 0.6 0 0.7 0 0.7 0 0.6 0 0.7 0 0.7 0 0.6 0 0.7 0 0.6 0 0.7 0 0.7 0 0.6 0 0.7 0 0.7 0 0.6 0 0.7 0.1 0.7 0 0.6 0 0.7 0 0.7 0 0.6 0 0.7 0 0.7 0 0.6 0 0.7 0 0.7 0 0.6 0 0.7 0 0.7 0 0.6 0 0.7 0 0.7 0 0.6 0 0.7 0 0.7 0.1 0.6 0 0.7 0 0.7 0 0.6 0 0.7 0 0.6 0 0.7 0 0.7 0 0.6 0 0.7 0 0.7 0 0.6 0 0.7 0 0.7 0 0.6 0 0.7 0 0.7 0 0.6 0 0.7 0.1 0.7 0 0.6 0 0.7 0 0.7 0 0.6 0 0.7 0 0.7 0 0.6 0 0.7 0 0.7 0 0.6 0 0.7 0 0.7 0 0.6 0 0.7 0 0.6 0 0.7 0 0.7 0 0.6 0 0.7 0.1 0.7 0 0.6 0 0.7 0 0.7 0 0.6 0 0.7 0 0.7 0 0.6 0 0.7 0" stroke="#33f" stroke-width="1.1" fill="none" stroke-dasharray="1.1 2"/></g><g clip-path="url(#c6)"><path d="M101.1 340.8h5M101.1 342.1h5M101.1 343.4h5M101.1 344.6h5M101.1 345.9h5M101.1 347.2h5M101.1 348.6h5M101.1 349.9h5M101.1 351.1h5M101.1 352.4h5M101.1 353.8h5M101.1 355.1h5M101.1 356.4h5M101.1 357.6h5M101.1 358.9h5M101.1 360.2h5M101.1 361.6h5M101.1 362.9h5M101.1 364.1h5M101.1 365.4h5M101.1 430.4h5M101.1 431.8h5M101.1 433.1h5M101.1 434.4h5M101.1 435.6h5M101.1 436.9h5M101.1 438.2h5M106 340.8h5M106 342.1h5M106 343.4h5M106 344.6h5M106 345.9h5M106 347.2h5M106 348.6h5M106 349.9h5M106 351.1h5M106 352.4h5M106 353.8h5M106 355.1h5M106 356.4h5M106 357.6h5M106 358.9h5M106 360.2h5M106 361.6h5M106 362.9h5M106 364.1h5M106 365.4h5M106 433.1h5M106 434.4h5M106 435.6h5M106 436.9h5M106 438.2h5M111 356.4h5" stroke="#000000" stroke-width="1.3" fill="none" shape-rendering="crispEdges"/><path d="M111 353.8h5M111 358.9h5M111 362.9h5" stroke="#101010" stroke-width="1.3" fill="none" shape-rendering="crispEdges"/><path d="M96.1 349.9h5M96.1 353.8h5M96.1 362.9h5M106 366.8h5M106 368.1h5" stroke="#282828" stroke-width="1.3" fill="none" shape-rendering="crispEdges"/><path d="M111 355.1h5" stroke="#404040" stroke-width="1.3" fill="none" shape-rendering="crispEdges"/><path d="M96.1 340.8h5M96.1 347.2h5M96.1 357.6h5M96.1 358.9h5M96.1 360.2h5M101.1 427.9h5M101.1 429.1h5M111 357.6h5M111 360.2h5M111 361.6h5M111 364.1h5M111 365.4h5M111 373.2h5M111 377.1h5M111 379.8h5" stroke="#505050" stroke-width="1.3" fill="none" shape-rendering="crispEdges"/><path d="M101.1 366.8h5M101.1 368.1h5" stroke="#606060" stroke-width="1.3" fill="none" shape-rendering="crispEdges"/><path d="M111 369.4h5M111 375.9h5" stroke="#707070" stroke-width="1.3" fill="none" shape-rendering="crispEdges"/><path d="M96.1 348.6h5M96.1 351.1h5M96.1 355.1h5M96.1 365.4h5M111 342.1h5M111 343.4h5" stroke="#787878" stroke-width="1.3" fill="none" shape-rendering="crispEdges"/><path d="M111 348.6h5M111 351.1h5M111 352.4h5M111 366.8h5M111 370.6h5M111 371.9h5M111 374.6h5M111 378.4h5" stroke="#909090" stroke-width="1.3" fill="none" shape-rendering="crispEdges"/><path d="M96.1 344.6h5M96.1 352.4h5M106 378.4h5M106 379.8h5M106 427.9h5M106 431.8h5" stroke="#989898" stroke-width="1.3" fill="none" shape-rendering="crispEdges"/><path d="M101.1 379.8h5M111 340.8h5M111 344.6h5M111 345.9h5M111 347.2h5" stroke="#a0a0a0" stroke-width="1.3" fill="none" shape-rendering="crispEdges"/><path d="M96.1 369.4h5M106 430.4h5M111 368.1h5" stroke="#a8a8a8" stroke-width="1.3" fill="none" shape-rendering="crispEdges"/><path d="M96.1 343.4h5M96.1 361.6h5M96.1 364.1h5M96.1 368.1h5M101.1 378.4h5M106 373.2h5M106 429.1h5M111 349.9h5M111 390.1h5M111 391.4h5M111 394.1h5" stroke="#b0b0b0" stroke-width="1.3" fill="none" shape-rendering="crispEdges"/><path d="M101.1 369.4h5M101.1 374.6h5M111 381.1h5M111 383.6h5M115.9 347.2h5M115.9 355.1h5" stroke="#b8b8b8" stroke-width="1.3" fill="none" shape-rendering="crispEdges"/><path d="M96.1 374.6h5M106 377.1h5M115.9 344.6h5M115.9 357.6h5M115.9 369.4h5M115.9 370.6h5M115.9 375.9h5" stroke="#c0c0c0" stroke-width="1.3" fill="none" shape-rendering="crispEdges"/><path d="M96.1 342.1h5M96.1 345.9h5M96.1 356.4h5M96.1 373.2h5M96.1 375.9h5M96.1 431.8h5M96.1 434.4h5M96.1 435.6h5M101.1 370.6h5M101.1 371.9h5M101.1 373.2h5M101.1 375.9h5M101.1 426.6h5M106 369.4h5M106 370.6h5M106 371.9h5M106 374.6h5M106 392.8h5M115.9 353.8h5M115.9 366.8h5M115.9 371.9h5" stroke="#c8c8c8" stroke-width="1.3" fill="none" shape-rendering="crispEdges"/><path d="M96.1 370.6h5M96.1 371.9h5M96.1 436.9h5M101.1 377.1h5M101.1 387.6h5M101.1 392.8h5M106 388.9h5M111 382.4h5M111 387.6h5M111 388.9h5M111 392.8h5M115.9 342.1h5M115.9 362.9h5M115.9 365.4h5M115.9 373.2h5M115.9 377.1h5M115.9 379.8h5M120.9 357.6h5" stroke="#d0d0d0" stroke-width="1.3" fill="none" shape-rendering="crispEdges"/><path d="M91.1 374.6h5M96.1 366.8h5M96.1 430.4h5M96.1 438.2h5M101.1 384.9h5M106 375.9h5M106 390.1h5M106 391.4h5M106 418.8h5M111 384.9h5M111 386.2h5M115.9 374.6h5M120.9 348.6h5M120.9 358.9h5M120.9 371.9h5" stroke="#d8d8d8" stroke-width="1.3" fill="none" shape-rendering="crispEdges"/><path d="M91.1 340.8h5M96.1 433.1h5M106 381.1h5M106 423.9h5M115.9 343.4h5M115.9 358.9h5M115.9 360.2h5M115.9 364.1h5M120.9 343.4h5M120.9 352.4h5M120.9 365.4h5M120.9 370.6h5" stroke="#e0e0e0" stroke-width="1.3" fill="none" shape-rendering="crispEdges"/><path d="M16.7 395.4h5M16.7 396.6h5M16.7 409.6h5M21.7 360.2h5M21.7 426.6h5M26.7 365.4h5M26.7 390.1h5M26.7 401.9h5M26.7 426.6h5M36.6 347.2h5M36.6 348.6h5M36.6 378.4h5M36.6 408.4h5M41.5 347.2h5M41.5 358.9h5M41.5 374.6h5M41.5 395.4h5M41.5 435.6h5M46.5 361.6h5M46.5 391.4h5M46.5 414.9h5M51.5 351.1h5M51.5 355.1h5M51.5 382.4h5M51.5 400.6h5M51.5 429.1h5M56.4 368.1h5M56.4 401.9h5M56.4 425.2h5M61.4 343.4h5M61.4 373.2h5M61.4 413.6h5M61.4 417.4h5M61.4 423.9h5M66.3 360.2h5M66.3 371.9h5M66.3 377.1h5M66.3 404.4h5M66.3 412.2h5M71.3 342.1h5M76.3 375.9h5M76.3 382.4h5M76.3 399.2h5M81.2 405.8h5M81.2 412.2h5M81.2 436.9h5M86.2 370.6h5M86.2 373.2h5M86.2 377.1h5M86.2 382.4h5M91.1 343.4h5M91.1 345.9h5M91.1 365.4h5M91.1 399.2h5M91.1 425.2h5M91.1 438.2h5M96.1 421.4h5M101.1 382.4h5M101.1 423.9h5M106 425.2h5M111 416.1h5M115.9 340.8h5M115.9 345.9h5M115.9 348.6h5M115.9 349.9h5M115.9 351.1h5M115.9 356.4h5M115.9 361.6h5M115.9 368.1h5M115.9 394.1h5M120.9 349.9h5M120.9 360.2h5M120.9 375.9h5M120.9 377.1h5M120.9 379.8h5M125.9 349.9h5M125.9 384.9h5M125.9 427.9h5M130.8 351.1h5M130.8 361.6h5M130.8 384.9h5M130.8 388.9h5M130.8 397.9h5M130.8 405.8h5M130.8 427.9h5M130.8 438.2h5M135.8 355.1h5M135.8 373.2h5M135.8 388.9h5M135.8 397.9h5M140.7 340.8h5M140.7 364.1h5M140.7 381.1h5M140.7 417.4h5M140.7 418.8h5M140.7 433.1h5M145.7 356.4h5M145.7 400.6h5M145.7 405.8h5M145.7 420.1h5M145.7 425.2h5M150.7 351.1h5M150.7 360.2h5M150.7 379.8h5M150.7 392.8h5M150.7 404.4h5M150.7 413.6h5M155.6 340.8h5M155.6 348.6h5M155.6 357.6h5M160.6 405.8h5M160.6 434.4h5M165.5 374.6h5M165.5 403.1h5M165.5 412.2h5M165.5 427.9h5M165.5 430.4h5M170.5 399.2h5M170.5 414.9h5M175.5 377.1h5M175.5 410.9h5M175.5 422.6h5M180.4 342.1h5M180.4 416.1h5M185.4 344.6h5M185.4 348.6h5M185.4 352.4h5M185.4 410.9h5M190.3 348.6h5M190.3 364.1h5M190.3 390.1h5M190.3 397.9h5M190.3 412.2h5M190.3 417.4h5M190.3 423.9h5M190.3 438.2h5M195.3 351.1h5M195.3 352.4h5M195.3 360.2h5M195.3 366.8h5M195.3 368.1h5M195.3 416.1h5M195.3 420.1h5M195.3 427.9h5M195.3 438.2h5M200.3 352.4h5M200.3 365.4h5M205.2 396.6h5M205.2 418.8h5M205.2 426.6h5M210.2 420.1h5M210.2 430.4h5M215.1 344.6h5M215.1 390.1h5M215.1 408.4h5M215.1 418.8h5M215.1 427.9h5M215.1 433.1h5M215.1 434.4h5" stroke="#e8e8e8" stroke-width="1.3" fill="none" shape-rendering="crispEdges"/><path d="M16.7 347.2h5M16.7 365.4h5M16.7 374.6h5M16.7 397.9h5M21.7 409.6h5M26.7 357.6h5M26.7 368.1h5M26.7 382.4h5M26.7 386.2h5M26.7 395.4h5M26.7 412.2h5M31.6 355.1h5M31.6 382.4h5M31.6 386.2h5M31.6 392.8h5M36.6 342.1h5M36.6 345.9h5M36.6 375.9h5M36.6 420.1h5M41.5 345.9h5M41.5 349.9h5M41.5 352.4h5M41.5 375.9h5M41.5 407.1h5M46.5 345.9h5M51.5 349.9h5M51.5 401.9h5M56.4 349.9h5M56.4 369.4h5M56.4 433.1h5M61.4 368.1h5M61.4 404.4h5M66.3 352.4h5M66.3 381.1h5M66.3 388.9h5M66.3 399.2h5M71.3 353.8h5M71.3 360.2h5M71.3 364.1h5M76.3 384.9h5M76.3 386.2h5M76.3 394.1h5M76.3 430.4h5M81.2 348.6h5M81.2 371.9h5M86.2 351.1h5M86.2 366.8h5M86.2 375.9h5M86.2 391.4h5M86.2 421.4h5M91.1 349.9h5M91.1 357.6h5M91.1 358.9h5M91.1 368.1h5M91.1 373.2h5M91.1 394.1h5M91.1 403.1h5M91.1 414.9h5M96.1 407.1h5M101.1 412.2h5M101.1 425.2h5M106 404.4h5M106 421.4h5M115.9 352.4h5M115.9 378.4h5M115.9 387.6h5M115.9 391.4h5M115.9 412.2h5M115.9 422.6h5M120.9 340.8h5M120.9 368.1h5M120.9 399.2h5M120.9 422.6h5M125.9 343.4h5M125.9 361.6h5M125.9 364.1h5M125.9 365.4h5M125.9 381.1h5M125.9 387.6h5M125.9 412.2h5M130.8 344.6h5M130.8 379.8h5M130.8 418.8h5M135.8 365.4h5M135.8 378.4h5M135.8 381.1h5M135.8 400.6h5M135.8 401.9h5M140.7 349.9h5M140.7 374.6h5M140.7 390.1h5M145.7 390.1h5M145.7 426.6h5M150.7 342.1h5M150.7 347.2h5M150.7 358.9h5M150.7 384.9h5M150.7 386.2h5M150.7 396.6h5M155.6 391.4h5M155.6 400.6h5M155.6 410.9h5M155.6 420.1h5M160.6 351.1h5M160.6 366.8h5M160.6 382.4h5M160.6 386.2h5M160.6 390.1h5M160.6 408.4h5M160.6 427.9h5M165.5 344.6h5M165.5 347.2h5M165.5 348.6h5M165.5 375.9h5M165.5 388.9h5M165.5 391.4h5M165.5 397.9h5M165.5 405.8h5M165.5 407.1h5M165.5 409.6h5M170.5 357.6h5M170.5 366.8h5M170.5 374.6h5M170.5 403.1h5M170.5 430.4h5M175.5 357.6h5M175.5 384.9h5M175.5 397.9h5M175.5 427.9h5M180.4 343.4h5M180.4 388.9h5M180.4 397.9h5M180.4 423.9h5M185.4 342.1h5M185.4 383.6h5M185.4 401.9h5M185.4 409.6h5M190.3 345.9h5M190.3 375.9h5M190.3 384.9h5M190.3 407.1h5M190.3 414.9h5M195.3 345.9h5M195.3 369.4h5M195.3 408.4h5M195.3 422.6h5M195.3 430.4h5M195.3 434.4h5M200.3 377.1h5M200.3 388.9h5M200.3 425.2h5M205.2 364.1h5M210.2 352.4h5M210.2 353.8h5M210.2 401.9h5M210.2 425.2h5M215.1 370.6h5M215.1 425.2h5" stroke="#f0f0f0" stroke-width="1.3" fill="none" shape-rendering="crispEdges"/><path d="M16.7 390.1h5M16.7 403.1h5M16.7 426.6h5M21.7 348.6h5M21.7 392.8h5M26.7 342.1h5M26.7 391.4h5M26.7 421.4h5M36.6 349.9h5M36.6 391.4h5M36.6 396.6h5M36.6 413.6h5M36.6 436.9h5M41.5 369.4h5M41.5 418.8h5M41.5 438.2h5M51.5 348.6h5M56.4 391.4h5M61.4 349.9h5M61.4 438.2h5M66.3 403.1h5M71.3 394.1h5M76.3 347.2h5M76.3 349.9h5M76.3 413.6h5M81.2 388.9h5M81.2 417.4h5M81.2 418.8h5M86.2 409.6h5M86.2 434.4h5M91.1 351.1h5M91.1 355.1h5M91.1 360.2h5M91.1 366.8h5M96.1 395.4h5M96.1 403.1h5M101.1 417.4h5M111 404.4h5M120.9 362.9h5M120.9 369.4h5M120.9 407.1h5M120.9 433.1h5M125.9 347.2h5M130.8 360.2h5M130.8 390.1h5M130.8 429.1h5M135.8 384.9h5M140.7 362.9h5M145.7 343.4h5M145.7 362.9h5M145.7 371.9h5M145.7 379.8h5M145.7 381.1h5M145.7 388.9h5M145.7 395.4h5M145.7 401.9h5M145.7 434.4h5M155.6 352.4h5M155.6 401.9h5M155.6 412.2h5M155.6 413.6h5M155.6 431.8h5M160.6 349.9h5M160.6 361.6h5M160.6 392.8h5M160.6 426.6h5M170.5 382.4h5M170.5 405.8h5M170.5 429.1h5M175.5 412.2h5M180.4 366.8h5M180.4 404.4h5M185.4 370.6h5M185.4 374.6h5M185.4 423.9h5M190.3 387.6h5M190.3 422.6h5M195.3 340.8h5M195.3 362.9h5M195.3 379.8h5M200.3 340.8h5M200.3 345.9h5M200.3 391.4h5M215.1 353.8h5M215.1 374.6h5M215.1 378.4h5M215.1 407.1h5" stroke="#f8f8f8" stroke-width="1.3" fill="none" shape-rendering="crispEdges"/><path d="M23.4 409.2v6.8M22.6 409.2h1.6M22.6 416h1.6M43.5 415.7v9M42.7 415.7h1.6M42.7 424.7h1.6M63.4 379.8v8.6M62.6 379.8h1.6M62.6 388.4h1.6M68.2 378.5v2M67.4 378.5h1.6M67.4 380.5h1.6M73.2 378.9v1.2M72.4 378.9h1.6M72.4 380.1h1.6M78.2 379.4v1.2M77.4 379.4h1.6M77.4 380.6h1.6M83 380.1v1.2M82.2 380.1h1.6M82.2 381.3h1.6M88 381.2v1.2M87.2 381.2h1.6M87.2 382.4h1.6M93.3 381.9v1.2M92.5 381.9h1.6M92.5 383.1h1.6M98.3 373.9v1.2M97.5 373.9h1.6M97.5 375.1h1.6M103.1 350.3v1.2M102.3 350.3h1.6M102.3 351.5h1.6M108 350.9v1.2M107.2 350.9h1.6M107.2 352.1h1.6M113.1 359.6v1.2M112.3 359.6h1.6M112.3 360.8h1.6M117.9 372.2v1.2M117.1 372.2h1.6M117.1 373.4h1.6M123 384.8v1.8M122.2 384.8h1.6M122.2 386.6h1.6M128 395.9v2.4M127.2 395.9h1.6M127.2 398.3h1.6M132.8 396.4v3.6M132 396.4h1.6M132 400h1.6M148.1 433.5v4M147.3 433.5h1.6M147.3 437.5h1.6M152.7 430.2v3.6M151.9 430.2h1.6M151.9 433.8h1.6M158 428.9v4M157.2 428.9h1.6M157.2 432.9h1.6M163 424v4.6M162.2 424h1.6M162.2 428.6h1.6" stroke="#f00" stroke-width="0.8" fill="none"/><path d="M22.6 412.6h1.6M42.7 420.2h1.6M62.6 384.1h1.6M67.4 379.5h1.6M72.4 379.5h1.6M77.4 380h1.6M82.2 380.7h1.6M87.2 381.8h1.6M92.5 382.5h1.6M97.5 374.5h1.6M102.3 350.9h1.6M107.2 351.5h1.6M112.3 360.2h1.6M117.1 372.8h1.6M122.2 385.7h1.6M127.2 397.1h1.6M132 398.2h1.6M147.3 435.5h1.6M151.9 432h1.6M157.2 430.9h1.6M162.2 426.3h1.6" stroke="#f00" stroke-width="1.5" fill="none"/></g><defs><clipPath id="c7"><rect x="282.5" y="254.5" width="199" height="85.6"/></clipPath><clipPath id="c8"><rect x="282.5" y="340.1" width="199" height="98.5"/></clipPath></defs><g clip-path="url(#c7)"><path d="M282.8 317.8l0.2-3.4 0.2 3.6 0.1 1.5 0.2-2 0.2-1.1 0.2 1.1 0.2 3.6 0.1-9.6 0.2 10.6 0.2-7.3 0.2 0.8 0.2-0.8 0.1-0.8 0.2 1.6 0.2 2.4 0.2-0.3 0.2 0 0.1-1.8 0.2 3.3 0.2-6.4 0.2 5.1 0.2-0.6 0.2 1.7 0.1 1.3 0.2-11.3 0.2 6.9 0.2-0.3 0.2-2.2 0.1-3.6 0.2 9.6 0.2 0.5 0.2-1.5 0.2-1.5 0.1-1.9 0.2 1.7 0.2-0.2 0.2-10.6 0.2 13 0.1 1.2 0.2-4.6 0.2 0.7 0.2 8.3 0.2-15.5 0.1 4.7 0.2 2.4 0.2 0.2 0.2 1.3 0.2-0.6 0.1 3.1 0.2-4.2 0.2-1.7 0.2 6.5 0.2-2.9 0.1-4.1 0.2 5.5 0.2-1.1 0.2-0.5 0.2-4.2 0.2 0.9 0.1 1 0.2 5.5 0.2-11.7 0.2 5.5 0.2 4.1 0.1 3.3 0.2-6.7 0.2-1.6 0.2-6.5 0.2 7.9 0.1 4.1 0.2-7.1 0.2 6.5 0.2-1.9 0.2 3.4 0.1-2.9 0.2-0.1 0.2-2.6 0.2-0.1 0.2 1.7 0.1-2.6 0.2 6.5 0.2-4.9 0.2 0.5 0.2 0.4 0.1 5.8 0.2-1.9 0.2 2.7 0.2-6.3 0.2 0.1 0.1 2.7 0.2-2.8 0.2 4.9 0.2-3.9 0.2-3.6 0.2 0.2 0.1-3.3 0.2 2.5 0.2 3.6 0.2-5.3 0.2 1.3 0.1 1.3 0.2 2.6 0.2-2 0.2 1 0.2 3.2 0.1-3.8 0.2-2.2 0.2 7.2 0.2-1.4 0.2 3.1 0.1-6.2 0.2 1.1 0.2 0.3 0.2 0.7 0.2 0.2 0.1-7.4 0.2 13.7 0.2-4.7 0.2-4.3 0.2-2.8 0.1 4.3 0.2-0.5 0.2-4.1 0.2 9.5 0.2-0.6 0.1-3.1 0.2-1.6 0.2 6.5 0.2-11.6 0.2-0.1 0.1 1.3 0.2-0.2 0.2 0.8 0.2-0.7 0.2 1.5 0.2 0.1 0.1-3.4 0.2 1.4 0.2 6.2 0.2-2.2 0.2 1.2 0.1 0.6 0.2-2.1 0.2-0.5 0.2-0.1 0.2-3.4 0.1 1.3 0.2 9.6 0.2-5.7 0.2-3.4 0.2 3.8 0.1-6.1 0.2 1.2 0.2 8.8 0.2-11.4 0.2 2.3 0.1-0.3 0.2-0.6 0.2-3.2 0.2 6.8 0.2-7.2 0.1 3.3 0.2-0.1 0.2-3.9 0.2 2 0.2-7.4 0.1 6.6 0.2-11.7 0.2 9.7 0.2-0.9 0.2 6.2 0.2-5.5 0.1 2.4 0.2 0.2 0.2-2.9 0.2-1.9 0.2 0.9 0.1-6.3 0.2 10 0.2-8.3 0.2 6.7 0.2-8.2 0.1 4 0.2-1.3 0.2 0.7 0.2 0 0.2-6.2 0.1 9.8 0.2-0.9 0.2-8.8 0.2 4.4 0.2 0.5 0.1 1.7 0.2-4.4 0.2-2.7 0.2 6 0.2-1.8 0.1-0.3 0.2-0.1 0.2-0.7 0.2 0.2 0.2-5.1 0.1 6.8 0.2-2.5 0.2-0.4 0.2 0.4 0.2-4.8 0.1 0.4 0.2 4.6 0.2-2.3 0.2-4.1 0.2 3 0.2-6.1 0.1 0.2 0.2 10.5 0.2-9.4 0.2 1.2 0.2-3.5 0.1-2 0.2 3.3 0.2-1.5 0.2 5.3 0.2-6.2 0.1 5 0.2-8.9 0.2 1.7 0.2-2 0.2-1.5 0.1 5.8 0.2-6.4 0.2 6.3 0.2-2.3 0.2-1.9 0.1 8.3 0.2-5.5 0.2-1.2 0.2-1.8 0.2-5 0.1-0.5 0.2 4.5 0.2-0.4 0.2 4.5 0.2-10.9 0.1 3.8 0.2-4.7 0.2-1.4 0.2 4.6 0.2-3.3 0.2-0.2 0.1-3.3 0.2 0.7 0.2 7.6 0.2 0.7 0.2-5.4 0.1-6.4 0.2-2 0.2-0.9 0.2 5.3 0.2-2.9 0.1-1.1 0.2 2.9 0.2-4.4 0.2 0.6 0.2-1.8 0.1-0.4 0.2 1.7 0.2 3.1 0.2-0.2 0.2 3 0.1-1.4 0.2 1.1 0.2 5.9 0.2-3.4 0.2 1.9 0.1-3.5 0.2 8.6 0.2-6.4 0.2 4 0.2 0.1 0.1-1.9 0.2 5.4 0.2-0.3 0.2 0.2 0.2-0.2 0.2-2 0.1 5.1 0.2 0.5 0.2-7 0.2 7.1 0.2 5.8 0.1-2.2 0.2 0.2 0.2-4.5 0.2 5.8 0.2 0.8 0.1 1 0.2-2.1 0.2 2.6 0.2-0.2 0.2-2.8 0.1 3 0.2 4.6 0.2-2.2 0.2-1 0.2 4.6 0.1-0.4 0.2-0.5 0.2 2.3 0.2-0.2 0.2 0.6 0.1-0.8 0.2-2.8 0.2-3.9 0.2 2.1 0.2 3.9 0.1-3.2 0.2 1 0.2 2 0.2 4.5 0.2-1.7 0.1 0.7 0.2-0.3 0.2-3.6 0.2 4.3 0.2-5.4 0.2 4.6 0.1-1.4 0.2-1.5 0.2 1.7 0.2 5.1 0.2-3.4 0.1-9.7 0.2 7.7 0.2 2.9 0.2 0.7 0.2-2 0.1 0.8 0.2-3.6 0.2 3.3 0.2 3.7 0.2-8.6 0.1 5 0.2 3.4 0.2-8.4 0.2 8.7 0.2-5 0.1-4.6 0.2 1.3 0.2 2.4 0.2 1.8 0.2-2.4 0.1 0.8 0.2 2.2 0.2-6.3 0.2 7.8 0.2-0.2 0.1-0.5 0.2 4.5 0.2-4.7 0.2-2 0.2-0.8 0.2 1.2 0.1 4.6 0.2-4.9 0.2 2.9 0.2-2.9 0.2 3.4 0.1-1 0.2-3 0.2 10.7 0.2-10.7 0.2 1.9 0.1 1.6 0.2 1.4 0.2-8.2 0.2 4.2 0.2 4.9 0.1-2.2 0.2-14.5 0.2 14.2 0.2 3 0.2-1 0.1 3.8 0.2-4.2 0.2 2.4 0.2-3.9 0.2 5.2 0.1 0.3 0.2-5.6 0.2 4.3 0.2-2.8 0.2 0.3 0.1 0.8 0.2-0.5 0.2 0.6 0.2-0.3 0.2-3.4 0.2 3.6 0.1-3.7 0.2-1.4 0.2 11.4 0.2-5.3 0.2 2.8 0.1-0.9 0.2-3 0.2-3.9 0.2 2.5 0.2-3.8 0.1 3.1 0.2 3.2 0.2-1.8 0.2 0.6 0.2-2.6 0.1 3.8 0.2-6.2 0.2 6.6 0.2-2.4 0.2 2.5 0.1 0.6 0.2-3.9 0.2 0.5 0.2 3.2 0.2-0.6 0.1-2 0.2 3.9 0.2-5.6 0.2 1.6 0.2 3.7 0.1-1.6 0.2-3.1 0.2 2.9 0.2-0.7 0.2-1.7 0.1 0.7 0.2 0.8 0.2-2.5 0.2 2.4 0.2-2.1 0.2 0.5 0.1 2.1 0.2-1.6 0.2 1.6 0.2-1.4 0.2 3.2 0.1-2.1 0.2 0.1 0.2 2.2 0.2-4.1 0.2-2.1 0.1 5.4 0.2 2.9 0.2-0.6 0.2-8.1 0.2 6.4 0.1-10.4 0.2 6.2 0.2 7.2 0.2-10.4 0.2 8 0.1-2.2 0.2 2.9 0.2-5.3 0.2 7.6 0.2-1.8 0.1-5.5 0.2-0.7 0.2 1.5 0.2-1.2 0.2-2.9 0.1 8.8 0.2-1.5 0.2-5.9 0.2 14.6 0.2-10.8 0.2-3.7 0.1 10.3 0.2-2.6 0.2-3.5 0.2 2.5 0.2-0.1 0.1-3.8 0.2 4.4 0.2 0.2 0.2-3.7 0.2 5 0.1-9.3 0.2-2.1 0.2 6.7 0.2 0.2 0.2-0.2 0.1-5 0.2 4.4 0.2 0 0.2 1.5 0.2 0.3 0.1-9.5 0.2 9.8 0.2-5.6 0.2 9.2 0.2-6.5 0.1 6.2 0.2-4.1 0.2-2.6 0.2-3.8 0.2 7.3 0.1 5.4 0.2-1.2 0.2-6.2 0.2 4 0.2-11.6 0.1 6 0.2-2.2 0.2 5.8 0.2-2.1 0.2-4.8 0.2 4.3 0.1 6.1 0.2 1.5 0.2-3.4 0.2-5.4 0.2-0.3 0.1 1.2 0.2 9.4 0.2-2 0.2-4.4 0.2-0.1 0.1-4.6 0.2 2.4 0.2 1.3 0.2-2.5 0.2 0 0.1 6.1 0.2-7.5 0.2 7.5 0.2 0.6 0.2-0.4 0.1-3.7 0.2-1.9 0.2 4.7 0.2 2.7 0.2-4.7 0.1 7.4 0.2-4.4 0.2-3.9 0.2-2.1 0.2-6.2 0.1 7.9 0.2 2.6 0.2-3.9 0.2 5.4 0.2-1.8 0.2-2.6 0.1 0 0.2 0 0.2-0.6 0.2 5.6 0.2-4 0.1-0.1 0.2 3.3 0.2-8.3 0.2 1.2 0.2 6.5 0.1-9.4 0.2 5.8 0.2 0 0.2-7 0.2 7.2 0.1-1.4 0.2 1.8 0.2 2.5 0.2 2.4 0.2 0.5 0.1-9.6 0.2 7.2 0.2-3.6 0.2 3.8 0.2 1.8 0.1-2.2 0.2 3.9 0.2-0.1 0.2-3.2 0.2-10.3 0.1 9.4 0.2 0.3 0.2-6.2 0.2 12.5 0.2-12.9 0.2 6.4 0.1 3.7 0.2-10.4 0.2 2.5 0.2-1.8 0.2-0.2 0.1 3.5 0.2 4.5 0.2 1.1 0.2-5 0.2 1.9 0.1-0.3 0.2-4.7 0.2 0.7 0.2 1.2 0.2-0.2 0.1-0.2 0.2 4.5 0.2-2.9 0.2-1.8 0.2 5.4 0.1 0.9 0.2-2.2 0.2-0.8 0.2-11.9 0.2 7.7 0.1 0.6 0.2-4.3 0.2 7.2 0.2 0.8 0.2-1.1 0.1-8.3 0.2 8.6 0.2-2.3 0.2 5.8 0.2-8.7 0.1-2.3 0.2 6.8 0.2-3.4 0.2 4.8 0.2-5.5 0.2-0.5 0.1-2.7 0.2 2.7 0.2-0.5 0.2 3.1 0.2-6.6 0.1 1.1 0.2-1.3 0.2-0.6 0.2 5.1 0.2-0.2 0.1 1.9 0.2-5.9 0.2 2.8 0.2 5.3 0.2-3.4 0.1-5 0.2 0.7 0.2 5.2 0.2-4.1 0.2 2.3 0.1 1.2 0.2 3.1 0.2-4.5 0.2-4.1 0.2 4.4 0.1-2.5 0.2-3.9 0.2 2.6 0.2-4.2 0.2 10 0.1-0.3 0.2-0.7 0.2 2.5 0.2-7.2 0.2-3.3 0.2 7.2 0.1-8.3 0.2 4.8 0.2-2.7 0.2 7.4 0.2-6 0.1 1.4 0.2-0.2 0.2 2.5 0.2-9.1 0.2 2.2 0.1 5 0.2-4.3 0.2-5.3 0.2 14.5 0.2-16.2 0.1 7 0.2 5.1 0.2-3.6 0.2-6.3 0.2 5.6 0.1-2.8 0.2-1.8 0.2 3.8 0.2 3 0.2-5.1 0.1-2.9 0.2 3.4 0.2 5 0.2-4.6 0.2-0.7 0.1 3.9 0.2 0.2 0.2-0.3 0.2-4.7 0.2 4.4 0.1-2.2 0.2-0.2 0.2 2.4 0.2-2.2 0.2 1.6 0.2 0 0.1-3 0.2-0.7 0.2 2 0.2 6.9 0.2-3 0.1-1.8 0.2-1.9 0.2 2 0.2-3.7 0.2 3.5 0.1-3 0.2 1.7 0.2-8.8 0.2 8.8 0.2 0.4 0.1 0.4 0.2-7 0.2 0.3 0.2 10.6 0.2-2.2 0.1-4.2 0.2-2.9 0.2-0.8 0.2-1.5 0.2 4 0.1 1 0.2-11.2 0.2 12.2 0.2-8.4 0.2 6.6 0.1-1.3 0.2 5.2 0.2-1.7 0.2-4 0.2 0.7 0.2 4 0.1 1.3 0.2-7.1 0.2 6.2 0.2-0.4 0.2-1.3 0.1-6.1 0.2 0.2 0.2 4.8 0.2 2.1 0.2-7.1 0.1 5.1 0.2-7.8 0.2 6.8 0.2-6 0.2 6.2 0.1 0.9 0.2 0.3 0.2 2.1 0.2-2.2 0.2 1.8 0.1-9.2 0.2 2.8 0.2 2.1 0.2-1.7 0.2-7.8 0.1 5.6 0.2-7.8 0.2 17.9 0.2-7.2 0.2-6 0.1 2.9 0.2-0.6 0.2-1.6 0.2 8.6 0.2-7 0.2 1.2 0.1 3.8 0.2-1.2 0.2 7.8 0.2-10.9 0.2 3.9 0.1-1.1 0.2 0.9 0.2-1.5 0.2 0.5 0.2-1.8 0.1-3.6 0.2 9.1 0.2-2.5 0.2-11.1 0.2 9.4 0.1-2.7 0.2 2 0.2 0 0.2-1.7 0.2 1.7 0.1-0.7 0.2 0 0.2 4.3 0.2-14.9 0.2 9.2 0.1 5.3 0.2-7.1 0.2 4 0.2-5.3 0.2 7.1 0.1-9.3 0.2 5.3 0.2-2 0.2 3 0.2-6.1 0.1 4.8 0.2 1.9 0.2-1.3 0.2 4.2 0.2-2.1 0.2 2 0.1-1.3 0.2-4.9 0.2 3.8 0.2 4.8 0.2-7.5 0.1 8.9 0.2-18.9 0.2 16.6 0.2-2.3 0.2-3 0.1 3.5 0.2-0.3 0.2 0.7 0.2-1.3 0.2 4.6 0.1-3.2 0.2 2.3 0.2-2.9 0.2-3.2 0.2 8.2 0.1-3.5 0.2-1.2 0.2 4.2 0.2 2.6 0.2-4.1 0.1-2.4 0.2 8.6 0.2-4.9 0.2-0.4 0.2 0 0.1-2.7 0.2 4.8 0.2-3.8 0.2 3.7 0.2-3 0.2 5.8 0.1-2.6 0.2-3.9 0.2 0.6 0.2-1 0.2-4.5 0.1 11.3 0.2 1.6 0.2-1 0.2-1.3 0.2 5.8 0.1-4.9 0.2-2.4 0.2-2.3 0.2 10.5 0.2-5.2 0.1 1.6 0.2 2.4 0.2-3.1 0.2 2.6 0.2-3.2 0.1 2.4 0.2-1.2 0.2 4.7 0.2-2.3 0.2 1.5 0.1 4.5 0.2 0 0.2-5.3 0.2-2.2 0.2 1.9 0.1-1.5 0.2-4.9 0.2 9.3 0.2-0.1 0.2 2.7 0.2-9.7 0.1 8.2 0.2-3.9 0.2-5.1 0.2 3.9 0.2 4.9 0.1 1 0.2-0.7 0.2-4.3 0.2 6.1 0.2-1.1 0.1 5.8 0.2-7.2 0.2 5.5 0.2-4.3 0.2-0.7 0.1 1.3 0.2-1.3 0.2 6.7 0.2-0.5 0.2-3.1 0.1-5.8 0.2 3.6 0.2 0.5 0.2-4.3 0.2 10.7 0.1-4.9 0.2-6.1 0.2 11.6 0.2 3.7 0.2-5.2 0.1-4.9 0.2 2.6 0.2 2.7 0.2-3.1 0.2-3.5 0.1 2.2 0.2-1.8 0.2-0.6 0.2 5.2 0.2 2 0.2-2.5 0.1-2 0.2 7.9 0.2-5.4 0.2-1.5 0.2 5.2 0.1-5.1 0.2-2 0.2 2.8 0.2-4.6 0.2 12 0.1-4.1 0.2 2.5 0.2-9.7 0.2 4.7 0.2 0.8 0.1-1.7 0.2 2.8 0.2-1.5 0.2 3.2 0.2-5.6 0.1 1.2 0.2 3.3 0.2-5.7 0.2 6.3 0.2-0.2 0.1-3.4 0.2 9 0.2-8.8 0.2-0.2 0.2 3.9 0.1-2.3 0.2 9.5 0.2-16.7 0.2 8.2 0.2-0.3 0.2-4.4 0.1 6.3 0.2 0.5 0.2-2.8 0.2-2.7 0.2 7.8 0.1 6.5 0.2-18.3 0.2 13.2 0.2-5.5 0.2-0.4 0.1-0.7 0.2 4.1 0.2-1 0.2-4.3 0.2 1 0.1 3.7 0.2 4.5 0.2 0 0.2-0.8 0.2-9.3 0.1-0.1 0.2 7.8 0.2-5.4 0.2 0.3 0.2 2.4 0.1-0.2 0.2-5 0.2-1 0.2 4.8 0.2 1.2 0.1-0.9 0.2-3.9 0.2 5 0.2-6.3 0.2-2.3 0.1 3.8 0.2 3.3 0.2 3.9 0.2-6.5 0.2 5.1 0.2-4.3 0.1 1.2 0.2 2.4 0.2-0.6 0.2-9.1 0.2 14.1 0.1 4.7 0.2-5.1 0.2-6.7 0.2-4.1 0.2 11.4 0.1-1.3 0.2 0.7 0.2-1.4 0.2-2.3 0.2 1 0.1-4.7 0.2 0.8 0.2-2.2 0.2 4.2 0.2-4.6 0.1 6.4 0.2-2.1 0.2 2.8 0.2-1.3 0.2-0.3 0.1-2.7 0.2 1.7 0.2-5.9 0.2 6.4 0.2 2.7 0.1 0.1 0.2-2.2 0.2-2.3 0.2 4.4 0.2-6.4 0.2 4.8 0.1-5.7 0.2 0.9 0.2 5.7 0.2-1.6 0.2-0.3 0.1-3.2 0.2 5.2 0.2 2.1 0.2-6.6 0.2 0.9 0.1 9.7 0.2-11.4 0.2 0.2 0.2 4.8 0.2-9.8 0.1 8.4 0.2-5.8 0.2 6.6 0.2-5.4 0.2-0.6 0.1 2.8 0.2 4.1 0.2-1.2 0.2-3.4 0.2-1.8 0.1-1.3 0.2 6.6 0.2-7.7 0.2 7.2 0.2-3.1 0.1-3.3 0.2 6.6 0.2 3.8 0.2-3.8 0.2-1.8 0.2-0.7 0.1 4.3 0.2-2.7 0.2 1.7 0.2-1.5 0.2 1.5 0.1-3.9 0.2 1.5 0.2-0.7 0.2-0.2 0.2 3.4 0.1 1.4 0.2 0.6 0.2-5.8 0.2-3.9 0.2 4.4 0.1 3.2 0.2-4.2 0.2 10.6" stroke="#000" stroke-width="0.75" fill="none"/><path d="M282.8 313l0.2 0.7 0.2 0.1 0.1-2.5 0.2 0.8 0.2-1 0.2 0.5 0.2 0.9 0.1 2.6 0.2 0.6 0.2-4.1 0.2 0.3 0.2-2 0.1 4.2 0.2-1.6 0.2 0.2 0.2 0.3 0.2-5.3 0.1 2.4 0.2 1.8 0.2 2.1 0.2-1.5 0.2 1.3 0.2 1.4 0.1-5.6 0.2 0.3 0.2 4.5 0.2-6.1 0.2 4.1 0.1-1.1 0.2-1.6 0.2 4.8 0.2-5.5 0.2 5.1 0.1-3.3 0.2 1.5 0.2-1.1 0.2 0.8 0.2 2.6 0.1-0.5 0.2-2.3 0.2-0.7 0.2 2.4 0.2-1.8 0.1 0 0.2 5.3 0.2 0.4 0.2-6.7 0.2-2 0.1 4.5 0.2 1.3 0.2-1.4 0.2 1.4 0.2-1.2 0.1-1.7 0.2 2 0.2-4.7 0.2 4.6 0.2-4 0.2 2.7 0.1-1.2 0.2-1.7 0.2 7.1 0.2-3 0.2-0.7 0.1-3.3 0.2 7.8 0.2-5.4 0.2-1.6 0.2 5.8 0.1 1.1 0.2-2.4 0.2-4.4 0.2 0.4 0.2 3.1 0.1 1.7 0.2-0.2 0.2-2.4 0.2-2.5 0.2 0.4 0.1 2.6 0.2 0.5 0.2 0.4 0.2-3.6 0.2 1.6 0.1 4.1 0.2-1.5 0.2-6.5 0.2 7.1 0.2-3.8 0.1-0.6 0.2 3.6 0.2-6.9 0.2 6.5 0.2-10.3 0.2 6.6 0.1-1.9 0.2 3.3 0.2 5 0.2-5.7 0.2 3.3 0.1-4.5 0.2-1.2 0.2 4.5 0.2 0.2 0.2 0.7 0.1-4.3 0.2 5.1 0.2-3.3 0.2-1.7 0.2 0.3 0.1-1.9 0.2 4 0.2 7 0.2-6.7 0.2-4.4 0.1-0.9 0.2 6.8 0.2-0.6 0.2-0.7 0.2-3.1 0.1-3.2 0.2 3.8 0.2-1.5 0.2 1.7 0.2 2.3 0.1-1 0.2 1.3 0.2 0.9 0.2 2.5 0.2-5.3 0.1 0.7 0.2 0.3 0.2 4.3 0.2-7.1 0.2 4.3 0.2 0.1 0.1-0.9 0.2 1.2 0.2-0.3 0.2 0.7 0.2-3.5 0.1 2.6 0.2-6.3 0.2 7 0.2-7.3 0.2 4.5 0.1-4.5 0.2-0.4 0.2 5.9 0.2-6.9 0.2 5.8 0.1-0.8 0.2 0.7 0.2 0.3 0.2-2.4 0.2 2.7 0.1-0.5 0.2-2.5 0.2 3.9 0.2-3.6 0.2 1.3 0.1 2.3 0.2 1.8 0.2-1.4 0.2-2 0.2 5.2 0.1-7.4 0.2-1.6 0.2 3.5 0.2 1.7 0.2-3.8 0.2-3.2 0.1 6.1 0.2 0.9 0.2-4.2 0.2 4.6 0.2-1.6 0.1 1.9 0.2-5.3 0.2 4.6 0.2-0.1 0.2-0.1 0.1-2.1 0.2 1 0.2 5.1 0.2-3.4 0.2-2.7 0.1 1.4 0.2-2.1 0.2 0.4 0.2-0.2 0.2 2.5 0.1-1.1 0.2 5 0.2-3.4 0.2-6.7 0.2 5.4 0.1 1.7 0.2 1.1 0.2-0.3 0.2 2.9 0.2-7.9 0.1 1.5 0.2 1.7 0.2-1 0.2-2.5 0.2 4.7 0.1-0.4 0.2-1.3 0.2 2.1 0.2-6 0.2 7.6 0.2-7.2 0.1 5.8 0.2-4.8 0.2 1.1 0.2 0.1 0.2-6.9 0.1 8.5 0.2-3.6 0.2-1.5 0.2-0.3 0.2 2.5 0.1-0.8 0.2-2.5 0.2-0.8 0.2 0 0.2 0.1 0.1 2.6 0.2-2 0.2-2.1 0.2 3.3 0.2-4.2 0.1 1.1 0.2 1 0.2 3.9 0.2-1.7 0.2-3.5 0.1 3 0.2-0.3 0.2-1.9 0.2-4 0.2-2 0.1 3.8 0.2 2.5 0.2-4 0.2 7.6 0.2-3.5 0.2-1.5 0.1-3.8 0.2 3.4 0.2-1.3 0.2 3.1 0.2-5.1 0.1-0.8 0.2 7 0.2-7 0.2 4 0.2-2.1 0.1 1.2 0.2-1.7 0.2 1.5 0.2-0.7 0.2-2.1 0.1 3.1 0.2-0.7 0.2 4.1 0.2-3.1 0.2-0.8 0.1-0.5 0.2 1.5 0.2-3.1 0.2 0.7 0.2-2.4 0.1 3.1 0.2-0.5 0.2 7.4 0.2-7.9 0.2 4.6 0.1-8.7 0.2 5.9 0.2 6.5 0.2-6.1 0.2-3.6 0.2 5 0.1 1.8 0.2-0.9 0.2-0.6 0.2-1.3 0.2 3.3 0.1-0.2 0.2-7.3 0.2 3.8 0.2-2.6 0.2 1.1 0.1-4.5 0.2 5.9 0.2 2.6 0.2 1 0.2-0.6 0.1-2 0.2 0.3 0.2 1.3 0.2-3.3 0.2 3.3 0.1 0.1 0.2-0.8 0.2 1.7 0.2 0.1 0.2-2.6 0.1 0.2 0.2 3.4 0.2 2.5 0.2-2 0.2 1.5 0.1-0.4 0.2 1.6 0.2-7 0.2 1.9 0.2 3.5 0.1-1.8 0.2 3.5 0.2 1.6 0.2-4.5 0.2 1.9 0.2-0.4 0.1-2.3 0.2 1.6 0.2-1.7 0.2 0.3 0.2 0.9 0.1-4.4 0.2 2.4 0.2 2.4 0.2 2.5 0.2-3.1 0.1 4.3 0.2-0.9 0.2-3 0.2-0.8 0.2-3 0.1 6.1 0.2 1.4 0.2-7.5 0.2 0.1 0.2-0.5 0.1 4.4 0.2 0.5 0.2-1.2 0.2-1.6 0.2 0.3 0.1 2.1 0.2-3.3 0.2 1.4 0.2 2 0.2 0.5 0.1 3.5 0.2-9.3 0.2 3.6 0.2-1.8 0.2 1.8 0.2 1.8 0.1-3.8 0.2 3.5 0.2 4.1 0.2-4.5 0.2 0.5 0.1 0.7 0.2-1.3 0.2 1.7 0.2 3.5 0.2-5.7 0.1 2.7 0.2-3.7 0.2-1.2 0.2 6 0.2-6.9 0.1 5.2 0.2 1.2 0.2-0.9 0.2 0.4 0.2-3.1 0.1 1.4 0.2 2.6 0.2 0.4 0.2 0.1 0.2-1.4 0.1-1.9 0.2-1.6 0.2 4.7 0.2 1.1 0.2-2.9 0.1 2.2 0.2 1 0.2 0.6 0.2 2.1 0.2-2.9 0.2-2.4 0.1 0.6 0.2 2.7 0.2-5 0.2 2.4 0.2-0.8 0.1-1.5 0.2 2 0.2 1.2 0.2-1.5 0.2-4.5 0.1-2.2 0.2 6 0.2 4.3 0.2-4.5 0.2 4 0.1-4 0.2-1.9 0.2 3.3 0.2 1.8 0.2-2.1 0.1 1.8 0.2-1.5 0.2-1.4 0.2 0.6 0.2 2.1 0.1-6.2 0.2 4.1 0.2 0 0.2 2.8 0.2-6.1 0.1 1.1 0.2 2.9 0.2-2.9 0.2 0.3 0.2 1.9 0.1 0.6 0.2-0.4 0.2-2.1 0.2 4.9 0.2 0 0.2-4.6 0.1 4.1 0.2-3.5 0.2 4 0.2 0.1 0.2-0.5 0.1-1.6 0.2 5.5 0.2-3.5 0.2 1.9 0.2-2.6 0.1-2.8 0.2 1.3 0.2-0.1 0.2 3 0.2-2.6 0.1-8 0.2 11.1 0.2 1 0.2-1.3 0.2-3.3 0.1 0.6 0.2-0.1 0.2-3 0.2 4.1 0.2-3.9 0.1-0.1 0.2 1.2 0.2 0.9 0.2 2.8 0.2-3.1 0.1 3.7 0.2-4.1 0.2 2.9 0.2-2 0.2-3.9 0.2 6.8 0.1-4.9 0.2 0.3 0.2-1.2 0.2-1.3 0.2 7.6 0.1 0.8 0.2-6.8 0.2 3 0.2 0.5 0.2-0.7 0.1 0.9 0.2-2.9 0.2-0.3 0.2-1.3 0.2 5.1 0.1 2.9 0.2-3.3 0.2-1 0.2 2.5 0.2-1.4 0.1-1.3 0.2-1.2 0.2 2.6 0.2-2.5 0.2 3.5 0.1-0.7 0.2-1.3 0.2-6.1 0.2 5.7 0.2-2.1 0.1-1.5 0.2 4.3 0.2 1.6 0.2-5 0.2-0.2 0.1 2.8 0.2 1 0.2 5.8 0.2-3.3 0.2-7.5 0.2 0.5 0.1 6.6 0.2-0.9 0.2 3.6 0.2-6.9 0.2 3.7 0.1 3.5 0.2-1.3 0.2-1.2 0.2-4.1 0.2 0.7 0.1 2.5 0.2-5.9 0.2 9.4 0.2-1 0.2-2.7 0.1 1.1 0.2-4.4 0.2 4.9 0.2 1 0.2-4.9 0.1 0.7 0.2 2.5 0.2 0.5 0.2-2.6 0.2 1 0.1-1.3 0.2-1.3 0.2 2 0.2-4.3 0.2 4.5 0.1-2.4 0.2 4.4 0.2 1.8 0.2-5.5 0.2-1.8 0.2 2.3 0.1 2.2 0.2-2 0.2-3.4 0.2 6 0.2 1.9 0.1-5 0.2-0.7 0.2 0.2 0.2 1.7 0.2-0.6 0.1 2.7 0.2-0.8 0.2-4.8 0.2 3.8 0.2 2.5 0.1 0.1 0.2-3.5 0.2 2.3 0.2-2.7 0.2-2.5 0.1-4.5 0.2 7.4 0.2 2 0.2-2.3 0.2 0 0.1 1.4 0.2-1.4 0.2 3.5 0.2-5.3 0.2 0.8 0.1 1.9 0.2 0.3 0.2 1.4 0.2-6.9 0.2 1.9 0.2 0.5 0.1 1.4 0.2-1.6 0.2 2.1 0.2 3 0.2-4 0.1 1.8 0.2 5.5 0.2-5.3 0.2-3.9 0.2-0.9 0.1 2.2 0.2 1.2 0.2 1.5 0.2-0.8 0.2-2.2 0.1-0.2 0.2-1 0.2 2.5 0.2 1 0.2-7.7 0.1 10.6 0.2-3 0.2-3.6 0.2 0.6 0.2 1.1 0.1 3.6 0.2-5.9 0.2 0.8 0.2 5.5 0.2-4.1 0.1-0.8 0.2 3.7 0.2-0.7 0.2-4.6 0.2 5.1 0.1 1.2 0.2-5.2 0.2 3.3 0.2 1.2 0.2-4.4 0.2 1.8 0.1-1 0.2-2.1 0.2 0.4 0.2 3.6 0.2-1.6 0.1-4.4 0.2 0.1 0.2 3.4 0.2-0.4 0.2-1 0.1-1.5 0.2 5.4 0.2-3.6 0.2 0.4 0.2-2 0.1-5.3 0.2 3.9 0.2 5.7 0.2-3.8 0.2-0.4 0.1-0.1 0.2 3.4 0.2-0.9 0.2 0 0.2-5.2 0.1-1.6 0.2 7 0.2-0.8 0.2-1 0.2-2.2 0.1 4 0.2 2.6 0.2-4.5 0.2 1.8 0.2-8.9 0.2 9.6 0.1-4.6 0.2 1.7 0.2 2.4 0.2-3 0.2-0.3 0.1 0.6 0.2 2.9 0.2-5.9 0.2 4.6 0.2-6.3 0.1 4.5 0.2-5.4 0.2 11.5 0.2-7.6 0.2 0.7 0.1 3.4 0.2-1.4 0.2-1.4 0.2 1 0.2-2.3 0.1 0.3 0.2 0.7 0.2 1.8 0.2 5.2 0.2-4 0.1-5.4 0.2-4.4 0.2 6.4 0.2 3.4 0.2 0.6 0.1-6.1 0.2 2 0.2 1.7 0.2 0.8 0.2-0.4 0.1-2.3 0.2 3.5 0.2 2.4 0.2-5.9 0.2 4.3 0.2-3.6 0.1-1.9 0.2 3.1 0.2 4.1 0.2-6.8 0.2 1.9 0.1-0.1 0.2 0.1 0.2 0.9 0.2-2 0.2 1.9 0.1-1.5 0.2 3.5 0.2-2.4 0.2-2.1 0.2 0.5 0.1-0.4 0.2 3.2 0.2 1.7 0.2-2.4 0.2 0.9 0.1-1.8 0.2-2.4 0.2 2.2 0.2 0.6 0.2 1.4 0.1-8 0.2 8.5 0.2-1.4 0.2-0.3 0.2 2.5 0.1-4.7 0.2 6 0.2-7.6 0.2 4.1 0.2-2.3 0.2 1.8 0.1-4.8 0.2 5.6 0.2-2.5 0.2 3.8 0.2-4.6 0.1 5.4 0.2-0.7 0.2-3.1 0.2-3.1 0.2 5.1 0.1 0.8 0.2-0.4 0.2-5.5 0.2 6.2 0.2 1.2 0.1-0.2 0.2-3.8 0.2-1.9 0.2 0.7 0.2-2.2 0.1 4.5 0.2-1.9 0.2 2.5 0.2-0.1 0.2-1.9 0.1-1.5 0.2 1.9 0.2 0.1 0.2-3.9 0.2 5.6 0.1 0 0.2 3.2 0.2-4.3 0.2 1.6 0.2 0.7 0.2-2.4 0.1-1.3 0.2 0.3 0.2-0.3 0.2 1.4 0.2-1.3 0.1-2.2 0.2 2.8 0.2-1.5 0.2 1.2 0.2 2 0.1-3.3 0.2-3.1 0.2 3.7 0.2-0.3 0.2 1.2 0.1 0.5 0.2-2.4 0.2 0.7 0.2 2 0.2 1.3 0.1-2.4 0.2 1 0.2-3.1 0.2 2.9 0.2 3 0.1-0.1 0.2-3.8 0.2 1.4 0.2-0.5 0.2-1.8 0.1-1.7 0.2-1 0.2 0.6 0.2 6.8 0.2-0.6 0.1-1.9 0.2 2 0.2-3.5 0.2-3 0.2 5.8 0.2-3.1 0.1 1.4 0.2 0.8 0.2-2.3 0.2 3.5 0.2-4.4 0.1 3.2 0.2-0.2 0.2-2 0.2 0.5 0.2 2.2 0.1 0.4 0.2-0.2 0.2-0.4 0.2 0.6 0.2-0.7 0.1 1.8 0.2-4.2 0.2 2.1 0.2-0.5 0.2 4 0.1-3 0.2 2.4 0.2-3 0.2 5.2 0.2-1.1 0.1-2.9 0.2 6.5 0.2-10.2 0.2 1.6 0.2 4 0.1-4.9 0.2 2.9 0.2 1.4 0.2-0.1 0.2 1.8 0.2 1 0.1 0.6 0.2-0.8 0.2-0.9 0.2-0.9 0.2-1.5 0.1-2.1 0.2 5 0.2 4.1 0.2-1.7 0.2-2.1 0.1-4 0.2 3.2 0.2-1.5 0.2 3.5 0.2-2.7 0.1 3.5 0.2-6.8 0.2 4.7 0.2-4.4 0.2 3.5 0.1 4.5 0.2-2.2 0.2-2.8 0.2 3.4 0.2 0.5 0.1-1.4 0.2-1.9 0.2 0.3 0.2-3.2 0.2 7.8 0.1-5.6 0.2 7 0.2-2.3 0.2-5 0.2 1.9 0.2-3.8 0.1-4.4 0.2 7.1 0.2-1.7 0.2 5.5 0.2-3.4 0.1 0.3 0.2-5.5 0.2 5.4 0.2 4.1 0.2-4.2 0.1 1.1 0.2 2.7 0.2-1.6 0.2-6.3 0.2 1.6 0.1-1 0.2 4 0.2 2.8 0.2-6.6 0.2 6.3 0.1-3.1 0.2 4.3 0.2 0 0.2-5.4 0.2 6.3 0.1-3.2 0.2-1 0.2 3.2 0.2-3.6 0.2 1.1 0.1-7.3 0.2 9 0.2-0.6 0.2-4.2 0.2 3.4 0.1-3.2 0.2 3.1 0.2 1.5 0.2 0.2 0.2 0.5 0.2-2.3 0.1-2.5 0.2 1.1 0.2 0.5 0.2-1.8 0.2 2.7 0.1-2.9 0.2 5.3 0.2-2.4 0.2 0 0.2-1.6 0.1 2.5 0.2 2.2 0.2-3.9 0.2 0.6 0.2-1.7 0.1 1.8 0.2-2.9 0.2 0.6 0.2 3.8 0.2 0.5 0.1-2.9 0.2 1.6 0.2-1.7 0.2-4.6 0.2 7.8 0.1-4.3 0.2 2.3 0.2-4.2 0.2 5.7 0.2-0.4 0.1 0.3 0.2-5.5 0.2 6.8 0.2-0.4 0.2-9.9 0.2 1.6 0.1 1.5 0.2 0.8 0.2 1.4 0.2 3.9 0.2 0.2 0.1-7.2 0.2 2.5 0.2 3 0.2 4 0.2-8.1 0.1 2.7 0.2-2.2 0.2 2.7 0.2 0.7 0.2-0.3 0.1-1.4 0.2-1 0.2-0.3 0.2 4.7 0.2 1.3 0.1-6.2 0.2 2.6 0.2-0.5 0.2 0.6 0.2 2.4 0.1-1.8 0.2-1.2 0.2-2.2 0.2 4.5 0.2-3.3 0.1 0.7 0.2-1.1 0.2 3.2 0.2-1.1 0.2-0.9 0.1-0.3 0.2 2.2 0.2-0.9 0.2 1.8 0.2-7 0.2 8.7 0.1-0.5 0.2-2.1 0.2-1.8 0.2 0.8 0.2-0.1 0.1 1.8 0.2-10.2 0.2 9.4 0.2-3.1 0.2 2.4 0.1-0.8 0.2-0.3 0.2-2 0.2 3.2 0.2-1.4 0.1 1 0.2 1.2 0.2-3.5 0.2 0.8 0.2 0.4 0.1-2.8 0.2 5.8 0.2-0.8 0.2 3.4 0.2-6.7 0.1 1.7 0.2 2.2 0.2-5 0.2 2.4 0.2 0 0.1 0.3 0.2 4.9 0.2-3 0.2-2 0.2 1.1 0.2-0.8 0.1-6.6 0.2 10.6 0.2-8.9 0.2-3.6 0.2 9.8 0.1-1.4 0.2 3.9 0.2-5.8 0.2 0.5 0.2 1.1 0.1-0.6 0.2 3.5 0.2-3.2 0.2 1 0.2-2.9 0.1 5 0.2-2.2 0.2-4.1 0.2 8 0.2-1.8 0.1 1 0.2-3.8 0.2 1.9 0.2-2 0.2 0.8 0.1 1.8 0.2-0.9 0.2-2.3 0.2 2.3 0.2-1 0.1 1.6 0.2-2 0.2-0.7 0.2 3.7 0.2-1.8 0.2-2.8 0.1 2.6 0.2-4.8 0.2 8.7 0.2-5.1 0.2 1.6 0.1-1.9 0.2 3.8 0.2-3 0.2-2.3 0.2 1.6 0.1 3.1 0.2-4.9 0.2 1.6 0.2-0.4 0.2 0.8 0.1 1.2 0.2-2.3 0.2 0.9" stroke="#f00" stroke-width="0.7" fill="none"/><path d="M341.5 324.5h0.8M399.2 319.3h0.8M443.2 322.3h0.8M403.2 325.3h0.8M352.6 317.1h0.8M320.6 322.3h0.8M322.6 320.4h0.8M340.5 320.6h0.8M454.3 319h0.8M309.3 318.4h0.8M440.7 319.2h0.8M319.2 318.6h0.8M468 320.1h0.8M450.4 323.2h0.8M355.4 314.6h0.8M460.8 320.6h0.8M370.1 319h0.8M384.2 320.2h0.8M361.9 319.1h0.8M414 318.8h0.8M285.2 315.7h0.8M298.7 319.6h0.8M474 315.6h0.8M345 315.9h0.8M312.7 318.7h0.8M340.7 327.5h0.8M355.5 318.7h0.8M384 314.4h0.8M334.6 323.2h0.8M295.7 316.2h0.8M346.4 321.6h0.8M436 327h0.8M363.4 321.2h0.8M465.5 321.8h0.8M452.8 317.7h0.8M422.4 321.4h0.8M374.8 313h0.8M481.4 317.3h0.8M352.8 319.3h0.8M464.5 320.1h0.8M336.8 324h0.8M327.9 322.4h0.8M454.6 312.9h0.8M360 323h0.8M393.2 314.4h0.8M351.3 316.8h0.8M457 321h0.8M473.6 320.5h0.8M344.1 318h0.8M295.8 312.6h0.8M339.1 321.5h0.8M468.7 315h0.8M432.1 322.3h0.8M476.9 319.5h0.8M406 316.3h0.8M290 317.8h0.8M402.8 314.6h0.8M406.3 317.7h0.8M463.9 318.6h0.8M362.7 322.9h0.8M284.6 318.2h0.8M386.1 319.1h0.8M416.4 321.6h0.8M282.7 316.8h0.8M289.4 316.1h0.8M335.9 325.5h0.8M320.9 319.1h0.8M453.7 318.4h0.8M310.9 318.5h0.8M366.5 322h0.8M301.5 318.2h0.8M305.1 313.5h0.8M402.8 318.3h0.8M293.1 316.4h0.8M398.6 320.3h0.8M444.8 321.6h0.8M340.6 324h0.8M352.2 318.7h0.8M449.5 318.5h0.8M288.5 316.4h0.8M434.7 323.6h0.8M388.4 317.3h0.8M392.2 320.6h0.8M309.2 313.6h0.8M470.6 319.8h0.8M458 325.3h0.8M374.3 320.6h0.8M427.1 319.8h0.8M469.5 318h0.8M315.8 315.8h0.8M322.6 319.8h0.8M462.4 323.8h0.8M349.1 318.8h0.8M378.6 314.1h0.8M471.6 320.1h0.8M304.7 318.2h0.8M324 323.7h0.8M356.9 317.4h0.8M304 315.8h0.8M332.3 320h0.8M284.5 318.5h0.8M297.6 315.2h0.8M478.6 317.2h0.8M314.4 315.1h0.8M410.3 323.7h0.8M299.2 316.7h0.8M300.6 313h0.8M402.4 317h0.8M449.3 324.5h0.8M440.4 324.9h0.8M380.7 321.3h0.8M396 325h0.8M284.2 320.8h0.8M326.3 317.9h0.8M468.3 316.6h0.8M407.6 321.8h0.8M441.9 317.9h0.8M352.7 318.2h0.8M333 325.6h0.8M361.2 318.7h0.8M459.9 319.5h0.8M310.6 315.5h0.8M380.4 312.4h0.8M369.7 321.7h0.8M298.5 318.2h0.8M319.9 320.3h0.8M475.2 320.5h0.8M344.6 322.9h0.8M293.6 315.6h0.8M358.2 317.7h0.8M372.9 311.4h0.8M296.9 321.8h0.8M293.7 316.9h0.8M412 317.1h0.8M408.8 320.3h0.8M404.3 324.3h0.8M399.5 318.3h0.8M287.6 316.6h0.8M302.4 314.7h0.8M286.9 316.1h0.8M351.2 324.5h0.8M353.8 320.2h0.8M345.4 319.6h0.8M395 320.1h0.8M399.2 318.3h0.8M399.4 319.6h0.8M360.9 317.2h0.8M317.9 319.6h0.8M336.8 316.3h0.8M288.8 314.1h0.8M439.3 319.3h0.8M392.7 318.2h0.8M445.7 318h0.8M415.5 318.7h0.8M307.9 318.4h0.8M335.2 319h0.8M379.9 314.6h0.8M346.7 316.4h0.8M414.3 318.7h0.8M347.3 318.6h0.8M399.1 320.9h0.8M407.1 317.3h0.8M396.1 316.1h0.8M412.9 319.8h0.8M371.6 316.6h0.8M314.7 319.2h0.8M446.8 320.6h0.8M441 320.8h0.8M470.7 319.7h0.8M408.4 317h0.8M303.1 315.4h0.8M449 321.2h0.8M428.6 321.1h0.8M318.3 318.4h0.8M481.5 311.2h0.8M336 318.3h0.8M311.2 314.6h0.8M404.3 323.2h0.8M380.3 311.5h0.8M324 317.8h0.8M383.9 321.2h0.8M345.5 319.3h0.8M388.6 317.4h0.8M422.7 316.8h0.8M349.3 319.9h0.8M398.4 319.6h0.8M317 315.8h0.8M294.9 314.4h0.8M424.8 323.6h0.8M391 320.1h0.8M333.6 322h0.8M282.5 314.5h0.8M318.9 312.7h0.8M395.8 318.3h0.8M303.2 313h0.8M374 321.1h0.8M459.7 318.5h0.8M348.1 324h0.8M372.7 318.3h0.8M306.3 319.4h0.8M296.1 314.9h0.8M391.8 321.4h0.8M313.2 318h0.8M324.9 318.4h0.8M439.6 320.3h0.8M461.6 317.6h0.8M420.6 324h0.8M318.3 318.4h0.8M312.8 316h0.8M476.7 319.1h0.8M450.2 319.3h0.8M447.5 317.7h0.8M303.9 314.4h0.8M475.5 322.7h0.8M315.8 318.7h0.8M474.2 320.8h0.8M412.4 320.7h0.8M436 324.7h0.8M373 317.1h0.8M350.1 323.6h0.8M305.1 314.6h0.8M414.7 322.9h0.8M282.6 317.6h0.8M434.9 322h0.8M406.9 323.6h0.8M480.7 315.3h0.8M381.9 321.8h0.8M288.2 319.8h0.8M394.4 319.4h0.8M438.4 319.5h0.8M322.3 320h0.8M430.3 320.7h0.8M367.9 319.8h0.8M301.2 317.4h0.8M403.6 317.3h0.8M376.5 318.4h0.8M333.2 324.6h0.8M347.4 325.4h0.8M445.7 321.9h0.8M398.4 324.1h0.8M303.7 315.6h0.8M374.9 315.3h0.8M324.4 316.7h0.8M474.5 319.3h0.8M439 321h0.8M439.6 321.2h0.8M390.8 311.9h0.8M392.5 317.1h0.8M391 316.6h0.8M473 316h0.8M363.3 320.8h0.8M346.4 318.5h0.8M304.7 319.8h0.8M331.7 324.1h0.8M413.8 320.5h0.8M368.4 315.8h0.8M332.3 321.4h0.8M307.5 316.6h0.8M388.9 318.9h0.8M343.1 321.5h0.8M455.7 324.2h0.8M425.3 319.4h0.8M314.2 319.1h0.8M297.2 316.8h0.8M284.8 316.2h0.8M417.5 321.6h0.8M432.1 320.2h0.8M419.9 322.8h0.8M479.6 318.2h0.8M399.3 318.2h0.8M319.4 319h0.8M472.9 321.6h0.8M402.9 321.5h0.8M310 316h0.8M357.7 321h0.8M478.5 317.3h0.8M334.2 316.6h0.8M307.3 317h0.8M461.6 322h0.8M464.5 319.2h0.8M416.3 321.1h0.8M427.7 318.3h0.8M450.6 318.7h0.8M340.9 320.5h0.8M350.7 319h0.8M345.4 324.7h0.8M476.6 316.8h0.8M336.1 320.6h0.8M307 317.8h0.8M431.9 317.3h0.8M406.1 317.7h0.8M337.1 319.8h0.8M410.5 314.8h0.8M314.1 318h0.8M368.3 318h0.8M475.5 319.9h0.8M411.9 316h0.8M475.7 317.8h0.8M396.4 323.8h0.8M340.1 322.8h0.8M310.6 316.1h0.8M376.5 322.4h0.8M460.6 320.3h0.8M458.7 320.3h0.8M410.8 314h0.8M369.6 319.5h0.8M293.7 320.2h0.8M354 324.5h0.8M345.1 319.7h0.8M386.1 321.4h0.8M388.5 317.2h0.8M416.6 320.6h0.8M414.7 319.6h0.8M308.9 317.1h0.8M470.4 318h0.8M380.4 316.6h0.8M461.5 324h0.8M322.6 316h0.8M479 322.1h0.8M308.9 313.3h0.8M364 317.2h0.8M318 319.7h0.8M374.6 317.5h0.8M468.8 319h0.8M377.9 319.7h0.8M359.5 317h0.8M391.5 320.8h0.8M328.9 319.8h0.8M308.6 317.8h0.8M390.2 315.8h0.8M446.9 318.9h0.8M314.7 316.2h0.8M411.6 318.7h0.8M286.6 318.6h0.8M432 317.7h0.8M289.3 316.9h0.8M296.1 315.9h0.8M408.6 317.4h0.8M378.6 322h0.8M444.3 313.5h0.8M305.2 318h0.8M451.9 319.1h0.8M303.5 315.1h0.8M430.6 322.6h0.8M387.8 316.7h0.8M357.4 318.3h0.8M396.3 317.3h0.8M480.3 318.1h0.8M378.7 316.3h0.8M336.6 323h0.8M433.3 318.2h0.8M303.3 317.4h0.8M359.3 319.8h0.8M367 322.3h0.8M429.1 322.2h0.8M372.6 314.2h0.8M336.3 322.6h0.8M285.9 314.8h0.8M404.6 319.7h0.8M430 326.3h0.8M379.5 316.7h0.8M443.7 320.2h0.8M289.9 322.1h0.8M407.5 322.9h0.8M421.5 317.8h0.8M305.8 317h0.8M337.6 323h0.8M304.4 317.9h0.8M413.3 319.8h0.8M295.7 313.9h0.8M353.7 317.4h0.8M470.7 319.9h0.8M341.8 321.8h0.8M357.8 318.9h0.8M352.2 320h0.8M413 319.1h0.8M435.9 326h0.8M451.5 319.8h0.8M453.5 319.3h0.8M385.5 320.1h0.8M314.2 317h0.8M373.9 322.8h0.8M398.8 316.9h0.8M389.8 324.6h0.8M333.8 324.7h0.8M421.4 319.7h0.8M480.8 323.2h0.8M440.8 319.1h0.8M338.7 320h0.8M456.5 321h0.8M454.1 323.6h0.8M361.1 319h0.8M365.7 316.2h0.8M451.4 319.9h0.8M412.6 320.5h0.8M381.1 320.3h0.8M476.4 317.1h0.8M384.4 318.4h0.8M334.5 320.1h0.8M449.1 313.3h0.8M312.6 316.5h0.8M292.6 323.3h0.8M465 317h0.8M387.1 319h0.8M428.1 320.1h0.8M379.7 317.4h0.8M430.2 319.7h0.8M434.4 322.5h0.8M404.2 322.6h0.8M392.4 319.6h0.8M345.2 314.4h0.8M293.7 315.1h0.8M463.7 319.7h0.8M375.3 316.7h0.8M475.7 321.6h0.8M448.4 317.1h0.8M323.2 322.1h0.8M288.3 312.2h0.8M414.8 317.1h0.8M416.3 318.7h0.8M370.3 314h0.8M296.3 313.1h0.8M344.8 320.5h0.8M395.5 318.3h0.8M478.6 320.8h0.8M360.1 322.4h0.8M386 318.1h0.8M356.9 317.3h0.8M457.9 317.2h0.8M412.6 317.7h0.8M309.7 321.4h0.8M374.8 317.6h0.8M378.2 316.5h0.8M417 321.5h0.8M434 322.8h0.8M413.9 319h0.8M462.6 325.8h0.8M358.2 323.5h0.8M443.3 318.7h0.8M417 318.7h0.8M380.2 317.6h0.8M381.5 313.6h0.8M419.9 321h0.8M334.9 318.2h0.8M357.8 316.7h0.8M308.9 314h0.8M397.8 316.6h0.8M344.2 320.4h0.8M297.5 318.1h0.8M416.1 318.4h0.8M357.1 315.7h0.8M392 316.4h0.8M336.1 317.8h0.8M460.8 314.5h0.8M302.9 317.4h0.8M393.4 318.3h0.8M335 322.3h0.8M439.3 319.3h0.8M405.3 319.7h0.8M287.2 317h0.8M479 317.8h0.8M413.4 322.9h0.8M470.2 317.5h0.8M407 323.2h0.8M319 314.5h0.8M373.5 318.9h0.8M474.3 321.7h0.8M333.8 321.5h0.8M368.3 317.8h0.8M450.7 322.7h0.8M328.1 320h0.8M323.4 321.6h0.8M406.4 316.8h0.8M459.1 325.9h0.8M430.4 319.4h0.8M400.8 315.5h0.8M333.1 322.9h0.8M284.8 315.1h0.8M285.2 320.5h0.8M379 317.4h0.8M306.6 316.7h0.8M308.7 321.9h0.8M449.4 321h0.8M370.9 319.3h0.8M456.4 318.2h0.8M346.9 315.8h0.8M383.6 315.8h0.8M332.8 316.8h0.8M365.6 323.2h0.8M464.9 326.5h0.8M412 317.9h0.8M470.8 318.3h0.8M407.8 318.2h0.8M336.1 321h0.8M298.6 317.4h0.8M401.6 319.2h0.8M452.5 317.9h0.8M356.3 319.1h0.8M410.8 318.9h0.8M480.1 316.4h0.8M480.6 318.1h0.8M401.2 316.9h0.8M464.2 315h0.8M474.5 318.4h0.8M346.1 318.1h0.8M357.3 319.4h0.8M330.8 319.7h0.8M297.7 318.1h0.8M408.2 318h0.8M381.6 322h0.8M433.8 322.2h0.8M479.9 318.9h0.8M390.1 320.7h0.8M413.3 320.3h0.8M401.5 322h0.8M404.6 321.9h0.8M339.6 317.2h0.8M346.7 318h0.8M449.2 328.6h0.8M338.5 320.1h0.8M406.3 319.8h0.8M415.9 316.9h0.8M387.8 319.9h0.8M380.3 314.6h0.8M372.2 319h0.8M315.6 315.9h0.8M466 317.4h0.8M475.4 322.9h0.8M382.9 321.6h0.8M472.1 320.9h0.8M346.3 321.3h0.8M463.5 317.2h0.8M363.5 322.5h0.8M402.2 320.2h0.8M334.2 318h0.8M406.7 317.4h0.8M419.1 318.2h0.8M308 318.8h0.8M284.6 316.7h0.8M341.4 320.3h0.8M414.2 321.1h0.8M317.9 317.1h0.8M435.8 320.6h0.8M288.9 319.7h0.8M346.2 318.5h0.8M481.1 317.4h0.8M332.1 319.8h0.8M384.1 318.1h0.8M400.8 323.2h0.8M384 318.2h0.8M339.4 320h0.8M419.7 317.2h0.8M341.3 315.7h0.8M307.9 324.5h0.8M335.8 319.7h0.8M300.1 318.9h0.8M303.4 319.2h0.8M346.7 320.7h0.8M368.9 314.5h0.8M342.2 319.2h0.8M418.4 319.5h0.8M300.6 317.5h0.8M481 320.1h0.8M411.9 316.6h0.8M420.6 324.6h0.8M473.3 319.5h0.8M477.2 319.8h0.8M290.3 316.9h0.8M412.4 323.9h0.8M286.4 321.1h0.8M415.6 320.6h0.8M287.8 316.2h0.8M416.2 318.7h0.8M360.7 317h0.8M350.9 317.6h0.8M324.3 320.1h0.8M324.9 317.7h0.8M426.4 319.3h0.8M433.3 323.9h0.8M289.9 318.8h0.8M345.4 320.2h0.8M321.2 325.4h0.8M442.9 322h0.8M422 319.8h0.8M342 320.5h0.8M423.8 322.3h0.8M404.2 322.8h0.8M448.9 320.5h0.8M394.7 320.8h0.8M321.8 326.8h0.8M282.8 318.5h0.8M399.4 319.4h0.8M439.4 323.9h0.8M447.1 317.5h0.8M313.9 312.7h0.8M454 314.9h0.8M316.3 314.6h0.8M367.5 320.8h0.8M445.2 321.9h0.8M349.6 319.1h0.8M410.2 319.9h0.8M344 319.9h0.8M292.3 316h0.8M369.6 316.6h0.8M346.8 319.4h0.8M315.2 321.9h0.8M324.4 317.4h0.8M407.9 319.3h0.8M285.3 318.7h0.8M371.6 318.2h0.8M299.4 316.5h0.8M433.1 317.9h0.8M319.8 314.6h0.8M445.2 317.9h0.8M376.9 321.7h0.8M358.6 318.3h0.8M406.8 319.3h0.8M289.4 319.8h0.8M293.8 316.2h0.8M299.5 320.2h0.8M462 316.2h0.8M442.8 320.6h0.8M287.6 318.1h0.8M303.2 316.6h0.8M442.6 320.6h0.8M478.5 321.2h0.8M352.2 320.4h0.8M418.2 322.2h0.8M344.5 322.2h0.8M435.8 323.8h0.8M317.4 320.9h0.8M414.4 319.8h0.8M343.2 316.8h0.8M478.3 315h0.8M296.9 315.8h0.8M348.7 321.2h0.8M318.9 318.9h0.8M381.6 313.8h0.8M344.7 316.1h0.8M325.2 319.3h0.8M369 321.9h0.8M440.4 323.1h0.8M313.2 314.7h0.8M301.4 315.3h0.8M369.3 316h0.8M386.9 314.4h0.8M428.1 319.7h0.8M383 322.1h0.8M431.8 321.8h0.8M329.5 321.4h0.8M349.9 324.6h0.8M408.7 324.4h0.8M306.6 321.2h0.8M420.7 320.3h0.8M444.7 322.9h0.8M341 322.9h0.8M350 316.3h0.8M392.1 320.9h0.8M317.9 321.3h0.8M422.6 317.5h0.8M388.8 317.6h0.8M432.9 322.6h0.8M314.6 314.8h0.8M400.9 320.2h0.8M299.4 317.9h0.8M330.7 319.1h0.8M429 318.3h0.8M398.5 321.1h0.8M419.5 320.9h0.8M350.4 319.9h0.8M308.2 321.1h0.8M409.3 315.7h0.8M284.2 315.5h0.8M429.7 322.2h0.8M444.6 319h0.8M337 322.7h0.8M375.9 321.2h0.8M354.1 315.5h0.8M465.4 321h0.8M406.8 319.2h0.8M322.5 320.8h0.8M390.3 319h0.8M297.3 316.2h0.8M293 318.8h0.8M430.6 322.4h0.8M348.5 319.6h0.8M311.6 313.6h0.8M305.5 317.4h0.8M315.9 310h0.8M308.4 317.9h0.8M381.8 318.3h0.8M381.8 318.6h0.8M290.6 318.6h0.8M455.4 316.5h0.8M367.9 320.1h0.8M441.3 320h0.8M365.5 317.5h0.8M301.8 314.3h0.8M316.1 313.2h0.8M429.4 316.2h0.8M413 321.2h0.8M354.5 316.1h0.8M330.6 324h0.8M366.6 314.6h0.8M350 318.4h0.8M333.2 321.1h0.8M380.4 318.6h0.8M422.7 320.9h0.8M375.8 317.4h0.8M453.9 319.3h0.8M286.9 313.7h0.8M408.1 319.7h0.8M303 320.3h0.8M401.2 315h0.8M479.3 317.2h0.8M442.9 319.7h0.8M411.5 320.7h0.8M300.7 320.2h0.8M381.9 316.9h0.8M303.3 313.6h0.8M430.2 324h0.8M330.6 322.7h0.8M326.1 325.4h0.8M427.7 316h0.8M435.2 317.4h0.8M297 317.3h0.8M459.7 319h0.8M285.4 311.5h0.8M284.6 314.9h0.8M347.4 320.2h0.8M457.9 319.5h0.8M430.9 316.3h0.8M300.7 317.1h0.8M336.7 321h0.8M389.2 315.2h0.8M303.9 316h0.8M426.5 325.8h0.8M378.1 317.7h0.8M444.2 315.8h0.8M397.6 319.9h0.8M301.1 318.4h0.8M445.1 321.7h0.8M358.2 321.9h0.8M369.5 317.9h0.8M334.7 317.8h0.8M408.6 324.2h0.8M452.3 323.4h0.8M471.8 320.8h0.8M348 315.8h0.8M423.2 326.3h0.8M426.5 322h0.8M430.8 323.6h0.8M454.2 322.9h0.8M462.1 315.4h0.8M401.4 321.8h0.8M352.4 322.7h0.8M467.9 321.2h0.8M341.1 323.1h0.8M414.9 323h0.8M346.5 313.9h0.8M359 323.5h0.8M460 320.8h0.8M305.1 315.2h0.8M430.6 319.5h0.8M382.3 320.1h0.8M291.5 314.6h0.8M294.2 317.6h0.8M410.5 320.2h0.8M383.4 319.8h0.8M338.1 317.7h0.8M453.1 322h0.8M356.1 315.1h0.8M468.1 318.6h0.8M413.3 321.2h0.8M480.9 317.6h0.8M445.1 321.3h0.8M405.4 315.7h0.8M353.5 317.8h0.8M407.8 319.7h0.8M477.8 320.9h0.8M407.8 322.8h0.8M394 318.9h0.8M438.7 321.9h0.8M469.8 316.5h0.8M472.4 323.2h0.8M291.7 319.9h0.8M355.6 319.3h0.8M422.2 320.6h0.8M457.2 314.7h0.8M466 321.1h0.8M332.7 320.8h0.8M285.9 313.4h0.8M362.5 313.8h0.8M290 318.5h0.8M353 317.7h0.8M289.2 320.4h0.8M351.4 319.9h0.8M294.3 322.9h0.8M309.4 316.2h0.8M469.1 321.7h0.8M396.8 321.6h0.8M333.4 319.4h0.8M370.6 319.1h0.8M437.8 313.4h0.8M480.2 317.3h0.8M364.9 318.8h0.8M415.5 315.7h0.8M337.4 318.1h0.8M421.5 316.3h0.8M403 320h0.8M345.8 319.4h0.8M404.2 320.9h0.8M441.1 323h0.8M463 316.9h0.8M443.1 320.1h0.8M468.9 318.8h0.8M429.2 317.5h0.8M412.1 320.6h0.8M370 318.1h0.8M478.6 314.2h0.8M285.6 321h0.8M443.9 320.7h0.8M369.3 314.7h0.8M461.5 319.4h0.8M459.8 320.3h0.8M296.7 314.2h0.8M470.5 316.9h0.8M361.9 314.4h0.8M411.2 321.8h0.8M358.9 326.5h0.8M391.7 317.7h0.8M345.2 321.7h0.8M318.1 315.3h0.8M455.9 320.4h0.8M314.2 316.3h0.8M360.7 324.7h0.8M336.2 320.8h0.8M356.9 316.8h0.8M306.5 317.2h0.8M348.3 317.5h0.8M398.9 313.4h0.8M435.6 320.9h0.8M448.2 321.4h0.8M465.7 313.9h0.8M394.9 320.9h0.8M437.5 319.4h0.8M398.8 319.7h0.8M352.5 320.3h0.8M380.5 318.5h0.8M349.7 322.6h0.8M313.4 318.6h0.8M294.1 317.8h0.8M318.5 320.1h0.8M389.1 316.8h0.8M307.9 315.8h0.8M398.7 321.2h0.8M339.9 321.6h0.8M289.7 319.6h0.8M335.1 318.3h0.8M311.9 314.6h0.8M402.2 319.3h0.8M420.4 327.7h0.8M350.9 321.5h0.8M477.8 316.5h0.8M322.2 315.8h0.8M348.8 318h0.8M426.7 321.4h0.8M453.3 319.3h0.8M417.3 317.8h0.8M362.3 322h0.8M333.6 319.6h0.8M465.8 320h0.8M430.9 317.8h0.8M424.1 318.7h0.8M418.2 317.7h0.8M343.3 321.1h0.8M379.2 314h0.8M391.8 317.3h0.8M293.8 317h0.8M479.6 323.2h0.8M286.7 315.3h0.8M474.6 319.1h0.8M307.2 318.8h0.8M353.4 318.5h0.8M456.8 320.1h0.8M330.3 319.2h0.8M429.3 317.6h0.8M464.2 326h0.8M304.7 312.8h0.8M407 317.4h0.8M313.7 318.3h0.8M289.4 317.1h0.8M470.6 320.8h0.8M428.7 320.4h0.8M434.3 319.9h0.8M477.9 320.5h0.8M377.3 314.8h0.8M435.5 319.6h0.8M470.1 317.5h0.8M418.5 325.4h0.8M370.5 314.9h0.8M320.4 318h0.8M374.6 320.1h0.8M386.4 321.5h0.8M445.8 323.9h0.8M349.6 322h0.8M371.3 317.3h0.8M287.6 316.5h0.8M384.3 320.6h0.8M290.2 314.8h0.8M331.2 326.4h0.8M451.1 315.3h0.8M467 321.4h0.8M425.8 322.4h0.8M438.4 315.6h0.8M363.6 319.9h0.8M411.2 318.8h0.8M352.5 315h0.8M465.7 324.4h0.8M344 319.1h0.8M438 321.9h0.8M435.5 320.5h0.8M320 313.8h0.8M388.6 315.9h0.8M321.7 320.2h0.8M363.9 315.8h0.8M303.4 314.1h0.8M329.3 322.8h0.8M361.4 319.2h0.8M358.2 322.3h0.8M398.2 322.1h0.8M371.2 314.1h0.8M370.2 319.8h0.8M438.3 321.9h0.8M430.3 321.4h0.8M378.6 314.5h0.8M340.5 316.3h0.8M380.3 318.6h0.8M402.4 317.9h0.8M361.2 310.1h0.8M399.6 316.9h0.8M364.1 317.3h0.8M438.7 317.6h0.8M434.9 318.9h0.8M457.4 316.8h0.8M356.9 321h0.8M420.5 323.3h0.8M356.8 315.3h0.8M440.9 321.3h0.8M387.1 318.7h0.8M290.5 314.6h0.8M299.9 315.5h0.8M434.9 317.4h0.8M477.4 317.5h0.8M465.1 321.5h0.8M368.6 323.6h0.8M448.5 323.5h0.8M399.9 322.2h0.8M303.4 316.8h0.8M439.4 322.8h0.8M405.3 315.6h0.8M424.3 318.1h0.8M372.4 324.4h0.8M350.8 318.3h0.8M331 321h0.8M453.3 319.1h0.8M422.6 324.8h0.8M335.9 321.1h0.8M286.2 316.9h0.8M348.5 319.9h0.8M285.6 312.4h0.8M457.6 321.6h0.8M352.5 319.5h0.8M357.8 317.4h0.8M473 317h0.8M373.2 326.1h0.8M416.8 319.3h0.8M283.7 316.6h0.8M396.8 316.3h0.8M329 318h0.8M379.6 317.7h0.8M475.8 316.6h0.8M353.2 318.4h0.8M469.6 318.9h0.8M309.1 316.8h0.8M431.6 318.9h0.8M286.7 312.5h0.8M446.3 322.7h0.8M423.2 318.3h0.8M326.5 323.2h0.8M350.9 319.8h0.8M341.5 319.6h0.8M333 320.2h0.8M360.3 320.6h0.8M370.7 314.5h0.8M294.1 315.3h0.8M418.1 323h0.8M362.8 322.4h0.8M299.7 317.8h0.8M335.5 321.5h0.8M342.8 320h0.8M393.3 318.3h0.8M433 322h0.8M422.6 319.5h0.8M441.6 322.9h0.8M353.6 321.1h0.8M471.5 316.1h0.8M382.3 314.8h0.8M337.4 326h0.8M451.3 327.4h0.8M326.6 320.9h0.8M384.3 317.8h0.8M324.7 317.4h0.8M296 314.3h0.8M301.2 316.2h0.8M468.5 320.5h0.8M312.5 315.2h0.8M319.5 320.4h0.8M354.9 322.1h0.8M412.3 322.7h0.8M461.6 318.2h0.8M470.2 317h0.8M283.1 317h0.8M295 314.2h0.8M466.2 317.9h0.8M319.6 316.8h0.8M451.9 319.9h0.8M412.8 321.7h0.8M446.9 323.6h0.8M371.6 316.5h0.8M392.4 316.3h0.8M395.9 317h0.8M293.7 315.5h0.8M422.6 318.4h0.8M342.1 325.3h0.8M391.7 319.3h0.8M438.4 324.7h0.8M304.5 316.8h0.8M439.6 319.4h0.8M476.2 316.7h0.8M368.3 317.4h0.8M374 318.6h0.8M435.5 318.3h0.8M413.1 316.8h0.8M479.8 317.4h0.8M447.3 318h0.8M443.7 320.1h0.8M462.8 314.7h0.8M455.7 324.5h0.8M411.9 321.5h0.8M410.9 318.4h0.8M373.4 316.6h0.8M375.5 318h0.8M400.3 318.4h0.8M394.4 318.4h0.8M423.7 319.9h0.8M392.5 321.7h0.8M305 318.5h0.8M330.9 321.9h0.8M345.6 320.2h0.8M369.9 321h0.8M380.5 319.6h0.8M358.5 318.5h0.8M446.3 317.4h0.8M336.4 319h0.8M373 320.9h0.8M392.9 318.9h0.8M457.7 326.7h0.8M331 322.2h0.8M427.9 321.1h0.8M374.9 321.3h0.8M377.5 316.1h0.8M354.8 316.8h0.8M440.2 321.1h0.8M419.2 321.3h0.8M290.5 312.7h0.8M314.6 319.8h0.8M457.8 318.1h0.8M478.3 316.1h0.8M343 319.5h0.8M409.8 320h0.8M360.9 317.6h0.8M388.6 314.8h0.8M304.9 312.5h0.8M360.8 318.4h0.8M407.5 319.5h0.8M451.9 319.5h0.8M427.8 328.9h0.8M463.9 315.2h0.8M322.5 320.7h0.8M382.9 322.8h0.8M334.1 318.4h0.8M428.6 321.5h0.8M472.7 319.9h0.8M395.5 320.9h0.8M286.6 317h0.8M352.9 318.1h0.8M476.3 319.9h0.8M367.8 319.2h0.8M365.3 319.7h0.8M465.2 312.2h0.8M346 319.7h0.8M437.6 319h0.8M432.5 320.3h0.8M404.2 318.2h0.8M467.2 312.3h0.8M453.3 320.5h0.8M396.3 315.4h0.8M409.5 323.9h0.8M359.1 324.9h0.8M366.1 314.2h0.8M370.9 318.9h0.8M451.4 318.1h0.8M479.4 318h0.8M400.8 315.5h0.8M375.2 317h0.8M398.6 317.7h0.8M321 322.1h0.8M461.3 322.5h0.8M400.7 316.7h0.8M471.4 319.9h0.8M471.6 316.1h0.8M402.7 320.3h0.8M313.1 316.1h0.8M383.6 321.1h0.8M408.8 316.7h0.8M440.4 318.9h0.8M357.4 318.4h0.8M335.2 317.3h0.8M396.5 318.5h0.8M298 316h0.8M444.5 323.6h0.8M356.5 318.8h0.8M385.5 317.2h0.8M438.1 316.9h0.8M321.2 316.1h0.8M431.9 321.2h0.8M378.5 317.1h0.8M361.4 319.3h0.8M342.2 323.6h0.8M385.9 312.4h0.8M438 317.4h0.8M365.1 321.7h0.8M333.9 320.5h0.8M306 321.4h0.8M332.9 318.7h0.8M412.4 320.1h0.8M458.8 324.4h0.8M453.7 321.2h0.8M445.2 321.6h0.8M388.5 314.6h0.8M359.9 317.2h0.8M405.9 318.8h0.8M382.8 316.8h0.8M300.1 320.4h0.8M413.8 319.4h0.8M336.1 317.5h0.8M372.3 318.6h0.8M282.9 314h0.8M397.5 320.7h0.8M294.2 316.1h0.8M369 319.6h0.8M349.4 317.5h0.8M315.1 317.5h0.8M317.9 318.1h0.8M318.8 319.7h0.8M282.5 315.9h0.8M402.9 319.2h0.8M462.5 320.3h0.8M340 324.7h0.8M435.3 317h0.8M336.3 319.9h0.8M310.3 316.4h0.8M454 322.8h0.8M362.8 319h0.8M452.3 320.4h0.8M380.7 315.3h0.8M367.6 315.6h0.8M379.1 322.1h0.8M453.7 326.4h0.8M330.7 316.7h0.8M293.4 313.5h0.8M404.8 322.7h0.8M333.7 320.5h0.8M319.1 318.6h0.8M449.6 319.8h0.8M368.6 319.7h0.8M456.5 319.7h0.8M408.9 318.6h0.8M398.3 322.2h0.8M464.1 316.6h0.8M298.9 312.5h0.8M373.7 318.6h0.8M372.5 321.1h0.8M467.9 317.5h0.8M408 317.3h0.8M382.2 311.3h0.8M298.2 314.2h0.8M283.9 316.8h0.8M322.2 315.3h0.8M288.6 314.8h0.8M312.6 319.9h0.8M332.3 322.3h0.8M320.7 319.5h0.8M368.4 318h0.8M350.3 318.5h0.8M413.5 319.3h0.8M423.6 321.3h0.8M307.3 313.1h0.8M399.8 316.1h0.8M441.3 317.3h0.8M390.8 322.2h0.8M353.9 318.1h0.8M365.9 318h0.8M422 321h0.8M319.6 314.7h0.8M368.4 315h0.8M288.7 312.7h0.8M431.5 321h0.8M294.2 318.3h0.8M457.5 319.4h0.8M356.2 318.3h0.8M347.5 320.7h0.8M388.3 318.2h0.8M458.2 317.1h0.8M310.1 315.3h0.8M399.2 320.5h0.8M431.8 320.5h0.8M323.9 316.9h0.8M371.9 318.2h0.8M434.7 325.6h0.8M349.1 315h0.8M325 323.5h0.8M328.8 323.1h0.8M294.8 312.4h0.8M452.7 320.4h0.8M379.8 315.7h0.8M292.8 319.2h0.8M340.6 318.9h0.8M326.9 319.7h0.8M474.5 317.2h0.8M340.2 322h0.8M302.2 318h0.8M474.1 316h0.8M371.5 315.3h0.8M449.9 323.4h0.8M465 323.3h0.8M457 323.6h0.8M465.6 319.6h0.8M379.6 315.9h0.8M378.1 317.2h0.8M284.2 310.8h0.8M476.6 320.6h0.8M454 317h0.8M447.6 317.3h0.8M314.2 313.6h0.8M402.1 319h0.8M392.8 322.1h0.8M356.4 319.4h0.8M299.2 321.3h0.8M352.8 318.4h0.8M419.6 322.1h0.8M403.1 320.4h0.8M383.7 317h0.8M377.3 317.6h0.8M346.4 313.9h0.8M284.3 315.8h0.8M325.6 317.7h0.8M478.9 320.2h0.8M315.6 317.6h0.8M298.4 311.3h0.8M311 315.4h0.8M431.1 323.4h0.8M364.4 317.6h0.8M445.2 321.2h0.8M330.9 321.3h0.8M287.4 319.7h0.8M326.2 317.5h0.8M298.8 315.1h0.8M336.2 313.9h0.8M305 318.6h0.8M285.2 316.4h0.8M291.8 317.8h0.8M392.1 316.5h0.8M352.7 320.7h0.8M362 314.3h0.8M427.5 318.1h0.8M453.3 325.7h0.8M464.7 320.4h0.8M312.3 314.1h0.8M455.7 320.9h0.8M300.7 314.2h0.8M319.9 324.9h0.8M392.5 317.8h0.8M308.7 316.6h0.8M326.2 320.2h0.8M339.7 321.5h0.8M323.7 315.1h0.8M445.2 321.2h0.8M385.7 321.4h0.8M396.1 325.2h0.8M427.5 319.5h0.8M286.6 320h0.8M325.1 317.9h0.8M345.6 317.4h0.8M408.4 320.5h0.8M358.8 317.4h0.8M377.4 318.8h0.8M379.9 312.6h0.8M311.2 315.9h0.8M479 320.6h0.8M465 318.6h0.8M436.5 327.5h0.8M423.4 315.6h0.8M384.5 317.3h0.8M388.4 315.7h0.8M395.6 320.1h0.8M459.4 326.8h0.8M387.1 322.5h0.8M470.3 321.7h0.8M432.1 321.6h0.8M400.2 321.8h0.8M372.1 318.7h0.8M473.4 318.9h0.8M364.1 319.3h0.8M416.3 317h0.8M354.4 320h0.8M413 320.1h0.8M335.4 316.3h0.8M471 315h0.8M441.3 321.5h0.8M469 314.4h0.8M391.7 319.2h0.8M371.6 316.8h0.8M408.8 318.9h0.8M444.8 318.4h0.8M376.7 318.5h0.8M420 319.5h0.8M303.8 317.7h0.8M468.5 318.3h0.8M467.8 318.3h0.8M368.7 321.9h0.8M381.8 321.4h0.8M357.9 325.3h0.8M412.1 319.6h0.8M448.8 317.2h0.8M349.1 317.3h0.8M403.7 318.7h0.8M416.6 316.4h0.8M389.8 316.7h0.8M367.7 319.2h0.8M354.2 320.8h0.8M319.4 318.3h0.8M411.3 319.2h0.8M415.9 316.7h0.8M451.2 320.6h0.8M341.3 321.1h0.8M439.1 319.9h0.8M449.6 320.4h0.8M457.2 322.3h0.8M291.8 313.1h0.8M479.2 324.4h0.8M336.3 321.1h0.8M288.2 315.6h0.8M372.8 313.5h0.8M348.5 315.2h0.8M318.2 322.4h0.8M314.3 320.3h0.8M305.6 316.3h0.8M406.4 317.7h0.8M306.8 314.6h0.8M417.1 319.7h0.8M331.5 323.6h0.8M418.6 319.3h0.8M415.2 321.9h0.8M407.5 322.9h0.8M314 319.7h0.8M426.2 320.8h0.8M351.5 318.1h0.8M347.6 318.7h0.8M340.1 316.7h0.8M456.9 318.8h0.8M293.2 319.4h0.8M337.5 322.9h0.8M459.1 319.4h0.8M369.2 313.5h0.8M333.7 317h0.8M420.4 315.5h0.8M438.1 319.7h0.8M353.1 315.8h0.8M439.9 319.8h0.8M327.6 321h0.8M306.8 316.7h0.8M328.6 318.3h0.8M367.7 317.3h0.8M315.9 317.2h0.8M366.2 320.1h0.8M303.1 319.3h0.8M447.8 315.7h0.8M459.3 317.3h0.8M462.1 316.5h0.8M324.4 324.1h0.8M481.2 315.8h0.8M355.2 317.8h0.8M424 323h0.8M465.5 316h0.8M395.6 320.3h0.8M379.6 317.6h0.8M422.2 320.7h0.8M467.3 320.5h0.8M415.2 323.6h0.8M372.7 315.3h0.8M388.7 315.5h0.8M417.7 323.8h0.8M442.3 319.9h0.8M343.6 317.9h0.8M367.6 316.3h0.8M428.9 320.9h0.8M394.9 318.1h0.8M454.6 319.6h0.8M375.5 317.1h0.8M289.6 318.5h0.8M428.8 319.9h0.8M292.2 323.1h0.8M359.8 313.3h0.8M293.7 322h0.8M476.4 319.7h0.8M348.6 323.5h0.8M464.7 317.1h0.8M439.6 319.8h0.8M427.3 321.9h0.8M374.6 321.5h0.8M376.3 318h0.8M424 318.9h0.8M384.6 321.2h0.8M350 319.9h0.8M311.1 314.6h0.8M397.8 319.5h0.8M331.9 319.8h0.8M460.7 316.6h0.8M283.1 320.3h0.8M431.2 320.5h0.8M369.7 316h0.8M401.1 318.8h0.8M303 321.2h0.8M394.8 320.9h0.8M382.8 319.3h0.8M461.1 319.3h0.8M330.9 322.4h0.8M434.8 317h0.8M471.5 319.2h0.8M284 312.1h0.8M463.3 317.3h0.8M423.3 322.4h0.8M382.6 317h0.8M372 317h0.8M401.6 321.1h0.8M313.1 315h0.8M356.7 321h0.8M330 318.5h0.8M355.6 320.8h0.8M309.2 318.7h0.8M312.6 322.1h0.8M471.7 317.9h0.8M351.3 318.2h0.8M369.5 316.5h0.8M382.2 311.5h0.8M452.3 321.6h0.8M283.6 314h0.8M314.7 315.6h0.8M406.4 316.4h0.8M363.1 322.5h0.8M367 322.1h0.8M322.4 319.7h0.8M454.1 319.8h0.8M457.5 318.8h0.8M409.3 315.7h0.8M434.6 317.8h0.8M414.6 320.7h0.8M298.6 318.3h0.8M332.1 326.2h0.8M418.9 318.5h0.8M438.9 324.1h0.8M304.6 314.9h0.8M457.1 319.3h0.8M431 321.5h0.8M474 318.2h0.8M339.9 324h0.8M474.6 318.9h0.8M400.1 326h0.8M283.6 315.4h0.8M318.9 322.4h0.8M424.5 320.9h0.8M328.6 322.5h0.8M416.8 317.6h0.8M304.9 317.3h0.8M391.3 315.7h0.8M390.5 316.2h0.8M420.9 326h0.8M399.5 320h0.8M387.2 319.7h0.8M315.8 321.7h0.8M396.6 317.3h0.8M423.1 318.2h0.8M412.1 320.3h0.8M290.8 317.1h0.8M328.2 318h0.8M378.5 317.4h0.8M405.9 319.1h0.8M405.2 326h0.8M307.9 317.6h0.8M451.8 321.4h0.8M474.6 319.4h0.8M394.9 317.7h0.8M305.2 316.8h0.8M314.3 317.2h0.8M402.5 318.5h0.8M402.6 320.4h0.8M438.6 319.8h0.8M336.4 318.4h0.8M345.8 323.5h0.8M399 320.3h0.8M462.2 320.1h0.8M302.5 317.1h0.8M451.6 317.3h0.8M410.7 318.3h0.8M292 324.1h0.8M401.5 322.3h0.8M342.2 319h0.8M460.7 320h0.8M341 318.1h0.8M299.9 318.1h0.8M445.9 320.2h0.8M402.4 321.5h0.8M293.5 315h0.8M347.4 319.5h0.8M321.9 324.4h0.8M296.3 319.5h0.8M292 314.9h0.8M449.2 321.8h0.8M336.6 319.1h0.8M411.6 321.8h0.8M366 316.7h0.8M313.4 313.2h0.8M476.9 314.2h0.8M422.2 318.1h0.8M335.9 317.7h0.8M437.7 322h0.8M324.9 319.4h0.8M405.7 318.6h0.8M385.2 316.9h0.8M469 319.3h0.8M308.5 317.1h0.8M451.3 319.3h0.8M481.5 317.6h0.8M428.3 318.4h0.8M396.2 320.2h0.8M320.9 318.1h0.8M428.3 319.2h0.8M403.2 318.7h0.8M342.6 316.7h0.8M478.4 321.8h0.8M390.2 317.9h0.8M437.1 324.4h0.8M373.6 318.8h0.8M366.7 315.4h0.8M402.6 321.5h0.8M452 320h0.8M365.7 319.1h0.8M442.3 321.6h0.8M301.2 314.6h0.8M316.1 318h0.8M389 318.6h0.8M394 317.5h0.8M443 319.1h0.8M477.8 322h0.8M373.8 321.4h0.8M302.7 318.3h0.8M398.9 325.1h0.8M441.4 321.8h0.8M406.9 323.3h0.8M319.2 322.2h0.8M379.2 315.8h0.8M349 319.8h0.8M348.6 315.9h0.8M448.9 324.6h0.8M289.9 313.4h0.8M390.4 321.9h0.8M308 320.7h0.8M351.2 315.3h0.8M403.5 318.9h0.8M419.1 321h0.8M287.6 313.9h0.8M458.1 318.5h0.8M389.4 319.2h0.8M287.1 317.2h0.8M422.7 324.2h0.8M328.1 318.6h0.8M376.7 319.8h0.8M422.9 323.9h0.8M407.5 322.3h0.8M377.8 317.1h0.8M377.4 317.2h0.8M338.1 319h0.8M352.4 319.4h0.8M443.2 320h0.8M325.3 314.2h0.8M323.8 314.3h0.8M302 316.5h0.8M322.2 316.4h0.8M297.2 315.5h0.8M473.1 317.5h0.8M346.9 319.6h0.8M422.4 322.2h0.8M288.3 313h0.8M354.7 320.6h0.8M471.8 322.1h0.8M291.9 315.7h0.8M342.9 319.9h0.8M362.3 321.9h0.8M339.5 324.9h0.8M470.5 317.3h0.8M449.9 318.9h0.8M289.2 316.6h0.8M391.3 319.9h0.8M311.1 315.5h0.8M391.6 316.2h0.8M481.2 322.4h0.8M367.3 317.3h0.8M404.2 320.1h0.8M409 319.1h0.8M416.3 318h0.8M317.8 319.2h0.8M395 317.8h0.8M426.1 319.2h0.8M456.7 320.2h0.8M403.6 321.7h0.8M478.3 319.6h0.8M438.3 319.3h0.8M455.6 321h0.8M432.4 320.6h0.8M379.1 316.2h0.8M312.2 317.1h0.8M307.6 313.6h0.8M283.6 321.5h0.8M371.2 319.5h0.8M314.4 318.2h0.8M297.3 315.8h0.8M449.3 318.8h0.8M424.9 322.8h0.8M448.2 318.4h0.8M315.1 319.3h0.8M376.4 319h0.8M446.3 317.6h0.8M349 315.6h0.8M334.4 323.2h0.8M340.3 322.5h0.8M391.3 318.4h0.8M448.3 318.6h0.8M367.6 318.3h0.8M290.9 314h0.8M445.3 321.3h0.8M428.7 320.6h0.8M300.2 319.2h0.8M334.7 319.5h0.8M387.9 313.5h0.8M326.1 318.3h0.8M294.4 314.1h0.8M457.2 322.2h0.8M444.2 318.4h0.8M434.1 317.6h0.8M414 322h0.8M364.4 315.4h0.8M381.1 320.6h0.8M388 320.3h0.8M334.3 323h0.8M329.1 322.7h0.8M308.6 313h0.8M463.8 319.5h0.8M360.2 318.6h0.8M303.7 317.3h0.8M433.1 317.1h0.8M421.7 323.3h0.8M366.9 316.2h0.8M426.9 323.8h0.8M454.2 317.5h0.8M456.7 323.9h0.8M450.4 320.2h0.8M435 317.1h0.8M309.6 319.5h0.8M384.3 318.5h0.8M408.7 317.7h0.8M457.3 318.8h0.8M342.1 319.4h0.8M397.5 319.9h0.8M336.8 318.5h0.8M306.1 320.2h0.8M401.1 318.9h0.8M431.7 324.8h0.8M422 320.5h0.8" stroke="#00f" stroke-width="0.8" fill="none"/></g><g clip-path="url(#c8)"><path d="M378.5 382.1h0.7M359.1 351.1h0.7M306.3 408.7h0.7M359 374.2h0.7M356.9 407h0.7M375.4 420.1h0.7M318.3 357.8h0.7M357 396.5h0.7M374.5 431.5h0.7M321.1 407.9h0.7M355.6 434.8h0.7M442 416.2h0.7M307.8 428.5h0.7M329.1 370.1h0.7M360.1 429.6h0.7M342.6 373.4h0.7M407.4 371h0.7M309.9 429.2h0.7M369.8 401.3h0.7M378.3 359.2h0.7M301.7 388.7h0.7M443.4 384.9h0.7M410.3 437.6h0.7M409.5 408.5h0.7M478.5 386.6h0.7M349.5 430.3h0.7M363.9 345.9h0.7M475.1 360.2h0.7M479.6 366.6h0.7M318.9 422.6h0.7M356.6 368.3h0.7M476.5 395h0.7M288.1 388.7h0.7M323.3 374.9h0.7M437.1 433.5h0.7M334.9 397.3h0.7M331.5 362.4h0.7M388.5 413h0.7M313.5 417.7h0.7M399.5 400.8h0.7M451.8 395.5h0.7M403 375.1h0.7M292.7 390.2h0.7M362.3 406.5h0.7M323 430.7h0.7M438.9 388.8h0.7M282.5 397.7h0.7M431.6 427.6h0.7M401.2 360.9h0.7M443.6 431.4h0.7M479.1 437.7h0.7M389.9 430.5h0.7M405.2 436.9h0.7M362.6 437.6h0.7M371.1 391.6h0.7M427.7 367.6h0.7M363.7 385.9h0.7M435.8 405.1h0.7M283.9 369.7h0.7M304.6 401.7h0.7M309.8 370.7h0.7M436.3 378.8h0.7M468.4 424h0.7M371.9 354.7h0.7M351.9 375.4h0.7M391.6 372.5h0.7M459.5 383.7h0.7M360.9 436.4h0.7M457.7 421.4h0.7M293.9 434.4h0.7M458.5 378.1h0.7M374.8 424.4h0.7M421.7 360.3h0.7M306.4 406.7h0.7M331.2 430.9h0.7M319.9 384.9h0.7M313.3 430.1h0.7M392.3 398.2h0.7M393.4 389.2h0.7M333.3 409.9h0.7M290.1 353.1h0.7M293 371h0.7M455.6 411.9h0.7M295.7 381.7h0.7M480.2 427.7h0.7M293.4 347.5h0.7M469 373.6h0.7M360.9 366.1h0.7M399 390.4h0.7M375.7 426.4h0.7M421.1 353.7h0.7M362.2 385.4h0.7M335.2 385.1h0.7M329.9 417.5h0.7M369.1 398.2h0.7M438.6 344h0.7M456.5 415.9h0.7M289.3 411.4h0.7M332.2 436.8h0.7M363.6 359h0.7M436.2 369.4h0.7M398.3 362.5h0.7M332.4 347h0.7M367.7 435.4h0.7M460.4 365h0.7M392.6 380.4h0.7M348 348.4h0.7M476.4 343.1h0.7M290.5 393.9h0.7M439.3 422.8h0.7M300.8 366.1h0.7M380.3 347.8h0.7M427.3 386.1h0.7M391.8 429.7h0.7M287.8 399.2h0.7M398.2 389.1h0.7M465.5 405.6h0.7M298 436.8h0.7M478 354.2h0.7M479.5 360.3h0.7M307.9 421.9h0.7M339.9 400.9h0.7M398 410.4h0.7M302.6 343.7h0.7M442.6 345.6h0.7M371.3 375.1h0.7M328.3 387.7h0.7M425.8 424h0.7M442.6 379.6h0.7M376.3 395.3h0.7M307.1 430.2h0.7M442.5 343.7h0.7M318.3 346.4h0.7M435.9 389.7h0.7M335.3 438.5h0.7M417.4 380.2h0.7M320.6 430.7h0.7M416.9 409.8h0.7M406.2 369.9h0.7M331 428.5h0.7M353.4 384.5h0.7M451.5 347.3h0.7M364.3 417.8h0.7M421.1 430.1h0.7M398 434.7h0.7M351.5 437.8h0.7M408.4 428.2h0.7M419 352.4h0.7M310 420.8h0.7M455.2 358.6h0.7M458.1 363.3h0.7M476.6 348.1h0.7M306.4 350h0.7M446.1 405.2h0.7M389.4 409.6h0.7M324.8 390.2h0.7M428.8 344.6h0.7M298.5 431.7h0.7M391.7 422.8h0.7M356.9 431.3h0.7M351.8 385.6h0.7M323.9 375.8h0.7M441.5 357h0.7M325.8 355.4h0.7M353.2 410h0.7M468.9 413.5h0.7M364.9 400.7h0.7M387.8 420.1h0.7M367.9 374.2h0.7M309 351.7h0.7M403.3 345.3h0.7M371.4 376.3h0.7M359.5 431.3h0.7M422.2 376.8h0.7M329.9 415.2h0.7M439.3 395.8h0.7M433.3 376.8h0.7M303.2 406.4h0.7M357.8 381h0.7M354.5 416.1h0.7M290.7 432h0.7M466.6 397.7h0.7M289.7 420.8h0.7M418.8 426.3h0.7M348.2 401.6h0.7M371.3 429h0.7M373.9 398h0.7M318.1 373.5h0.7M476.9 403.8h0.7M408.5 358.5h0.7M442.7 436.1h0.7M425.7 413.3h0.7M312.6 376.2h0.7M284.3 390.1h0.7M439.6 353.6h0.7M421.8 372.9h0.7M457.7 393h0.7M454.3 340.4h0.7M290.6 409.7h0.7M406.4 377.5h0.7M401.1 384.1h0.7M480 398h0.7M417.1 397.8h0.7M291.8 354.5h0.7M338.1 365.8h0.7M371.1 382.4h0.7M361.7 363.2h0.7M460.5 426.3h0.7M307.8 430h0.7M411.9 430.9h0.7M439.9 393.3h0.7M375 384.4h0.7M314.2 432.8h0.7M373.5 354.9h0.7M292.9 342.5h0.7M474.8 405.9h0.7M407.4 351.3h0.7M427.3 349.4h0.7M369.6 422.9h0.7M324.3 386.6h0.7M353.1 401.2h0.7M354.8 370.1h0.7M338.2 383.7h0.7M372.6 376.5h0.7M434.4 343h0.7M445.4 389.4h0.7M418.4 347.7h0.7M342.9 379.3h0.7M446.5 360h0.7M370.3 387.2h0.7M288.8 366.9h0.7M456.7 366.7h0.7M427.6 417.1h0.7M390.5 377.5h0.7M291.6 340.6h0.7M365.4 428.8h0.7M449 385h0.7M351.6 361h0.7M353 353.3h0.7M409.2 345h0.7M305.1 378.8h0.7M457.9 374.5h0.7M361.2 405.8h0.7M450.1 438.4h0.7M333.8 423.9h0.7M308.8 412.7h0.7M293.8 411h0.7M408 401.2h0.7M333.4 367.7h0.7M359.4 348.9h0.7M412.6 401.5h0.7M449.1 369.5h0.7M425.2 416.9h0.7M337.4 416.6h0.7M383.6 346.3h0.7M372.6 404.4h0.7M317.3 400.3h0.7M432.9 379.1h0.7M412.5 389h0.7M458.6 378.8h0.7M300.4 425.3h0.7M419.4 356.4h0.7M344.8 382.7h0.7M291.3 436.8h0.7M357.6 389.9h0.7M321.7 399.9h0.7M415.3 408.4h0.7M446.5 380.4h0.7M481 348.5h0.7M439.9 379.4h0.7M285 360.3h0.7M351.3 372.1h0.7M433.8 353.9h0.7M378.3 355.1h0.7M471.8 416.4h0.7M316 412.8h0.7M409.7 345h0.7M461.8 394.1h0.7M390.8 366.9h0.7M306.2 354.8h0.7M398.4 359.5h0.7M351.9 405.2h0.7M479.9 372.4h0.7M334.2 398.2h0.7M455.2 432.4h0.7M303.8 343.6h0.7M435.3 424.8h0.7M472.7 390.8h0.7M394.4 368.4h0.7M354.1 351.5h0.7M470.3 432.1h0.7M315.9 388.6h0.7M363 356h0.7M367.8 409.9h0.7M467.5 386.5h0.7M401.5 350.1h0.7M476.6 344h0.7M333.4 350.5h0.7M343.2 392h0.7M433.3 406.3h0.7M305.2 403h0.7M315.3 359.3h0.7M319.4 417.1h0.7M480.1 437h0.7M349.4 401.6h0.7M441.6 373.5h0.7M285.8 434h0.7M419.9 365.6h0.7M339 356.1h0.7M410.1 407.2h0.7M473.4 406.9h0.7M303.9 406.2h0.7M420.1 392h0.7M460.9 377.6h0.7M352 353.9h0.7M313.9 357.6h0.7M360.9 368.8h0.7M476.4 394.2h0.7M395.3 438.1h0.7M452 364.5h0.7M429.6 438.3h0.7M402.8 409.8h0.7M385.2 380.4h0.7M313.5 425.7h0.7M413.4 400.3h0.7M322.2 401.9h0.7M448.9 403.3h0.7M381.5 417.1h0.7M347.3 362.5h0.7M375.8 378.5h0.7M292 386.6h0.7M294.4 366h0.7M431.3 405.2h0.7M330.8 399.8h0.7M292.5 390.9h0.7M320.7 411.7h0.7M294.7 407.5h0.7M302 396.9h0.7M471.6 411.2h0.7M285 359.8h0.7M380 372.8h0.7M285.4 363.6h0.7M347 370.1h0.7M361.7 413.3h0.7M452.5 396.6h0.7M418.4 401.5h0.7M342.4 424.5h0.7M437.4 424.4h0.7M321.9 434h0.7M358.5 350.2h0.7M392.9 433.5h0.7M354.9 428.1h0.7M424.7 385h0.7M480.2 365h0.7M308.9 375.7h0.7M372.3 425.1h0.7M345.5 407.5h0.7M293 390.6h0.7M383 385.7h0.7M384.9 349.2h0.7M379.9 402.2h0.7M289 341.3h0.7M349.4 366.1h0.7M309.7 355.1h0.7M310.3 438h0.7M416 411.5h0.7M443.2 368.7h0.7M399.8 368.1h0.7M466.1 427.4h0.7M385.9 390.2h0.7M360.7 369.6h0.7M391.2 341.6h0.7M352 343.3h0.7M416 380.3h0.7M292.3 377.4h0.7M310.7 409.9h0.7M366.6 375.9h0.7M424.6 404.5h0.7M322.7 398.3h0.7M455.1 401.4h0.7M321.5 396.7h0.7M325.2 350.2h0.7M371.8 351h0.7M383.4 408.8h0.7M350.5 373.4h0.7M356.5 365.3h0.7M409.9 363.6h0.7M471.4 342.6h0.7M286.5 428.8h0.7M430.1 418.6h0.7M466.2 364.2h0.7M295.5 352.4h0.7M305.3 426.8h0.7M438.7 404.1h0.7M364.1 432.9h0.7M333.6 435.8h0.7M289.1 434.5h0.7M399.3 357.1h0.7M326.3 425.9h0.7M287.7 372.4h0.7M321.2 366.4h0.7M392.3 413.9h0.7M461.7 390.6h0.7M458 420.1h0.7M319.2 388.7h0.7M353.5 413.1h0.7M421 426.6h0.7M468.8 429.2h0.7M404.5 378.1h0.7M377.6 428.4h0.7M366.6 430.4h0.7M418.9 348.5h0.7M439.7 426.7h0.7M321.5 381.5h0.7M295.6 426.9h0.7M375.1 392.8h0.7M439 392.1h0.7M458.4 415.3h0.7M299.4 372.2h0.7M463.3 378.9h0.7M427.3 387.4h0.7M324.4 356.9h0.7M365.1 430.1h0.7M404.8 392.5h0.7M396.3 351.6h0.7M359.9 375.8h0.7M479.5 388.2h0.7M343.2 381.5h0.7M434.2 360.2h0.7M430.3 372.1h0.7M373.9 383.1h0.7M428 414.5h0.7M321.4 402.6h0.7M314 362h0.7M332.4 380.6h0.7M417 350.5h0.7M367.1 344.2h0.7M321.4 364.1h0.7M412 341.4h0.7M349.7 389.4h0.7M439.8 374.2h0.7M458.9 396.2h0.7M418.3 398.2h0.7M328.7 432.3h0.7M361.2 418.4h0.7M445.1 381.1h0.7M297.1 340.3h0.7M282.6 409.8h0.7M478.8 413.5h0.7M394.3 419h0.7M465 365.1h0.7M468.3 414.8h0.7M295.9 364.8h0.7M356.7 378.4h0.7M310.9 354.8h0.7M347.1 388.4h0.7M405.9 387.1h0.7M300.4 396.4h0.7M343.3 406.3h0.7M298.2 395.9h0.7M451.5 379.3h0.7M377 378.1h0.7M443.8 390.8h0.7M411.3 400.4h0.7M456.6 401.4h0.7M445.9 397.4h0.7M317.5 351.5h0.7M472.6 355.5h0.7M330.4 359.9h0.7M421.5 386.5h0.7M338.3 399.1h0.7M347.4 416.5h0.7M463.8 421.3h0.7M317.6 346.9h0.7M453.2 358.1h0.7M480.3 346.2h0.7M297.4 369h0.7M375.2 345.8h0.7M471.2 360.5h0.7M298.4 379.5h0.7M316.2 344h0.7M444.1 376h0.7M407.8 402.9h0.7M406 399h0.7M298.1 402.4h0.7M420.6 426h0.7M332.3 430.1h0.7M421.5 399.1h0.7M325.2 399.7h0.7M343 373.7h0.7M339.3 358.4h0.7M439.8 345h0.7M462.3 364.7h0.7M321.1 402.8h0.7M446.3 376.3h0.7M311.5 431.1h0.7M363.7 411.2h0.7M469 358.6h0.7M381.9 372.5h0.7M337.9 424.6h0.7" stroke="#d6d6d6" stroke-width="0.7" fill="none"/><path d="M300.5 340.7v5.6M299.7 340.7h1.6M299.7 346.3h1.6M320 367v8M319.2 367h1.6M319.2 375h1.6M325.2 394v9.4M324.4 394h1.6M324.4 403.4h1.6M357.6 393v5M356.8 393h1.6M356.8 398h1.6M365 403.5v6.8M364.2 403.5h1.6M364.2 410.3h1.6M380 415v9M379.2 415h1.6M379.2 424h1.6M388.5 388.5v6M387.7 388.5h1.6M387.7 394.5h1.6M390.3 383.5v6M389.5 383.5h1.6M389.5 389.5h1.6M436.6 379.6v6.8M435.8 379.6h1.6M435.8 386.4h1.6M469.5 361.5v7M468.7 361.5h1.6M468.7 368.5h1.6M473 380.7v9M472.2 380.7h1.6M472.2 389.7h1.6M329.1 380v5.1M328.3 380h1.6M328.3 385.1h1.6M324.8 380v5.9M324 380h1.6M324 385.8h1.6M335.7 382.4v8.4M334.9 382.4h1.6M334.9 390.7h1.6M331.6 383v8.2M330.8 383h1.6M330.8 391.2h1.6M323.5 377.5v8.3M322.7 377.5h1.6M322.7 385.8h1.6M326.2 377.8v6.9M325.4 377.8h1.6M325.4 384.7h1.6M337.9 383v5.6M337.1 383h1.6M337.1 388.6h1.6M323.5 376.6v8.3M322.7 376.6h1.6M322.7 385h1.6M329.1 383.1v5.2M328.3 383.1h1.6M328.3 388.3h1.6M335 377v6.2M334.2 377h1.6M334.2 383.2h1.6M336.2 378.4v6.4M335.4 378.4h1.6M335.4 384.9h1.6M323.5 378.8v8.7M322.7 378.8h1.6M322.7 387.5h1.6M331.7 376.3v8.6M330.9 376.3h1.6M330.9 385h1.6M325.9 383.6v8.1M325.1 383.6h1.6M325.1 391.7h1.6M335.5 371.9v6.9M334.7 371.9h1.6M334.7 378.8h1.6M329 371.7v8.1M328.2 371.7h1.6M328.2 379.8h1.6M337.4 376.6v5.4M336.6 376.6h1.6M336.6 382.1h1.6M330.5 381.4v6.1M329.7 381.4h1.6M329.7 387.5h1.6M328.8 383.8v8.6M328 383.8h1.6M328 392.4h1.6M338.5 377.5v6.7M337.7 377.5h1.6M337.7 384.1h1.6M332 372.4v8.7M331.2 372.4h1.6M331.2 381.1h1.6M333.5 386v7.3M332.7 386h1.6M332.7 393.3h1.6M326.5 382.1v5.3M325.7 382.1h1.6M325.7 387.4h1.6M331 384.3v7.6M330.2 384.3h1.6M330.2 392h1.6M329.8 390.5v5.3M329 390.5h1.6M329 395.8h1.6M325.2 376.8v8M324.4 376.8h1.6M324.4 384.8h1.6M323.9 381v7.9M323.1 381h1.6M323.1 388.9h1.6M338.7 381.4v5.1M337.9 381.4h1.6M337.9 386.5h1.6M330.3 383v8.2M329.5 383h1.6M329.5 391.1h1.6M327.6 387v5.3M326.8 387h1.6M326.8 392.3h1.6M323.5 383.9v7.2M322.7 383.9h1.6M322.7 391.1h1.6M329.9 378.7v7.3M329.1 378.7h1.6M329.1 386h1.6M326.2 378.9v7.2M325.4 378.9h1.6M325.4 386.1h1.6M328.9 383.1v7.4M328.1 383.1h1.6M328.1 390.5h1.6M331.8 374.9v7.3M331 374.9h1.6M331 382.2h1.6M331.9 374.4v7.2M331.1 374.4h1.6M331.1 381.6h1.6M340.8 380.4v6.8M340 380.4h1.6M340 387.1h1.6M332 378.5v7.6M331.2 378.5h1.6M331.2 386h1.6M335.2 377.8v7.7M334.4 377.8h1.6M334.4 385.5h1.6M333.2 376.2v5.2M332.4 376.2h1.6M332.4 381.4h1.6M338.3 385.3v6M337.5 385.3h1.6M337.5 391.2h1.6M323.5 383.5v7M322.7 383.5h1.6M322.7 390.5h1.6M332.5 381.4v5.4M331.7 381.4h1.6M331.7 386.8h1.6M342 374.1v8.8M341.2 374.1h1.6M341.2 382.8h1.6M337.4 381.1v8.4M336.6 381.1h1.6M336.6 389.5h1.6M323.5 377v5.7M322.7 377h1.6M322.7 382.7h1.6M325.3 384v8.7M324.5 384h1.6M324.5 392.6h1.6M338 377.8v5.2M337.2 377.8h1.6M337.2 383h1.6M330.6 378.3v9M329.8 378.3h1.6M329.8 387.3h1.6M338.3 378.1v8.7M337.5 378.1h1.6M337.5 386.8h1.6M331.4 381.9v6.5M330.6 381.9h1.6M330.6 388.4h1.6M338.6 386.3v8M337.8 386.3h1.6M337.8 394.2h1.6M324.3 377v5.9M323.5 377h1.6M323.5 382.9h1.6M333.1 372.5v7.8M332.3 372.5h1.6M332.3 380.2h1.6M331.5 376.4v6.1M330.7 376.4h1.6M330.7 382.5h1.6M332.4 374.7v8.4M331.6 374.7h1.6M331.6 383.1h1.6M325.7 378.2v7.8M324.9 378.2h1.6M324.9 386h1.6M333.5 374.8v5.1M332.7 374.8h1.6M332.7 379.9h1.6M332.3 371.5v7.9M331.5 371.5h1.6M331.5 379.4h1.6M333.6 384v8.6M332.8 384h1.6M332.8 392.6h1.6M331 376.9v7M330.2 376.9h1.6M330.2 383.9h1.6M333.1 369.9v6.3M332.3 369.9h1.6M332.3 376.2h1.6M335.7 379.5v5.4M334.9 379.5h1.6M334.9 384.9h1.6M334.4 383.1v8.9M333.6 383.1h1.6M333.6 392h1.6M338.6 376.7v6.1M337.8 376.7h1.6M337.8 382.8h1.6M333 384.8v6.3M332.2 384.8h1.6M332.2 391.1h1.6M332.3 374.6v5.5M331.5 374.6h1.6M331.5 380.1h1.6M334.3 384.2v7.4M333.5 384.2h1.6M333.5 391.6h1.6M335.1 383.4v8.9M334.3 383.4h1.6M334.3 392.3h1.6M341.5 383.7v6.1M340.7 383.7h1.6M340.7 389.8h1.6M324.5 374.8v7.8M323.7 374.8h1.6M323.7 382.6h1.6M328.3 383.5v7.4M327.5 383.5h1.6M327.5 390.8h1.6M333.9 374.8v7.4M333.1 374.8h1.6M333.1 382.2h1.6M329.2 373.2v7.6M328.4 373.2h1.6M328.4 380.7h1.6M324.7 383.9v8.2M323.9 383.9h1.6M323.9 392.1h1.6M330.5 385.5v5.8M329.7 385.5h1.6M329.7 391.4h1.6M330.1 385.6v6.6M329.3 385.6h1.6M329.3 392.2h1.6M336.3 386.2v5.4M335.5 386.2h1.6M335.5 391.7h1.6M335 384.3v6.2M334.2 384.3h1.6M334.2 390.5h1.6M334.8 375.6v6M334 375.6h1.6M334 381.6h1.6M323.7 381.9v6.7M322.9 381.9h1.6M322.9 388.6h1.6M334.8 381.5v6.4M334 381.5h1.6M334 387.9h1.6M338 371.7v5.2M337.2 371.7h1.6M337.2 376.9h1.6M323.5 371.6v8.6M322.7 371.6h1.6M322.7 380.3h1.6M336.1 376.4v7.4M335.3 376.4h1.6M335.3 383.8h1.6M341.4 380.8v8.2M340.6 380.8h1.6M340.6 389h1.6M342 378v6.8M341.2 378h1.6M341.2 384.8h1.6M334.4 383.3v8.9M333.6 383.3h1.6M333.6 392.2h1.6M325 375.6v8.4M324.2 375.6h1.6M324.2 384h1.6M330 379.4v6.6M329.2 379.4h1.6M329.2 386h1.6M332.1 381.7v6.7M331.3 381.7h1.6M331.3 388.4h1.6M325.5 382v8.6M324.7 382h1.6M324.7 390.6h1.6M332.2 377.9v5.5M331.4 377.9h1.6M331.4 383.3h1.6M329.5 380.9v7.1M328.7 380.9h1.6M328.7 388h1.6M329.2 387.1v5.4M328.4 387.1h1.6M328.4 392.5h1.6M332.9 367.3v7.3M332.1 367.3h1.6M332.1 374.6h1.6M330.1 366.1v6.9M329.3 366.1h1.6M329.3 373.1h1.6M334.9 366.7v6.3M334.1 366.7h1.6M334.1 373h1.6M345.5 361.9v7.8M344.7 361.9h1.6M344.7 369.6h1.6M331.4 365.1v7.5M330.6 365.1h1.6M330.6 372.7h1.6M343.2 361.5v7.2M342.4 361.5h1.6M342.4 368.6h1.6M329.5 363.4v7.1M328.7 363.4h1.6M328.7 370.5h1.6M329.6 366.4v7.3M328.8 366.4h1.6M328.8 373.7h1.6M339.9 366.7v6.7M339.1 366.7h1.6M339.1 373.5h1.6M336.5 366.8v6.3M335.7 366.8h1.6M335.7 373h1.6M345.7 377.6v7.5M344.9 377.6h1.6M344.9 385.1h1.6M358.7 371.8v9.1M357.9 371.8h1.6M357.9 381h1.6M352.8 369.5v8.6M352 369.5h1.6M352 378.1h1.6M343.7 373.8v8.3M342.9 373.8h1.6M342.9 382h1.6M351.1 370.7v9.8M350.3 370.7h1.6M350.3 380.5h1.6M356.5 374.2v7.7M355.7 374.2h1.6M355.7 381.8h1.6M358.1 370.3v7.4M357.3 370.3h1.6M357.3 377.7h1.6M344.4 375.2v9.9M343.6 375.2h1.6M343.6 385.1h1.6M350.3 372.4v7.5M349.5 372.4h1.6M349.5 379.9h1.6M345.1 380.4v6.7M344.3 380.4h1.6M344.3 387.1h1.6M351.7 381.4v9.1M350.9 381.4h1.6M350.9 390.6h1.6M346.1 371.6v5.2M345.3 371.6h1.6M345.3 376.8h1.6M344.7 372.2v8.8M343.9 372.2h1.6M343.9 381h1.6M343.3 380.2v9.3M342.5 380.2h1.6M342.5 389.5h1.6M354.6 386.7v8.2M353.8 386.7h1.6M353.8 394.9h1.6M355.5 377.3v6.1M354.7 377.3h1.6M354.7 383.4h1.6M358.8 376.9v6M358 376.9h1.6M358 382.9h1.6M344.8 375.5v5.2M344 375.5h1.6M344 380.6h1.6M351.4 373.3v8.2M350.6 373.3h1.6M350.6 381.5h1.6M347 372.6v9.3M346.2 372.6h1.6M346.2 381.9h1.6M350.6 384.4v8.6M349.8 384.4h1.6M349.8 393.1h1.6M354.6 378.8v5.7M353.8 378.8h1.6M353.8 384.5h1.6M349 382.7v8.5M348.2 382.7h1.6M348.2 391.2h1.6M354.3 371.8v8.2M353.5 371.8h1.6M353.5 380h1.6M354.3 377.8v5.2M353.5 377.8h1.6M353.5 383h1.6M354.1 362.4v9.7M353.3 362.4h1.6M353.3 372.1h1.6M356 374.2v8.9M355.2 374.2h1.6M355.2 383.1h1.6M359.7 372.6v8.4M358.9 372.6h1.6M358.9 381h1.6M325 395.7v9M324.2 395.7h1.6M324.2 404.7h1.6M341.3 387.8v5.2M340.5 387.8h1.6M340.5 393h1.6M359.3 378v8M358.5 378h1.6M358.5 386h1.6M401.4 374.8v6.9M400.6 374.8h1.6M400.6 381.7h1.6M408 368.9v5.6M407.2 368.9h1.6M407.2 374.5h1.6M416.2 354.6v8.6M415.4 354.6h1.6M415.4 363.2h1.6M432.5 367.6v7.1M431.7 367.6h1.6M431.7 374.7h1.6M405.1 369.5v5.2M404.3 369.5h1.6M404.3 374.7h1.6M428.5 364.9v7.4M427.7 364.9h1.6M427.7 372.3h1.6M402.3 373.1v5.9M401.5 373.1h1.6M401.5 379h1.6M427.9 370.5v5.3M427.1 370.5h1.6M427.1 375.8h1.6M412.7 373.7v5.8M411.9 373.7h1.6M411.9 379.5h1.6M413.4 368.1v8.1M412.6 368.1h1.6M412.6 376.2h1.6M397 368.8v5.3M396.2 368.8h1.6M396.2 374.1h1.6M398.1 361.7v7.3M397.3 361.7h1.6M397.3 369h1.6M419.7 381.6v7.5M418.9 381.6h1.6M418.9 389.1h1.6M410.4 379.1v5.8M409.6 379.1h1.6M409.6 384.9h1.6M417.6 369v5.9M416.8 369h1.6M416.8 374.9h1.6M426.5 360.9v8.4M425.7 360.9h1.6M425.7 369.3h1.6M400 366.9v6.3M399.2 366.9h1.6M399.2 373.2h1.6M400.1 359.2v7.8M399.3 359.2h1.6M399.3 367h1.6M433.4 366.9v8.2M432.6 366.9h1.6M432.6 375.1h1.6M406.4 356.6v8M405.6 356.6h1.6M405.6 364.6h1.6M411.7 365.7v6.1M410.9 365.7h1.6M410.9 371.8h1.6M414.9 364.6v7.6M414.1 364.6h1.6M414.1 372.1h1.6M429.1 370.1v5.3M428.3 370.1h1.6M428.3 375.4h1.6M432.9 362.4v7.6M432.1 362.4h1.6M432.1 370h1.6M428.1 374.1v5.3M427.3 374.1h1.6M427.3 379.4h1.6M426.9 370.6v6.4M426.1 370.6h1.6M426.1 377h1.6M405.5 366.4v8.8M404.7 366.4h1.6M404.7 375.1h1.6M420.3 363.4v7.3M419.5 363.4h1.6M419.5 370.7h1.6M417.6 370.7v5.9M416.8 370.7h1.6M416.8 376.6h1.6M409.3 362.8v5.4M408.5 362.8h1.6M408.5 368.2h1.6M426.3 371.6v8.4M425.5 371.6h1.6M425.5 380h1.6M408.6 357.6v8.6M407.8 357.6h1.6M407.8 366.2h1.6M403.4 371.5v6.8M402.6 371.5h1.6M402.6 378.3h1.6M418.6 361.2v5.3M417.8 361.2h1.6M417.8 366.5h1.6M401 365.7v9M400.2 365.7h1.6M400.2 374.7h1.6M430.8 369.9v6.3M430 369.9h1.6M430 376.2h1.6M399.4 373.9v5.7M398.6 373.9h1.6M398.6 379.7h1.6M420.2 363.8v6.8M419.4 363.8h1.6M419.4 370.6h1.6M417.3 363.3v8.1M416.5 363.3h1.6M416.5 371.4h1.6M420.4 368.4v6M419.6 368.4h1.6M419.6 374.4h1.6M404.2 359.5v6.2M403.4 359.5h1.6M403.4 365.8h1.6M432.6 375v7.4M431.8 375h1.6M431.8 382.4h1.6M419.6 355.9v6.9M418.8 355.9h1.6M418.8 362.8h1.6M430.3 373.7v6.5M429.5 373.7h1.6M429.5 380.2h1.6M418.2 371.3v8.7M417.4 371.3h1.6M417.4 380h1.6M418.6 370.3v7.8M417.8 370.3h1.6M417.8 378.1h1.6M430.8 370.6v8.4M430 370.6h1.6M430 379.1h1.6M430 366.3v7.2M429.2 366.3h1.6M429.2 373.4h1.6M431.6 355.5v8.9M430.8 355.5h1.6M430.8 364.4h1.6M403.5 362.8v8.5M402.7 362.8h1.6M402.7 371.3h1.6M417 378.4v6.7M416.2 378.4h1.6M416.2 385.1h1.6M413.9 377v6.2M413.1 377h1.6M413.1 383.3h1.6M423.3 358.2v8.5M422.5 358.2h1.6M422.5 366.7h1.6M396.8 373.1v7.8M396 373.1h1.6M396 380.9h1.6M398.6 374.6v7.8M397.8 374.6h1.6M397.8 382.4h1.6M427.2 364.7v7.9M426.4 364.7h1.6M426.4 372.5h1.6M423.3 372v8.6M422.5 372h1.6M422.5 380.6h1.6M400.7 362.5v7.7M399.9 362.5h1.6M399.9 370.2h1.6M421.6 365.5v5.2M420.8 365.5h1.6M420.8 370.7h1.6M430.8 369.8v5.4M430 369.8h1.6M430 375.2h1.6M417.1 373.2v9M416.3 373.2h1.6M416.3 382.2h1.6M425.9 367.5v6.6M425.1 367.5h1.6M425.1 374.2h1.6M431.1 364v7.8M430.3 364h1.6M430.3 371.8h1.6M396.4 371.8v5.2M395.6 371.8h1.6M395.6 377h1.6M405 361.9v8.9M404.2 361.9h1.6M404.2 370.8h1.6M402.2 369.4v6M401.4 369.4h1.6M401.4 375.3h1.6M428.3 368.2v8.7M427.5 368.2h1.6M427.5 376.8h1.6M397.5 371.1v5.6M396.7 371.1h1.6M396.7 376.8h1.6M399.1 373.1v8.6M398.3 373.1h1.6M398.3 381.7h1.6M417.1 371.4v6.5M416.3 371.4h1.6M416.3 377.9h1.6M419.7 358.3v5.3M418.9 358.3h1.6M418.9 363.7h1.6M403.5 370.5v5.4M402.7 370.5h1.6M402.7 375.9h1.6M399.5 368.3v6.5M398.7 368.3h1.6M398.7 374.8h1.6M427.6 367.2v5.2M426.8 367.2h1.6M426.8 372.4h1.6M397.2 377.6v6.3M396.4 377.6h1.6M396.4 384h1.6M428.2 365.4v5.9M427.4 365.4h1.6M427.4 371.3h1.6M397.7 364.1v6.6M396.9 364.1h1.6M396.9 370.8h1.6M403.8 369.6v5.9M403 369.6h1.6M403 375.4h1.6M402.8 370.9v6.9M402 370.9h1.6M402 377.8h1.6M398.3 363.7v5.5M397.5 363.7h1.6M397.5 369.3h1.6M399.4 372.8v8.2M398.6 372.8h1.6M398.6 381h1.6M423.6 370.7v7.5M422.8 370.7h1.6M422.8 378.2h1.6M397.4 358.4v8.1M396.6 358.4h1.6M396.6 366.6h1.6M397.8 365.9v8.6M397 365.9h1.6M397 374.5h1.6M427.5 363.6v6.5M426.7 363.6h1.6M426.7 370.1h1.6M402.3 367v6.6M401.5 367h1.6M401.5 373.6h1.6M407.3 363.1v7.4M406.5 363.1h1.6M406.5 370.5h1.6M407.2 378.2v6.7M406.4 378.2h1.6M406.4 385h1.6M397.2 372v6.1M396.4 372h1.6M396.4 378.1h1.6M426.8 358.9v6M426 358.9h1.6M426 365h1.6M412.8 360.1v7.4M412 360.1h1.6M412 367.5h1.6M397.5 361v5M396.7 361h1.6M396.7 366h1.6M418.2 367.9v8.3M417.4 367.9h1.6M417.4 376.2h1.6M422.5 376.9v5.6M421.7 376.9h1.6M421.7 382.5h1.6M406.2 357.7v8.7M405.4 357.7h1.6M405.4 366.4h1.6M405.1 369v8.7M404.3 369h1.6M404.3 377.7h1.6M415.1 360.8v6.4M414.3 360.8h1.6M414.3 367.2h1.6M414.6 367.4v7.5M413.8 367.4h1.6M413.8 374.9h1.6M423.7 363.5v6.2M422.9 363.5h1.6M422.9 369.7h1.6M416 368.7v8.3M415.2 368.7h1.6M415.2 377h1.6M427.1 363.9v6.1M426.3 363.9h1.6M426.3 370h1.6M426.8 368v6.2M426 368h1.6M426 374.2h1.6M427.5 367v7.4M426.7 367h1.6M426.7 374.4h1.6M427.1 374.2v8.9M426.3 374.2h1.6M426.3 383.1h1.6M428.5 367v6.7M427.7 367h1.6M427.7 373.7h1.6M402.2 371v6.1M401.4 371h1.6M401.4 377.1h1.6M398.8 364.4v7.8M398 364.4h1.6M398 372.2h1.6M421.6 377.3v7.4M420.8 377.3h1.6M420.8 384.6h1.6M422.6 364v5.6M421.8 364h1.6M421.8 369.6h1.6M424.9 368.1v8.2M424.1 368.1h1.6M424.1 376.3h1.6M433.1 370.4v7.2M432.3 370.4h1.6M432.3 377.6h1.6M428.9 357.7v5.8M428.1 357.7h1.6M428.1 363.5h1.6M420.5 367.2v5.9M419.7 367.2h1.6M419.7 373.1h1.6M418.5 370.7v5.1M417.7 370.7h1.6M417.7 375.8h1.6M425 360.2v6.1M424.2 360.2h1.6M424.2 366.4h1.6M421.9 368.4v8.8M421.1 368.4h1.6M421.1 377.2h1.6M403.9 368.6v6.8M403.1 368.6h1.6M403.1 375.4h1.6M415.8 374v7.5M415 374h1.6M415 381.6h1.6M401.1 373.7v6.4M400.3 373.7h1.6M400.3 380.2h1.6M403.2 372.6v7.7M402.4 372.6h1.6M402.4 380.3h1.6M403 351v6M402.2 351h1.6M402.2 357h1.6M409.5 354.5v7M408.7 354.5h1.6M408.7 361.5h1.6M413.5 354v6M412.7 354h1.6M412.7 360h1.6M428 384.5v7M427.2 384.5h1.6M427.2 391.5h1.6" stroke="#f00" stroke-width="0.8" fill="none"/><path d="M299.7 343.5h1.6M319.2 371h1.6M324.4 398.7h1.6M356.8 395.5h1.6M364.2 406.9h1.6M379.2 419.5h1.6M387.7 391.5h1.6M389.5 386.5h1.6M435.8 383h1.6M468.7 365h1.6M472.2 385.2h1.6M328.3 382.6h1.6M324 382.9h1.6M334.9 386.6h1.6M330.8 387.1h1.6M322.7 381.7h1.6M325.4 381.3h1.6M337.1 385.8h1.6M322.7 380.8h1.6M328.3 385.7h1.6M334.2 380.1h1.6M335.4 381.6h1.6M322.7 383.1h1.6M330.9 380.7h1.6M325.1 387.6h1.6M334.7 375.3h1.6M328.2 375.7h1.6M336.6 379.3h1.6M329.7 384.4h1.6M328 388.1h1.6M337.7 380.8h1.6M331.2 376.7h1.6M332.7 389.7h1.6M325.7 384.8h1.6M330.2 388.1h1.6M329 393.1h1.6M324.4 380.8h1.6M323.1 385h1.6M337.9 383.9h1.6M329.5 387h1.6M326.8 389.6h1.6M322.7 387.5h1.6M329.1 382.3h1.6M325.4 382.5h1.6M328.1 386.8h1.6M331 378.6h1.6M331.1 378h1.6M340 383.7h1.6M331.2 382.3h1.6M334.4 381.6h1.6M332.4 378.8h1.6M337.5 388.3h1.6M322.7 387h1.6M331.7 384.1h1.6M341.2 378.5h1.6M336.6 385.3h1.6M322.7 379.9h1.6M324.5 388.3h1.6M337.2 380.4h1.6M329.8 382.8h1.6M337.5 382.4h1.6M330.6 385.1h1.6M337.8 390.2h1.6M323.5 379.9h1.6M332.3 376.4h1.6M330.7 379.5h1.6M331.6 378.9h1.6M324.9 382.1h1.6M332.7 377.3h1.6M331.5 375.4h1.6M332.8 388.3h1.6M330.2 380.4h1.6M332.3 373.1h1.6M334.9 382.2h1.6M333.6 387.6h1.6M337.8 379.8h1.6M332.2 387.9h1.6M331.5 377.3h1.6M333.5 387.9h1.6M334.3 387.9h1.6M340.7 386.7h1.6M323.7 378.7h1.6M327.5 387.1h1.6M333.1 378.5h1.6M328.4 377h1.6M323.9 388h1.6M329.7 388.4h1.6M329.3 388.9h1.6M335.5 389h1.6M334.2 387.4h1.6M334 378.6h1.6M322.9 385.2h1.6M334 384.7h1.6M337.2 374.3h1.6M322.7 376h1.6M335.3 380.1h1.6M340.6 384.9h1.6M341.2 381.4h1.6M333.6 387.7h1.6M324.2 379.8h1.6M329.2 382.7h1.6M331.3 385.1h1.6M324.7 386.3h1.6M331.4 380.6h1.6M328.7 384.5h1.6M328.4 389.8h1.6M332.1 371h1.6M329.3 369.6h1.6M334.1 369.8h1.6M344.7 365.8h1.6M330.6 368.9h1.6M342.4 365.1h1.6M328.7 367h1.6M328.8 370h1.6M339.1 370.1h1.6M335.7 369.9h1.6M344.9 381.4h1.6M357.9 376.4h1.6M352 373.8h1.6M342.9 377.9h1.6M350.3 375.6h1.6M355.7 378h1.6M357.3 374h1.6M343.6 380.1h1.6M349.5 376.2h1.6M344.3 383.8h1.6M350.9 386h1.6M345.3 374.2h1.6M343.9 376.6h1.6M342.5 384.9h1.6M353.8 390.8h1.6M354.7 380.3h1.6M358 379.9h1.6M344 378h1.6M350.6 377.4h1.6M346.2 377.2h1.6M349.8 388.7h1.6M353.8 381.6h1.6M348.2 387h1.6M353.5 375.9h1.6M353.5 380.4h1.6M353.3 367.3h1.6M355.2 378.7h1.6M358.9 376.8h1.6M324.2 400.2h1.6M340.5 390.4h1.6M358.5 382h1.6M400.6 378.3h1.6M407.2 371.7h1.6M415.4 358.9h1.6M431.7 371.2h1.6M404.3 372.1h1.6M427.7 368.6h1.6M401.5 376h1.6M427.1 373.2h1.6M411.9 376.6h1.6M412.6 372.2h1.6M396.2 371.5h1.6M397.3 365.3h1.6M418.9 385.3h1.6M409.6 382h1.6M416.8 372h1.6M425.7 365.1h1.6M399.2 370h1.6M399.3 363.1h1.6M432.6 371h1.6M405.6 360.6h1.6M410.9 368.7h1.6M414.1 368.4h1.6M428.3 372.8h1.6M432.1 366.2h1.6M427.3 376.7h1.6M426.1 373.8h1.6M404.7 370.7h1.6M419.5 367.1h1.6M416.8 373.7h1.6M408.5 365.5h1.6M425.5 375.8h1.6M407.8 361.9h1.6M402.6 374.9h1.6M417.8 363.8h1.6M400.2 370.2h1.6M430 373h1.6M398.6 376.8h1.6M419.4 367.2h1.6M416.5 367.4h1.6M419.6 371.4h1.6M403.4 362.6h1.6M431.8 378.7h1.6M418.8 359.3h1.6M429.5 376.9h1.6M417.4 375.7h1.6M417.8 374.2h1.6M430 374.8h1.6M429.2 369.9h1.6M430.8 360h1.6M402.7 367.1h1.6M416.2 381.7h1.6M413.1 380.2h1.6M422.5 362.4h1.6M396 377h1.6M397.8 378.5h1.6M426.4 368.6h1.6M422.5 376.3h1.6M399.9 366.3h1.6M420.8 368.1h1.6M430 372.5h1.6M416.3 377.7h1.6M425.1 370.8h1.6M430.3 367.9h1.6M395.6 374.4h1.6M404.2 366.4h1.6M401.4 372.4h1.6M427.5 372.5h1.6M396.7 374h1.6M398.3 377.4h1.6M416.3 374.7h1.6M418.9 361h1.6M402.7 373.2h1.6M398.7 371.6h1.6M426.8 369.8h1.6M396.4 380.8h1.6M427.4 368.4h1.6M396.9 367.4h1.6M403 372.5h1.6M402 374.3h1.6M397.5 366.5h1.6M398.6 376.9h1.6M422.8 374.4h1.6M396.6 362.5h1.6M397 370.2h1.6M426.7 366.8h1.6M401.5 370.3h1.6M406.5 366.8h1.6M406.4 381.6h1.6M396.4 375h1.6M426 362h1.6M412 363.8h1.6M396.7 363.5h1.6M417.4 372h1.6M421.7 379.7h1.6M405.4 362h1.6M404.3 373.3h1.6M414.3 364h1.6M413.8 371.2h1.6M422.9 366.6h1.6M415.2 372.9h1.6M426.3 366.9h1.6M426 371.1h1.6M426.7 370.7h1.6M426.3 378.7h1.6M427.7 370.3h1.6M401.4 374.1h1.6M398 368.3h1.6M420.8 380.9h1.6M421.8 366.8h1.6M424.1 372.2h1.6M432.3 374h1.6M428.1 360.6h1.6M419.7 370.2h1.6M417.7 373.3h1.6M424.2 363.3h1.6M421.1 372.8h1.6M403.1 372h1.6M415 377.8h1.6M400.3 377h1.6M402.4 376.5h1.6M402.2 354h1.6M408.7 358h1.6M412.7 357h1.6M427.2 388h1.6" stroke="#f00" stroke-width="1.5" fill="none"/></g>
<path d="M18.5 18.5H217.5V203.3H18.5ZM18.5 104.3H217.5" fill="none" stroke="#5c5c5c" stroke-width="1.4"/>
<path d="M25.2 18.5v1.6M25.2 102.7v3.2M25.2 203.3v-1.6M42.3 18.5v2.6M42.3 101.7v5.2M42.3 203.3v-2.6M59.4 18.5v1.6M59.4 102.7v3.2M59.4 203.3v-1.6M76.6 18.5v2.6M76.6 101.7v5.2M76.6 203.3v-2.6M93.8 18.5v1.6M93.8 102.7v3.2M93.8 203.3v-1.6M110.9 18.5v2.6M110.9 101.7v5.2M110.9 203.3v-2.6M128 18.5v1.6M128 102.7v3.2M128 203.3v-1.6M145.2 18.5v2.6M145.2 101.7v5.2M145.2 203.3v-2.6M162.3 18.5v1.6M162.3 102.7v3.2M162.3 203.3v-1.6M179.5 18.5v2.6M179.5 101.7v5.2M179.5 203.3v-2.6M196.6 18.5v1.6M196.6 102.7v3.2M196.6 203.3v-1.6M213.8 18.5v2.6M213.8 101.7v5.2M213.8 203.3v-2.6M18.5 98.1h1.6M217.5 98.1h-1.6M18.5 92.2h1.6M217.5 92.2h-1.6M18.5 86.3h2.6M217.5 86.3h-2.6M18.5 80.4h1.6M217.5 80.4h-1.6M18.5 74.5h1.6M217.5 74.5h-1.6M18.5 68.6h1.6M217.5 68.6h-1.6M18.5 62.7h1.6M217.5 62.7h-1.6M18.5 56.8h2.6M217.5 56.8h-2.6M18.5 51h1.6M217.5 51h-1.6M18.5 45.1h1.6M217.5 45.1h-1.6M18.5 39.2h1.6M217.5 39.2h-1.6M18.5 33.3h1.6M217.5 33.3h-1.6M18.5 27.4h2.6M217.5 27.4h-2.6M18.5 21.5h1.6M217.5 21.5h-1.6M18.5 202.8h1.6M217.5 202.8h-1.6M18.5 197.4h1.6M217.5 197.4h-1.6M18.5 192h1.6M217.5 192h-1.6M18.5 186.6h1.6M217.5 186.6h-1.6M18.5 181.2h2.6M217.5 181.2h-2.6M18.5 175.8h1.6M217.5 175.8h-1.6M18.5 170.4h1.6M217.5 170.4h-1.6M18.5 165h1.6M217.5 165h-1.6M18.5 159.6h1.6M217.5 159.6h-1.6M18.5 154.2h2.6M217.5 154.2h-2.6M18.5 148.8h1.6M217.5 148.8h-1.6M18.5 143.4h1.6M217.5 143.4h-1.6M18.5 138h1.6M217.5 138h-1.6M18.5 132.6h1.6M217.5 132.6h-1.6M18.5 127.2h2.6M217.5 127.2h-2.6M18.5 121.8h1.6M217.5 121.8h-1.6M18.5 116.4h1.6M217.5 116.4h-1.6M18.5 111h1.6M217.5 111h-1.6M18.5 105.6h1.6M217.5 105.6h-1.6" fill="none" stroke="#333" stroke-width="0.9"/>
<text x="42.3" y="211.2" text-anchor="middle" font-size="7">−6</text>
<text x="76.6" y="211.2" text-anchor="middle" font-size="7">−4</text>
<text x="110.9" y="211.2" text-anchor="middle" font-size="7">−2</text>
<text x="145.2" y="211.2" text-anchor="middle" font-size="7">0</text>
<text x="179.5" y="211.2" text-anchor="middle" font-size="7">2</text>
<text x="213.8" y="211.2" text-anchor="middle" font-size="7">4</text>
<text x="96" y="223.2" textLength="28.4" lengthAdjust="spacing" font-size="6.6">Longitude</text>
<text x="128.3" y="223.2" text-anchor="middle">[</text>
<text x="134" y="223.2" text-anchor="middle">°</text>
<text x="139.9" y="223.2" text-anchor="middle">]</text>
<text transform="translate(15.2,86.3) rotate(-90)" text-anchor="middle" font-size="7">0</text>
<text transform="translate(15.2,56.8) rotate(-90)" text-anchor="middle" font-size="7">1000</text>
<text transform="translate(15.2,27.4) rotate(-90)" text-anchor="middle" font-size="7">2000</text>
<text transform="translate(15.2,181.2) rotate(-90)" text-anchor="middle" font-size="7">−50</text>
<text transform="translate(15.2,154.2) rotate(-90)" text-anchor="middle" font-size="7">0</text>
<text transform="translate(15.2,127.2) rotate(-90)" text-anchor="middle" font-size="7">50</text>
<text transform="translate(5.3,82) rotate(-90)" x="0" y="0" textLength="41.2" lengthAdjust="spacing" font-size="6.3">Stokes I, L, V</text>
<text transform="translate(5.3,177.3) rotate(-90)" x="0" y="0" textLength="36.9" lengthAdjust="spacing" font-size="6.3">Position Angle</text>
<text transform="translate(5.3,136.5) rotate(-90)" text-anchor="middle">[</text>
<text transform="translate(5.3,131.5) rotate(-90)" text-anchor="middle">°</text>
<text transform="translate(5.3,125) rotate(-90)" text-anchor="middle">]</text>
<text x="10" y="7.2" textLength="37.5" lengthAdjust="spacing" font-size="6.6">J1503+2111</text>
<text x="53.8" y="7.2" textLength="22.6" lengthAdjust="spacing" font-size="6.6">Arecibo</text>
<text x="82.1" y="7.2" textLength="39" lengthAdjust="spacing" font-size="6.6">1220.42 MHz</text>
<text x="126.9" y="7.2" textLength="23.9" lengthAdjust="spacing" font-size="6.6">3.314 s</text>
<text x="159.6" y="7.2" textLength="10.8" lengthAdjust="spacing" font-size="6.6">RM:</text>
<text x="179.5" y="7.2" textLength="38.6" lengthAdjust="spacing" font-size="6.6">16.000 rad m</text>
<text x="218.7" y="3.9" font-size="5" textLength="7.6" lengthAdjust="spacingAndGlyphs">−2</text>
<path d="M282.5 18.5H481.5V203.3H282.5ZM282.5 104.3H481.5" fill="none" stroke="#5c5c5c" stroke-width="1.4"/>
<path d="M283.7 18.5v1.6M283.7 102.7v3.2M283.7 203.3v-1.6M297.2 18.5v1.6M297.2 102.7v3.2M297.2 203.3v-1.6M310.7 18.5v1.6M310.7 102.7v3.2M310.7 203.3v-1.6M324.2 18.5v2.6M324.2 101.7v5.2M324.2 203.3v-2.6M337.7 18.5v1.6M337.7 102.7v3.2M337.7 203.3v-1.6M351.2 18.5v1.6M351.2 102.7v3.2M351.2 203.3v-1.6M364.7 18.5v1.6M364.7 102.7v3.2M364.7 203.3v-1.6M378.2 18.5v1.6M378.2 102.7v3.2M378.2 203.3v-1.6M391.7 18.5v2.6M391.7 101.7v5.2M391.7 203.3v-2.6M405.2 18.5v1.6M405.2 102.7v3.2M405.2 203.3v-1.6M418.7 18.5v1.6M418.7 102.7v3.2M418.7 203.3v-1.6M432.2 18.5v1.6M432.2 102.7v3.2M432.2 203.3v-1.6M445.7 18.5v1.6M445.7 102.7v3.2M445.7 203.3v-1.6M459.2 18.5v2.6M459.2 101.7v5.2M459.2 203.3v-2.6M472.7 18.5v1.6M472.7 102.7v3.2M472.7 203.3v-1.6M282.5 103h1.6M481.5 103h-1.6M282.5 92.3h2.6M481.5 92.3h-2.6M282.5 81.6h1.6M481.5 81.6h-1.6M282.5 70.9h2.6M481.5 70.9h-2.6M282.5 60.2h1.6M481.5 60.2h-1.6M282.5 49.5h2.6M481.5 49.5h-2.6M282.5 38.8h1.6M481.5 38.8h-1.6M282.5 28.1h2.6M481.5 28.1h-2.6M282.5 202.6h1.6M481.5 202.6h-1.6M282.5 197.2h1.6M481.5 197.2h-1.6M282.5 191.8h1.6M481.5 191.8h-1.6M282.5 186.4h1.6M481.5 186.4h-1.6M282.5 181h2.6M481.5 181h-2.6M282.5 175.6h1.6M481.5 175.6h-1.6M282.5 170.2h1.6M481.5 170.2h-1.6M282.5 164.8h1.6M481.5 164.8h-1.6M282.5 159.4h1.6M481.5 159.4h-1.6M282.5 154h2.6M481.5 154h-2.6M282.5 148.6h1.6M481.5 148.6h-1.6M282.5 143.2h1.6M481.5 143.2h-1.6M282.5 137.8h1.6M481.5 137.8h-1.6M282.5 132.4h1.6M481.5 132.4h-1.6M282.5 127h2.6M481.5 127h-2.6M282.5 121.6h1.6M481.5 121.6h-1.6M282.5 116.2h1.6M481.5 116.2h-1.6M282.5 110.8h1.6M481.5 110.8h-1.6M282.5 105.4h1.6M481.5 105.4h-1.6" fill="none" stroke="#333" stroke-width="0.9"/>
<text x="324.2" y="211.2" text-anchor="middle" font-size="7">−50</text>
<text x="391.7" y="211.2" text-anchor="middle" font-size="7">0</text>
<text x="459.2" y="211.2" text-anchor="middle" font-size="7">50</text>
<text x="359.9" y="223.2" textLength="28.4" lengthAdjust="spacing" font-size="6.6">Longitude</text>
<text x="392.3" y="223.2" text-anchor="middle">[</text>
<text x="398" y="223.2" text-anchor="middle">°</text>
<text x="403.9" y="223.2" text-anchor="middle">]</text>
<text transform="translate(279.2,92.3) rotate(-90)" text-anchor="middle" font-size="7">0</text>
<text transform="translate(279.2,70.9) rotate(-90)" text-anchor="middle" font-size="7">2000</text>
<text transform="translate(279.2,49.5) rotate(-90)" text-anchor="middle" font-size="7">4000</text>
<text transform="translate(279.2,28.1) rotate(-90)" text-anchor="middle" font-size="7">6000</text>
<text transform="translate(279.2,181) rotate(-90)" text-anchor="middle" font-size="7">−50</text>
<text transform="translate(279.2,154) rotate(-90)" text-anchor="middle" font-size="7">0</text>
<text transform="translate(279.2,127) rotate(-90)" text-anchor="middle" font-size="7">50</text>
<text transform="translate(269.3,82) rotate(-90)" x="0" y="0" textLength="41.2" lengthAdjust="spacing" font-size="6.3">Stokes I, L, V</text>
<text transform="translate(269.3,177.3) rotate(-90)" x="0" y="0" textLength="36.9" lengthAdjust="spacing" font-size="6.3">Position Angle</text>
<text transform="translate(269.3,136.5) rotate(-90)" text-anchor="middle">[</text>
<text transform="translate(269.3,131.5) rotate(-90)" text-anchor="middle">°</text>
<text transform="translate(269.3,125) rotate(-90)" text-anchor="middle">]</text>
<text x="273.6" y="7.2" textLength="31.6" lengthAdjust="spacing" font-size="6.6">B1534+12</text>
<text x="316.8" y="7.2" textLength="22.7" lengthAdjust="spacing" font-size="6.6">Arecibo</text>
<text x="345.8" y="7.2" textLength="38.5" lengthAdjust="spacing" font-size="6.6">1663.01 MHz</text>
<text x="390.4" y="7.2" textLength="24" lengthAdjust="spacing" font-size="6.6">0.038 s</text>
<text x="422.6" y="7.2" textLength="10.5" lengthAdjust="spacing" font-size="6.6">RM:</text>
<text x="442.5" y="7.2" textLength="40.9" lengthAdjust="spacing" font-size="6.6">10.600 rad m</text>
<text x="484.1" y="3.9" font-size="5" textLength="7.6" lengthAdjust="spacingAndGlyphs">−2</text>
<path d="M18.5 254.5H217.5V438.6H18.5ZM18.5 340.1H217.5" fill="none" stroke="#5c5c5c" stroke-width="1.4"/>
<path d="M24.7 254.5v1.6M24.7 338.5v3.2M24.7 438.6v-1.6M35.2 254.5v1.6M35.2 338.5v3.2M35.2 438.6v-1.6M45.7 254.5v1.6M45.7 338.5v3.2M45.7 438.6v-1.6M56.2 254.5v2.6M56.2 337.5v5.2M56.2 438.6v-2.6M66.6 254.5v1.6M66.6 338.5v3.2M66.6 438.6v-1.6M77.1 254.5v1.6M77.1 338.5v3.2M77.1 438.6v-1.6M87.6 254.5v1.6M87.6 338.5v3.2M87.6 438.6v-1.6M98 254.5v1.6M98 338.5v3.2M98 438.6v-1.6M108.5 254.5v2.6M108.5 337.5v5.2M108.5 438.6v-2.6M119 254.5v1.6M119 338.5v3.2M119 438.6v-1.6M129.4 254.5v1.6M129.4 338.5v3.2M129.4 438.6v-1.6M139.9 254.5v1.6M139.9 338.5v3.2M139.9 438.6v-1.6M150.4 254.5v1.6M150.4 338.5v3.2M150.4 438.6v-1.6M160.8 254.5v2.6M160.8 337.5v5.2M160.8 438.6v-2.6M171.3 254.5v1.6M171.3 338.5v3.2M171.3 438.6v-1.6M181.8 254.5v1.6M181.8 338.5v3.2M181.8 438.6v-1.6M192.3 254.5v1.6M192.3 338.5v3.2M192.3 438.6v-1.6M202.7 254.5v1.6M202.7 338.5v3.2M202.7 438.6v-1.6M213.2 254.5v2.6M213.2 337.5v5.2M213.2 438.6v-2.6M18.5 338.7h1.6M217.5 338.7h-1.6M18.5 333.4h1.6M217.5 333.4h-1.6M18.5 328.1h2.6M217.5 328.1h-2.6M18.5 322.8h1.6M217.5 322.8h-1.6M18.5 317.5h1.6M217.5 317.5h-1.6M18.5 312.3h1.6M217.5 312.3h-1.6M18.5 307h1.6M217.5 307h-1.6M18.5 301.7h2.6M217.5 301.7h-2.6M18.5 296.4h1.6M217.5 296.4h-1.6M18.5 291.1h1.6M217.5 291.1h-1.6M18.5 285.9h1.6M217.5 285.9h-1.6M18.5 280.6h1.6M217.5 280.6h-1.6M18.5 275.3h2.6M217.5 275.3h-2.6M18.5 270h1.6M217.5 270h-1.6M18.5 264.7h1.6M217.5 264.7h-1.6M18.5 259.5h1.6M217.5 259.5h-1.6M18.5 433h1.6M217.5 433h-1.6M18.5 427.6h1.6M217.5 427.6h-1.6M18.5 422.2h1.6M217.5 422.2h-1.6M18.5 416.8h2.6M217.5 416.8h-2.6M18.5 411.4h1.6M217.5 411.4h-1.6M18.5 406h1.6M217.5 406h-1.6M18.5 400.6h1.6M217.5 400.6h-1.6M18.5 395.2h1.6M217.5 395.2h-1.6M18.5 389.8h2.6M217.5 389.8h-2.6M18.5 384.4h1.6M217.5 384.4h-1.6M18.5 379h1.6M217.5 379h-1.6M18.5 373.6h1.6M217.5 373.6h-1.6M18.5 368.2h1.6M217.5 368.2h-1.6M18.5 362.8h2.6M217.5 362.8h-2.6M18.5 357.4h1.6M217.5 357.4h-1.6M18.5 352h1.6M217.5 352h-1.6M18.5 346.6h1.6M217.5 346.6h-1.6M18.5 341.2h1.6M217.5 341.2h-1.6" fill="none" stroke="#333" stroke-width="0.9"/>
<text x="56.2" y="447" text-anchor="middle" font-size="7">−50</text>
<text x="108.5" y="447" text-anchor="middle" font-size="7">0</text>
<text x="160.8" y="447" text-anchor="middle" font-size="7">50</text>
<text x="213.2" y="447" text-anchor="middle" font-size="7">100</text>
<text x="96" y="459" textLength="28.4" lengthAdjust="spacing" font-size="6.6">Longitude</text>
<text x="128.3" y="459" text-anchor="middle">[</text>
<text x="134" y="459" text-anchor="middle">°</text>
<text x="139.9" y="459" text-anchor="middle">]</text>
<text transform="translate(15.2,328.1) rotate(-90)" text-anchor="middle" font-size="7">0</text>
<text transform="translate(15.2,301.7) rotate(-90)" text-anchor="middle" font-size="7">5000</text>
<text transform="translate(15.2,272.8) rotate(-90)" text-anchor="middle" font-size="7">10<tspan dy="-2.6" font-size="4.8">4</tspan></text>
<text transform="translate(15.2,416.8) rotate(-90)" text-anchor="middle" font-size="7">−50</text>
<text transform="translate(15.2,389.8) rotate(-90)" text-anchor="middle" font-size="7">0</text>
<text transform="translate(15.2,362.8) rotate(-90)" text-anchor="middle" font-size="7">50</text>
<text transform="translate(5.3,317.9) rotate(-90)" x="0" y="0" textLength="41.2" lengthAdjust="spacing" font-size="6.3">Stokes I, L, V</text>
<text transform="translate(5.3,413.2) rotate(-90)" x="0" y="0" textLength="36.9" lengthAdjust="spacing" font-size="6.3">Position Angle</text>
<text transform="translate(5.3,372.3) rotate(-90)" text-anchor="middle">[</text>
<text transform="translate(5.3,367.3) rotate(-90)" text-anchor="middle">°</text>
<text transform="translate(5.3,360.8) rotate(-90)" text-anchor="middle">]</text>
<text x="10.1" y="243" textLength="38.5" lengthAdjust="spacing" font-size="6.6">J1713+0747</text>
<text x="53.5" y="243" textLength="23" lengthAdjust="spacing" font-size="6.6">Arecibo</text>
<text x="84.6" y="243" textLength="35.7" lengthAdjust="spacing" font-size="6.6">600.00 MHz</text>
<text x="126.1" y="243" textLength="24" lengthAdjust="spacing" font-size="6.6">0.005 s</text>
<text x="158.8" y="243" textLength="11.3" lengthAdjust="spacing" font-size="6.6">RM:</text>
<text x="175.5" y="243" textLength="42.6" lengthAdjust="spacing" font-size="6.6">200.000 rad m</text>
<text x="218.7" y="239.7" font-size="5" textLength="7.6" lengthAdjust="spacingAndGlyphs">−2</text>
<path d="M282.5 254.5H481.5V438.6H282.5ZM282.5 340.1H481.5" fill="none" stroke="#5c5c5c" stroke-width="1.4"/>
<path d="M284.6 254.5v2.6M284.6 337.5v5.2M284.6 438.6v-2.6M293.9 254.5v1.6M293.9 338.5v3.2M293.9 438.6v-1.6M303.2 254.5v1.6M303.2 338.5v3.2M303.2 438.6v-1.6M312.4 254.5v1.6M312.4 338.5v3.2M312.4 438.6v-1.6M321.7 254.5v1.6M321.7 338.5v3.2M321.7 438.6v-1.6M331 254.5v2.6M331 337.5v5.2M331 438.6v-2.6M340.3 254.5v1.6M340.3 338.5v3.2M340.3 438.6v-1.6M349.6 254.5v1.6M349.6 338.5v3.2M349.6 438.6v-1.6M358.8 254.5v1.6M358.8 338.5v3.2M358.8 438.6v-1.6M368.1 254.5v1.6M368.1 338.5v3.2M368.1 438.6v-1.6M377.4 254.5v2.6M377.4 337.5v5.2M377.4 438.6v-2.6M386.7 254.5v1.6M386.7 338.5v3.2M386.7 438.6v-1.6M396 254.5v1.6M396 338.5v3.2M396 438.6v-1.6M405.2 254.5v1.6M405.2 338.5v3.2M405.2 438.6v-1.6M414.5 254.5v1.6M414.5 338.5v3.2M414.5 438.6v-1.6M423.8 254.5v2.6M423.8 337.5v5.2M423.8 438.6v-2.6M433.1 254.5v1.6M433.1 338.5v3.2M433.1 438.6v-1.6M442.4 254.5v1.6M442.4 338.5v3.2M442.4 438.6v-1.6M451.6 254.5v1.6M451.6 338.5v3.2M451.6 438.6v-1.6M460.9 254.5v1.6M460.9 338.5v3.2M460.9 438.6v-1.6M470.2 254.5v2.6M470.2 337.5v5.2M470.2 438.6v-2.6M479.5 254.5v1.6M479.5 338.5v3.2M479.5 438.6v-1.6M282.5 333.2h1.6M481.5 333.2h-1.6M282.5 324.8h1.6M481.5 324.8h-1.6M282.5 316.5h2.6M481.5 316.5h-2.6M282.5 308.2h1.6M481.5 308.2h-1.6M282.5 299.8h1.6M481.5 299.8h-1.6M282.5 291.5h1.6M481.5 291.5h-1.6M282.5 283.1h1.6M481.5 283.1h-1.6M282.5 274.8h2.6M481.5 274.8h-2.6M282.5 266.5h1.6M481.5 266.5h-1.6M282.5 258.1h1.6M481.5 258.1h-1.6M282.5 432.8h1.6M481.5 432.8h-1.6M282.5 427.4h1.6M481.5 427.4h-1.6M282.5 422h1.6M481.5 422h-1.6M282.5 416.6h2.6M481.5 416.6h-2.6M282.5 411.2h1.6M481.5 411.2h-1.6M282.5 405.8h1.6M481.5 405.8h-1.6M282.5 400.4h1.6M481.5 400.4h-1.6M282.5 395h1.6M481.5 395h-1.6M282.5 389.6h2.6M481.5 389.6h-2.6M282.5 384.2h1.6M481.5 384.2h-1.6M282.5 378.8h1.6M481.5 378.8h-1.6M282.5 373.4h1.6M481.5 373.4h-1.6M282.5 368h1.6M481.5 368h-1.6M282.5 362.6h2.6M481.5 362.6h-2.6M282.5 357.2h1.6M481.5 357.2h-1.6M282.5 351.8h1.6M481.5 351.8h-1.6M282.5 346.4h1.6M481.5 346.4h-1.6M282.5 341h1.6M481.5 341h-1.6" fill="none" stroke="#333" stroke-width="0.9"/>
<text x="284.6" y="447" text-anchor="middle" font-size="7">−5</text>
<text x="331" y="447" text-anchor="middle" font-size="7">0</text>
<text x="377.4" y="447" text-anchor="middle" font-size="7">5</text>
<text x="423.8" y="447" text-anchor="middle" font-size="7">10</text>
<text x="470.2" y="447" text-anchor="middle" font-size="7">15</text>
<text x="359.9" y="459" textLength="28.4" lengthAdjust="spacing" font-size="6.6">Longitude</text>
<text x="392.3" y="459" text-anchor="middle">[</text>
<text x="398" y="459" text-anchor="middle">°</text>
<text x="403.9" y="459" text-anchor="middle">]</text>
<text transform="translate(279.2,316.5) rotate(-90)" text-anchor="middle" font-size="7">0</text>
<text transform="translate(279.2,274.8) rotate(-90)" text-anchor="middle" font-size="7">5000</text>
<text transform="translate(279.2,416.6) rotate(-90)" text-anchor="middle" font-size="7">−50</text>
<text transform="translate(279.2,389.6) rotate(-90)" text-anchor="middle" font-size="7">0</text>
<text transform="translate(279.2,362.6) rotate(-90)" text-anchor="middle" font-size="7">50</text>
<text transform="translate(269.3,317.9) rotate(-90)" x="0" y="0" textLength="41.2" lengthAdjust="spacing" font-size="6.3">Stokes I, L, V</text>
<text transform="translate(269.3,413.2) rotate(-90)" x="0" y="0" textLength="36.9" lengthAdjust="spacing" font-size="6.3">Position Angle</text>
<text transform="translate(269.3,372.3) rotate(-90)" text-anchor="middle">[</text>
<text transform="translate(269.3,367.3) rotate(-90)" text-anchor="middle">°</text>
<text transform="translate(269.3,360.8) rotate(-90)" text-anchor="middle">]</text>
<text x="272.8" y="243" textLength="39" lengthAdjust="spacing" font-size="6.6">J1720+2150</text>
<text x="316.8" y="243" textLength="22.7" lengthAdjust="spacing" font-size="6.6">Arecibo</text>
<text x="345.3" y="243" textLength="39" lengthAdjust="spacing" font-size="6.6">1220.54 MHz</text>
<text x="390.9" y="243" textLength="23.5" lengthAdjust="spacing" font-size="6.6">1.616 s</text>
<text x="422.6" y="243" textLength="10.5" lengthAdjust="spacing" font-size="6.6">RM:</text>
<text x="441.8" y="243" textLength="41.7" lengthAdjust="spacing" font-size="6.6">48.000 rad m</text>
<text x="484.1" y="239.7" font-size="5" textLength="7.6" lengthAdjust="spacingAndGlyphs">−2</text>
</svg>
</body></html>
